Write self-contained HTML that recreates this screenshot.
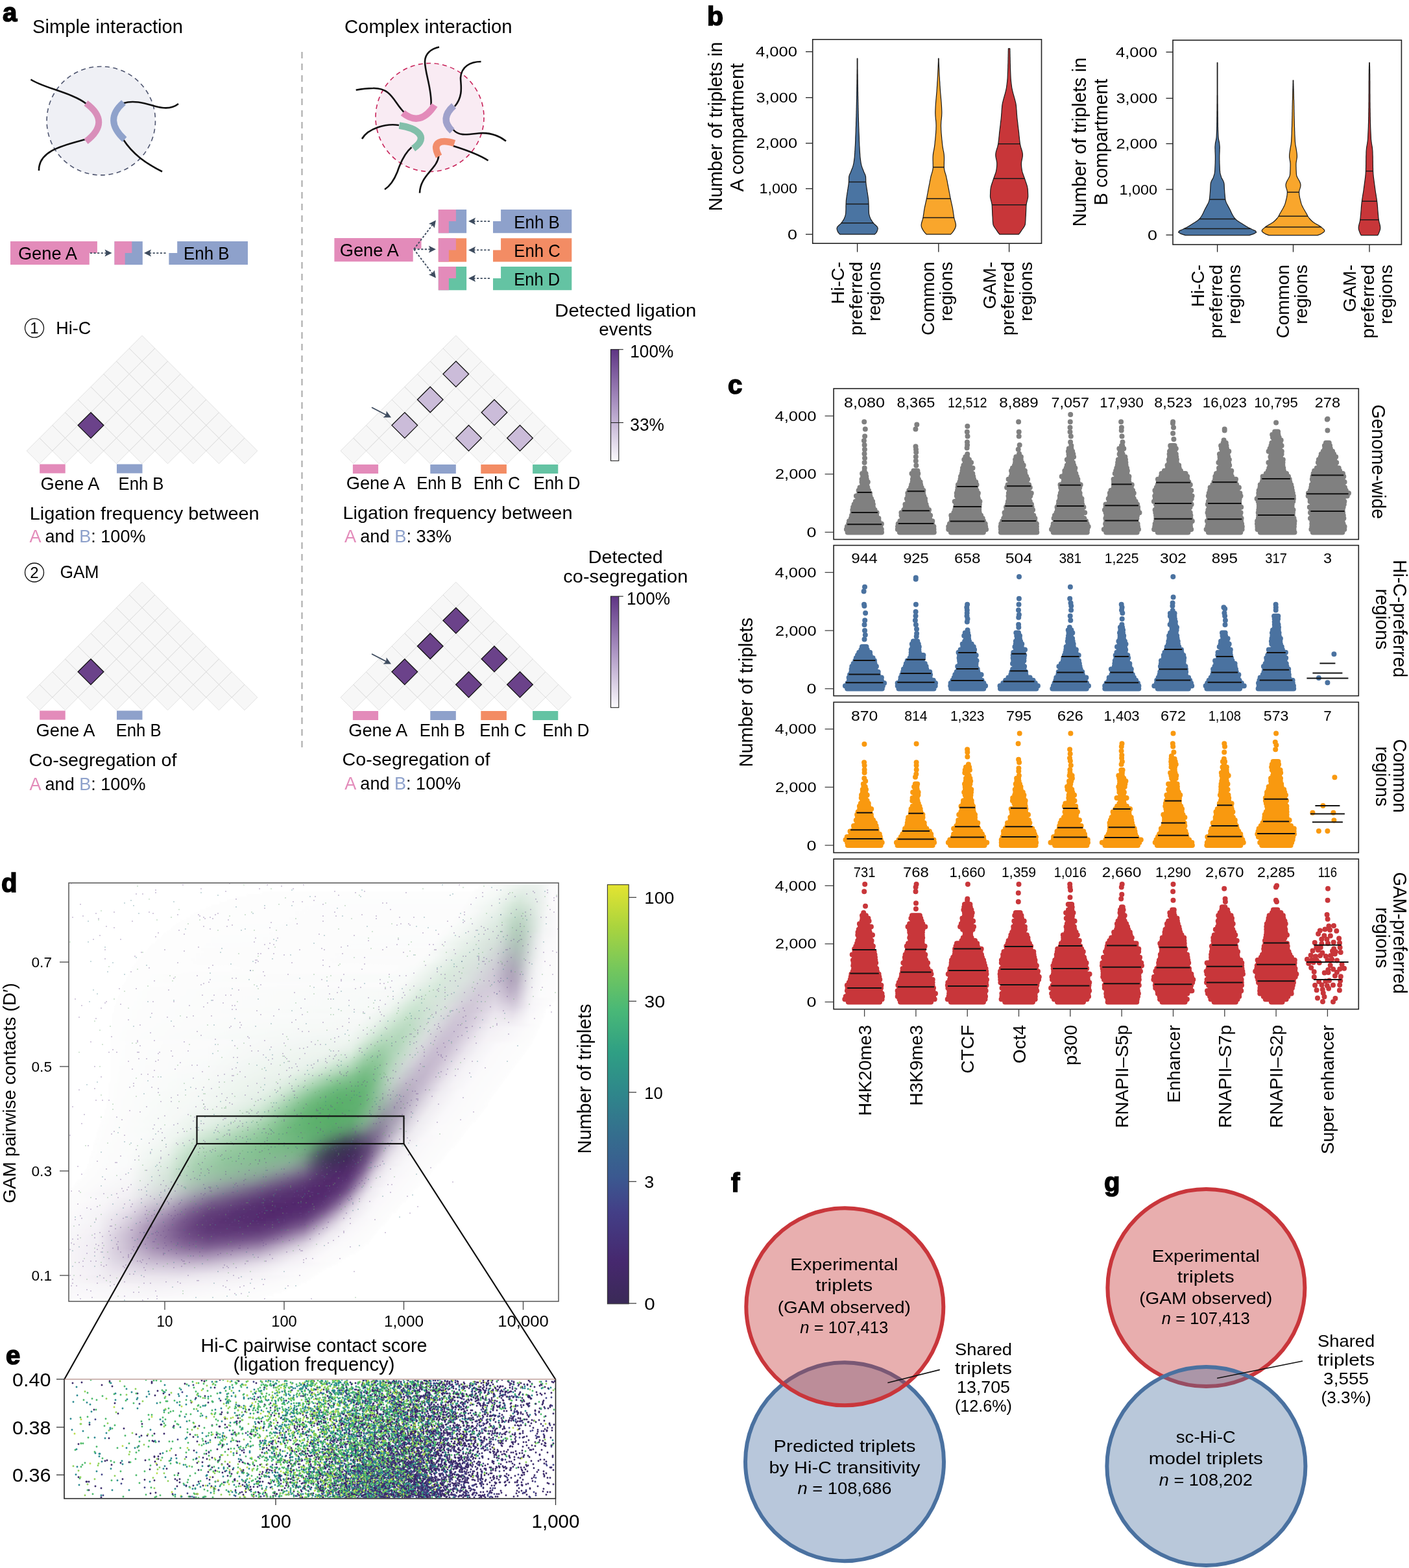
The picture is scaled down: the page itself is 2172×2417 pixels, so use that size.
<!DOCTYPE html><html><head><meta charset="utf-8"><title>Figure</title><style>html,body{margin:0;padding:0;background:#fff;overflow:hidden;width:2172px;height:2417px;}svg{display:block;}</style></head><body><svg width="2172" height="2417" viewBox="0 0 2172 2417" font-family="'Liberation Sans', Arial, sans-serif"><defs><filter id="bl" x="-2%" y="-2%" width="104%" height="104%"><feGaussianBlur stdDeviation="1.5"/></filter><clipPath id="cpd"><rect x="107" y="1362" width="753" height="643"/></clipPath><linearGradient id="d0"><stop offset="0.013" stop-color="#fdfdfd"/><stop offset="0.588" stop-color="#eaf2ed"/><stop offset="0.762" stop-color="#edf3ef"/><stop offset="0.912" stop-color="#fbfafb"/><stop offset="0.988" stop-color="#fcfbfc"/></linearGradient><linearGradient id="d1"><stop offset="0.012" stop-color="#fdfdfd"/><stop offset="0.256" stop-color="#f7faf8"/><stop offset="0.573" stop-color="#e8f1ea"/><stop offset="0.744" stop-color="#ebf1ed"/><stop offset="0.915" stop-color="#fbfafb"/><stop offset="0.988" stop-color="#fcfbfc"/></linearGradient><linearGradient id="d2"><stop offset="0.012" stop-color="#fdfdfd"/><stop offset="0.267" stop-color="#f7f9f8"/><stop offset="0.500" stop-color="#e7f1ea"/><stop offset="0.593" stop-color="#e5efe8"/><stop offset="0.756" stop-color="#e9f0ec"/><stop offset="0.919" stop-color="#fafafb"/><stop offset="0.988" stop-color="#fbfbfc"/></linearGradient><linearGradient id="d3"><stop offset="0.003" stop-color="#fdfdfd"/><stop offset="0.707" stop-color="#fdfdfd"/><stop offset="0.793" stop-color="#f5f9f6"/><stop offset="0.878" stop-color="#e2ede5"/><stop offset="0.931" stop-color="#e8efeb"/><stop offset="0.977" stop-color="#faf9fb"/><stop offset="0.997" stop-color="#fbfafc"/></linearGradient><linearGradient id="d4"><stop offset="0.003" stop-color="#fdfdfd"/><stop offset="0.716" stop-color="#fdfdfd"/><stop offset="0.803" stop-color="#f4f8f5"/><stop offset="0.859" stop-color="#e2eee5"/><stop offset="0.884" stop-color="#deebe2"/><stop offset="0.934" stop-color="#e7efea"/><stop offset="0.978" stop-color="#faf9fb"/><stop offset="0.997" stop-color="#fbfafc"/></linearGradient><linearGradient id="d5"><stop offset="0.003" stop-color="#fdfdfd"/><stop offset="0.720" stop-color="#fdfdfd"/><stop offset="0.804" stop-color="#f3f8f5"/><stop offset="0.864" stop-color="#deece2"/><stop offset="0.889" stop-color="#dbe9df"/><stop offset="0.937" stop-color="#e6eee9"/><stop offset="0.979" stop-color="#faf9fb"/><stop offset="0.997" stop-color="#fbfafc"/></linearGradient><linearGradient id="d6"><stop offset="0.003" stop-color="#fdfdfd"/><stop offset="0.726" stop-color="#fcfdfd"/><stop offset="0.815" stop-color="#f0f6f2"/><stop offset="0.885" stop-color="#d7e8dc"/><stop offset="0.938" stop-color="#e5ede8"/><stop offset="0.979" stop-color="#faf9fb"/><stop offset="0.997" stop-color="#fbfafc"/></linearGradient><linearGradient id="d7"><stop offset="0.003" stop-color="#fdfdfd"/><stop offset="0.727" stop-color="#fcfdfd"/><stop offset="0.819" stop-color="#eef5f0"/><stop offset="0.871" stop-color="#d7e8db"/><stop offset="0.888" stop-color="#d4e5d8"/><stop offset="0.940" stop-color="#e4ece7"/><stop offset="0.980" stop-color="#faf9fa"/><stop offset="0.997" stop-color="#fbfafb"/></linearGradient><linearGradient id="d8"><stop offset="0.003" stop-color="#fdfdfd"/><stop offset="0.728" stop-color="#fcfcfd"/><stop offset="0.823" stop-color="#ecf4ee"/><stop offset="0.874" stop-color="#d3e6d8"/><stop offset="0.890" stop-color="#d0e3d5"/><stop offset="0.913" stop-color="#d6e5da"/><stop offset="0.980" stop-color="#faf9fa"/><stop offset="0.997" stop-color="#fbfafb"/></linearGradient><linearGradient id="d9"><stop offset="0.003" stop-color="#fdfdfd"/><stop offset="0.727" stop-color="#fcfcfd"/><stop offset="0.820" stop-color="#ecf3ee"/><stop offset="0.876" stop-color="#cfe3d5"/><stop offset="0.892" stop-color="#cce1d2"/><stop offset="0.914" stop-color="#d3e3d8"/><stop offset="0.975" stop-color="#f7f7f8"/><stop offset="0.997" stop-color="#fbfafb"/></linearGradient><linearGradient id="d10"><stop offset="0.003" stop-color="#fdfdfd"/><stop offset="0.726" stop-color="#fcfcfc"/><stop offset="0.769" stop-color="#f7f9f8"/><stop offset="0.823" stop-color="#eaf2ec"/><stop offset="0.845" stop-color="#e1ede4"/><stop offset="0.878" stop-color="#cce1d1"/><stop offset="0.894" stop-color="#c8decf"/><stop offset="0.916" stop-color="#d1e1d6"/><stop offset="0.965" stop-color="#f2f5f4"/><stop offset="0.981" stop-color="#faf9fa"/><stop offset="0.997" stop-color="#fbfafb"/></linearGradient><linearGradient id="d11"><stop offset="0.003" stop-color="#fdfdfd"/><stop offset="0.725" stop-color="#fcfcfc"/><stop offset="0.767" stop-color="#f7f9f8"/><stop offset="0.826" stop-color="#e7f1ea"/><stop offset="0.848" stop-color="#deebe2"/><stop offset="0.880" stop-color="#c8dfce"/><stop offset="0.896" stop-color="#c5dccb"/><stop offset="0.912" stop-color="#cbded1"/><stop offset="0.965" stop-color="#f3f5f4"/><stop offset="0.997" stop-color="#fbf9fb"/></linearGradient><linearGradient id="d12"><stop offset="0.003" stop-color="#fdfdfd"/><stop offset="0.722" stop-color="#fcfcfc"/><stop offset="0.765" stop-color="#f6f9f7"/><stop offset="0.833" stop-color="#e3eee7"/><stop offset="0.892" stop-color="#c2dac9"/><stop offset="0.913" stop-color="#c9dccf"/><stop offset="0.966" stop-color="#f3f5f5"/><stop offset="0.997" stop-color="#fbf9fb"/></linearGradient><linearGradient id="d13"><stop offset="0.003" stop-color="#fdfdfd"/><stop offset="0.720" stop-color="#fcfcfc"/><stop offset="0.767" stop-color="#f5f8f6"/><stop offset="0.835" stop-color="#e1ede5"/><stop offset="0.877" stop-color="#c5dccb"/><stop offset="0.893" stop-color="#bfd8c6"/><stop offset="0.914" stop-color="#c6dacd"/><stop offset="0.966" stop-color="#f3f5f5"/><stop offset="0.997" stop-color="#faf9fb"/></linearGradient><linearGradient id="d14"><stop offset="0.003" stop-color="#fdfdfd"/><stop offset="0.719" stop-color="#fcfcfc"/><stop offset="0.765" stop-color="#f5f8f6"/><stop offset="0.838" stop-color="#dfebe3"/><stop offset="0.879" stop-color="#c2dac9"/><stop offset="0.894" stop-color="#bcd5c3"/><stop offset="0.915" stop-color="#c4d8cb"/><stop offset="0.966" stop-color="#f4f5f5"/><stop offset="0.997" stop-color="#faf9fb"/></linearGradient><linearGradient id="d15"><stop offset="0.003" stop-color="#fdfdfd"/><stop offset="0.717" stop-color="#fcfcfc"/><stop offset="0.763" stop-color="#f4f8f6"/><stop offset="0.839" stop-color="#ddeae1"/><stop offset="0.855" stop-color="#d5e5da"/><stop offset="0.880" stop-color="#c0d8c7"/><stop offset="0.895" stop-color="#b9d3c1"/><stop offset="0.911" stop-color="#bfd5c6"/><stop offset="0.967" stop-color="#f4f6f6"/><stop offset="0.997" stop-color="#faf9fb"/></linearGradient><linearGradient id="d16"><stop offset="0.003" stop-color="#fdfdfd"/><stop offset="0.715" stop-color="#fbfcfc"/><stop offset="0.765" stop-color="#f3f7f4"/><stop offset="0.841" stop-color="#dbe9df"/><stop offset="0.856" stop-color="#d3e3d8"/><stop offset="0.881" stop-color="#bdd5c5"/><stop offset="0.896" stop-color="#b7d1bf"/><stop offset="0.912" stop-color="#bdd3c5"/><stop offset="0.967" stop-color="#f5f6f6"/><stop offset="0.997" stop-color="#faf9fb"/></linearGradient><linearGradient id="d17"><stop offset="0.003" stop-color="#fdfdfd"/><stop offset="0.706" stop-color="#fcfcfc"/><stop offset="0.761" stop-color="#f2f7f4"/><stop offset="0.842" stop-color="#dae7de"/><stop offset="0.857" stop-color="#d1e1d7"/><stop offset="0.882" stop-color="#bbd3c3"/><stop offset="0.897" stop-color="#b5cfbd"/><stop offset="0.912" stop-color="#bcd2c3"/><stop offset="0.962" stop-color="#f2f3f4"/><stop offset="0.997" stop-color="#faf9fb"/></linearGradient><linearGradient id="d18"><stop offset="0.002" stop-color="#fdfdfd"/><stop offset="0.704" stop-color="#fcfcfc"/><stop offset="0.754" stop-color="#f3f7f4"/><stop offset="0.843" stop-color="#d8e5dd"/><stop offset="0.858" stop-color="#d0dfd5"/><stop offset="0.883" stop-color="#b9d1c1"/><stop offset="0.898" stop-color="#b3cdbc"/><stop offset="0.913" stop-color="#bbd0c3"/><stop offset="0.963" stop-color="#f2f4f4"/><stop offset="0.998" stop-color="#fbf9fb"/></linearGradient><linearGradient id="d19"><stop offset="0.002" stop-color="#fdfdfd"/><stop offset="0.702" stop-color="#fcfcfc"/><stop offset="0.746" stop-color="#f4f8f5"/><stop offset="0.840" stop-color="#d9e6dd"/><stop offset="0.860" stop-color="#ceddd4"/><stop offset="0.884" stop-color="#b8cec0"/><stop offset="0.899" stop-color="#b2cbbb"/><stop offset="0.914" stop-color="#bacfc2"/><stop offset="0.943" stop-color="#e0e6e4"/><stop offset="0.963" stop-color="#f3f4f5"/><stop offset="0.998" stop-color="#fbf9fb"/></linearGradient><linearGradient id="d20"><stop offset="0.002" stop-color="#fdfdfd"/><stop offset="0.699" stop-color="#fbfcfc"/><stop offset="0.767" stop-color="#ecf4ee"/><stop offset="0.841" stop-color="#d7e4dc"/><stop offset="0.860" stop-color="#cddbd3"/><stop offset="0.885" stop-color="#b6ccbf"/><stop offset="0.900" stop-color="#b1c9ba"/><stop offset="0.914" stop-color="#bacec2"/><stop offset="0.944" stop-color="#e1e6e5"/><stop offset="0.963" stop-color="#f4f4f5"/><stop offset="0.998" stop-color="#fbfafb"/></linearGradient><linearGradient id="d21"><stop offset="0.002" stop-color="#fdfdfd"/><stop offset="0.697" stop-color="#fbfcfc"/><stop offset="0.774" stop-color="#e9f2eb"/><stop offset="0.842" stop-color="#d6e2db"/><stop offset="0.862" stop-color="#cbd8d1"/><stop offset="0.886" stop-color="#b5c9be"/><stop offset="0.900" stop-color="#b0c7ba"/><stop offset="0.915" stop-color="#bacdc2"/><stop offset="0.944" stop-color="#e2e7e6"/><stop offset="0.959" stop-color="#f1f2f3"/><stop offset="0.968" stop-color="#f7f7f8"/><stop offset="0.998" stop-color="#fbfafb"/></linearGradient><linearGradient id="d22"><stop offset="0.002" stop-color="#fdfdfd"/><stop offset="0.693" stop-color="#fbfcfc"/><stop offset="0.775" stop-color="#e6f0e9"/><stop offset="0.843" stop-color="#d5e1da"/><stop offset="0.857" stop-color="#cdd9d4"/><stop offset="0.882" stop-color="#b8c9c1"/><stop offset="0.901" stop-color="#b0c5b9"/><stop offset="0.915" stop-color="#baccc2"/><stop offset="0.944" stop-color="#e3e8e7"/><stop offset="0.959" stop-color="#f1f2f3"/><stop offset="0.969" stop-color="#f7f7f8"/><stop offset="0.998" stop-color="#fbfafb"/></linearGradient><linearGradient id="d23"><stop offset="0.002" stop-color="#fdfdfd"/><stop offset="0.691" stop-color="#fbfbfc"/><stop offset="0.778" stop-color="#e4efe7"/><stop offset="0.844" stop-color="#d4dfd9"/><stop offset="0.859" stop-color="#ccd6d3"/><stop offset="0.883" stop-color="#b7c6c0"/><stop offset="0.897" stop-color="#afc2b9"/><stop offset="0.911" stop-color="#b6c8be"/><stop offset="0.945" stop-color="#e4e8e8"/><stop offset="0.959" stop-color="#f2f3f4"/><stop offset="0.969" stop-color="#f8f8f9"/><stop offset="0.998" stop-color="#fbfafb"/></linearGradient><linearGradient id="d24"><stop offset="0.002" stop-color="#fdfdfd"/><stop offset="0.683" stop-color="#fbfcfc"/><stop offset="0.717" stop-color="#f6f9f7"/><stop offset="0.779" stop-color="#e2eee6"/><stop offset="0.840" stop-color="#d5dfda"/><stop offset="0.860" stop-color="#cbd4d2"/><stop offset="0.883" stop-color="#b6c3bf"/><stop offset="0.898" stop-color="#afc0b9"/><stop offset="0.912" stop-color="#b6c7bf"/><stop offset="0.945" stop-color="#e6e9e9"/><stop offset="0.960" stop-color="#f3f4f5"/><stop offset="0.969" stop-color="#f8f8f9"/><stop offset="0.998" stop-color="#fbfafc"/></linearGradient><linearGradient id="d25"><stop offset="0.002" stop-color="#fdfdfd"/><stop offset="0.685" stop-color="#fbfbfb"/><stop offset="0.799" stop-color="#dce9e0"/><stop offset="0.841" stop-color="#d4ddd9"/><stop offset="0.860" stop-color="#cad1d1"/><stop offset="0.879" stop-color="#b9c2c2"/><stop offset="0.898" stop-color="#afbeb9"/><stop offset="0.912" stop-color="#b7c6c0"/><stop offset="0.941" stop-color="#e1e6e5"/><stop offset="0.955" stop-color="#f0f1f2"/><stop offset="0.969" stop-color="#f8f8f9"/><stop offset="0.998" stop-color="#fbfafc"/></linearGradient><linearGradient id="d26"><stop offset="0.002" stop-color="#fdfdfd"/><stop offset="0.682" stop-color="#fbfbfb"/><stop offset="0.767" stop-color="#e2eee5"/><stop offset="0.823" stop-color="#d8e3dd"/><stop offset="0.851" stop-color="#cfd5d5"/><stop offset="0.880" stop-color="#b7bfc1"/><stop offset="0.899" stop-color="#afbbb9"/><stop offset="0.913" stop-color="#b8c5c1"/><stop offset="0.941" stop-color="#e2e7e6"/><stop offset="0.955" stop-color="#f1f2f3"/><stop offset="0.969" stop-color="#f9f8fa"/><stop offset="0.998" stop-color="#fbfafc"/></linearGradient><linearGradient id="d27"><stop offset="0.002" stop-color="#fdfdfd"/><stop offset="0.675" stop-color="#fbfbfb"/><stop offset="0.708" stop-color="#f5f8f6"/><stop offset="0.764" stop-color="#e1ede4"/><stop offset="0.820" stop-color="#d8e3dd"/><stop offset="0.853" stop-color="#ced3d5"/><stop offset="0.881" stop-color="#b6bbc0"/><stop offset="0.895" stop-color="#afb7b9"/><stop offset="0.909" stop-color="#b4bfbd"/><stop offset="0.942" stop-color="#e4e8e7"/><stop offset="0.956" stop-color="#f2f3f4"/><stop offset="0.970" stop-color="#f9f9fa"/><stop offset="0.998" stop-color="#fbfafc"/></linearGradient><linearGradient id="d28"><stop offset="0.002" stop-color="#fdfdfd"/><stop offset="0.667" stop-color="#fbfbfc"/><stop offset="0.700" stop-color="#f6f9f7"/><stop offset="0.760" stop-color="#e0ede3"/><stop offset="0.816" stop-color="#d8e3dd"/><stop offset="0.849" stop-color="#d0d4d6"/><stop offset="0.881" stop-color="#b5b8bf"/><stop offset="0.895" stop-color="#aeb5b9"/><stop offset="0.909" stop-color="#b4bebe"/><stop offset="0.937" stop-color="#dfe4e3"/><stop offset="0.956" stop-color="#f3f3f5"/><stop offset="0.970" stop-color="#f9f9fa"/><stop offset="0.998" stop-color="#fbfafc"/></linearGradient><linearGradient id="d29"><stop offset="0.002" stop-color="#fdfdfd"/><stop offset="0.664" stop-color="#fbfbfb"/><stop offset="0.697" stop-color="#f6f9f7"/><stop offset="0.757" stop-color="#dfece3"/><stop offset="0.817" stop-color="#d8e1dd"/><stop offset="0.850" stop-color="#cfd1d6"/><stop offset="0.882" stop-color="#b4b4be"/><stop offset="0.896" stop-color="#aeb2b9"/><stop offset="0.910" stop-color="#b5bcbf"/><stop offset="0.938" stop-color="#e1e5e5"/><stop offset="0.951" stop-color="#f1f1f2"/><stop offset="0.970" stop-color="#faf9fa"/><stop offset="0.998" stop-color="#fbfbfc"/></linearGradient><linearGradient id="d30"><stop offset="0.002" stop-color="#fdfdfd"/><stop offset="0.661" stop-color="#fbfbfb"/><stop offset="0.698" stop-color="#f4f8f5"/><stop offset="0.753" stop-color="#deece2"/><stop offset="0.813" stop-color="#d8e1dd"/><stop offset="0.850" stop-color="#cecfd5"/><stop offset="0.882" stop-color="#b3b1be"/><stop offset="0.896" stop-color="#aeafb9"/><stop offset="0.910" stop-color="#b6bbc0"/><stop offset="0.933" stop-color="#dcdfe0"/><stop offset="0.947" stop-color="#eeeff0"/><stop offset="0.965" stop-color="#f9f8fa"/><stop offset="0.998" stop-color="#fcfbfc"/></linearGradient><linearGradient id="d31"><stop offset="0.002" stop-color="#fdfdfd"/><stop offset="0.622" stop-color="#fcfcfc"/><stop offset="0.672" stop-color="#f9faf9"/><stop offset="0.755" stop-color="#dcebe0"/><stop offset="0.814" stop-color="#d8dfdd"/><stop offset="0.851" stop-color="#cecdd5"/><stop offset="0.878" stop-color="#b6b2c0"/><stop offset="0.892" stop-color="#aeacb9"/><stop offset="0.901" stop-color="#afb0ba"/><stop offset="0.911" stop-color="#b7bac1"/><stop offset="0.933" stop-color="#dde0e2"/><stop offset="0.947" stop-color="#eff0f1"/><stop offset="0.966" stop-color="#f9f9fa"/><stop offset="0.998" stop-color="#fcfbfc"/></linearGradient><linearGradient id="d32"><stop offset="0.002" stop-color="#fdfdfd"/><stop offset="0.619" stop-color="#fcfcfc"/><stop offset="0.669" stop-color="#f8faf9"/><stop offset="0.751" stop-color="#dcebdf"/><stop offset="0.811" stop-color="#d8dfdd"/><stop offset="0.852" stop-color="#cdcbd4"/><stop offset="0.879" stop-color="#b5afc0"/><stop offset="0.893" stop-color="#aea9b9"/><stop offset="0.902" stop-color="#b0aebb"/><stop offset="0.911" stop-color="#b9bac2"/><stop offset="0.934" stop-color="#dfe1e3"/><stop offset="0.947" stop-color="#f0f1f2"/><stop offset="0.966" stop-color="#f9f9fa"/><stop offset="0.998" stop-color="#fcfbfc"/></linearGradient><linearGradient id="d33"><stop offset="0.002" stop-color="#fdfdfd"/><stop offset="0.614" stop-color="#fcfcfc"/><stop offset="0.664" stop-color="#f8faf9"/><stop offset="0.747" stop-color="#dbeadf"/><stop offset="0.806" stop-color="#d8dfdd"/><stop offset="0.847" stop-color="#cfcdd6"/><stop offset="0.879" stop-color="#b5adc0"/><stop offset="0.893" stop-color="#aea7b9"/><stop offset="0.906" stop-color="#b4b2bf"/><stop offset="0.934" stop-color="#e1e2e5"/><stop offset="0.947" stop-color="#f1f1f3"/><stop offset="0.966" stop-color="#faf9fb"/><stop offset="0.998" stop-color="#fcfbfc"/></linearGradient><linearGradient id="d34"><stop offset="0.002" stop-color="#fdfdfd"/><stop offset="0.611" stop-color="#fcfbfc"/><stop offset="0.661" stop-color="#f8faf9"/><stop offset="0.743" stop-color="#daeade"/><stop offset="0.802" stop-color="#d8dfdd"/><stop offset="0.848" stop-color="#cfcbd6"/><stop offset="0.880" stop-color="#b5acc0"/><stop offset="0.893" stop-color="#aea6ba"/><stop offset="0.907" stop-color="#b5b1c0"/><stop offset="0.934" stop-color="#e2e3e6"/><stop offset="0.948" stop-color="#f2f2f4"/><stop offset="0.966" stop-color="#faf9fb"/><stop offset="0.998" stop-color="#fcfbfc"/></linearGradient><linearGradient id="d35"><stop offset="0.002" stop-color="#fdfdfd"/><stop offset="0.654" stop-color="#f8faf9"/><stop offset="0.740" stop-color="#d9e9dd"/><stop offset="0.794" stop-color="#d9e1de"/><stop offset="0.848" stop-color="#cfcad6"/><stop offset="0.880" stop-color="#b5abc0"/><stop offset="0.894" stop-color="#afa5ba"/><stop offset="0.907" stop-color="#b7b1c1"/><stop offset="0.930" stop-color="#dddde2"/><stop offset="0.943" stop-color="#efeff1"/><stop offset="0.962" stop-color="#f9f9fa"/><stop offset="0.998" stop-color="#fcfbfd"/></linearGradient><linearGradient id="d36"><stop offset="0.002" stop-color="#fdfdfd"/><stop offset="0.651" stop-color="#f8faf9"/><stop offset="0.736" stop-color="#d9e9dd"/><stop offset="0.791" stop-color="#d9e1de"/><stop offset="0.849" stop-color="#cfc9d6"/><stop offset="0.881" stop-color="#b6abc1"/><stop offset="0.894" stop-color="#b0a5bb"/><stop offset="0.908" stop-color="#b9b2c3"/><stop offset="0.930" stop-color="#dfdee3"/><stop offset="0.944" stop-color="#f0f0f2"/><stop offset="0.962" stop-color="#faf9fb"/><stop offset="0.998" stop-color="#fcfcfd"/></linearGradient><linearGradient id="d37"><stop offset="0.002" stop-color="#fdfdfd"/><stop offset="0.646" stop-color="#f8faf9"/><stop offset="0.732" stop-color="#d8e9dc"/><stop offset="0.786" stop-color="#d9e1de"/><stop offset="0.849" stop-color="#d0c9d6"/><stop offset="0.890" stop-color="#b2a6bd"/><stop offset="0.899" stop-color="#b3a8be"/><stop offset="0.908" stop-color="#bbb3c4"/><stop offset="0.930" stop-color="#e1dfe5"/><stop offset="0.944" stop-color="#f1f1f3"/><stop offset="0.962" stop-color="#faf9fb"/><stop offset="0.998" stop-color="#fcfcfd"/></linearGradient><linearGradient id="d38"><stop offset="0.002" stop-color="#fdfdfd"/><stop offset="0.594" stop-color="#fbfbfc"/><stop offset="0.643" stop-color="#f8f9f8"/><stop offset="0.724" stop-color="#d8e9dc"/><stop offset="0.783" stop-color="#d9e0de"/><stop offset="0.854" stop-color="#cfc7d6"/><stop offset="0.890" stop-color="#b4a7bf"/><stop offset="0.904" stop-color="#b8aec2"/><stop offset="0.930" stop-color="#e2e0e6"/><stop offset="0.944" stop-color="#f2f2f4"/><stop offset="0.962" stop-color="#fafafb"/><stop offset="0.998" stop-color="#fcfcfd"/></linearGradient><linearGradient id="d39"><stop offset="0.002" stop-color="#fdfdfd"/><stop offset="0.587" stop-color="#fbfbfb"/><stop offset="0.641" stop-color="#f7f9f8"/><stop offset="0.721" stop-color="#d7e9dc"/><stop offset="0.779" stop-color="#d9e0de"/><stop offset="0.819" stop-color="#d3cfd9"/><stop offset="0.855" stop-color="#d0c8d7"/><stop offset="0.891" stop-color="#b7aac1"/><stop offset="0.904" stop-color="#bbb0c5"/><stop offset="0.931" stop-color="#e4e2e8"/><stop offset="0.944" stop-color="#f3f2f5"/><stop offset="0.962" stop-color="#fbfafb"/><stop offset="0.998" stop-color="#fdfcfd"/></linearGradient><linearGradient id="d40"><stop offset="0.002" stop-color="#fdfdfd"/><stop offset="0.632" stop-color="#f8f9f9"/><stop offset="0.690" stop-color="#dfede2"/><stop offset="0.721" stop-color="#d6e8da"/><stop offset="0.766" stop-color="#d9e3dd"/><stop offset="0.815" stop-color="#d3cfd9"/><stop offset="0.850" stop-color="#d3cad9"/><stop offset="0.864" stop-color="#cdc4d5"/><stop offset="0.891" stop-color="#baadc4"/><stop offset="0.904" stop-color="#beb3c8"/><stop offset="0.931" stop-color="#e6e3ea"/><stop offset="0.944" stop-color="#f4f3f6"/><stop offset="0.962" stop-color="#fbfafc"/><stop offset="0.998" stop-color="#fdfcfd"/></linearGradient><linearGradient id="d41"><stop offset="0.002" stop-color="#fdfdfd"/><stop offset="0.629" stop-color="#f7f9f8"/><stop offset="0.651" stop-color="#f0f6f2"/><stop offset="0.687" stop-color="#ddece0"/><stop offset="0.718" stop-color="#d5e7d9"/><stop offset="0.767" stop-color="#d9e1de"/><stop offset="0.820" stop-color="#d2ccd9"/><stop offset="0.856" stop-color="#d3cbda"/><stop offset="0.891" stop-color="#bdb0c7"/><stop offset="0.904" stop-color="#c1b7cb"/><stop offset="0.931" stop-color="#e8e5eb"/><stop offset="0.944" stop-color="#f5f4f6"/><stop offset="0.962" stop-color="#fbfbfc"/><stop offset="0.998" stop-color="#fdfcfd"/></linearGradient><linearGradient id="d42"><stop offset="0.002" stop-color="#fdfdfd"/><stop offset="0.620" stop-color="#f8f9f8"/><stop offset="0.647" stop-color="#eff6f1"/><stop offset="0.691" stop-color="#d8eadc"/><stop offset="0.722" stop-color="#d3e6d8"/><stop offset="0.758" stop-color="#d8e2dd"/><stop offset="0.816" stop-color="#d2cbd8"/><stop offset="0.856" stop-color="#d6cddc"/><stop offset="0.891" stop-color="#c1b5ca"/><stop offset="0.904" stop-color="#c5bbce"/><stop offset="0.931" stop-color="#eae7ed"/><stop offset="0.944" stop-color="#f6f5f7"/><stop offset="0.962" stop-color="#fbfbfc"/><stop offset="0.998" stop-color="#fdfcfd"/></linearGradient><linearGradient id="d43"><stop offset="0.002" stop-color="#fdfdfd"/><stop offset="0.617" stop-color="#f7f9f8"/><stop offset="0.644" stop-color="#eff5f1"/><stop offset="0.692" stop-color="#d5e8d9"/><stop offset="0.723" stop-color="#d3e5d8"/><stop offset="0.754" stop-color="#d8e2dd"/><stop offset="0.812" stop-color="#d1cbd8"/><stop offset="0.856" stop-color="#d8d0de"/><stop offset="0.892" stop-color="#c5b9ce"/><stop offset="0.905" stop-color="#c9bfd1"/><stop offset="0.931" stop-color="#ebe9ee"/><stop offset="0.945" stop-color="#f7f5f8"/><stop offset="0.962" stop-color="#fcfbfc"/><stop offset="0.998" stop-color="#fdfcfd"/></linearGradient><linearGradient id="d44"><stop offset="0.002" stop-color="#fdfdfd"/><stop offset="0.608" stop-color="#f7f9f8"/><stop offset="0.635" stop-color="#f0f6f2"/><stop offset="0.688" stop-color="#d3e7d7"/><stop offset="0.750" stop-color="#d8e2dd"/><stop offset="0.812" stop-color="#d1c9d8"/><stop offset="0.856" stop-color="#dad3e0"/><stop offset="0.892" stop-color="#cabfd2"/><stop offset="0.905" stop-color="#cec4d5"/><stop offset="0.931" stop-color="#edebf0"/><stop offset="0.945" stop-color="#f7f6f8"/><stop offset="0.998" stop-color="#fdfdfd"/></linearGradient><linearGradient id="d45"><stop offset="0.002" stop-color="#fdfdfd"/><stop offset="0.607" stop-color="#f7f9f8"/><stop offset="0.638" stop-color="#eff5f1"/><stop offset="0.678" stop-color="#d6e9da"/><stop offset="0.696" stop-color="#d0e6d5"/><stop offset="0.753" stop-color="#d8e2dc"/><stop offset="0.816" stop-color="#d1c9d8"/><stop offset="0.864" stop-color="#ddd6e2"/><stop offset="0.900" stop-color="#cfc4d6"/><stop offset="0.913" stop-color="#d2c9d9"/><stop offset="0.940" stop-color="#efecf1"/><stop offset="0.953" stop-color="#f8f7f9"/><stop offset="0.998" stop-color="#fdfdfd"/></linearGradient><linearGradient id="d46"><stop offset="0.002" stop-color="#fdfdfd"/><stop offset="0.605" stop-color="#f7f9f8"/><stop offset="0.636" stop-color="#eef5f0"/><stop offset="0.676" stop-color="#d4e8d9"/><stop offset="0.694" stop-color="#cee5d3"/><stop offset="0.752" stop-color="#d8e2dc"/><stop offset="0.775" stop-color="#d8d9dd"/><stop offset="0.801" stop-color="#d2cbd8"/><stop offset="0.819" stop-color="#d1c8d7"/><stop offset="0.868" stop-color="#e0d9e5"/><stop offset="0.908" stop-color="#d3cada"/><stop offset="0.917" stop-color="#d7cfdd"/><stop offset="0.953" stop-color="#f7f5f8"/><stop offset="0.998" stop-color="#fdfdfd"/></linearGradient><linearGradient id="d47"><stop offset="0.002" stop-color="#fdfdfd"/><stop offset="0.600" stop-color="#f7f9f8"/><stop offset="0.632" stop-color="#eff5f1"/><stop offset="0.676" stop-color="#d3e7d7"/><stop offset="0.694" stop-color="#cbe4d1"/><stop offset="0.752" stop-color="#d7e2dc"/><stop offset="0.775" stop-color="#d8d9dd"/><stop offset="0.801" stop-color="#d1cbd8"/><stop offset="0.819" stop-color="#d0c7d7"/><stop offset="0.873" stop-color="#e3dce7"/><stop offset="0.913" stop-color="#d8d0de"/><stop offset="0.922" stop-color="#dbd4e1"/><stop offset="0.958" stop-color="#f8f6f9"/><stop offset="0.998" stop-color="#fdfdfd"/></linearGradient><linearGradient id="d48"><stop offset="0.002" stop-color="#fdfdfd"/><stop offset="0.601" stop-color="#f6f9f7"/><stop offset="0.637" stop-color="#ecf4ee"/><stop offset="0.678" stop-color="#d1e7d6"/><stop offset="0.696" stop-color="#c9e3cf"/><stop offset="0.755" stop-color="#d7e2dc"/><stop offset="0.777" stop-color="#d8d9dd"/><stop offset="0.804" stop-color="#d1cad8"/><stop offset="0.822" stop-color="#d0c7d7"/><stop offset="0.840" stop-color="#d4cbdb"/><stop offset="0.881" stop-color="#e5dfe9"/><stop offset="0.917" stop-color="#ddd5e2"/><stop offset="0.926" stop-color="#ded7e3"/><stop offset="0.962" stop-color="#f6f5f8"/><stop offset="0.998" stop-color="#fdfdfd"/></linearGradient><linearGradient id="d49"><stop offset="0.002" stop-color="#fdfdfd"/><stop offset="0.597" stop-color="#f6f8f7"/><stop offset="0.637" stop-color="#e9f2eb"/><stop offset="0.673" stop-color="#cfe6d4"/><stop offset="0.691" stop-color="#c7e2cd"/><stop offset="0.705" stop-color="#c7e1cd"/><stop offset="0.750" stop-color="#d7e2dc"/><stop offset="0.773" stop-color="#d8d9dd"/><stop offset="0.800" stop-color="#d1cad7"/><stop offset="0.818" stop-color="#cfc6d6"/><stop offset="0.836" stop-color="#d4cada"/><stop offset="0.881" stop-color="#e8e3eb"/><stop offset="0.926" stop-color="#e2dce7"/><stop offset="0.962" stop-color="#f7f6f9"/><stop offset="0.998" stop-color="#fdfdfd"/></linearGradient><linearGradient id="d50"><stop offset="0.002" stop-color="#fdfdfd"/><stop offset="0.583" stop-color="#f7f9f8"/><stop offset="0.624" stop-color="#edf4ef"/><stop offset="0.678" stop-color="#cbe4d0"/><stop offset="0.696" stop-color="#c5e0cb"/><stop offset="0.709" stop-color="#c7e0cd"/><stop offset="0.732" stop-color="#d2e3d7"/><stop offset="0.759" stop-color="#d8dfdd"/><stop offset="0.800" stop-color="#d0c9d7"/><stop offset="0.822" stop-color="#cfc6d6"/><stop offset="0.881" stop-color="#e9e4ed"/><stop offset="0.894" stop-color="#ebe6ee"/><stop offset="0.926" stop-color="#e6e0e9"/><stop offset="0.966" stop-color="#f8f7f9"/><stop offset="0.998" stop-color="#fdfdfd"/></linearGradient><linearGradient id="d51"><stop offset="0.002" stop-color="#fdfdfd"/><stop offset="0.579" stop-color="#f7f9f8"/><stop offset="0.619" stop-color="#ecf4ee"/><stop offset="0.673" stop-color="#c9e3ce"/><stop offset="0.691" stop-color="#c3dfc9"/><stop offset="0.709" stop-color="#c6e0cc"/><stop offset="0.732" stop-color="#d3e3d8"/><stop offset="0.755" stop-color="#d8dfdd"/><stop offset="0.795" stop-color="#d0c8d7"/><stop offset="0.818" stop-color="#cfc5d6"/><stop offset="0.836" stop-color="#d5cbdb"/><stop offset="0.881" stop-color="#ebe7ee"/><stop offset="0.926" stop-color="#e9e4ed"/><stop offset="0.966" stop-color="#f9f8fa"/><stop offset="0.998" stop-color="#fdfdfd"/></linearGradient><linearGradient id="d52"><stop offset="0.002" stop-color="#fdfdfd"/><stop offset="0.577" stop-color="#f6f8f7"/><stop offset="0.613" stop-color="#edf4ef"/><stop offset="0.672" stop-color="#c7e2cd"/><stop offset="0.695" stop-color="#c0dec7"/><stop offset="0.749" stop-color="#d7e0dc"/><stop offset="0.794" stop-color="#d0c8d7"/><stop offset="0.817" stop-color="#cec4d6"/><stop offset="0.835" stop-color="#d4cbdb"/><stop offset="0.885" stop-color="#eeeaf0"/><stop offset="0.930" stop-color="#ede9ef"/><stop offset="0.971" stop-color="#faf9fb"/><stop offset="0.998" stop-color="#fdfdfd"/></linearGradient><linearGradient id="d53"><stop offset="0.002" stop-color="#fdfdfd"/><stop offset="0.572" stop-color="#f6f8f7"/><stop offset="0.604" stop-color="#eef5f0"/><stop offset="0.667" stop-color="#c5e1cb"/><stop offset="0.690" stop-color="#beddc5"/><stop offset="0.744" stop-color="#d7e0dc"/><stop offset="0.762" stop-color="#d7d8dd"/><stop offset="0.794" stop-color="#cec5d5"/><stop offset="0.812" stop-color="#cec3d5"/><stop offset="0.830" stop-color="#d4cada"/><stop offset="0.885" stop-color="#efecf2"/><stop offset="0.930" stop-color="#f0ecf2"/><stop offset="0.971" stop-color="#fbfafb"/><stop offset="0.998" stop-color="#fdfdfd"/></linearGradient><linearGradient id="d54"><stop offset="0.002" stop-color="#fdfdfd"/><stop offset="0.570" stop-color="#f5f8f6"/><stop offset="0.602" stop-color="#edf4ef"/><stop offset="0.666" stop-color="#c3e0c9"/><stop offset="0.689" stop-color="#bcdcc3"/><stop offset="0.702" stop-color="#c0ddc7"/><stop offset="0.743" stop-color="#d7e0dc"/><stop offset="0.761" stop-color="#d7d8dc"/><stop offset="0.793" stop-color="#cec5d5"/><stop offset="0.811" stop-color="#cdc3d5"/><stop offset="0.830" stop-color="#d3cada"/><stop offset="0.870" stop-color="#ebe6ee"/><stop offset="0.889" stop-color="#f1eef3"/><stop offset="0.939" stop-color="#f3f0f5"/><stop offset="0.998" stop-color="#fdfdfd"/></linearGradient><linearGradient id="d55"><stop offset="0.002" stop-color="#fdfdfd"/><stop offset="0.563" stop-color="#f5f8f6"/><stop offset="0.600" stop-color="#ecf4ee"/><stop offset="0.663" stop-color="#c1dfc7"/><stop offset="0.686" stop-color="#badbc2"/><stop offset="0.704" stop-color="#c0ddc7"/><stop offset="0.740" stop-color="#d7e0dc"/><stop offset="0.758" stop-color="#d7d8dc"/><stop offset="0.790" stop-color="#cdc4d5"/><stop offset="0.808" stop-color="#cdc2d4"/><stop offset="0.826" stop-color="#d3c9d9"/><stop offset="0.885" stop-color="#f2eff4"/><stop offset="0.998" stop-color="#fdfdfd"/></linearGradient><linearGradient id="d56"><stop offset="0.002" stop-color="#fdfdfd"/><stop offset="0.566" stop-color="#f4f7f5"/><stop offset="0.598" stop-color="#eaf3ed"/><stop offset="0.643" stop-color="#c9e3cf"/><stop offset="0.670" stop-color="#badcc2"/><stop offset="0.684" stop-color="#b8dac0"/><stop offset="0.698" stop-color="#bcdbc3"/><stop offset="0.743" stop-color="#d8dedd"/><stop offset="0.789" stop-color="#cdc4d4"/><stop offset="0.807" stop-color="#ccc1d4"/><stop offset="0.825" stop-color="#d2c8d9"/><stop offset="0.866" stop-color="#eae6ee"/><stop offset="0.889" stop-color="#f3f0f5"/><stop offset="0.998" stop-color="#fdfdfd"/></linearGradient><linearGradient id="d57"><stop offset="0.002" stop-color="#fdfdfd"/><stop offset="0.564" stop-color="#f3f7f5"/><stop offset="0.600" stop-color="#e6f1e9"/><stop offset="0.646" stop-color="#c3e0c9"/><stop offset="0.683" stop-color="#b6d9be"/><stop offset="0.701" stop-color="#bddbc4"/><stop offset="0.742" stop-color="#d7dedc"/><stop offset="0.788" stop-color="#cdc3d4"/><stop offset="0.806" stop-color="#cbc0d3"/><stop offset="0.824" stop-color="#d2c8d9"/><stop offset="0.865" stop-color="#eae6ed"/><stop offset="0.888" stop-color="#f3f1f5"/><stop offset="0.998" stop-color="#fdfdfd"/></linearGradient><linearGradient id="d58"><stop offset="0.002" stop-color="#fdfdfd"/><stop offset="0.564" stop-color="#f2f7f4"/><stop offset="0.596" stop-color="#e5f0e8"/><stop offset="0.642" stop-color="#bfdec6"/><stop offset="0.678" stop-color="#b4d8bc"/><stop offset="0.696" stop-color="#bbdac2"/><stop offset="0.724" stop-color="#cfdfd5"/><stop offset="0.742" stop-color="#d7dcdc"/><stop offset="0.783" stop-color="#ccc3d4"/><stop offset="0.801" stop-color="#cbc0d3"/><stop offset="0.820" stop-color="#d1c7d8"/><stop offset="0.861" stop-color="#eae5ed"/><stop offset="0.884" stop-color="#f3f1f5"/><stop offset="0.998" stop-color="#fdfdfd"/></linearGradient><linearGradient id="d59"><stop offset="0.002" stop-color="#fdfdfd"/><stop offset="0.562" stop-color="#f1f6f3"/><stop offset="0.589" stop-color="#e7f1e9"/><stop offset="0.640" stop-color="#bbddc2"/><stop offset="0.677" stop-color="#b3d8bb"/><stop offset="0.695" stop-color="#b9d9c1"/><stop offset="0.722" stop-color="#cedfd4"/><stop offset="0.741" stop-color="#d7dcdc"/><stop offset="0.782" stop-color="#ccc2d3"/><stop offset="0.800" stop-color="#cabfd2"/><stop offset="0.819" stop-color="#d1c7d8"/><stop offset="0.860" stop-color="#eae5ed"/><stop offset="0.888" stop-color="#f5f2f6"/><stop offset="0.998" stop-color="#fdfdfd"/></linearGradient><linearGradient id="d60"><stop offset="0.002" stop-color="#fdfdfd"/><stop offset="0.265" stop-color="#fafafb"/><stop offset="0.565" stop-color="#eff5f1"/><stop offset="0.592" stop-color="#e2efe5"/><stop offset="0.643" stop-color="#b5d9bc"/><stop offset="0.671" stop-color="#b1d7b9"/><stop offset="0.689" stop-color="#b5d8bd"/><stop offset="0.721" stop-color="#cdded3"/><stop offset="0.740" stop-color="#d6dcdb"/><stop offset="0.753" stop-color="#d5d4db"/><stop offset="0.781" stop-color="#cbc2d3"/><stop offset="0.800" stop-color="#cabfd2"/><stop offset="0.818" stop-color="#d0c6d7"/><stop offset="0.859" stop-color="#eae5ed"/><stop offset="0.887" stop-color="#f5f2f6"/><stop offset="0.998" stop-color="#fdfdfd"/></linearGradient><linearGradient id="d61"><stop offset="0.002" stop-color="#fdfdfd"/><stop offset="0.260" stop-color="#fafafb"/><stop offset="0.555" stop-color="#eef5f0"/><stop offset="0.583" stop-color="#e4f0e7"/><stop offset="0.634" stop-color="#b4d9bb"/><stop offset="0.652" stop-color="#add6b6"/><stop offset="0.684" stop-color="#b3d7bb"/><stop offset="0.717" stop-color="#ccded2"/><stop offset="0.735" stop-color="#d5dbdb"/><stop offset="0.749" stop-color="#d5d4db"/><stop offset="0.776" stop-color="#cbc1d3"/><stop offset="0.795" stop-color="#c9bed2"/><stop offset="0.813" stop-color="#d0c5d7"/><stop offset="0.855" stop-color="#eae5ed"/><stop offset="0.882" stop-color="#f4f2f6"/><stop offset="0.915" stop-color="#f9f8fa"/><stop offset="0.998" stop-color="#fdfdfd"/></linearGradient><linearGradient id="d62"><stop offset="0.002" stop-color="#fdfdfd"/><stop offset="0.257" stop-color="#fafafa"/><stop offset="0.544" stop-color="#eef4f0"/><stop offset="0.576" stop-color="#e6f1e9"/><stop offset="0.632" stop-color="#b0d7b8"/><stop offset="0.650" stop-color="#a8d3b1"/><stop offset="0.683" stop-color="#b1d6b9"/><stop offset="0.715" stop-color="#cbddd1"/><stop offset="0.734" stop-color="#d5dbda"/><stop offset="0.748" stop-color="#d5d4db"/><stop offset="0.775" stop-color="#cbc1d2"/><stop offset="0.794" stop-color="#c9bdd1"/><stop offset="0.812" stop-color="#cfc5d7"/><stop offset="0.854" stop-color="#eae5ed"/><stop offset="0.882" stop-color="#f4f2f6"/><stop offset="0.919" stop-color="#faf9fb"/><stop offset="0.998" stop-color="#fdfdfd"/></linearGradient><linearGradient id="d63"><stop offset="0.002" stop-color="#fdfdfd"/><stop offset="0.253" stop-color="#fafafa"/><stop offset="0.533" stop-color="#edf4ef"/><stop offset="0.574" stop-color="#e5f0e8"/><stop offset="0.588" stop-color="#daebde"/><stop offset="0.630" stop-color="#acd6b5"/><stop offset="0.649" stop-color="#a4d1ad"/><stop offset="0.681" stop-color="#afd5b8"/><stop offset="0.714" stop-color="#c9dccf"/><stop offset="0.733" stop-color="#d4dbd9"/><stop offset="0.747" stop-color="#d4d3da"/><stop offset="0.774" stop-color="#cac0d2"/><stop offset="0.793" stop-color="#c8bdd1"/><stop offset="0.812" stop-color="#cfc4d6"/><stop offset="0.853" stop-color="#e9e5ed"/><stop offset="0.881" stop-color="#f4f2f6"/><stop offset="0.919" stop-color="#faf9fb"/><stop offset="0.998" stop-color="#fdfdfd"/></linearGradient><linearGradient id="d64"><stop offset="0.002" stop-color="#fdfdfd"/><stop offset="0.250" stop-color="#f9fafa"/><stop offset="0.526" stop-color="#ecf4ef"/><stop offset="0.577" stop-color="#e0eee3"/><stop offset="0.624" stop-color="#add6b5"/><stop offset="0.647" stop-color="#9fcfa9"/><stop offset="0.657" stop-color="#a0cfaa"/><stop offset="0.685" stop-color="#b0d5b9"/><stop offset="0.713" stop-color="#c8dcce"/><stop offset="0.731" stop-color="#d3dad9"/><stop offset="0.745" stop-color="#d4d3da"/><stop offset="0.773" stop-color="#cac0d2"/><stop offset="0.792" stop-color="#c8bcd0"/><stop offset="0.811" stop-color="#cec3d6"/><stop offset="0.853" stop-color="#e9e4ed"/><stop offset="0.881" stop-color="#f4f2f6"/><stop offset="0.918" stop-color="#faf9fb"/><stop offset="0.998" stop-color="#fdfdfd"/></linearGradient><linearGradient id="d65"><stop offset="0.002" stop-color="#fdfdfd"/><stop offset="0.251" stop-color="#f9fafa"/><stop offset="0.519" stop-color="#ecf3ee"/><stop offset="0.580" stop-color="#daebde"/><stop offset="0.622" stop-color="#a9d4b2"/><stop offset="0.636" stop-color="#9ecfa8"/><stop offset="0.650" stop-color="#9bcda5"/><stop offset="0.664" stop-color="#a0cfaa"/><stop offset="0.707" stop-color="#c3dbc9"/><stop offset="0.730" stop-color="#d2dad8"/><stop offset="0.744" stop-color="#d3d3d9"/><stop offset="0.772" stop-color="#c9c0d1"/><stop offset="0.791" stop-color="#c7bbd0"/><stop offset="0.810" stop-color="#cec3d5"/><stop offset="0.852" stop-color="#e9e4ec"/><stop offset="0.880" stop-color="#f4f2f6"/><stop offset="0.918" stop-color="#faf9fb"/><stop offset="0.998" stop-color="#fdfdfd"/></linearGradient><linearGradient id="d66"><stop offset="0.002" stop-color="#fdfdfd"/><stop offset="0.252" stop-color="#f9fafa"/><stop offset="0.512" stop-color="#ebf3ed"/><stop offset="0.583" stop-color="#d3e8d8"/><stop offset="0.620" stop-color="#a5d2ae"/><stop offset="0.634" stop-color="#9acda5"/><stop offset="0.649" stop-color="#96cba1"/><stop offset="0.663" stop-color="#9bcda6"/><stop offset="0.705" stop-color="#c1dac8"/><stop offset="0.729" stop-color="#d1d9d7"/><stop offset="0.743" stop-color="#d3d3d9"/><stop offset="0.771" stop-color="#c9bfd1"/><stop offset="0.790" stop-color="#c7bbcf"/><stop offset="0.809" stop-color="#cdc2d5"/><stop offset="0.851" stop-color="#e9e4ec"/><stop offset="0.880" stop-color="#f4f2f6"/><stop offset="0.917" stop-color="#faf9fb"/><stop offset="0.998" stop-color="#fdfdfd"/></linearGradient><linearGradient id="d67"><stop offset="0.002" stop-color="#fdfdfd"/><stop offset="0.249" stop-color="#f9faf9"/><stop offset="0.500" stop-color="#eaf3ed"/><stop offset="0.538" stop-color="#e1efe4"/><stop offset="0.581" stop-color="#cfe6d4"/><stop offset="0.618" stop-color="#a1d0ab"/><stop offset="0.633" stop-color="#96cba1"/><stop offset="0.647" stop-color="#92c99d"/><stop offset="0.666" stop-color="#9acca4"/><stop offset="0.704" stop-color="#c0d9c7"/><stop offset="0.727" stop-color="#d0d9d6"/><stop offset="0.742" stop-color="#d2d2d8"/><stop offset="0.770" stop-color="#c9bfd1"/><stop offset="0.789" stop-color="#c6bacf"/><stop offset="0.808" stop-color="#cdc2d4"/><stop offset="0.851" stop-color="#e9e4ec"/><stop offset="0.879" stop-color="#f4f2f6"/><stop offset="0.917" stop-color="#faf9fb"/><stop offset="0.998" stop-color="#fdfdfd"/></linearGradient><linearGradient id="d68"><stop offset="0.002" stop-color="#fdfdfd"/><stop offset="0.250" stop-color="#f8faf9"/><stop offset="0.493" stop-color="#e9f2ec"/><stop offset="0.536" stop-color="#deede1"/><stop offset="0.583" stop-color="#c6e2cc"/><stop offset="0.621" stop-color="#98cca3"/><stop offset="0.645" stop-color="#8dc799"/><stop offset="0.664" stop-color="#95caa0"/><stop offset="0.702" stop-color="#bed8c5"/><stop offset="0.726" stop-color="#cfd8d5"/><stop offset="0.745" stop-color="#d0cfd7"/><stop offset="0.769" stop-color="#c8bed0"/><stop offset="0.788" stop-color="#c6bace"/><stop offset="0.807" stop-color="#ccc1d4"/><stop offset="0.850" stop-color="#e9e4ec"/><stop offset="0.879" stop-color="#f4f2f6"/><stop offset="0.921" stop-color="#faf9fb"/><stop offset="0.998" stop-color="#fdfdfd"/></linearGradient><linearGradient id="d69"><stop offset="0.002" stop-color="#fdfdfd"/><stop offset="0.246" stop-color="#f8faf9"/><stop offset="0.481" stop-color="#e9f2ec"/><stop offset="0.529" stop-color="#dcece0"/><stop offset="0.586" stop-color="#bddec4"/><stop offset="0.620" stop-color="#95cba0"/><stop offset="0.644" stop-color="#89c595"/><stop offset="0.663" stop-color="#90c79b"/><stop offset="0.701" stop-color="#bcd7c3"/><stop offset="0.725" stop-color="#ced7d4"/><stop offset="0.744" stop-color="#cfced6"/><stop offset="0.768" stop-color="#c7bed0"/><stop offset="0.787" stop-color="#c5b9ce"/><stop offset="0.806" stop-color="#ccc0d3"/><stop offset="0.849" stop-color="#e9e4ec"/><stop offset="0.878" stop-color="#f4f2f6"/><stop offset="0.921" stop-color="#faf9fb"/><stop offset="0.998" stop-color="#fdfdfd"/></linearGradient><linearGradient id="d70"><stop offset="0.002" stop-color="#fdfdfd"/><stop offset="0.243" stop-color="#f8f9f9"/><stop offset="0.474" stop-color="#e8f2eb"/><stop offset="0.507" stop-color="#e0eee3"/><stop offset="0.541" stop-color="#d0e7d5"/><stop offset="0.594" stop-color="#afd7b7"/><stop offset="0.623" stop-color="#8cc798"/><stop offset="0.642" stop-color="#85c391"/><stop offset="0.666" stop-color="#8fc79a"/><stop offset="0.690" stop-color="#afd3b8"/><stop offset="0.724" stop-color="#ccd7d3"/><stop offset="0.743" stop-color="#cecdd5"/><stop offset="0.767" stop-color="#c7bdcf"/><stop offset="0.786" stop-color="#c5b8cd"/><stop offset="0.805" stop-color="#cbc0d3"/><stop offset="0.849" stop-color="#e9e4ec"/><stop offset="0.877" stop-color="#f4f2f6"/><stop offset="0.921" stop-color="#faf9fb"/><stop offset="0.998" stop-color="#fdfdfd"/></linearGradient><linearGradient id="d71"><stop offset="0.002" stop-color="#fdfdfd"/><stop offset="0.244" stop-color="#f8f9f9"/><stop offset="0.466" stop-color="#e8f2ea"/><stop offset="0.500" stop-color="#deede2"/><stop offset="0.534" stop-color="#cee6d3"/><stop offset="0.597" stop-color="#a4d2ae"/><stop offset="0.626" stop-color="#85c392"/><stop offset="0.640" stop-color="#80c18d"/><stop offset="0.664" stop-color="#89c496"/><stop offset="0.698" stop-color="#b7d5bf"/><stop offset="0.727" stop-color="#ccd4d3"/><stop offset="0.766" stop-color="#c6bccf"/><stop offset="0.785" stop-color="#c4b8cd"/><stop offset="0.804" stop-color="#cbbfd2"/><stop offset="0.848" stop-color="#e8e4ec"/><stop offset="0.877" stop-color="#f4f2f6"/><stop offset="0.920" stop-color="#faf9fb"/><stop offset="0.998" stop-color="#fdfdfd"/></linearGradient><linearGradient id="d72"><stop offset="0.002" stop-color="#fdfdfd"/><stop offset="0.235" stop-color="#f8f9f9"/><stop offset="0.454" stop-color="#e8f2eb"/><stop offset="0.493" stop-color="#ddede0"/><stop offset="0.527" stop-color="#cce5d1"/><stop offset="0.600" stop-color="#9acda4"/><stop offset="0.624" stop-color="#82c28f"/><stop offset="0.638" stop-color="#7cbf8a"/><stop offset="0.663" stop-color="#84c291"/><stop offset="0.677" stop-color="#95c8a0"/><stop offset="0.697" stop-color="#b4d4bc"/><stop offset="0.726" stop-color="#cad3d1"/><stop offset="0.769" stop-color="#c4bacd"/><stop offset="0.789" stop-color="#c4b8cd"/><stop offset="0.808" stop-color="#cdc2d4"/><stop offset="0.852" stop-color="#ebe7ee"/><stop offset="0.876" stop-color="#f4f2f6"/><stop offset="0.920" stop-color="#faf9fb"/><stop offset="0.998" stop-color="#fdfdfd"/></linearGradient><linearGradient id="d73"><stop offset="0.002" stop-color="#fdfdfd"/><stop offset="0.237" stop-color="#f7f9f8"/><stop offset="0.446" stop-color="#e8f2ea"/><stop offset="0.480" stop-color="#ddede1"/><stop offset="0.510" stop-color="#cfe6d4"/><stop offset="0.602" stop-color="#90c89b"/><stop offset="0.622" stop-color="#7ec08c"/><stop offset="0.637" stop-color="#78bd86"/><stop offset="0.651" stop-color="#7abe88"/><stop offset="0.666" stop-color="#84c191"/><stop offset="0.680" stop-color="#96c8a1"/><stop offset="0.700" stop-color="#b6d4be"/><stop offset="0.724" stop-color="#c8d2cf"/><stop offset="0.768" stop-color="#c3b9cc"/><stop offset="0.788" stop-color="#c3b7cc"/><stop offset="0.807" stop-color="#ccc1d4"/><stop offset="0.851" stop-color="#ebe6ee"/><stop offset="0.876" stop-color="#f4f2f6"/><stop offset="0.920" stop-color="#faf9fb"/><stop offset="0.998" stop-color="#fdfdfd"/></linearGradient><linearGradient id="d74"><stop offset="0.002" stop-color="#fdfdfd"/><stop offset="0.238" stop-color="#f7f9f8"/><stop offset="0.439" stop-color="#e7f1ea"/><stop offset="0.498" stop-color="#d0e7d5"/><stop offset="0.576" stop-color="#96cba1"/><stop offset="0.625" stop-color="#78bd86"/><stop offset="0.640" stop-color="#73bb82"/><stop offset="0.654" stop-color="#78bd86"/><stop offset="0.669" stop-color="#83c190"/><stop offset="0.703" stop-color="#b7d3bf"/><stop offset="0.723" stop-color="#c5d1cd"/><stop offset="0.738" stop-color="#c7c9cf"/><stop offset="0.762" stop-color="#c2bacb"/><stop offset="0.787" stop-color="#c2b6cc"/><stop offset="0.806" stop-color="#ccc1d3"/><stop offset="0.850" stop-color="#ebe6ee"/><stop offset="0.870" stop-color="#f3f0f5"/><stop offset="0.914" stop-color="#faf9fb"/><stop offset="0.998" stop-color="#fdfdfd"/></linearGradient><linearGradient id="d75"><stop offset="0.002" stop-color="#fdfdfd"/><stop offset="0.239" stop-color="#f6f9f8"/><stop offset="0.431" stop-color="#e7f1e9"/><stop offset="0.485" stop-color="#d2e7d7"/><stop offset="0.574" stop-color="#8ec89a"/><stop offset="0.638" stop-color="#70b97f"/><stop offset="0.653" stop-color="#73bb82"/><stop offset="0.667" stop-color="#7ebf8c"/><stop offset="0.707" stop-color="#b8d2c0"/><stop offset="0.722" stop-color="#c2cfca"/><stop offset="0.736" stop-color="#c5c7cd"/><stop offset="0.761" stop-color="#c0b8c9"/><stop offset="0.786" stop-color="#c1b6cb"/><stop offset="0.805" stop-color="#cbc0d3"/><stop offset="0.850" stop-color="#eae6ed"/><stop offset="0.874" stop-color="#f4f2f6"/><stop offset="0.919" stop-color="#faf9fb"/><stop offset="0.998" stop-color="#fdfdfd"/></linearGradient><linearGradient id="d76"><stop offset="0.002" stop-color="#fdfdfd"/><stop offset="0.235" stop-color="#f6f9f7"/><stop offset="0.423" stop-color="#e6f1e9"/><stop offset="0.453" stop-color="#ddede1"/><stop offset="0.483" stop-color="#cee6d3"/><stop offset="0.577" stop-color="#84c391"/><stop offset="0.641" stop-color="#6cb87c"/><stop offset="0.656" stop-color="#71ba80"/><stop offset="0.671" stop-color="#7ebe8c"/><stop offset="0.705" stop-color="#b2cfbb"/><stop offset="0.720" stop-color="#bfcec7"/><stop offset="0.735" stop-color="#c2c6ca"/><stop offset="0.760" stop-color="#beb6c8"/><stop offset="0.785" stop-color="#c0b5ca"/><stop offset="0.804" stop-color="#cabfd2"/><stop offset="0.849" stop-color="#eae6ed"/><stop offset="0.874" stop-color="#f4f2f6"/><stop offset="0.918" stop-color="#faf9fb"/><stop offset="0.998" stop-color="#fdfdfd"/></linearGradient><linearGradient id="d77"><stop offset="0.002" stop-color="#fdfdfd"/><stop offset="0.235" stop-color="#f6f9f7"/><stop offset="0.418" stop-color="#e6f1e9"/><stop offset="0.448" stop-color="#ddede1"/><stop offset="0.478" stop-color="#cde5d2"/><stop offset="0.582" stop-color="#7bbf88"/><stop offset="0.641" stop-color="#6ab679"/><stop offset="0.656" stop-color="#6db87c"/><stop offset="0.671" stop-color="#79bc87"/><stop offset="0.710" stop-color="#b2cdbb"/><stop offset="0.725" stop-color="#bdcac5"/><stop offset="0.760" stop-color="#bcb5c5"/><stop offset="0.775" stop-color="#bdb2c6"/><stop offset="0.800" stop-color="#c6bbcf"/><stop offset="0.844" stop-color="#e7e2eb"/><stop offset="0.874" stop-color="#f4f2f6"/><stop offset="0.918" stop-color="#faf9fb"/><stop offset="0.998" stop-color="#fdfdfd"/></linearGradient><linearGradient id="d78"><stop offset="0.002" stop-color="#fdfdfd"/><stop offset="0.231" stop-color="#f6f9f7"/><stop offset="0.410" stop-color="#e6f1e9"/><stop offset="0.440" stop-color="#ddede0"/><stop offset="0.470" stop-color="#cde5d2"/><stop offset="0.545" stop-color="#8ec89a"/><stop offset="0.580" stop-color="#75bc84"/><stop offset="0.639" stop-color="#67b577"/><stop offset="0.654" stop-color="#69b679"/><stop offset="0.669" stop-color="#74ba82"/><stop offset="0.704" stop-color="#a5c9af"/><stop offset="0.724" stop-color="#b9c8c2"/><stop offset="0.759" stop-color="#b9b3c3"/><stop offset="0.779" stop-color="#bcb1c6"/><stop offset="0.803" stop-color="#c8bed1"/><stop offset="0.848" stop-color="#eae5ed"/><stop offset="0.873" stop-color="#f4f1f5"/><stop offset="0.918" stop-color="#faf9fb"/><stop offset="0.998" stop-color="#fdfdfd"/></linearGradient><linearGradient id="d79"><stop offset="0.003" stop-color="#fdfdfd"/><stop offset="0.228" stop-color="#f6f9f7"/><stop offset="0.403" stop-color="#e6f1e9"/><stop offset="0.432" stop-color="#ddede0"/><stop offset="0.463" stop-color="#cce5d2"/><stop offset="0.537" stop-color="#8cc798"/><stop offset="0.573" stop-color="#73bb82"/><stop offset="0.598" stop-color="#69b779"/><stop offset="0.637" stop-color="#64b474"/><stop offset="0.657" stop-color="#68b578"/><stop offset="0.672" stop-color="#74ba83"/><stop offset="0.703" stop-color="#9ec6a9"/><stop offset="0.723" stop-color="#b5c7be"/><stop offset="0.757" stop-color="#b7b1c1"/><stop offset="0.777" stop-color="#b9afc4"/><stop offset="0.797" stop-color="#c4b9cd"/><stop offset="0.858" stop-color="#eeebf1"/><stop offset="0.902" stop-color="#f9f8fa"/><stop offset="0.998" stop-color="#fdfdfd"/></linearGradient><linearGradient id="d80"><stop offset="0.003" stop-color="#fdfdfd"/><stop offset="0.234" stop-color="#f5f8f6"/><stop offset="0.399" stop-color="#e5f1e8"/><stop offset="0.430" stop-color="#dbecde"/><stop offset="0.460" stop-color="#c9e3cf"/><stop offset="0.530" stop-color="#8ac697"/><stop offset="0.565" stop-color="#72bb81"/><stop offset="0.595" stop-color="#65b575"/><stop offset="0.636" stop-color="#62b372"/><stop offset="0.656" stop-color="#65b475"/><stop offset="0.671" stop-color="#70b87f"/><stop offset="0.701" stop-color="#97c3a3"/><stop offset="0.726" stop-color="#b2c2bc"/><stop offset="0.756" stop-color="#b4afbe"/><stop offset="0.776" stop-color="#b7adc1"/><stop offset="0.802" stop-color="#c6bccf"/><stop offset="0.837" stop-color="#e3dde7"/><stop offset="0.857" stop-color="#eeebf1"/><stop offset="0.902" stop-color="#f9f8fa"/><stop offset="0.997" stop-color="#fdfdfd"/></linearGradient><linearGradient id="d81"><stop offset="0.003" stop-color="#fdfdfd"/><stop offset="0.230" stop-color="#f5f8f6"/><stop offset="0.391" stop-color="#e5f1e8"/><stop offset="0.422" stop-color="#dbecdf"/><stop offset="0.452" stop-color="#c9e3cf"/><stop offset="0.528" stop-color="#85c492"/><stop offset="0.558" stop-color="#71ba7f"/><stop offset="0.593" stop-color="#62b372"/><stop offset="0.634" stop-color="#60b270"/><stop offset="0.654" stop-color="#63b373"/><stop offset="0.669" stop-color="#6cb67b"/><stop offset="0.699" stop-color="#91c19d"/><stop offset="0.725" stop-color="#adbfb7"/><stop offset="0.755" stop-color="#b1aebc"/><stop offset="0.775" stop-color="#b4abbf"/><stop offset="0.790" stop-color="#bdb3c7"/><stop offset="0.836" stop-color="#e2dde6"/><stop offset="0.856" stop-color="#eeebf1"/><stop offset="0.902" stop-color="#f9f8fa"/><stop offset="0.997" stop-color="#fdfdfd"/></linearGradient><linearGradient id="d82"><stop offset="0.003" stop-color="#fdfdfd"/><stop offset="0.246" stop-color="#f4f8f5"/><stop offset="0.393" stop-color="#e2efe6"/><stop offset="0.424" stop-color="#d6eada"/><stop offset="0.449" stop-color="#c6e2cc"/><stop offset="0.520" stop-color="#85c492"/><stop offset="0.546" stop-color="#73bb81"/><stop offset="0.581" stop-color="#63b473"/><stop offset="0.617" stop-color="#5db16e"/><stop offset="0.647" stop-color="#5fb170"/><stop offset="0.668" stop-color="#68b578"/><stop offset="0.683" stop-color="#77ba85"/><stop offset="0.708" stop-color="#99bfa4"/><stop offset="0.734" stop-color="#acb8b7"/><stop offset="0.759" stop-color="#aeaab9"/><stop offset="0.774" stop-color="#b2a9bd"/><stop offset="0.789" stop-color="#bbb1c5"/><stop offset="0.835" stop-color="#e2dce6"/><stop offset="0.860" stop-color="#f0edf2"/><stop offset="0.906" stop-color="#f9f8fa"/><stop offset="0.997" stop-color="#fdfdfd"/></linearGradient><linearGradient id="d83"><stop offset="0.003" stop-color="#fdfdfd"/><stop offset="0.241" stop-color="#f4f8f5"/><stop offset="0.332" stop-color="#ecf4ee"/><stop offset="0.388" stop-color="#e2efe5"/><stop offset="0.414" stop-color="#d9ebdd"/><stop offset="0.444" stop-color="#c7e2cd"/><stop offset="0.520" stop-color="#81c28e"/><stop offset="0.546" stop-color="#6fba7e"/><stop offset="0.581" stop-color="#60b371"/><stop offset="0.617" stop-color="#5bb06c"/><stop offset="0.647" stop-color="#5eb16e"/><stop offset="0.668" stop-color="#65b375"/><stop offset="0.683" stop-color="#73b882"/><stop offset="0.708" stop-color="#93bd9f"/><stop offset="0.734" stop-color="#a7b5b2"/><stop offset="0.759" stop-color="#aba8b7"/><stop offset="0.774" stop-color="#afa7bb"/><stop offset="0.789" stop-color="#b8afc3"/><stop offset="0.835" stop-color="#e1dce6"/><stop offset="0.860" stop-color="#f0edf2"/><stop offset="0.906" stop-color="#f9f8fa"/><stop offset="0.997" stop-color="#fdfdfd"/></linearGradient><linearGradient id="d84"><stop offset="0.003" stop-color="#fdfdfd"/><stop offset="0.242" stop-color="#f3f8f5"/><stop offset="0.329" stop-color="#ebf3ed"/><stop offset="0.385" stop-color="#e0eee4"/><stop offset="0.411" stop-color="#d7eadb"/><stop offset="0.436" stop-color="#c7e3cd"/><stop offset="0.513" stop-color="#82c28f"/><stop offset="0.538" stop-color="#70ba7e"/><stop offset="0.579" stop-color="#5fb26f"/><stop offset="0.615" stop-color="#5aaf6b"/><stop offset="0.645" stop-color="#5cb06d"/><stop offset="0.666" stop-color="#63b273"/><stop offset="0.681" stop-color="#6fb67e"/><stop offset="0.707" stop-color="#8ebb9b"/><stop offset="0.737" stop-color="#a4b0b0"/><stop offset="0.758" stop-color="#a8a6b4"/><stop offset="0.773" stop-color="#aca5b8"/><stop offset="0.788" stop-color="#b6adc1"/><stop offset="0.829" stop-color="#ddd7e2"/><stop offset="0.860" stop-color="#f0edf2"/><stop offset="0.906" stop-color="#f9f8fa"/><stop offset="0.997" stop-color="#fdfdfd"/></linearGradient><linearGradient id="d85"><stop offset="0.003" stop-color="#fdfdfd"/><stop offset="0.227" stop-color="#f4f8f5"/><stop offset="0.319" stop-color="#ebf3ed"/><stop offset="0.375" stop-color="#e0eee3"/><stop offset="0.401" stop-color="#d7eadb"/><stop offset="0.431" stop-color="#c4e1cb"/><stop offset="0.508" stop-color="#80c18d"/><stop offset="0.533" stop-color="#6db97c"/><stop offset="0.569" stop-color="#5fb26f"/><stop offset="0.610" stop-color="#59af6a"/><stop offset="0.661" stop-color="#61b172"/><stop offset="0.676" stop-color="#6cb57b"/><stop offset="0.696" stop-color="#83b991"/><stop offset="0.717" stop-color="#98b4a4"/><stop offset="0.753" stop-color="#a5a4b1"/><stop offset="0.768" stop-color="#aaa3b6"/><stop offset="0.783" stop-color="#b4abbf"/><stop offset="0.824" stop-color="#dcd6e1"/><stop offset="0.855" stop-color="#efedf2"/><stop offset="0.901" stop-color="#f9f8fa"/><stop offset="0.997" stop-color="#fdfdfd"/></linearGradient><linearGradient id="d86"><stop offset="0.003" stop-color="#fdfdfd"/><stop offset="0.218" stop-color="#f4f8f6"/><stop offset="0.310" stop-color="#ebf3ed"/><stop offset="0.367" stop-color="#dfeee3"/><stop offset="0.403" stop-color="#d2e8d7"/><stop offset="0.423" stop-color="#c5e2cb"/><stop offset="0.500" stop-color="#82c28f"/><stop offset="0.531" stop-color="#6cb87b"/><stop offset="0.567" stop-color="#5eb16e"/><stop offset="0.608" stop-color="#58af69"/><stop offset="0.659" stop-color="#60b070"/><stop offset="0.674" stop-color="#6ab479"/><stop offset="0.695" stop-color="#7fb88d"/><stop offset="0.715" stop-color="#93b3a0"/><stop offset="0.736" stop-color="#9da7aa"/><stop offset="0.767" stop-color="#a7a1b4"/><stop offset="0.787" stop-color="#b6adc1"/><stop offset="0.828" stop-color="#e0dbe4"/><stop offset="0.854" stop-color="#efecf1"/><stop offset="0.900" stop-color="#f9f8fa"/><stop offset="0.997" stop-color="#fdfdfd"/></linearGradient><linearGradient id="d87"><stop offset="0.003" stop-color="#fdfdfd"/><stop offset="0.213" stop-color="#f5f8f6"/><stop offset="0.300" stop-color="#ebf3ed"/><stop offset="0.356" stop-color="#e0eee3"/><stop offset="0.418" stop-color="#c6e2cc"/><stop offset="0.500" stop-color="#80c18d"/><stop offset="0.531" stop-color="#6ab77a"/><stop offset="0.567" stop-color="#5db16e"/><stop offset="0.613" stop-color="#57ae69"/><stop offset="0.644" stop-color="#5aae6b"/><stop offset="0.664" stop-color="#61b072"/><stop offset="0.695" stop-color="#7cb68a"/><stop offset="0.715" stop-color="#90b19d"/><stop offset="0.741" stop-color="#9ba2a8"/><stop offset="0.767" stop-color="#a5a0b2"/><stop offset="0.787" stop-color="#b4abbf"/><stop offset="0.828" stop-color="#dfdae4"/><stop offset="0.854" stop-color="#efecf1"/><stop offset="0.900" stop-color="#f9f8fa"/><stop offset="0.997" stop-color="#fdfdfd"/></linearGradient><linearGradient id="d88"><stop offset="0.003" stop-color="#fdfdfd"/><stop offset="0.209" stop-color="#f5f8f6"/><stop offset="0.343" stop-color="#e0eee4"/><stop offset="0.410" stop-color="#c7e2cd"/><stop offset="0.497" stop-color="#7ec08b"/><stop offset="0.528" stop-color="#6ab779"/><stop offset="0.564" stop-color="#5db16d"/><stop offset="0.616" stop-color="#57ae69"/><stop offset="0.662" stop-color="#60af71"/><stop offset="0.678" stop-color="#6ab27a"/><stop offset="0.698" stop-color="#7fb48d"/><stop offset="0.714" stop-color="#8daf9a"/><stop offset="0.740" stop-color="#979ea4"/><stop offset="0.765" stop-color="#a39eb0"/><stop offset="0.786" stop-color="#b2a9bd"/><stop offset="0.827" stop-color="#ded9e3"/><stop offset="0.853" stop-color="#efecf1"/><stop offset="0.899" stop-color="#f9f8fa"/><stop offset="0.997" stop-color="#fdfdfd"/></linearGradient><linearGradient id="d89"><stop offset="0.003" stop-color="#fdfdfd"/><stop offset="0.199" stop-color="#f5f8f6"/><stop offset="0.334" stop-color="#dfeee3"/><stop offset="0.412" stop-color="#c0dfc7"/><stop offset="0.490" stop-color="#81c18e"/><stop offset="0.526" stop-color="#69b779"/><stop offset="0.562" stop-color="#5db16d"/><stop offset="0.614" stop-color="#57ae69"/><stop offset="0.661" stop-color="#5fae70"/><stop offset="0.697" stop-color="#7cb38b"/><stop offset="0.718" stop-color="#8daa9b"/><stop offset="0.738" stop-color="#939ba1"/><stop offset="0.749" stop-color="#9799a5"/><stop offset="0.780" stop-color="#aba3b7"/><stop offset="0.826" stop-color="#ded9e2"/><stop offset="0.852" stop-color="#efecf1"/><stop offset="0.899" stop-color="#f9f8fa"/><stop offset="0.997" stop-color="#fdfdfd"/></linearGradient><linearGradient id="d90"><stop offset="0.003" stop-color="#fdfdfd"/><stop offset="0.199" stop-color="#f5f8f6"/><stop offset="0.329" stop-color="#deede2"/><stop offset="0.376" stop-color="#cee6d3"/><stop offset="0.417" stop-color="#b9dcc1"/><stop offset="0.490" stop-color="#7fc18d"/><stop offset="0.526" stop-color="#69b779"/><stop offset="0.567" stop-color="#5cb06d"/><stop offset="0.619" stop-color="#58ad69"/><stop offset="0.661" stop-color="#5ead6f"/><stop offset="0.676" stop-color="#67ae77"/><stop offset="0.697" stop-color="#7ab188"/><stop offset="0.718" stop-color="#8aa798"/><stop offset="0.738" stop-color="#90989f"/><stop offset="0.754" stop-color="#9695a5"/><stop offset="0.785" stop-color="#aea6ba"/><stop offset="0.826" stop-color="#ddd8e2"/><stop offset="0.852" stop-color="#eeecf1"/><stop offset="0.899" stop-color="#f9f8fa"/><stop offset="0.997" stop-color="#fdfdfd"/></linearGradient><linearGradient id="d91"><stop offset="0.003" stop-color="#fdfdfd"/><stop offset="0.194" stop-color="#f5f9f6"/><stop offset="0.313" stop-color="#e0eee3"/><stop offset="0.365" stop-color="#cfe6d4"/><stop offset="0.412" stop-color="#b9dcc0"/><stop offset="0.490" stop-color="#7fc08c"/><stop offset="0.531" stop-color="#67b677"/><stop offset="0.573" stop-color="#5cb06c"/><stop offset="0.619" stop-color="#58ad69"/><stop offset="0.666" stop-color="#5faa70"/><stop offset="0.702" stop-color="#7cac8a"/><stop offset="0.723" stop-color="#89a097"/><stop offset="0.738" stop-color="#8d949c"/><stop offset="0.754" stop-color="#9390a2"/><stop offset="0.785" stop-color="#ada4b8"/><stop offset="0.826" stop-color="#dcd7e1"/><stop offset="0.852" stop-color="#eeecf1"/><stop offset="0.899" stop-color="#f9f8fa"/><stop offset="0.997" stop-color="#fdfdfd"/></linearGradient><linearGradient id="d92"><stop offset="0.003" stop-color="#fdfdfd"/><stop offset="0.186" stop-color="#f6f9f7"/><stop offset="0.301" stop-color="#e0eee4"/><stop offset="0.353" stop-color="#cfe6d4"/><stop offset="0.406" stop-color="#b7dbbf"/><stop offset="0.490" stop-color="#7ec08b"/><stop offset="0.526" stop-color="#6ab77a"/><stop offset="0.568" stop-color="#5db16e"/><stop offset="0.620" stop-color="#59ac6a"/><stop offset="0.673" stop-color="#60a671"/><stop offset="0.709" stop-color="#7ca68b"/><stop offset="0.746" stop-color="#8b8e9a"/><stop offset="0.757" stop-color="#8f8c9e"/><stop offset="0.788" stop-color="#aba3b7"/><stop offset="0.830" stop-color="#dbd6e0"/><stop offset="0.856" stop-color="#eeebf0"/><stop offset="0.903" stop-color="#f9f8fa"/><stop offset="0.997" stop-color="#fdfdfd"/></linearGradient><linearGradient id="d93"><stop offset="0.003" stop-color="#fdfdfd"/><stop offset="0.186" stop-color="#f6f9f7"/><stop offset="0.280" stop-color="#e4f0e7"/><stop offset="0.343" stop-color="#d0e6d5"/><stop offset="0.395" stop-color="#b9dbc0"/><stop offset="0.432" stop-color="#a5d2ae"/><stop offset="0.495" stop-color="#7bbe88"/><stop offset="0.526" stop-color="#6bb77a"/><stop offset="0.573" stop-color="#5eb16e"/><stop offset="0.631" stop-color="#59a96a"/><stop offset="0.678" stop-color="#60a072"/><stop offset="0.709" stop-color="#789e87"/><stop offset="0.746" stop-color="#878997"/><stop offset="0.757" stop-color="#8b879b"/><stop offset="0.772" stop-color="#9890a6"/><stop offset="0.835" stop-color="#dfdbe4"/><stop offset="0.861" stop-color="#f0eef2"/><stop offset="0.908" stop-color="#faf9fa"/><stop offset="0.997" stop-color="#fdfdfd"/></linearGradient><linearGradient id="d94"><stop offset="0.003" stop-color="#fdfdfd"/><stop offset="0.171" stop-color="#f6f9f7"/><stop offset="0.239" stop-color="#ecf4ee"/><stop offset="0.308" stop-color="#d8eadc"/><stop offset="0.366" stop-color="#c1dfc7"/><stop offset="0.434" stop-color="#9fcfa9"/><stop offset="0.492" stop-color="#7bbe88"/><stop offset="0.529" stop-color="#6ab77a"/><stop offset="0.576" stop-color="#5eb06f"/><stop offset="0.639" stop-color="#59a46b"/><stop offset="0.682" stop-color="#5f9671"/><stop offset="0.718" stop-color="#789189"/><stop offset="0.734" stop-color="#7e878f"/><stop offset="0.761" stop-color="#8a829a"/><stop offset="0.776" stop-color="#9990a8"/><stop offset="0.829" stop-color="#d9d4df"/><stop offset="0.855" stop-color="#edebf0"/><stop offset="0.903" stop-color="#f9f8fa"/><stop offset="0.997" stop-color="#fdfdfd"/></linearGradient><linearGradient id="d95"><stop offset="0.003" stop-color="#fdfdfd"/><stop offset="0.155" stop-color="#f7faf8"/><stop offset="0.229" stop-color="#eef5f0"/><stop offset="0.355" stop-color="#c1dfc8"/><stop offset="0.524" stop-color="#6db87c"/><stop offset="0.603" stop-color="#5cac6d"/><stop offset="0.650" stop-color="#589b6a"/><stop offset="0.687" stop-color="#5c8a6f"/><stop offset="0.718" stop-color="#708582"/><stop offset="0.739" stop-color="#7a7b8b"/><stop offset="0.761" stop-color="#857c96"/><stop offset="0.776" stop-color="#958aa4"/><stop offset="0.829" stop-color="#d8d3de"/><stop offset="0.861" stop-color="#f0edf2"/><stop offset="0.908" stop-color="#faf9fa"/><stop offset="0.997" stop-color="#fdfdfd"/></linearGradient><linearGradient id="d96"><stop offset="0.003" stop-color="#fdfdfd"/><stop offset="0.146" stop-color="#f8faf9"/><stop offset="0.220" stop-color="#eef5f0"/><stop offset="0.336" stop-color="#c4e1ca"/><stop offset="0.516" stop-color="#71b97f"/><stop offset="0.601" stop-color="#5eab6f"/><stop offset="0.669" stop-color="#558668"/><stop offset="0.701" stop-color="#5c7770"/><stop offset="0.743" stop-color="#757188"/><stop offset="0.759" stop-color="#807592"/><stop offset="0.775" stop-color="#9083a0"/><stop offset="0.796" stop-color="#b1a7bc"/><stop offset="0.823" stop-color="#d2ccd9"/><stop offset="0.854" stop-color="#edeaf0"/><stop offset="0.902" stop-color="#f9f8fa"/><stop offset="0.997" stop-color="#fdfdfd"/></linearGradient><linearGradient id="d97"><stop offset="0.003" stop-color="#fdfdfd"/><stop offset="0.141" stop-color="#f8faf9"/><stop offset="0.215" stop-color="#eef5f0"/><stop offset="0.316" stop-color="#c7e2cd"/><stop offset="0.492" stop-color="#7abd88"/><stop offset="0.572" stop-color="#65b275"/><stop offset="0.614" stop-color="#5ca16d"/><stop offset="0.678" stop-color="#507264"/><stop offset="0.710" stop-color="#59666e"/><stop offset="0.742" stop-color="#6d6681"/><stop offset="0.763" stop-color="#7f7191"/><stop offset="0.779" stop-color="#9285a2"/><stop offset="0.801" stop-color="#b6acc1"/><stop offset="0.816" stop-color="#cbc4d3"/><stop offset="0.838" stop-color="#e1dde6"/><stop offset="0.854" stop-color="#edeaef"/><stop offset="0.896" stop-color="#f8f7f9"/><stop offset="0.997" stop-color="#fdfdfd"/></linearGradient><linearGradient id="d98"><stop offset="0.003" stop-color="#fdfdfd"/><stop offset="0.125" stop-color="#f9fafa"/><stop offset="0.205" stop-color="#f0f6f2"/><stop offset="0.481" stop-color="#7ebf8c"/><stop offset="0.572" stop-color="#67b277"/><stop offset="0.609" stop-color="#5ea26f"/><stop offset="0.657" stop-color="#4e7762"/><stop offset="0.684" stop-color="#4b6260"/><stop offset="0.715" stop-color="#535869"/><stop offset="0.753" stop-color="#6d6081"/><stop offset="0.779" stop-color="#8d7e9d"/><stop offset="0.806" stop-color="#bcb2c6"/><stop offset="0.816" stop-color="#cbc3d2"/><stop offset="0.832" stop-color="#dcd7e1"/><stop offset="0.854" stop-color="#ece9ef"/><stop offset="0.896" stop-color="#f9f7f9"/><stop offset="0.997" stop-color="#fdfdfd"/></linearGradient><linearGradient id="d99"><stop offset="0.003" stop-color="#fdfdfd"/><stop offset="0.126" stop-color="#f9faf9"/><stop offset="0.206" stop-color="#eff5f1"/><stop offset="0.409" stop-color="#97cba2"/><stop offset="0.495" stop-color="#7abd88"/><stop offset="0.570" stop-color="#6bb37a"/><stop offset="0.607" stop-color="#609f71"/><stop offset="0.655" stop-color="#4b6d60"/><stop offset="0.687" stop-color="#45545c"/><stop offset="0.719" stop-color="#4e4c65"/><stop offset="0.757" stop-color="#6b5b80"/><stop offset="0.778" stop-color="#887799"/><stop offset="0.816" stop-color="#cac1d2"/><stop offset="0.832" stop-color="#dcd6e1"/><stop offset="0.853" stop-color="#ece9ef"/><stop offset="0.896" stop-color="#f9f7f9"/><stop offset="0.997" stop-color="#fdfdfd"/></linearGradient><linearGradient id="d100"><stop offset="0.003" stop-color="#fdfdfd"/><stop offset="0.120" stop-color="#f9fafa"/><stop offset="0.206" stop-color="#eff5f0"/><stop offset="0.281" stop-color="#cae3d0"/><stop offset="0.398" stop-color="#98cca3"/><stop offset="0.489" stop-color="#7dbe8a"/><stop offset="0.570" stop-color="#6eb37e"/><stop offset="0.602" stop-color="#64a275"/><stop offset="0.655" stop-color="#48645e"/><stop offset="0.687" stop-color="#424a59"/><stop offset="0.719" stop-color="#484260"/><stop offset="0.757" stop-color="#64527a"/><stop offset="0.783" stop-color="#8b7a9c"/><stop offset="0.816" stop-color="#c9c0d1"/><stop offset="0.832" stop-color="#dcd6e1"/><stop offset="0.848" stop-color="#e9e5ec"/><stop offset="0.869" stop-color="#f3f1f5"/><stop offset="0.896" stop-color="#f8f7f9"/><stop offset="0.997" stop-color="#fdfdfd"/></linearGradient><linearGradient id="d101"><stop offset="0.003" stop-color="#fdfdfd"/><stop offset="0.121" stop-color="#f9faf9"/><stop offset="0.207" stop-color="#edf4ef"/><stop offset="0.282" stop-color="#c4e1cb"/><stop offset="0.384" stop-color="#9acca4"/><stop offset="0.481" stop-color="#7fbf8c"/><stop offset="0.567" stop-color="#72b481"/><stop offset="0.583" stop-color="#6ead7e"/><stop offset="0.599" stop-color="#67a178"/><stop offset="0.642" stop-color="#4b6960"/><stop offset="0.664" stop-color="#425259"/><stop offset="0.691" stop-color="#3f4057"/><stop offset="0.718" stop-color="#433a5c"/><stop offset="0.734" stop-color="#4c3d64"/><stop offset="0.761" stop-color="#644f7a"/><stop offset="0.782" stop-color="#877398"/><stop offset="0.820" stop-color="#cfc7d6"/><stop offset="0.847" stop-color="#e9e5ec"/><stop offset="0.868" stop-color="#f3f1f5"/><stop offset="0.895" stop-color="#f8f7f9"/><stop offset="0.997" stop-color="#fdfdfd"/></linearGradient><linearGradient id="d102"><stop offset="0.003" stop-color="#fdfdfd"/><stop offset="0.122" stop-color="#f8faf9"/><stop offset="0.209" stop-color="#ebf3ed"/><stop offset="0.285" stop-color="#bfdec6"/><stop offset="0.378" stop-color="#99cba4"/><stop offset="0.481" stop-color="#80be8d"/><stop offset="0.568" stop-color="#76b485"/><stop offset="0.584" stop-color="#72ad82"/><stop offset="0.601" stop-color="#6ba07b"/><stop offset="0.644" stop-color="#4b6460"/><stop offset="0.666" stop-color="#414c58"/><stop offset="0.698" stop-color="#3d3956"/><stop offset="0.726" stop-color="#43355c"/><stop offset="0.747" stop-color="#503c68"/><stop offset="0.769" stop-color="#664f7b"/><stop offset="0.791" stop-color="#8c799d"/><stop offset="0.823" stop-color="#cec5d5"/><stop offset="0.834" stop-color="#dbd5e1"/><stop offset="0.851" stop-color="#e9e5ec"/><stop offset="0.872" stop-color="#f3f1f5"/><stop offset="0.899" stop-color="#f8f7f9"/><stop offset="0.997" stop-color="#fdfdfd"/></linearGradient><linearGradient id="d103"><stop offset="0.003" stop-color="#fdfdfd"/><stop offset="0.111" stop-color="#fafbfa"/><stop offset="0.198" stop-color="#ecf4ef"/><stop offset="0.226" stop-color="#e3efe6"/><stop offset="0.291" stop-color="#badbc1"/><stop offset="0.383" stop-color="#96c9a1"/><stop offset="0.476" stop-color="#82bf8f"/><stop offset="0.568" stop-color="#7ab488"/><stop offset="0.584" stop-color="#77ad86"/><stop offset="0.601" stop-color="#70a080"/><stop offset="0.644" stop-color="#4c6062"/><stop offset="0.666" stop-color="#414858"/><stop offset="0.693" stop-color="#3c3855"/><stop offset="0.720" stop-color="#3f3159"/><stop offset="0.742" stop-color="#493462"/><stop offset="0.769" stop-color="#614978"/><stop offset="0.780" stop-color="#725b86"/><stop offset="0.823" stop-color="#ccc2d3"/><stop offset="0.834" stop-color="#dbd5e1"/><stop offset="0.851" stop-color="#e9e5ec"/><stop offset="0.872" stop-color="#f3f0f5"/><stop offset="0.899" stop-color="#f8f7f9"/><stop offset="0.997" stop-color="#fdfdfd"/></linearGradient><linearGradient id="d104"><stop offset="0.003" stop-color="#fdfdfd"/><stop offset="0.112" stop-color="#f9fafa"/><stop offset="0.183" stop-color="#eef5f0"/><stop offset="0.221" stop-color="#e4efe7"/><stop offset="0.292" stop-color="#b5d9bd"/><stop offset="0.380" stop-color="#94c8a0"/><stop offset="0.473" stop-color="#83bf90"/><stop offset="0.566" stop-color="#7eb48c"/><stop offset="0.598" stop-color="#74a084"/><stop offset="0.642" stop-color="#4e5e64"/><stop offset="0.664" stop-color="#424559"/><stop offset="0.691" stop-color="#3d3556"/><stop offset="0.724" stop-color="#412e5a"/><stop offset="0.746" stop-color="#4a3363"/><stop offset="0.773" stop-color="#654b7b"/><stop offset="0.784" stop-color="#78608c"/><stop offset="0.822" stop-color="#cac0d2"/><stop offset="0.833" stop-color="#dad3e0"/><stop offset="0.850" stop-color="#e9e5ec"/><stop offset="0.872" stop-color="#f3f0f5"/><stop offset="0.899" stop-color="#f8f7f9"/><stop offset="0.997" stop-color="#fdfdfd"/></linearGradient><linearGradient id="d105"><stop offset="0.003" stop-color="#fdfdfd"/><stop offset="0.112" stop-color="#fafafa"/><stop offset="0.172" stop-color="#f0f6f2"/><stop offset="0.221" stop-color="#e4efe7"/><stop offset="0.298" stop-color="#b1d6ba"/><stop offset="0.385" stop-color="#92c79e"/><stop offset="0.478" stop-color="#84be91"/><stop offset="0.566" stop-color="#82b390"/><stop offset="0.587" stop-color="#7ea98c"/><stop offset="0.604" stop-color="#769a86"/><stop offset="0.642" stop-color="#525e67"/><stop offset="0.664" stop-color="#44445b"/><stop offset="0.691" stop-color="#3e3457"/><stop offset="0.724" stop-color="#412c5b"/><stop offset="0.751" stop-color="#4d3366"/><stop offset="0.773" stop-color="#634779"/><stop offset="0.784" stop-color="#745a88"/><stop offset="0.822" stop-color="#c8bdd0"/><stop offset="0.839" stop-color="#e0dae4"/><stop offset="0.850" stop-color="#e9e5ec"/><stop offset="0.872" stop-color="#f3f0f5"/><stop offset="0.899" stop-color="#f8f7f9"/><stop offset="0.997" stop-color="#fdfdfd"/></linearGradient><linearGradient id="d106"><stop offset="0.003" stop-color="#fdfdfd"/><stop offset="0.118" stop-color="#f9fafa"/><stop offset="0.195" stop-color="#e9f2ec"/><stop offset="0.228" stop-color="#deece2"/><stop offset="0.299" stop-color="#aed4b6"/><stop offset="0.393" stop-color="#90c59c"/><stop offset="0.481" stop-color="#85bc92"/><stop offset="0.563" stop-color="#85b193"/><stop offset="0.585" stop-color="#82a790"/><stop offset="0.602" stop-color="#7a998a"/><stop offset="0.613" stop-color="#728c83"/><stop offset="0.646" stop-color="#525768"/><stop offset="0.668" stop-color="#443f5d"/><stop offset="0.695" stop-color="#403159"/><stop offset="0.728" stop-color="#432b5d"/><stop offset="0.755" stop-color="#513469"/><stop offset="0.777" stop-color="#684c7e"/><stop offset="0.788" stop-color="#7c628f"/><stop offset="0.821" stop-color="#c6bbcf"/><stop offset="0.832" stop-color="#d8d0de"/><stop offset="0.849" stop-color="#e9e5ec"/><stop offset="0.871" stop-color="#f3f0f5"/><stop offset="0.898" stop-color="#f8f7f9"/><stop offset="0.997" stop-color="#fdfdfd"/></linearGradient><linearGradient id="d107"><stop offset="0.003" stop-color="#fdfdfd"/><stop offset="0.119" stop-color="#f9fafa"/><stop offset="0.185" stop-color="#ebf2ed"/><stop offset="0.229" stop-color="#dcebe0"/><stop offset="0.301" stop-color="#abd3b4"/><stop offset="0.390" stop-color="#90c49c"/><stop offset="0.483" stop-color="#87ba94"/><stop offset="0.561" stop-color="#87ae95"/><stop offset="0.583" stop-color="#84a493"/><stop offset="0.605" stop-color="#7b928b"/><stop offset="0.644" stop-color="#57586d"/><stop offset="0.666" stop-color="#484060"/><stop offset="0.693" stop-color="#42315c"/><stop offset="0.732" stop-color="#462a60"/><stop offset="0.760" stop-color="#55366d"/><stop offset="0.782" stop-color="#6e5284"/><stop offset="0.793" stop-color="#846b97"/><stop offset="0.809" stop-color="#ae9dba"/><stop offset="0.820" stop-color="#c5b9cd"/><stop offset="0.831" stop-color="#d7cfdd"/><stop offset="0.848" stop-color="#e9e4ec"/><stop offset="0.870" stop-color="#f3f0f5"/><stop offset="0.898" stop-color="#f8f7f9"/><stop offset="0.997" stop-color="#fdfdfd"/></linearGradient><linearGradient id="d108"><stop offset="0.003" stop-color="#fdfdfd"/><stop offset="0.119" stop-color="#f9fafa"/><stop offset="0.181" stop-color="#ecf3ee"/><stop offset="0.231" stop-color="#dcebe0"/><stop offset="0.308" stop-color="#a9d1b2"/><stop offset="0.397" stop-color="#90c29c"/><stop offset="0.492" stop-color="#88b895"/><stop offset="0.558" stop-color="#89ab97"/><stop offset="0.586" stop-color="#869f95"/><stop offset="0.608" stop-color="#7e8f8e"/><stop offset="0.625" stop-color="#737c85"/><stop offset="0.653" stop-color="#58536e"/><stop offset="0.675" stop-color="#4a3c63"/><stop offset="0.703" stop-color="#452f5f"/><stop offset="0.736" stop-color="#482a62"/><stop offset="0.764" stop-color="#55346d"/><stop offset="0.786" stop-color="#6d4f83"/><stop offset="0.797" stop-color="#816794"/><stop offset="0.819" stop-color="#b8a9c3"/><stop offset="0.831" stop-color="#cdc3d5"/><stop offset="0.842" stop-color="#ded7e3"/><stop offset="0.858" stop-color="#ece8ef"/><stop offset="0.903" stop-color="#f8f7f9"/><stop offset="0.997" stop-color="#fdfdfd"/></linearGradient><linearGradient id="d109"><stop offset="0.003" stop-color="#fdfdfd"/><stop offset="0.120" stop-color="#f9f9fa"/><stop offset="0.170" stop-color="#eef3f0"/><stop offset="0.232" stop-color="#dae9de"/><stop offset="0.310" stop-color="#a7cfb1"/><stop offset="0.383" stop-color="#94c39f"/><stop offset="0.450" stop-color="#8cbb99"/><stop offset="0.545" stop-color="#8aa998"/><stop offset="0.578" stop-color="#879c96"/><stop offset="0.606" stop-color="#7f8a90"/><stop offset="0.623" stop-color="#767b88"/><stop offset="0.656" stop-color="#594d6f"/><stop offset="0.679" stop-color="#4d3a65"/><stop offset="0.707" stop-color="#482e62"/><stop offset="0.740" stop-color="#4b2b65"/><stop offset="0.763" stop-color="#55336e"/><stop offset="0.785" stop-color="#6d4e83"/><stop offset="0.796" stop-color="#7e6292"/><stop offset="0.818" stop-color="#b5a5c1"/><stop offset="0.830" stop-color="#ccc1d4"/><stop offset="0.841" stop-color="#ddd5e2"/><stop offset="0.858" stop-color="#ece8ef"/><stop offset="0.874" stop-color="#f3f1f5"/><stop offset="0.902" stop-color="#f8f7f9"/><stop offset="0.997" stop-color="#fdfdfd"/></linearGradient><linearGradient id="d110"><stop offset="0.003" stop-color="#fdfdfd"/><stop offset="0.131" stop-color="#f8f8f9"/><stop offset="0.237" stop-color="#d8e7dd"/><stop offset="0.299" stop-color="#afd2b8"/><stop offset="0.332" stop-color="#a1cbab"/><stop offset="0.411" stop-color="#90be9c"/><stop offset="0.517" stop-color="#8aab98"/><stop offset="0.567" stop-color="#889a97"/><stop offset="0.601" stop-color="#818791"/><stop offset="0.628" stop-color="#747187"/><stop offset="0.662" stop-color="#594871"/><stop offset="0.684" stop-color="#4f3768"/><stop offset="0.707" stop-color="#4b2e65"/><stop offset="0.740" stop-color="#4d2b67"/><stop offset="0.763" stop-color="#55316e"/><stop offset="0.774" stop-color="#5e3b76"/><stop offset="0.785" stop-color="#6c4b82"/><stop offset="0.802" stop-color="#876d99"/><stop offset="0.830" stop-color="#cbbfd3"/><stop offset="0.841" stop-color="#dcd4e1"/><stop offset="0.858" stop-color="#ece7ef"/><stop offset="0.874" stop-color="#f3f1f5"/><stop offset="0.902" stop-color="#f8f7f9"/><stop offset="0.997" stop-color="#fdfdfd"/></linearGradient><linearGradient id="d111"><stop offset="0.003" stop-color="#fdfdfd"/><stop offset="0.137" stop-color="#f7f8f8"/><stop offset="0.243" stop-color="#d7e6db"/><stop offset="0.293" stop-color="#b5d4bd"/><stop offset="0.327" stop-color="#a4cbae"/><stop offset="0.411" stop-color="#92bc9e"/><stop offset="0.506" stop-color="#8aa998"/><stop offset="0.561" stop-color="#869396"/><stop offset="0.601" stop-color="#7e7e90"/><stop offset="0.634" stop-color="#716685"/><stop offset="0.662" stop-color="#5d4774"/><stop offset="0.684" stop-color="#52376b"/><stop offset="0.707" stop-color="#4e2e68"/><stop offset="0.740" stop-color="#4f2b69"/><stop offset="0.763" stop-color="#55306e"/><stop offset="0.785" stop-color="#6a4981"/><stop offset="0.802" stop-color="#866a98"/><stop offset="0.824" stop-color="#bcadc6"/><stop offset="0.835" stop-color="#d3c9da"/><stop offset="0.846" stop-color="#e2dbe6"/><stop offset="0.858" stop-color="#ebe7ee"/><stop offset="0.874" stop-color="#f3f1f5"/><stop offset="0.902" stop-color="#f8f7f9"/><stop offset="0.997" stop-color="#fdfdfd"/></linearGradient><linearGradient id="d112"><stop offset="0.003" stop-color="#fdfdfd"/><stop offset="0.138" stop-color="#f7f7f8"/><stop offset="0.244" stop-color="#d5e4da"/><stop offset="0.289" stop-color="#b7d4bf"/><stop offset="0.323" stop-color="#a6cab0"/><stop offset="0.413" stop-color="#92b89f"/><stop offset="0.492" stop-color="#8ba699"/><stop offset="0.531" stop-color="#879796"/><stop offset="0.598" stop-color="#7a748d"/><stop offset="0.638" stop-color="#6d5b82"/><stop offset="0.660" stop-color="#5e4576"/><stop offset="0.683" stop-color="#54366d"/><stop offset="0.705" stop-color="#502e6a"/><stop offset="0.733" stop-color="#502b6a"/><stop offset="0.761" stop-color="#552f6f"/><stop offset="0.784" stop-color="#694780"/><stop offset="0.806" stop-color="#9076a0"/><stop offset="0.834" stop-color="#d1c7d8"/><stop offset="0.846" stop-color="#e1dae6"/><stop offset="0.857" stop-color="#ebe6ee"/><stop offset="0.874" stop-color="#f3f0f5"/><stop offset="0.896" stop-color="#f8f6f9"/><stop offset="0.997" stop-color="#fdfdfd"/></linearGradient><linearGradient id="d113"><stop offset="0.003" stop-color="#fdfdfd"/><stop offset="0.144" stop-color="#f6f7f8"/><stop offset="0.251" stop-color="#d4e3d9"/><stop offset="0.297" stop-color="#b7d2bf"/><stop offset="0.331" stop-color="#a6c8b0"/><stop offset="0.415" stop-color="#93b4a0"/><stop offset="0.466" stop-color="#8ea79b"/><stop offset="0.517" stop-color="#879796"/><stop offset="0.596" stop-color="#776d8b"/><stop offset="0.647" stop-color="#68517e"/><stop offset="0.686" stop-color="#55356e"/><stop offset="0.732" stop-color="#512b6b"/><stop offset="0.771" stop-color="#583272"/><stop offset="0.788" stop-color="#68457f"/><stop offset="0.799" stop-color="#795a8e"/><stop offset="0.816" stop-color="#9a82a9"/><stop offset="0.833" stop-color="#c3b5cc"/><stop offset="0.845" stop-color="#d9d0df"/><stop offset="0.862" stop-color="#ebe6ee"/><stop offset="0.879" stop-color="#f3f0f5"/><stop offset="0.901" stop-color="#f8f6f9"/><stop offset="0.997" stop-color="#fdfdfd"/></linearGradient><linearGradient id="d114"><stop offset="0.003" stop-color="#fdfdfd"/><stop offset="0.149" stop-color="#f7f6f8"/><stop offset="0.261" stop-color="#d3e1d8"/><stop offset="0.306" stop-color="#b6d0bf"/><stop offset="0.346" stop-color="#a5c3af"/><stop offset="0.430" stop-color="#92ac9f"/><stop offset="0.508" stop-color="#869296"/><stop offset="0.610" stop-color="#6f5d84"/><stop offset="0.683" stop-color="#573570"/><stop offset="0.711" stop-color="#512c6b"/><stop offset="0.733" stop-color="#512a6b"/><stop offset="0.767" stop-color="#573071"/><stop offset="0.778" stop-color="#5c3675"/><stop offset="0.789" stop-color="#67447f"/><stop offset="0.806" stop-color="#836696"/><stop offset="0.846" stop-color="#d7cddd"/><stop offset="0.857" stop-color="#e6e0e9"/><stop offset="0.868" stop-color="#eeeaf1"/><stop offset="0.907" stop-color="#f9f7fa"/><stop offset="0.997" stop-color="#fdfdfd"/></linearGradient><linearGradient id="d115"><stop offset="0.003" stop-color="#fdfdfd"/><stop offset="0.154" stop-color="#f6f6f7"/><stop offset="0.267" stop-color="#d1ded7"/><stop offset="0.329" stop-color="#aec7b7"/><stop offset="0.379" stop-color="#9db5a9"/><stop offset="0.514" stop-color="#828693"/><stop offset="0.593" stop-color="#6e5c83"/><stop offset="0.683" stop-color="#573370"/><stop offset="0.728" stop-color="#512a6b"/><stop offset="0.767" stop-color="#583171"/><stop offset="0.789" stop-color="#67437e"/><stop offset="0.806" stop-color="#826495"/><stop offset="0.846" stop-color="#d5cbdb"/><stop offset="0.857" stop-color="#e5dee9"/><stop offset="0.868" stop-color="#eeeaf0"/><stop offset="0.907" stop-color="#f9f7fa"/><stop offset="0.997" stop-color="#fdfdfd"/></linearGradient><linearGradient id="d116"><stop offset="0.003" stop-color="#fdfdfd"/><stop offset="0.160" stop-color="#f5f5f7"/><stop offset="0.272" stop-color="#d0dbd6"/><stop offset="0.334" stop-color="#adc2b7"/><stop offset="0.390" stop-color="#9aaca7"/><stop offset="0.503" stop-color="#818092"/><stop offset="0.621" stop-color="#63467a"/><stop offset="0.694" stop-color="#542e6e"/><stop offset="0.728" stop-color="#51296b"/><stop offset="0.761" stop-color="#562f70"/><stop offset="0.789" stop-color="#67437e"/><stop offset="0.806" stop-color="#816395"/><stop offset="0.846" stop-color="#d3c8d9"/><stop offset="0.857" stop-color="#e3dde8"/><stop offset="0.868" stop-color="#ede9f0"/><stop offset="0.907" stop-color="#f9f7fa"/><stop offset="0.997" stop-color="#fdfdfd"/></linearGradient><linearGradient id="d117"><stop offset="0.003" stop-color="#fdfdfd"/><stop offset="0.166" stop-color="#f5f3f6"/><stop offset="0.278" stop-color="#cfd8d5"/><stop offset="0.340" stop-color="#acbcb6"/><stop offset="0.396" stop-color="#97a3a5"/><stop offset="0.604" stop-color="#62457a"/><stop offset="0.688" stop-color="#542d6e"/><stop offset="0.728" stop-color="#51296c"/><stop offset="0.767" stop-color="#593272"/><stop offset="0.784" stop-color="#633e7b"/><stop offset="0.795" stop-color="#6e4c84"/><stop offset="0.806" stop-color="#816394"/><stop offset="0.834" stop-color="#bdadc7"/><stop offset="0.851" stop-color="#dad2e0"/><stop offset="0.868" stop-color="#ede9f0"/><stop offset="0.885" stop-color="#f4f2f6"/><stop offset="0.907" stop-color="#f9f7fa"/><stop offset="0.997" stop-color="#fdfdfd"/></linearGradient><linearGradient id="d118"><stop offset="0.003" stop-color="#fdfdfd"/><stop offset="0.172" stop-color="#f4f2f5"/><stop offset="0.257" stop-color="#d6dcdb"/><stop offset="0.285" stop-color="#cdd4d3"/><stop offset="0.364" stop-color="#a2adae"/><stop offset="0.455" stop-color="#848395"/><stop offset="0.602" stop-color="#5f4177"/><stop offset="0.658" stop-color="#573271"/><stop offset="0.726" stop-color="#51296c"/><stop offset="0.766" stop-color="#583071"/><stop offset="0.782" stop-color="#603a78"/><stop offset="0.794" stop-color="#6a4681"/><stop offset="0.811" stop-color="#816394"/><stop offset="0.845" stop-color="#c7bad0"/><stop offset="0.862" stop-color="#e1dae6"/><stop offset="0.879" stop-color="#f0ecf2"/><stop offset="0.912" stop-color="#f9f7fa"/><stop offset="0.997" stop-color="#fdfdfd"/></linearGradient><linearGradient id="d119"><stop offset="0.003" stop-color="#fdfcfd"/><stop offset="0.173" stop-color="#f2f0f4"/><stop offset="0.230" stop-color="#dee1e2"/><stop offset="0.293" stop-color="#c7cccf"/><stop offset="0.366" stop-color="#9fa4ac"/><stop offset="0.457" stop-color="#7f7691"/><stop offset="0.594" stop-color="#5d3c75"/><stop offset="0.651" stop-color="#56306f"/><stop offset="0.719" stop-color="#51296c"/><stop offset="0.759" stop-color="#572f70"/><stop offset="0.781" stop-color="#623c7a"/><stop offset="0.793" stop-color="#6c4982"/><stop offset="0.810" stop-color="#826495"/><stop offset="0.838" stop-color="#bdaec7"/><stop offset="0.849" stop-color="#d1c6d8"/><stop offset="0.866" stop-color="#e7e1ea"/><stop offset="0.878" stop-color="#efecf2"/><stop offset="0.918" stop-color="#f9f8fa"/><stop offset="0.997" stop-color="#fdfdfd"/></linearGradient><linearGradient id="d120"><stop offset="0.003" stop-color="#fcfcfd"/><stop offset="0.146" stop-color="#f5f3f6"/><stop offset="0.174" stop-color="#f1eff3"/><stop offset="0.203" stop-color="#e6e7ea"/><stop offset="0.289" stop-color="#c7c9cf"/><stop offset="0.369" stop-color="#9a99a8"/><stop offset="0.409" stop-color="#888199"/><stop offset="0.460" stop-color="#786a8c"/><stop offset="0.597" stop-color="#593672"/><stop offset="0.711" stop-color="#51296c"/><stop offset="0.751" stop-color="#562d70"/><stop offset="0.786" stop-color="#68447f"/><stop offset="0.797" stop-color="#75548a"/><stop offset="0.814" stop-color="#8f74a0"/><stop offset="0.837" stop-color="#beafc8"/><stop offset="0.849" stop-color="#d2c7d9"/><stop offset="0.866" stop-color="#e6e0ea"/><stop offset="0.877" stop-color="#efebf1"/><stop offset="0.917" stop-color="#f9f8fa"/><stop offset="0.997" stop-color="#fdfdfd"/></linearGradient><linearGradient id="d121"><stop offset="0.003" stop-color="#fcfcfd"/><stop offset="0.106" stop-color="#f8f6f9"/><stop offset="0.181" stop-color="#eeebf0"/><stop offset="0.290" stop-color="#c3c2cb"/><stop offset="0.371" stop-color="#948ea4"/><stop offset="0.405" stop-color="#847896"/><stop offset="0.440" stop-color="#79688c"/><stop offset="0.514" stop-color="#664a7d"/><stop offset="0.595" stop-color="#573270"/><stop offset="0.704" stop-color="#51286c"/><stop offset="0.750" stop-color="#572f71"/><stop offset="0.784" stop-color="#6b4782"/><stop offset="0.807" stop-color="#886c9a"/><stop offset="0.848" stop-color="#d3c8d9"/><stop offset="0.859" stop-color="#e1dae5"/><stop offset="0.876" stop-color="#efebf1"/><stop offset="0.911" stop-color="#f9f7fa"/><stop offset="0.997" stop-color="#fdfdfd"/></linearGradient><linearGradient id="d122"><stop offset="0.003" stop-color="#fcfcfc"/><stop offset="0.107" stop-color="#f7f6f8"/><stop offset="0.182" stop-color="#ebe8ee"/><stop offset="0.292" stop-color="#bfbac8"/><stop offset="0.367" stop-color="#9186a1"/><stop offset="0.425" stop-color="#78648c"/><stop offset="0.506" stop-color="#64467b"/><stop offset="0.587" stop-color="#563170"/><stop offset="0.697" stop-color="#52286c"/><stop offset="0.749" stop-color="#593172"/><stop offset="0.777" stop-color="#694580"/><stop offset="0.801" stop-color="#826596"/><stop offset="0.847" stop-color="#d4c9da"/><stop offset="0.858" stop-color="#e2dae6"/><stop offset="0.876" stop-color="#eeeaf1"/><stop offset="0.910" stop-color="#f9f7fa"/><stop offset="0.997" stop-color="#fdfdfd"/></linearGradient><linearGradient id="d123"><stop offset="0.003" stop-color="#fcfbfc"/><stop offset="0.102" stop-color="#f7f5f8"/><stop offset="0.178" stop-color="#ebe7ee"/><stop offset="0.295" stop-color="#b9b2c3"/><stop offset="0.371" stop-color="#8b7b9c"/><stop offset="0.430" stop-color="#725987"/><stop offset="0.553" stop-color="#593572"/><stop offset="0.611" stop-color="#532b6d"/><stop offset="0.675" stop-color="#51286c"/><stop offset="0.734" stop-color="#562d70"/><stop offset="0.757" stop-color="#5d3676"/><stop offset="0.775" stop-color="#67437e"/><stop offset="0.804" stop-color="#866999"/><stop offset="0.851" stop-color="#d5cbdb"/><stop offset="0.874" stop-color="#ebe7ee"/><stop offset="0.892" stop-color="#f3f1f5"/><stop offset="0.915" stop-color="#f9f7fa"/><stop offset="0.997" stop-color="#fdfdfd"/></linearGradient><linearGradient id="d124"><stop offset="0.003" stop-color="#fcfbfc"/><stop offset="0.103" stop-color="#f6f4f7"/><stop offset="0.179" stop-color="#e9e4ec"/><stop offset="0.297" stop-color="#b3a9be"/><stop offset="0.362" stop-color="#8a789c"/><stop offset="0.421" stop-color="#6f5485"/><stop offset="0.532" stop-color="#5a3573"/><stop offset="0.609" stop-color="#522a6c"/><stop offset="0.656" stop-color="#51286c"/><stop offset="0.721" stop-color="#552c6f"/><stop offset="0.744" stop-color="#5b3374"/><stop offset="0.768" stop-color="#66417d"/><stop offset="0.785" stop-color="#76558b"/><stop offset="0.803" stop-color="#8b6f9d"/><stop offset="0.844" stop-color="#cdc2d5"/><stop offset="0.856" stop-color="#ddd5e2"/><stop offset="0.879" stop-color="#efebf1"/><stop offset="0.921" stop-color="#f9f8fa"/><stop offset="0.997" stop-color="#fdfdfd"/></linearGradient><linearGradient id="d125"><stop offset="0.003" stop-color="#fbfbfc"/><stop offset="0.104" stop-color="#f5f3f7"/><stop offset="0.180" stop-color="#e6e0ea"/><stop offset="0.299" stop-color="#ad9fb9"/><stop offset="0.364" stop-color="#846e96"/><stop offset="0.423" stop-color="#6a4c80"/><stop offset="0.524" stop-color="#593472"/><stop offset="0.636" stop-color="#51286c"/><stop offset="0.719" stop-color="#562d70"/><stop offset="0.760" stop-color="#66417d"/><stop offset="0.778" stop-color="#745289"/><stop offset="0.796" stop-color="#896c9b"/><stop offset="0.814" stop-color="#a18baf"/><stop offset="0.837" stop-color="#c7bad0"/><stop offset="0.855" stop-color="#ded7e3"/><stop offset="0.879" stop-color="#efecf2"/><stop offset="0.920" stop-color="#f9f8fa"/><stop offset="0.997" stop-color="#fdfdfd"/></linearGradient><linearGradient id="d126"><stop offset="0.003" stop-color="#fbfafc"/><stop offset="0.104" stop-color="#f4f2f6"/><stop offset="0.182" stop-color="#e3dce7"/><stop offset="0.301" stop-color="#a796b4"/><stop offset="0.366" stop-color="#7e6591"/><stop offset="0.426" stop-color="#66457d"/><stop offset="0.515" stop-color="#583272"/><stop offset="0.622" stop-color="#51286c"/><stop offset="0.717" stop-color="#582f71"/><stop offset="0.753" stop-color="#66417d"/><stop offset="0.783" stop-color="#7f6093"/><stop offset="0.848" stop-color="#d9d0df"/><stop offset="0.860" stop-color="#e5dfe9"/><stop offset="0.878" stop-color="#f0ecf2"/><stop offset="0.920" stop-color="#f9f8fa"/><stop offset="0.997" stop-color="#fdfdfd"/></linearGradient><linearGradient id="d127"><stop offset="0.003" stop-color="#fbfafb"/><stop offset="0.099" stop-color="#f4f2f6"/><stop offset="0.184" stop-color="#dfd8e4"/><stop offset="0.304" stop-color="#a18eaf"/><stop offset="0.364" stop-color="#7c6090"/><stop offset="0.425" stop-color="#64417b"/><stop offset="0.521" stop-color="#573071"/><stop offset="0.630" stop-color="#52296c"/><stop offset="0.720" stop-color="#5a3373"/><stop offset="0.750" stop-color="#66417e"/><stop offset="0.786" stop-color="#856797"/><stop offset="0.846" stop-color="#d5cbdb"/><stop offset="0.877" stop-color="#eeeaf1"/><stop offset="0.925" stop-color="#f9f8fa"/><stop offset="0.997" stop-color="#fdfdfd"/></linearGradient><linearGradient id="d128"><stop offset="0.003" stop-color="#fafafb"/><stop offset="0.094" stop-color="#f4f2f6"/><stop offset="0.173" stop-color="#e0dae5"/><stop offset="0.306" stop-color="#9b86aa"/><stop offset="0.367" stop-color="#775a8c"/><stop offset="0.427" stop-color="#613d79"/><stop offset="0.518" stop-color="#573070"/><stop offset="0.621" stop-color="#532a6d"/><stop offset="0.694" stop-color="#593273"/><stop offset="0.730" stop-color="#603a79"/><stop offset="0.742" stop-color="#66427e"/><stop offset="0.761" stop-color="#735289"/><stop offset="0.785" stop-color="#8b6f9d"/><stop offset="0.845" stop-color="#d8cede"/><stop offset="0.876" stop-color="#efebf1"/><stop offset="0.924" stop-color="#f9f8fa"/><stop offset="0.997" stop-color="#fdfdfd"/></linearGradient><linearGradient id="d129"><stop offset="0.003" stop-color="#faf9fb"/><stop offset="0.088" stop-color="#f5f3f6"/><stop offset="0.168" stop-color="#e0d8e4"/><stop offset="0.192" stop-color="#d5ccdc"/><stop offset="0.357" stop-color="#795b8e"/><stop offset="0.418" stop-color="#623e7a"/><stop offset="0.485" stop-color="#593272"/><stop offset="0.601" stop-color="#542b6e"/><stop offset="0.674" stop-color="#593273"/><stop offset="0.741" stop-color="#6a4681"/><stop offset="0.777" stop-color="#8b6f9d"/><stop offset="0.820" stop-color="#c0b1ca"/><stop offset="0.845" stop-color="#dad1e0"/><stop offset="0.875" stop-color="#f0ecf2"/><stop offset="0.912" stop-color="#f8f6f9"/><stop offset="0.997" stop-color="#fdfdfd"/></linearGradient><linearGradient id="d130"><stop offset="0.003" stop-color="#faf9fb"/><stop offset="0.089" stop-color="#f4f2f6"/><stop offset="0.156" stop-color="#e1dae6"/><stop offset="0.193" stop-color="#d2c8d9"/><stop offset="0.353" stop-color="#795a8d"/><stop offset="0.414" stop-color="#623e7a"/><stop offset="0.475" stop-color="#5a3373"/><stop offset="0.598" stop-color="#562d6f"/><stop offset="0.672" stop-color="#5c3575"/><stop offset="0.739" stop-color="#704d86"/><stop offset="0.770" stop-color="#8b6f9d"/><stop offset="0.831" stop-color="#d2c7d9"/><stop offset="0.856" stop-color="#e7e1ea"/><stop offset="0.874" stop-color="#f0edf3"/><stop offset="0.911" stop-color="#f8f7f9"/><stop offset="0.997" stop-color="#fdfdfd"/></linearGradient><linearGradient id="d131"><stop offset="0.003" stop-color="#f9f8fa"/><stop offset="0.090" stop-color="#f3f1f5"/><stop offset="0.145" stop-color="#e3dde7"/><stop offset="0.188" stop-color="#d2c7d9"/><stop offset="0.256" stop-color="#a996b6"/><stop offset="0.349" stop-color="#7a5b8e"/><stop offset="0.404" stop-color="#65417c"/><stop offset="0.460" stop-color="#5b3574"/><stop offset="0.596" stop-color="#583071"/><stop offset="0.670" stop-color="#603a79"/><stop offset="0.744" stop-color="#7a5a8e"/><stop offset="0.762" stop-color="#8b6f9d"/><stop offset="0.824" stop-color="#d1c5d8"/><stop offset="0.843" stop-color="#e0d9e5"/><stop offset="0.867" stop-color="#efebf1"/><stop offset="0.904" stop-color="#f8f6f9"/><stop offset="0.997" stop-color="#fdfdfd"/></linearGradient><linearGradient id="d132"><stop offset="0.003" stop-color="#f9f8fa"/><stop offset="0.091" stop-color="#f3f0f5"/><stop offset="0.141" stop-color="#e3dde7"/><stop offset="0.191" stop-color="#cfc3d6"/><stop offset="0.259" stop-color="#a691b3"/><stop offset="0.347" stop-color="#7b5c8f"/><stop offset="0.397" stop-color="#68447f"/><stop offset="0.447" stop-color="#5d3776"/><stop offset="0.566" stop-color="#5a3373"/><stop offset="0.653" stop-color="#603a79"/><stop offset="0.697" stop-color="#6d4a83"/><stop offset="0.741" stop-color="#7f6193"/><stop offset="0.759" stop-color="#8b6f9c"/><stop offset="0.803" stop-color="#bcacc6"/><stop offset="0.834" stop-color="#dad2e0"/><stop offset="0.872" stop-color="#f0ecf2"/><stop offset="0.909" stop-color="#f8f7f9"/><stop offset="0.997" stop-color="#fdfdfd"/></linearGradient><linearGradient id="d133"><stop offset="0.003" stop-color="#f9f7fa"/><stop offset="0.091" stop-color="#f2eff4"/><stop offset="0.129" stop-color="#e6e0ea"/><stop offset="0.192" stop-color="#ccc0d4"/><stop offset="0.280" stop-color="#9a82a9"/><stop offset="0.355" stop-color="#77578c"/><stop offset="0.393" stop-color="#6a4781"/><stop offset="0.450" stop-color="#5f3877"/><stop offset="0.538" stop-color="#5d3676"/><stop offset="0.613" stop-color="#5f3978"/><stop offset="0.676" stop-color="#6d4a83"/><stop offset="0.758" stop-color="#9379a3"/><stop offset="0.814" stop-color="#cec3d6"/><stop offset="0.852" stop-color="#e9e4ed"/><stop offset="0.903" stop-color="#f8f6f9"/><stop offset="0.997" stop-color="#fdfdfd"/></linearGradient><linearGradient id="d134"><stop offset="0.003" stop-color="#f8f7f9"/><stop offset="0.085" stop-color="#f3f0f4"/><stop offset="0.111" stop-color="#ebe7ee"/><stop offset="0.193" stop-color="#cabdd2"/><stop offset="0.275" stop-color="#9b84ab"/><stop offset="0.383" stop-color="#6f4d85"/><stop offset="0.446" stop-color="#613c79"/><stop offset="0.503" stop-color="#603a78"/><stop offset="0.617" stop-color="#65407c"/><stop offset="0.661" stop-color="#6f4c85"/><stop offset="0.706" stop-color="#826395"/><stop offset="0.763" stop-color="#a18aaf"/><stop offset="0.813" stop-color="#d3c9da"/><stop offset="0.851" stop-color="#ece7ef"/><stop offset="0.902" stop-color="#f8f7f9"/><stop offset="0.997" stop-color="#fdfdfd"/></linearGradient><linearGradient id="d135"><stop offset="0.003" stop-color="#f8f6f9"/><stop offset="0.092" stop-color="#f1eef3"/><stop offset="0.194" stop-color="#c8bbd1"/><stop offset="0.264" stop-color="#a18aaf"/><stop offset="0.360" stop-color="#795a8e"/><stop offset="0.424" stop-color="#68447f"/><stop offset="0.475" stop-color="#643f7c"/><stop offset="0.596" stop-color="#694580"/><stop offset="0.646" stop-color="#725088"/><stop offset="0.691" stop-color="#846797"/><stop offset="0.768" stop-color="#af9cbb"/><stop offset="0.812" stop-color="#d8cfde"/><stop offset="0.850" stop-color="#eeeaf0"/><stop offset="0.901" stop-color="#f9f7fa"/><stop offset="0.997" stop-color="#fdfdfd"/></linearGradient><linearGradient id="d136"><stop offset="0.003" stop-color="#f8f6f9"/><stop offset="0.093" stop-color="#f1edf3"/><stop offset="0.196" stop-color="#c7bad0"/><stop offset="0.266" stop-color="#a18aaf"/><stop offset="0.356" stop-color="#7e5f92"/><stop offset="0.407" stop-color="#704d86"/><stop offset="0.458" stop-color="#68447f"/><stop offset="0.554" stop-color="#6d4983"/><stop offset="0.631" stop-color="#76558b"/><stop offset="0.670" stop-color="#846697"/><stop offset="0.715" stop-color="#9c84ab"/><stop offset="0.772" stop-color="#bcacc6"/><stop offset="0.811" stop-color="#dcd4e2"/><stop offset="0.843" stop-color="#ede9f0"/><stop offset="0.894" stop-color="#f8f7f9"/><stop offset="0.997" stop-color="#fdfdfd"/></linearGradient><linearGradient id="d137"><stop offset="0.003" stop-color="#f7f6f8"/><stop offset="0.094" stop-color="#f0edf3"/><stop offset="0.197" stop-color="#c7b9cf"/><stop offset="0.242" stop-color="#ae9aba"/><stop offset="0.287" stop-color="#9a82aa"/><stop offset="0.384" stop-color="#7a5a8e"/><stop offset="0.461" stop-color="#6d4b84"/><stop offset="0.545" stop-color="#735289"/><stop offset="0.629" stop-color="#7e5f92"/><stop offset="0.674" stop-color="#9076a1"/><stop offset="0.777" stop-color="#c8bbd1"/><stop offset="0.816" stop-color="#e4dde8"/><stop offset="0.842" stop-color="#efebf2"/><stop offset="0.900" stop-color="#f9f8fa"/><stop offset="0.997" stop-color="#fdfdfd"/></linearGradient><linearGradient id="d138"><stop offset="0.003" stop-color="#f7f5f8"/><stop offset="0.094" stop-color="#f0edf2"/><stop offset="0.198" stop-color="#c7bad0"/><stop offset="0.244" stop-color="#af9cbb"/><stop offset="0.289" stop-color="#9d86ac"/><stop offset="0.386" stop-color="#7f6093"/><stop offset="0.464" stop-color="#745389"/><stop offset="0.549" stop-color="#7c5d90"/><stop offset="0.633" stop-color="#8a6e9c"/><stop offset="0.679" stop-color="#9e86ad"/><stop offset="0.815" stop-color="#e7e1eb"/><stop offset="0.847" stop-color="#f3f0f4"/><stop offset="0.906" stop-color="#faf9fb"/><stop offset="0.997" stop-color="#fdfdfd"/></linearGradient><linearGradient id="d139"><stop offset="0.003" stop-color="#f7f5f8"/><stop offset="0.095" stop-color="#f0ecf2"/><stop offset="0.201" stop-color="#c8bbd0"/><stop offset="0.247" stop-color="#b19fbd"/><stop offset="0.286" stop-color="#a38db1"/><stop offset="0.391" stop-color="#856898"/><stop offset="0.464" stop-color="#7c5d90"/><stop offset="0.549" stop-color="#866898"/><stop offset="0.641" stop-color="#967da6"/><stop offset="0.753" stop-color="#cdc1d4"/><stop offset="0.845" stop-color="#f2eff4"/><stop offset="0.891" stop-color="#f9f8fa"/><stop offset="0.997" stop-color="#fdfdfd"/></linearGradient><linearGradient id="d140"><stop offset="0.003" stop-color="#f7f5f8"/><stop offset="0.096" stop-color="#f0ecf2"/><stop offset="0.288" stop-color="#a792b5"/><stop offset="0.394" stop-color="#8d719e"/><stop offset="0.467" stop-color="#856898"/><stop offset="0.546" stop-color="#9075a1"/><stop offset="0.646" stop-color="#a38db1"/><stop offset="0.752" stop-color="#d4cadb"/><stop offset="0.844" stop-color="#f4f1f5"/><stop offset="0.897" stop-color="#faf9fb"/><stop offset="0.997" stop-color="#fdfdfd"/></linearGradient><linearGradient id="d141"><stop offset="0.003" stop-color="#f6f4f8"/><stop offset="0.097" stop-color="#f0ecf2"/><stop offset="0.151" stop-color="#dbd2e0"/><stop offset="0.205" stop-color="#ccbfd4"/><stop offset="0.292" stop-color="#ac98b9"/><stop offset="0.399" stop-color="#957ca5"/><stop offset="0.473" stop-color="#9075a1"/><stop offset="0.654" stop-color="#b09ebc"/><stop offset="0.748" stop-color="#d8cfde"/><stop offset="0.842" stop-color="#f4f1f5"/><stop offset="0.896" stop-color="#faf9fb"/><stop offset="0.997" stop-color="#fdfdfd"/></linearGradient><linearGradient id="d142"><stop offset="0.003" stop-color="#f6f4f8"/><stop offset="0.099" stop-color="#f0ecf2"/><stop offset="0.153" stop-color="#dbd3e1"/><stop offset="0.207" stop-color="#cec3d6"/><stop offset="0.289" stop-color="#b4a2bf"/><stop offset="0.398" stop-color="#9f88ae"/><stop offset="0.473" stop-color="#9b83aa"/><stop offset="0.663" stop-color="#bdadc7"/><stop offset="0.759" stop-color="#e0d9e5"/><stop offset="0.847" stop-color="#f5f2f6"/><stop offset="0.895" stop-color="#faf9fb"/><stop offset="0.997" stop-color="#fdfdfd"/></linearGradient><linearGradient id="d143"><stop offset="0.003" stop-color="#f6f4f7"/><stop offset="0.101" stop-color="#f0ecf2"/><stop offset="0.156" stop-color="#ddd5e2"/><stop offset="0.212" stop-color="#d1c6d8"/><stop offset="0.295" stop-color="#baa9c4"/><stop offset="0.399" stop-color="#aa95b7"/><stop offset="0.469" stop-color="#a691b4"/><stop offset="0.503" stop-color="#a893b6"/><stop offset="0.677" stop-color="#c8bbd1"/><stop offset="0.753" stop-color="#e2dbe6"/><stop offset="0.809" stop-color="#eeeaf1"/><stop offset="0.892" stop-color="#faf8fb"/><stop offset="0.997" stop-color="#fdfdfd"/></linearGradient><linearGradient id="d144"><stop offset="0.004" stop-color="#f6f4f7"/><stop offset="0.102" stop-color="#f0ecf2"/><stop offset="0.158" stop-color="#ded7e3"/><stop offset="0.306" stop-color="#bfb0c9"/><stop offset="0.405" stop-color="#b3a1bf"/><stop offset="0.461" stop-color="#b19ebd"/><stop offset="0.504" stop-color="#b3a1bf"/><stop offset="0.687" stop-color="#d2c8d9"/><stop offset="0.757" stop-color="#e6e0ea"/><stop offset="0.813" stop-color="#f1edf3"/><stop offset="0.898" stop-color="#faf9fb"/><stop offset="0.996" stop-color="#fdfdfd"/></linearGradient><linearGradient id="d145"><stop offset="0.004" stop-color="#f6f4f7"/><stop offset="0.104" stop-color="#f0edf3"/><stop offset="0.161" stop-color="#e0d9e5"/><stop offset="0.304" stop-color="#c7b9cf"/><stop offset="0.454" stop-color="#bcabc6"/><stop offset="0.511" stop-color="#beafc8"/><stop offset="0.696" stop-color="#dbd3e1"/><stop offset="0.811" stop-color="#f2eff4"/><stop offset="0.904" stop-color="#fbf9fb"/><stop offset="0.996" stop-color="#fdfdfd"/></linearGradient><linearGradient id="d146"><stop offset="0.004" stop-color="#f6f4f8"/><stop offset="0.105" stop-color="#f1edf3"/><stop offset="0.163" stop-color="#e2dce7"/><stop offset="0.308" stop-color="#cdc2d5"/><stop offset="0.453" stop-color="#c6b8ce"/><stop offset="0.518" stop-color="#c9bcd1"/><stop offset="0.815" stop-color="#f4f1f6"/><stop offset="0.996" stop-color="#fdfdfd"/></linearGradient><linearGradient id="d147"><stop offset="0.004" stop-color="#f6f4f8"/><stop offset="0.107" stop-color="#f1eef3"/><stop offset="0.167" stop-color="#e5dee9"/><stop offset="0.307" stop-color="#d4cadb"/><stop offset="0.448" stop-color="#cfc3d6"/><stop offset="0.530" stop-color="#d2c8d9"/><stop offset="0.819" stop-color="#f5f3f7"/><stop offset="0.996" stop-color="#fdfdfd"/></linearGradient><linearGradient id="d148"><stop offset="0.004" stop-color="#f6f4f8"/><stop offset="0.110" stop-color="#f2eef4"/><stop offset="0.170" stop-color="#e7e1eb"/><stop offset="0.307" stop-color="#dbd2e0"/><stop offset="0.451" stop-color="#d7cddd"/><stop offset="0.534" stop-color="#dad1e0"/><stop offset="0.830" stop-color="#f7f5f8"/><stop offset="0.996" stop-color="#fdfdfd"/></linearGradient><linearGradient id="d149"><stop offset="0.004" stop-color="#f7f5f8"/><stop offset="0.112" stop-color="#f2eff4"/><stop offset="0.173" stop-color="#e9e4ed"/><stop offset="0.304" stop-color="#e0d9e5"/><stop offset="0.442" stop-color="#ddd5e3"/><stop offset="0.542" stop-color="#e1dae6"/><stop offset="0.835" stop-color="#f8f6f9"/><stop offset="0.996" stop-color="#fdfdfd"/></linearGradient><linearGradient id="d150"><stop offset="0.004" stop-color="#f7f5f8"/><stop offset="0.105" stop-color="#f3f0f5"/><stop offset="0.176" stop-color="#ebe7ee"/><stop offset="0.301" stop-color="#e5dfe9"/><stop offset="0.441" stop-color="#e3dde7"/><stop offset="0.840" stop-color="#f9f7fa"/><stop offset="0.996" stop-color="#fdfdfd"/></linearGradient><linearGradient id="d151"><stop offset="0.004" stop-color="#f7f5f8"/><stop offset="0.194" stop-color="#ede8ef"/><stop offset="0.440" stop-color="#e8e3ec"/><stop offset="0.996" stop-color="#fdfdfd"/></linearGradient><linearGradient id="d152"><stop offset="0.004" stop-color="#f8f6f9"/><stop offset="0.190" stop-color="#efebf1"/><stop offset="0.383" stop-color="#ece7ef"/><stop offset="0.996" stop-color="#fdfdfd"/></linearGradient><linearGradient id="d153"><stop offset="0.004" stop-color="#f8f6f9"/><stop offset="0.193" stop-color="#f1edf3"/><stop offset="0.389" stop-color="#efebf1"/><stop offset="0.996" stop-color="#fdfdfd"/></linearGradient><linearGradient id="d154"><stop offset="0.004" stop-color="#f8f7f9"/><stop offset="0.391" stop-color="#f2eef4"/><stop offset="0.996" stop-color="#fdfdfd"/></linearGradient><linearGradient id="d155"><stop offset="0.004" stop-color="#f9f7fa"/><stop offset="0.384" stop-color="#f4f1f5"/><stop offset="0.996" stop-color="#fdfdfd"/></linearGradient><linearGradient id="d156"><stop offset="0.004" stop-color="#f9f8fa"/><stop offset="0.388" stop-color="#f5f3f7"/><stop offset="0.996" stop-color="#fdfdfd"/></linearGradient><linearGradient id="d157"><stop offset="0.005" stop-color="#f9f8fa"/><stop offset="0.381" stop-color="#f7f5f8"/><stop offset="0.995" stop-color="#fdfdfd"/></linearGradient><linearGradient id="d158"><stop offset="0.005" stop-color="#faf9fb"/><stop offset="0.376" stop-color="#f8f6f9"/><stop offset="0.995" stop-color="#fdfdfd"/></linearGradient><linearGradient id="d159"><stop offset="0.005" stop-color="#faf9fb"/><stop offset="0.243" stop-color="#f8f7f9"/><stop offset="0.995" stop-color="#fdfdfd"/></linearGradient></defs><g clip-path="url(#cpd)"><g filter="url(#bl)"><rect x="740" y="1362" width="120" height="4" fill="url(#d0)"/><rect x="737" y="1366" width="123" height="4" fill="url(#d1)"/><rect x="731" y="1370" width="129" height="4" fill="url(#d2)"/><rect x="404" y="1374" width="456" height="4" fill="url(#d3)"/><rect x="380" y="1378" width="480" height="4" fill="url(#d4)"/><rect x="362" y="1382" width="498" height="4" fill="url(#d5)"/><rect x="350" y="1386" width="510" height="4" fill="url(#d6)"/><rect x="338" y="1390" width="522" height="4" fill="url(#d7)"/><rect x="326" y="1394" width="534" height="4" fill="url(#d8)"/><rect x="317" y="1398" width="543" height="4" fill="url(#d9)"/><rect x="308" y="1402" width="552" height="4" fill="url(#d10)"/><rect x="299" y="1406" width="561" height="4" fill="url(#d11)"/><rect x="293" y="1410" width="567" height="4" fill="url(#d12)"/><rect x="287" y="1414" width="573" height="4" fill="url(#d13)"/><rect x="278" y="1418" width="582" height="4" fill="url(#d14)"/><rect x="272" y="1422" width="588" height="4" fill="url(#d15)"/><rect x="266" y="1426" width="594" height="4" fill="url(#d16)"/><rect x="263" y="1430" width="597" height="4" fill="url(#d17)"/><rect x="257" y="1434" width="603" height="4" fill="url(#d18)"/><rect x="251" y="1438" width="609" height="4" fill="url(#d19)"/><rect x="248" y="1442" width="612" height="4" fill="url(#d20)"/><rect x="242" y="1446" width="618" height="4" fill="url(#d21)"/><rect x="239" y="1450" width="621" height="4" fill="url(#d22)"/><rect x="233" y="1454" width="627" height="4" fill="url(#d23)"/><rect x="230" y="1458" width="630" height="4" fill="url(#d24)"/><rect x="227" y="1462" width="633" height="4" fill="url(#d25)"/><rect x="224" y="1466" width="636" height="4" fill="url(#d26)"/><rect x="218" y="1470" width="642" height="4" fill="url(#d27)"/><rect x="215" y="1474" width="645" height="4" fill="url(#d28)"/><rect x="212" y="1478" width="648" height="4" fill="url(#d29)"/><rect x="209" y="1482" width="651" height="4" fill="url(#d30)"/><rect x="206" y="1486" width="654" height="4" fill="url(#d31)"/><rect x="203" y="1490" width="657" height="4" fill="url(#d32)"/><rect x="203" y="1494" width="657" height="4" fill="url(#d33)"/><rect x="200" y="1498" width="660" height="4" fill="url(#d34)"/><rect x="197" y="1502" width="663" height="4" fill="url(#d35)"/><rect x="194" y="1506" width="666" height="4" fill="url(#d36)"/><rect x="194" y="1510" width="666" height="4" fill="url(#d37)"/><rect x="191" y="1514" width="669" height="4" fill="url(#d38)"/><rect x="188" y="1518" width="672" height="4" fill="url(#d39)"/><rect x="188" y="1522" width="672" height="4" fill="url(#d40)"/><rect x="185" y="1526" width="675" height="4" fill="url(#d41)"/><rect x="185" y="1530" width="675" height="4" fill="url(#d42)"/><rect x="182" y="1534" width="678" height="4" fill="url(#d43)"/><rect x="182" y="1538" width="678" height="4" fill="url(#d44)"/><rect x="179" y="1542" width="675" height="4" fill="url(#d45)"/><rect x="179" y="1546" width="672" height="4" fill="url(#d46)"/><rect x="176" y="1550" width="672" height="4" fill="url(#d47)"/><rect x="176" y="1554" width="666" height="4" fill="url(#d48)"/><rect x="176" y="1558" width="666" height="4" fill="url(#d49)"/><rect x="173" y="1562" width="666" height="4" fill="url(#d50)"/><rect x="173" y="1566" width="666" height="4" fill="url(#d51)"/><rect x="173" y="1570" width="663" height="4" fill="url(#d52)"/><rect x="173" y="1574" width="663" height="4" fill="url(#d53)"/><rect x="173" y="1578" width="660" height="4" fill="url(#d54)"/><rect x="170" y="1582" width="663" height="4" fill="url(#d55)"/><rect x="170" y="1586" width="660" height="4" fill="url(#d56)"/><rect x="170" y="1590" width="657" height="4" fill="url(#d57)"/><rect x="170" y="1594" width="657" height="4" fill="url(#d58)"/><rect x="170" y="1598" width="654" height="4" fill="url(#d59)"/><rect x="170" y="1602" width="651" height="4" fill="url(#d60)"/><rect x="170" y="1606" width="651" height="4" fill="url(#d61)"/><rect x="170" y="1610" width="648" height="4" fill="url(#d62)"/><rect x="170" y="1614" width="645" height="4" fill="url(#d63)"/><rect x="170" y="1618" width="642" height="4" fill="url(#d64)"/><rect x="170" y="1622" width="639" height="4" fill="url(#d65)"/><rect x="170" y="1626" width="636" height="4" fill="url(#d66)"/><rect x="170" y="1630" width="633" height="4" fill="url(#d67)"/><rect x="170" y="1634" width="630" height="4" fill="url(#d68)"/><rect x="170" y="1638" width="627" height="4" fill="url(#d69)"/><rect x="170" y="1642" width="624" height="4" fill="url(#d70)"/><rect x="170" y="1646" width="621" height="4" fill="url(#d71)"/><rect x="170" y="1650" width="618" height="4" fill="url(#d72)"/><rect x="170" y="1654" width="615" height="4" fill="url(#d73)"/><rect x="170" y="1658" width="612" height="4" fill="url(#d74)"/><rect x="170" y="1662" width="609" height="4" fill="url(#d75)"/><rect x="170" y="1666" width="606" height="4" fill="url(#d76)"/><rect x="167" y="1670" width="606" height="4" fill="url(#d77)"/><rect x="167" y="1674" width="603" height="4" fill="url(#d78)"/><rect x="167" y="1678" width="600" height="4" fill="url(#d79)"/><rect x="167" y="1682" width="597" height="4" fill="url(#d80)"/><rect x="167" y="1686" width="594" height="4" fill="url(#d81)"/><rect x="167" y="1690" width="591" height="4" fill="url(#d82)"/><rect x="164" y="1694" width="591" height="4" fill="url(#d83)"/><rect x="164" y="1698" width="588" height="4" fill="url(#d84)"/><rect x="164" y="1702" width="588" height="4" fill="url(#d85)"/><rect x="164" y="1706" width="585" height="4" fill="url(#d86)"/><rect x="161" y="1710" width="585" height="4" fill="url(#d87)"/><rect x="161" y="1714" width="582" height="4" fill="url(#d88)"/><rect x="161" y="1718" width="579" height="4" fill="url(#d89)"/><rect x="158" y="1722" width="579" height="4" fill="url(#d90)"/><rect x="155" y="1726" width="579" height="4" fill="url(#d91)"/><rect x="155" y="1730" width="573" height="4" fill="url(#d92)"/><rect x="152" y="1734" width="573" height="4" fill="url(#d93)"/><rect x="152" y="1738" width="570" height="4" fill="url(#d94)"/><rect x="149" y="1742" width="570" height="4" fill="url(#d95)"/><rect x="149" y="1746" width="567" height="4" fill="url(#d96)"/><rect x="149" y="1750" width="564" height="4" fill="url(#d97)"/><rect x="146" y="1754" width="564" height="4" fill="url(#d98)"/><rect x="146" y="1758" width="561" height="4" fill="url(#d99)"/><rect x="143" y="1762" width="561" height="4" fill="url(#d100)"/><rect x="143" y="1766" width="558" height="4" fill="url(#d101)"/><rect x="143" y="1770" width="552" height="4" fill="url(#d102)"/><rect x="140" y="1774" width="552" height="4" fill="url(#d103)"/><rect x="140" y="1778" width="549" height="4" fill="url(#d104)"/><rect x="137" y="1782" width="549" height="4" fill="url(#d105)"/><rect x="137" y="1786" width="546" height="4" fill="url(#d106)"/><rect x="137" y="1790" width="543" height="4" fill="url(#d107)"/><rect x="134" y="1794" width="540" height="4" fill="url(#d108)"/><rect x="134" y="1798" width="537" height="4" fill="url(#d109)"/><rect x="131" y="1802" width="537" height="4" fill="url(#d110)"/><rect x="128" y="1806" width="537" height="4" fill="url(#d111)"/><rect x="128" y="1810" width="534" height="4" fill="url(#d112)"/><rect x="125" y="1814" width="531" height="4" fill="url(#d113)"/><rect x="119" y="1818" width="534" height="4" fill="url(#d114)"/><rect x="116" y="1822" width="534" height="4" fill="url(#d115)"/><rect x="113" y="1826" width="534" height="4" fill="url(#d116)"/><rect x="110" y="1830" width="534" height="4" fill="url(#d117)"/><rect x="107" y="1834" width="531" height="4" fill="url(#d118)"/><rect x="107" y="1838" width="528" height="4" fill="url(#d119)"/><rect x="107" y="1842" width="525" height="4" fill="url(#d120)"/><rect x="107" y="1846" width="522" height="4" fill="url(#d121)"/><rect x="107" y="1850" width="519" height="4" fill="url(#d122)"/><rect x="107" y="1854" width="513" height="4" fill="url(#d123)"/><rect x="107" y="1858" width="510" height="4" fill="url(#d124)"/><rect x="107" y="1862" width="507" height="4" fill="url(#d125)"/><rect x="107" y="1866" width="504" height="4" fill="url(#d126)"/><rect x="107" y="1870" width="498" height="4" fill="url(#d127)"/><rect x="107" y="1874" width="495" height="4" fill="url(#d128)"/><rect x="107" y="1878" width="492" height="4" fill="url(#d129)"/><rect x="107" y="1882" width="489" height="4" fill="url(#d130)"/><rect x="107" y="1886" width="486" height="4" fill="url(#d131)"/><rect x="107" y="1890" width="480" height="4" fill="url(#d132)"/><rect x="107" y="1894" width="477" height="4" fill="url(#d133)"/><rect x="107" y="1898" width="474" height="4" fill="url(#d134)"/><rect x="107" y="1902" width="471" height="4" fill="url(#d135)"/><rect x="107" y="1906" width="468" height="4" fill="url(#d136)"/><rect x="107" y="1910" width="465" height="4" fill="url(#d137)"/><rect x="107" y="1914" width="462" height="4" fill="url(#d138)"/><rect x="107" y="1918" width="456" height="4" fill="url(#d139)"/><rect x="107" y="1922" width="453" height="4" fill="url(#d140)"/><rect x="107" y="1926" width="447" height="4" fill="url(#d141)"/><rect x="107" y="1930" width="441" height="4" fill="url(#d142)"/><rect x="107" y="1934" width="432" height="4" fill="url(#d143)"/><rect x="107" y="1938" width="426" height="4" fill="url(#d144)"/><rect x="107" y="1942" width="420" height="4" fill="url(#d145)"/><rect x="107" y="1946" width="414" height="4" fill="url(#d146)"/><rect x="107" y="1950" width="405" height="4" fill="url(#d147)"/><rect x="107" y="1954" width="396" height="4" fill="url(#d148)"/><rect x="107" y="1958" width="390" height="4" fill="url(#d149)"/><rect x="107" y="1962" width="384" height="4" fill="url(#d150)"/><rect x="107" y="1966" width="378" height="4" fill="url(#d151)"/><rect x="107" y="1970" width="372" height="4" fill="url(#d152)"/><rect x="107" y="1974" width="366" height="4" fill="url(#d153)"/><rect x="107" y="1978" width="357" height="4" fill="url(#d154)"/><rect x="107" y="1982" width="348" height="4" fill="url(#d155)"/><rect x="107" y="1986" width="336" height="4" fill="url(#d156)"/><rect x="107" y="1990" width="327" height="4" fill="url(#d157)"/><rect x="107" y="1994" width="315" height="4" fill="url(#d158)"/><rect x="107" y="1998" width="303" height="4" fill="url(#d159)"/></g><path d="M708 1364h0m-240 0h0m-34 2h0m-22-2h0m-58-2h0m-72 2h0m-172-2h0m100 16h0m10 0h0m20-2h0m0-4h0m70-2h0m38 4h0m52-4h0m52 0h0m64 4h0m32 2h0m14-2h0m64 2h0m118 0h0m22-4h0m18 6h0m28 0h0m10-4h0m2 2h0m20 0h0m0-4h0m14 10h0m-4 2h0m0 4h0m-26 2h0m-2-4h0m-32-4h0m-14 4h0m-10 0h0m-26-4h0m-10 2h0m-212-4h0m-36 2h0m-2 6h0m-18 2h0m-14 0h0m-88-4h0m-240 8h0m284 6h0m90-6h0m92-2h0m6 0h0m6 10h0m124-8h0m32 2h0m38 6h0m22 0h0m30 0h0m6 4h0m-12 8h0m-8 0h0m-16-4h0m-8-4h0m0 6h0m-6 0h0m-16-4h0m-16 2h0m-56-4h0m0 4h0m-8 4h0m-70 0h0m-22 0h0m-36-2h0m-22-2h0m-40 2h0m-2-6h0m-18 6h0m-162-4h0m-4 2h0m-8 4h0m-10 0h0m-6-2h0m-2-2h0m-32 0h0m-38-2h0m-6-2h0m-54 0h0m-28 2h0m-20 4h0m-16 2h0m40 2h0m52 4h0m112-4h0m12 0h0m24 2h0m0 0h0m6 8h0m60-4h0m40 2h0m40-4h0m82-4h0m32 10h0m6-2h0m12 0h0m2 2h0m58-6h0m24 2h0m2-2h0m12 4h0m46 2h0m28-2h0m58 8h0m-56 4h0m-2-8h0m-6 6h0m-22 2h0m-8-8h0m-6 8h0m-8-4h0m-4 2h0m-2-4h0m-4-2h0m-8 6h0m-12 2h0m-22 2h0m-4-10h0m-44 10h0m-236-8h0m-66-2h0m-26 4h0m-10-4h0m-38 6h0m-32 4h0m-68-8h0m-12-2h0m-20 20h0m10-6h0m32 6h0m54-4h0m44-4h0m110 6h0m34 0h0m64-6h0m54 2h0m22 8h0m46-2h0m62-8h0m32 4h0m30 6h0m8-10h0m8 8h0m12-2h0m2-4h0m14 0h0m6 8h0m4-2h0m8 2h0m2-8h0m2 6h0m14-4h0m8 18h0m-12-6h0m-8 2h0m-8-6h0m-12 10h0m-14-10h0m-52 2h0m-34-2h0m-4 4h0m-14 0h0m-6 0h0m-50 0h0m-16 4h0m-60-2h0m-10 2h0m-30 2h0m-74-6h0m-6-2h0m-2 8h0m-6-6h0m-16-4h0m-86 8h0m-144 4h0m46 10h0m10-6h0m36-4h0m30 2h0m114 4h0m4 0h0m20 0h0m16 2h0m24-8h0m38 0h0m28 6h0m62-6h0m32 4h0m40 4h0m8-8h0m2 0h0m28 0h0m2 6h0m12 4h0m4 0h0m12-10h0m8 10h0m18-10h0m12 6h0m12-6h0m2 0h0m32 4h0m24 0h0m14-2h0m6 2h0m-18 14h0m-24 2h0m-6-4h0m-22-4h0m-6 6h0m-8 4h0m-6-2h0m-10-4h0m-8-2h0m-2 8h0m-2-10h0m0 6h0m-2 0h0m-6-4h0m0 2h0m0-4h0m-26 6h0m-24-2h0m-126 6h0m0-10h0m-64 4h0m-48 4h0m-52-2h0m-2-2h0m-2 0h0m0 4h0m-120 0h0m-112-6h0m40 20h0m28-6h0m92 0h0m6-4h0m58 8h0m20 2h0m92-10h0m10 2h0m50 4h0m98-6h0m18 10h0m0-4h0m30-4h0m4 8h0m34 0h0m18-4h0m28 4h0m60-10h0m4 14h0m-32 6h0m-18-6h0m-30 6h0m-62 0h0m-10-4h0m-14-2h0m0 6h0m-6-6h0m-16 6h0m-26-8h0m-12 4h0m-10 0h0m-16-2h0m-14 8h0m-40 0h0m-16-8h0m-4 8h0m-30 0h0m-52-8h0m-36 2h0m-44 4h0m-6 0h0m-34 2h0m-20-6h0m-36 4h0m-30 4h0m72 6h0m4-2h0m8-2h0m80 4h0m104 2h0m16 2h0m4-10h0m30 10h0m30-6h0m6 0h0m10 6h0m2-10h0m22 6h0m12 2h0m48 2h0m8-10h0m8 0h0m34 4h0m10-4h0m8 0h0m14 0h0m2 2h0m2-2h0m10 10h0m6-10h0m22 0h0m10 10h0m16 0h0m-66 6h0m-4 4h0m-4-2h0m-24 4h0m-6-10h0m-16 6h0m-20 2h0m-10-2h0m-10-2h0m0-4h0m-2 2h0m-50 8h0m-2-4h0m-28-6h0m-46 0h0m-28 6h0m-12 2h0m-54-2h0m-86-4h0m-12 8h0m-8 0h0m-18 0h0m-18 0h0m-52-8h0m-50-2h0m-26 0h0m-68 16h0m46 6h0m2-2h0m72 0h0m32 0h0m52 2h0m8-4h0m16 4h0m126-6h0m40 0h0m28 2h0m30-4h0m18 4h0m20-6h0m8 10h0m6-8h0m18 4h0m4-4h0m0-2h0m4 2h0m4-2h0m36 4h0m26 4h0m14-2h0m16-6h0m40 0h0m66 14h0m-72 8h0m-20-6h0m-20 2h0m-20 4h0m-2-4h0m-16 4h0m-12-6h0m-12-2h0m-16 4h0m-4 4h0m-40-4h0m-20-6h0m-10 8h0m0-4h0m-38 4h0m-82-2h0m-34 2h0m-34 2h0m-32-2h0m-2-6h0m-4 6h0m0-6h0m-44 2h0m-22-2h0m-106-2h0m-30 6h0m-30-4h0m-4 18h0m26 2h0m86-8h0m24 6h0m30 0h0m10-2h0m28 0h0m76-2h0m20 2h0m44-2h0m72 6h0m22-10h0m10 10h0m16-10h0m2 4h0m4 2h0m48 4h0m6 0h0m20-6h0m6-4h0m0 2h0m8 4h0m10 0h0m24 2h0m4-2h0m14 4h0m92 0h0m26-10h0m-66 16h0m-18 2h0m0 2h0m-38 2h0m-18-2h0m-4 0h0m-30-2h0m0 4h0m-6-2h0m-10-4h0m0 0h0m-12 6h0m-40-8h0m-22 0h0m-8 8h0m-40-6h0m-10 6h0m-30-6h0m-42-4h0m-6 4h0m-78 4h0m-2-4h0m-14 6h0m-88 0h0m-52-2h0m-18-8h0m34 20h0m72-2h0m50-6h0m16 0h0m66 10h0m24-8h0m6 4h0m10 0h0m44-4h0m40 2h0m6 6h0m10-2h0m18-8h0m2 2h0m36 8h0m2 0h0m0 0h0m10-2h0m0-4h0m10-2h0m10 8h0m10-8h0m4-2h0m2 6h0m20 0h0m18-6h0m2 0h0m36 0h0m28 10h0m-62 6h0m-10-4h0m-6 2h0m-34 0h0m-2 6h0m-28 2h0m-4-8h0m-6 8h0m-6-8h0m-6 2h0m-10 6h0m-6-8h0m-8 6h0m-14 2h0m-30-6h0m-30-2h0m-6 2h0m0 6h0m-36 0h0m-72-2h0m-24-4h0m-2-2h0m-50 4h0m-22-6h0m-26 10h0m-46-2h0m-26 2h0m0-2h0m-40-6h0m-32 8h0m34 12h0m42-6h0m146 0h0m24 0h0m32 2h0m20-6h0m24 8h0m6 0h0m6-2h0m12-4h0m8 0h0m60 6h0m2 0h0m10 0h0m6-6h0m32 2h0m34-4h0m4 8h0m8-4h0m2 2h0m22 2h0m10-8h0m2 6h0m18 4h0m30-10h0m-46 20h0m-6 2h0m-2-2h0m0-2h0m-4 0h0m-2-4h0m-20 0h0m0 6h0m-22-2h0m-46 0h0m-2-6h0m-2 8h0m-8 0h0m-16-6h0m-4-2h0m-20 10h0m-2-4h0m-10-6h0m-4 6h0m-2 2h0m-2-8h0m-6 8h0m-38-4h0m-32 4h0m-2-4h0m-30 2h0m-8-6h0m-10 0h0m-22 10h0m-6 0h0m-70-10h0m-24 8h0m-2-8h0m-18 2h0m-2 2h0m-30-2h0m-2 0h0m-32 0h0m-12 0h0m30 14h0m16-4h0m12 0h0m14 4h0m4-2h0m34 4h0m18 4h0m8 0h0m110-8h0m4 6h0m2-8h0m22 0h0m4 4h0m10 4h0m6-8h0m18 10h0m4-2h0m6-6h0m12-2h0m0 4h0m2 2h0m10-6h0m6 10h0m2-8h0m64 8h0m10-2h0m14 0h0m10 0h0m28 0h0m38-6h0m30-2h0m12 4h0m20 10h0m-24 8h0m-18-6h0m-16 0h0m-10 4h0m-34-2h0m-36 2h0m-4-2h0m-28-2h0m-24 4h0m-4-6h0m-14 6h0m0-8h0m-2 10h0m-10-2h0m0 2h0m-22-8h0m-20 0h0m-22 4h0m-2-6h0m-8 2h0m-4 0h0m-4 4h0m-72 2h0m-6-6h0m-6 2h0m-46 4h0m-42-4h0m-32 2h0m-34-2h0m-58-4h0m10 16h0m62-4h0m10 0h0m8 4h0m62 2h0m38-4h0m10-2h0m12 10h0m0-8h0m2 0h0m18 2h0m30 2h0m22-6h0m16 4h0m2-2h0m22-2h0m0 10h0m12-8h0m0 0h0m10 0h0m4-2h0m12 2h0m2 8h0m10 0h0m6-10h0m4 2h0m4 0h0m28 8h0m14-10h0m0 8h0m12-2h0m4-2h0m4 0h0m2 6h0m0-2h0m4-2h0m4 0h0m10 0h0m20 2h0m6 2h0m30-6h0m16-4h0m14 2h0m-76 12h0m-60-2h0m-2 6h0m-4-6h0m-2 4h0m-6 2h0m0-6h0m-10 6h0m-2-6h0m-6 10h0m-10-8h0m-56 6h0m-8-2h0m-10 0h0m0 4h0m-4-8h0m-14 6h0m-4-6h0m-32 0h0m-14 4h0m-44-6h0m-12 10h0m-12-2h0m-12 2h0m-58 0h0m-10-2h0m-28-6h0m0 4h0m-6 2h0m-54 2h0m-24 2h0m122 4h0m30 4h0m60 2h0m8-4h0m16 0h0m0 0h0m20 2h0m20-4h0m18 6h0m8-10h0m4 2h0m6 6h0m4 2h0m14-8h0m2 6h0m0-6h0m48 8h0m32-2h0m8-6h0m4 0h0m8 8h0m0 0h0m2 0h0m10-2h0m24-2h0m8 2h0m2-8h0m2 8h0m4-6h0m10 6h0m6 2h0m14-8h0m4 0h0m2 4h0m2 0h0m12-6h0m10 10h0m48 2h0m-38 10h0m-32-6h0m0-2h0m0 0h0m-2 0h0m-8 2h0m-6 4h0m-10-2h0m-6 2h0m-22-6h0m0-2h0m-4 4h0m-18-2h0m-2 2h0m-10 6h0m-16-6h0m-12 4h0m-8 0h0m0-8h0m-26 0h0m-22 10h0m-14-10h0m-20 4h0m-36-2h0m-4 2h0m-10-2h0m-30 8h0m-4-2h0m-4-8h0m-2 4h0m-34 6h0m-2-6h0m-48-4h0m0 6h0m-16 0h0m-80-2h0m-10 0h0m-10 0h0m-36 10h0m88 6h0m16 2h0m10-8h0m48 2h0m28-2h0m14 0h0m0 4h0m4 0h0m14-4h0m46 8h0m8-2h0m4-8h0m6 10h0m16-2h0m6-6h0m10 2h0m0 0h0m24 4h0m14-4h0m20 2h0m0 2h0m2 0h0m4-4h0m4 2h0m8 0h0m4-6h0m2 2h0m4 4h0m54 2h0m4-6h0m10 0h0m0 4h0m2-4h0m0 4h0m22-4h0m0 2h0m10 0h0m6 0h0m8-4h0m2 10h0m8-10h0m88 10h0m-20 12h0m-90-8h0m-4 2h0m-32 4h0m-2-4h0m-12-4h0m-18 6h0m-14-2h0m-6-2h0m-4-2h0m-20 2h0m-2 6h0m-12-8h0m-6 8h0m-8-2h0m-16-6h0m0 4h0m-6-2h0m-20 8h0m-10-4h0m-6-2h0m-18 2h0m-2 4h0m-4-6h0m-2-4h0m-10 4h0m-2-4h0m-20 8h0m-16 0h0m-2 0h0m-2 2h0m-2-6h0m-42 2h0m-10-4h0m-36 2h0m-10 4h0m-56 2h0m-8-4h0m-50-4h0m-4 14h0m112 2h0m30 0h0m6-2h0m24-4h0m4 10h0m8-6h0m4 0h0m20 6h0m22-6h0m6-4h0m4 10h0m2-2h0m2-8h0m4 4h0m0 4h0m8 2h0m42-8h0m14-2h0m6 10h0m4 0h0m28-6h0m12 6h0m6-8h0m24 2h0m4 6h0m4 0h0m24-2h0m26-4h0m4 0h0m6-2h0m10 6h0m48-8h0m30 2h0m-56 10h0m-18 10h0m-48 0h0m-4-4h0m0-2h0m-4-4h0m-20 8h0m-26-4h0m-4-4h0m0 2h0m-4 4h0m-26 0h0m-22 0h0m-20 0h0m-4-4h0m0 6h0m-2-8h0m-2 8h0m-4-2h0m-2-6h0m-2 0h0m-8 0h0m-6 8h0m-10-6h0m-28 8h0m0-2h0m0-6h0m-4 6h0m-4 2h0m-10-6h0m-4-2h0m-20 0h0m-6 0h0m-12-2h0m-10 4h0m-2-4h0m-8 6h0m-24 0h0m-2-6h0m-4 4h0m-8-4h0m-44 10h0m-16-6h0m-4 4h0m-64 2h0m122 12h0m6-6h0m14 2h0m4-4h0m18 8h0m10 0h0m10-4h0m6-2h0m16 2h0m2 2h0m18-4h0m16 6h0m8 0h0m6-6h0m6-4h0m4 2h0m6-2h0m0 8h0m28 0h0m4-2h0m0-4h0m18 2h0m8 6h0m28-8h0m66 0h0m18 2h0m2 2h0m4 2h0m22-4h0m4-4h0m16 10h0m2-10h0m16 4h0m6-4h0m6 2h0m4 4h0m-32 8h0m-22-2h0m-12 0h0m-28 8h0m-8 0h0m-10-4h0m-2 6h0m0-10h0m-2 6h0m-4 2h0m-14-6h0m0 8h0m-28-2h0m-12-2h0m-14 0h0m-14-6h0m-12 4h0m0 0h0m-4 4h0m-10 2h0m-10-2h0m-34-8h0m-12 10h0m-16 0h0m-4-2h0m-4 2h0m-10-4h0m-6 0h0m-8-4h0m-26-2h0m-18 4h0m-8 6h0m-38-2h0m-74-6h0m50 16h0m28 0h0m18-6h0m16 8h0m0 2h0m12-6h0m12 6h0m34-10h0m10 6h0m24 0h0m2-2h0m10 6h0m4-2h0m12-2h0m2-4h0m6 8h0m24-10h0m8 10h0m8-8h0m8 6h0m16-2h0m44 2h0m6-8h0m0 4h0m30 2h0m16-2h0m8 2h0m2-2h0m28-4h0m0 6h0m56-2h0m-40 10h0m-4 6h0m-4 2h0m-18-8h0m-12 0h0m-6 0h0m-2 8h0m0-10h0m-10 10h0m-18-10h0m-6 6h0m-2 4h0m-6-4h0m-4-4h0m0 8h0m-22-2h0m-66-4h0m-10-2h0m0-2h0m-2 6h0m-4-6h0m-8 6h0m-14 0h0m-8-4h0m-38 8h0m-14-6h0m-6 2h0m-16-6h0m-44 4h0m-38-4h0m-28 4h0m-2 0h0m-28-2h0m-30 8h0m6 12h0m38-8h0m30 8h0m8-8h0m24 2h0m18 0h0m14-4h0m40 6h0m12 2h0m0-6h0m10 0h0m2 2h0m0 4h0m26-2h0m0 4h0m20-4h0m10 4h0m6-6h0m28 0h0m14 6h0m12-8h0m0 8h0m22-2h0m14 2h0m2-8h0m0 0h0m10 6h0m10-4h0m14 0h0m8 2h0m6 0h0m28-2h0m0 4h0m0-8h0m2 8h0m48-6h0m62-2h0m34 22h0m-134-6h0m-6 4h0m-16-8h0m-8 6h0m-6 2h0m-28 0h0m-2-8h0m-2 0h0m-14 0h0m-2 2h0m-2 4h0m-4-4h0m-4 8h0m-2-6h0m-16 4h0m-8-4h0m-10 6h0m-24-8h0m-18-2h0m-14 6h0m-2 2h0m-20-4h0m-16 2h0m-32-6h0m-4 6h0m-4-2h0m-6 2h0m-6-6h0m-10 0h0m-14 10h0m-12-2h0m-6-8h0m-12 8h0m-48-2h0m-24 0h0m26 14h0m8 2h0m2-4h0m4-4h0m16 8h0m6-4h0m4-4h0m20 0h0m6 8h0m2-6h0m4 4h0m14-6h0m6 2h0m34-2h0m2 6h0m6-2h0m2 0h0m0 2h0m12 0h0m26-6h0m2-2h0m2 4h0m10-2h0m20 8h0m22-6h0m6 6h0m6 0h0m18-10h0m2 10h0m16 0h0m0-6h0m0 0h0m4 4h0m0-2h0m16-2h0m16 0h0m4 4h0m14-2h0m22 0h0m4 2h0m2-4h0m6-4h0m8 0h0m36 2h0m6 0h0m24 18h0m-26-6h0m-62 6h0m-32 2h0m0-10h0m-16 4h0m-10-2h0m0 4h0m-2-4h0m-6 2h0m-4 2h0m-6 2h0m-4-2h0m-6 2h0m0-6h0m-22 6h0m-12-2h0m-22-4h0m-2 6h0m-4-2h0m-8 0h0m-12 0h0m-12-4h0m-2 0h0m-32-2h0m-2 0h0m-8 4h0m-2 2h0m-4-2h0m-10 4h0m-30-8h0m-22 2h0m0 8h0m-16-2h0m-6-2h0m-36-6h0m-8 10h0m-2-6h0m-20 0h0m-38-4h0m-12 0h0m10 20h0m28-8h0m44 8h0m12 0h0m14-8h0m20 0h0m20 4h0m2 4h0m0 0h0m4-8h0m12 8h0m2-2h0m34-6h0m14 6h0m4 4h0m22-4h0m4 4h0m14-4h0m4 2h0m10 0h0m2 2h0m20 0h0m10-8h0m8 8h0m16-4h0m12 0h0m44 4h0m2-6h0m2 2h0m12-2h0m12 4h0m12-8h0m6 0h0m2 8h0m10-8h0m16 4h0m74 8h0m-12 10h0m-98 0h0m-50-6h0m-20-4h0m0 10h0m-2 0h0m-20-10h0m0 10h0m-38-2h0m-4 2h0m-8-10h0m-6 4h0m-20 0h0m-4-4h0m-10 8h0m0-2h0m-6-4h0m-4 2h0m-26 2h0m-6-2h0m-10 4h0m-2-6h0m-12 2h0m-16 2h0m-2-6h0m-22 8h0m-20-2h0m-2-6h0m-16 8h0m-6-8h0m-52 0h0m-10 4h0m-6-2h0m-18 18h0m8-6h0m2 4h0m22 2h0m24 0h0m18-2h0m4-2h0m30-4h0m2 6h0m8-4h0m4-2h0m22 0h0m4 2h0m2 6h0m2-2h0m2-4h0m4-2h0m4 0h0m10 8h0m10-2h0m4 4h0m16 0h0m8-4h0m2 2h0m10-8h0m10 10h0m0-8h0m4 4h0m10 4h0m14-8h0m0 4h0m6-2h0m14 6h0m8-4h0m34 4h0m0-2h0m26-6h0m8-2h0m10 10h0m48-4h0m10 0h0m38 2h0m-38 6h0m-34-2h0m-2 8h0m-6 2h0m-14 0h0m-14-6h0m-6 0h0m-4 0h0m-22 2h0m-18-6h0m-6 10h0m-16-8h0m-30 0h0m-10-2h0m-4 4h0m-22 0h0m-4 6h0m0-8h0m-12 6h0m-10 0h0m-22-8h0m-30 6h0m-20 2h0m0-2h0m-18-6h0m-30 8h0m-8 2h0m-6-4h0m-2 0h0m-48-2h0m-2 16h0m26-2h0m8-2h0m4 6h0m10-8h0m2 6h0m32-8h0m2 0h0m12 4h0m6 0h0m14 2h0m4-2h0m2 4h0m2-4h0m4 4h0m4-6h0m4 8h0m4-10h0m26 10h0m8 0h0m6-10h0m6 2h0m24 4h0m10-2h0m8 4h0m20-4h0m8 6h0m58 0h0m58-4h0m30 4h0m8-6h0m0-2h0m64 2h0m-80 12h0m-8 4h0m-28-6h0m-32 2h0m-18-2h0m-6 0h0m-12 8h0m-4-2h0m-2-4h0m-30-4h0m0 4h0m-14-2h0m-2-2h0m-8 10h0m-18-8h0m-34 8h0m0-8h0m-22-2h0m-2 10h0m-10-4h0m-10-6h0m0 8h0m-16-2h0m-2 0h0m-12 4h0m-20-10h0m-22 6h0m-2 4h0m-2-10h0m-20 8h0m-10 2h0m-2-10h0m-26 2h0m-6 8h0m-2-8h0m-2 6h0m-2 10h0m26-6h0m12 10h0m4-4h0m2-6h0m4 10h0m2-6h0m16 0h0m8 2h0m0-2h0m0-2h0m4 8h0m18-4h0m2 2h0m0-6h0m6 2h0m0-2h0m30 2h0m2 0h0m8 0h0m4-4h0m4 8h0m32-8h0m0 6h0m16 4h0m50-2h0m10-4h0m2-4h0m0 4h0m12 0h0m24-4h0m36 10h0m20-4h0m2 2h0m2 0h0m74-6h0m-16 18h0m-42 0h0m-10 0h0m-4 2h0m-48-2h0m-4-6h0m-18 4h0m-42-4h0m-16-2h0m-4 2h0m-24 2h0m-14 0h0m-18 6h0m-8-10h0m-20 2h0m0-2h0m-22 8h0m-10 2h0m-16 0h0m-2-10h0m0 0h0m-4 2h0m0 2h0m0 2h0m-8 0h0m-22 2h0m-34-8h0m-12 14h0m6-2h0m0 8h0m12-8h0m8 0h0m8 6h0m4 2h0m4-2h0m26 2h0m2 2h0m2-4h0m18-6h0m4 0h0m2 2h0m4 8h0m4-6h0m16 0h0m26 6h0m12-2h0m2-8h0m2 4h0m0-4h0m8 2h0m52 8h0m2-4h0m4 2h0m2 2h0m12 0h0m14-6h0m4-4h0m28 0h0m58 2h0m78 14h0m-84 6h0m-102 0h0m0 0h0m-70 0h0m-66-8h0m-18 6h0m-6 0h0m-30 2h0m-16 0h0m-30 0h0m-16 0h0m4 6h0m0 6h0m38 0h0m10-8h0m32 6h0m30-8h0m0 10h0m10 0h0m24-2h0m18 0h0m4 2h0m26-4h0m2 0h0m44 0h0m18-4h0m20 2h0m20 0h0m36 10h0m-38-2h0m-14 6h0m-16-4h0m-6 2h0m-16 4h0m-6-4h0m-4-2h0m-104 8h0m-64-10h0m-6 2h0m-30 8h0m-6-2h0m-16-6h0m-8 0h0m10 14h0m4 6h0m18-2h0m50-2h0m14-6h0m8 0h0m14 10h0m14 0h0m0-4h0m120-4h0m10 0h0m36 8h0m72 0h0m-260 2h0" stroke="#6a4a8c" stroke-width="2.2" stroke-linecap="round" opacity="0.35" fill="none"/><path d="M682 1364h0m-372 12h0m140-4h0m108 0h0m140 6h0m60-10h0m14 4h0m68 2h0m-146 6h0m-138 2h0m-78 0h0m-142-2h0m-68 10h0m-66-2h0m-10 4h0m14 4h0m158 2h0m44-2h0m42 0h0m70 4h0m250-8h0m24 22h0m-22-4h0m-14 4h0m-48-6h0m-56 6h0m-126-2h0m-138-4h0m-176 0h0m-78 12h0m306 6h0m272-8h0m98 0h0m30 6h0m-28 12h0m-42 0h0m-36-2h0m-18 4h0m-46-4h0m-12-4h0m-18-2h0m-76 0h0m-188 4h0m-6 2h0m-86-2h0m136 16h0m4 2h0m74-8h0m202 0h0m30 2h0m6-4h0m38 4h0m4 4h0m58 4h0m-100 10h0m-254-8h0m-142 8h0m-180-2h0m-26-8h0m204 16h0m108 4h0m190 0h0m86-4h0m12 6h0m40-6h0m44 18h0m-82 0h0m-26-4h0m-12 4h0m-4-6h0m-276-2h0m-30 4h0m-34 4h0m-146-10h0m-36 8h0m-34-2h0m26 16h0m60-10h0m160 8h0m288-4h0m6-2h0m20 0h0m76 4h0m12 2h0m18 6h0m-24 6h0m-20-4h0m-300 4h0m-78 2h0m-60-10h0m-132 2h0m204 18h0m88 2h0m20-10h0m58 4h0m100 4h0m16-2h0m28 2h0m52-2h0m4-4h0m14-2h0m-10 20h0m-66-2h0m-10 4h0m-42-8h0m-28-2h0m-14 4h0m-80 0h0m-168-4h0m-208 8h0m-6-6h0m-6 18h0m90 0h0m40-2h0m58 0h0m72-2h0m116 0h0m64 2h0m28-2h0m44 0h0m0 6h0m22-10h0m70 8h0m-38 12h0m-8 2h0m-34-2h0m-16 2h0m-108-8h0m-16 6h0m-72 2h0m-218 10h0m130 2h0m184-10h0m16 2h0m70 0h0m2 8h0m0-4h0m26 4h0m2 0h0m6-2h0m16 2h0m10-10h0m84 2h0m-34 10h0m-26 2h0m-120 0h0m-126 4h0m-54 0h0m-24 4h0m-64-2h0m-66-6h0m-58 8h0m326 12h0m4-6h0m124 2h0m60 0h0m20-6h0m-44 22h0m-4-2h0m-104-8h0m0 8h0m-230 0h0m-26 6h0m84 8h0m86-8h0m102-2h0m28 2h0m32-2h0m134 4h0m-158 14h0m-26-2h0m-32 6h0m-10 0h0m-10-4h0m0 0h0m-52-6h0m-90 6h0m-10 4h0m-82-6h0m38 14h0m30 4h0m42-4h0m36 4h0m16-6h0m36 0h0m0 6h0m170-6h0m40 0h0m46 0h0m-106 18h0m-22-10h0m-72 2h0m-60-2h0m-12 6h0m-36 0h0m-64 0h0m-2-4h0m-180 20h0m20-6h0m208 4h0m20-8h0m28 8h0m74 2h0m148-6h0m-178 14h0m-140-2h0m-114 4h0m-144-8h0m-16 4h0m88 14h0m64-6h0m20 10h0m6-10h0m94 0h0m20 4h0m48-4h0m40 4h0m6-4h0m26 8h0m4 0h0m4-4h0m22 0h0m36 4h0m6 2h0m10-10h0m-12 14h0m-14 0h0m-22-2h0m0 10h0m-2-4h0m-36-6h0m-18 2h0m-22 4h0m0-6h0m-48 0h0m-8 4h0m-20 4h0m-4 0h0m-14-4h0m-68 2h0m68 16h0m16-2h0m18-6h0m60-2h0m8 2h0m28 6h0m54-2h0m44 6h0m-2 6h0m-62-4h0m-66 4h0m-14-6h0m-26 8h0m-136-6h0m-14 4h0m-12 2h0m-120 14h0m122 0h0m4-10h0m26 6h0m10 2h0m10-6h0m24 0h0m8 0h0m8 0h0m66 4h0m96-2h0m-48 12h0m-10 6h0m-64-2h0m-6 0h0m-10-4h0m-2-2h0m-14 4h0m-52-4h0m-22 4h0m-90 2h0m-58-2h0m10 14h0m10 2h0m16-6h0m118 0h0m28-4h0m18 4h0m4 0h0m74-4h0m34 6h0m26-2h0m22 4h0m22-6h0m6 8h0m32 0h0m2-4h0m26 4h0m12 4h0m-22 0h0m-26 4h0m-86-2h0m-6 4h0m-46-4h0m-18-2h0m-14 2h0m-140-2h0m-28-2h0m-22 8h0m-78 4h0m76 2h0m94-2h0m20 10h0m22 0h0m14-10h0m6 0h0m102 2h0m48 4h0m54 12h0m-14 4h0m-6-6h0m-24 2h0m-26-2h0m-76 0h0m-204 4h0m-2 2h0m-42 10h0m78-6h0m134 2h0m24-2h0m138-2h0m70 10h0m-56 4h0m-18 4h0m-22 0h0m-46-4h0m-94 0h0m-90-2h0m-8 6h0m-74-4h0m-76 0h0m-2 14h0m58 6h0m70-4h0m2 2h0m30 0h0m18-4h0m26 2h0m42 0h0m30 4h0m6-6h0m66 0h0m34 6h0m20-4h0m78 12h0m-46 2h0m-88 0h0m-12-4h0m-20 0h0m-2 4h0m-10-8h0m-34 4h0m-2 4h0m-18-8h0m-4 10h0m-34-10h0m-22 4h0m-90-4h0m-8 6h0m-20-6h0m-54 6h0m2 14h0m26-6h0m18 4h0m24 2h0m18-2h0m20-4h0m22 6h0m82-6h0m20 4h0m4-4h0m56 4h0m74-4h0m6 4h0m8 10h0m-8 2h0m-68 2h0m-42-6h0m-10-2h0m-12 6h0m-2 0h0m-2-4h0m-100 0h0m-10 6h0m-18 0h0m-34-4h0m-8 2h0m-48-4h0m-74 14h0m64-4h0m16 4h0m32 6h0m22-10h0m112 8h0m8-4h0m20 6h0m6-10h0m2 4h0m30 4h0m188-4h0m-186 8h0m-60 8h0m-20 2h0m-18-6h0m-66 0h0m-14-4h0m-42 2h0m-64-2h0m76 16h0m12 2h0m8-4h0m42-2h0m150 0h0m6 0h0m-116 14h0m-22 4h0m-10 2h0m-18 0h0m-34-6h0m-12-2h0m0 0h0m-16 2h0m-4 2h0m-36 0h0m-60 16h0m10-6h0m36 8h0m68-6h0m38 2h0m8-6h0m8 2h0m22 0h0m10 2h0m68 6h0m120-10h0m54 0h0m-164 14h0m-96 2h0m-40-4h0m-94 6h0m-14-2h0m-34 16h0m34 0h0m122-6h0m44 2h0m126 12h0m-102 0h0m-118 6h0m-10-6h0m-58 8h0m180 10h0m42-10h0m14 10h0m18-6h0m52 10h0m-16 4h0m-174-2h0m36 16h0m26 0h0m22-2h0m14-2h0m20-4h0m-192 12h0" stroke="#3f7f8a" stroke-width="2.2" stroke-linecap="round" opacity="0.35" fill="none"/><path d="M746 1366h0m-370-2h0m-164 2h0m206 4h0m234 0h0m62-2h0m72 8h0m4 0h0m68 4h0m-18 2h0m-286-2h0m-114 4h0m-210 2h0m46 16h0m154-8h0m72-2h0m30 4h0m312 0h0m-38 12h0m-56 0h0m-362-2h0m-10 4h0m-24 2h0m-90 2h0m-108-10h0m-4 14h0m90 0h0m48 6h0m18-6h0m148-2h0m86 0h0m62 8h0m122-8h0m48 6h0m32-6h0m2 12h0m-18 2h0m-18 6h0m-198 0h0m-52-4h0m-96 2h0m-34 0h0m-56 0h0m232 12h0m46 0h0m188 2h0m-44 14h0m-24-6h0m-50 2h0m-50-6h0m-4 4h0m-58 6h0m-148-2h0m-316-8h0m112 16h0m148 2h0m30 4h0m230 0h0m4-8h0m8 6h0m48-4h0m50 2h0m6-2h0m64 10h0m-34 6h0m-2-2h0m-18 0h0m-100 0h0m-108-6h0m-22 10h0m-356 4h0m44 4h0m178 2h0m132-8h0m192 4h0m22 0h0m42-4h0m16 10h0m10 0h0m32 4h0m-96 8h0m-28-10h0m-112 6h0m-90-2h0m-6 2h0m-20-4h0m-214 4h0m-8-2h0m-34 16h0m38-8h0m126 6h0m86 2h0m116 2h0m4-8h0m130 8h0m2-8h0m26 6h0m100 10h0m-22-4h0m-104 2h0m-44-2h0m-18 0h0m-6 2h0m-6 6h0m-24-8h0m-148 6h0m-86-8h0m-206 4h0m-16 12h0m190 4h0m90 2h0m50-6h0m70 6h0m22-10h0m56 4h0m32-4h0m50 8h0m12 0h0m4-8h0m40 4h0m30-4h0m-6 12h0m-74 10h0m-48 0h0m-6-4h0m-8 2h0m-66 2h0m-38-4h0m-8-2h0m-42 6h0m-16-4h0m-312 0h0m80 12h0m196-6h0m36 4h0m4 0h0m46-2h0m10 6h0m42-6h0m14 6h0m2 2h0m36-4h0m28 0h0m16-6h0m26 8h0m30 2h0m14 0h0m-18 12h0m-48-4h0m-54 0h0m-26 2h0m-8-8h0m-70 8h0m-234 0h0m-150 2h0m-24-8h0m8 14h0m350 0h0m62-4h0m6 4h0m66-2h0m2 2h0m4 6h0m18-6h0m70 10h0m-92 0h0m-18 8h0m0-8h0m-84-2h0m0 8h0m-28-2h0m-20 2h0m-46-2h0m-2-4h0m-284 12h0m46-2h0m6 0h0m82 2h0m44 0h0m30 6h0m10-8h0m64 4h0m8 6h0m60 0h0m70-6h0m76 6h0m14-8h0m28-2h0m-52 14h0m-8 8h0m-12-4h0m-78 4h0m-20-4h0m-86 4h0m-4-2h0m-94 2h0m-6-10h0m-214 2h0m152 20h0m110-2h0m48 2h0m12-6h0m122-2h0m8 2h0m136 2h0m-8 10h0m-50-4h0m-60 10h0m-14-10h0m-174 4h0m-82-4h0m-168 0h0m56 18h0m34-2h0m78 4h0m0 0h0m44-8h0m66 8h0m154-8h0m8 0h0m84 4h0m-46 12h0m-30-2h0m-8 2h0m-34-4h0m-48 0h0m-30 2h0m-12 4h0m-38 4h0m-6-10h0m-24 8h0m-56-8h0m-8 8h0m-54-6h0m-128 18h0m54 2h0m36-2h0m40 0h0m28-2h0m2 0h0m46 4h0m124-6h0m6-2h0m18 4h0m28 4h0m72 0h0m18-10h0m34 0h0m-40 22h0m-40-10h0m-8 2h0m-36-2h0m-18 2h0m-30 8h0m0-2h0m-30 0h0m-42 0h0m-24-2h0m-80 4h0m-38-4h0m-102 4h0m0 8h0m140-2h0m14 2h0m14-2h0m4 0h0m2-2h0m0 2h0m22 4h0m12 2h0m4-4h0m28 4h0m40-4h0m20-6h0m80 0h0m32 4h0m32 0h0m6 16h0m-20 2h0m-2-6h0m-10 6h0m-12-4h0m-32-4h0m-8 2h0m-16-4h0m-4 0h0m-10 6h0m-4 2h0m-66-6h0m-66-2h0m-80 4h0m-138 2h0m98 12h0m0 0h0m98 0h0m8-4h0m30-2h0m6 2h0m2 4h0m16 0h0m20-6h0m20 6h0m24-2h0m32 4h0m168 12h0m-52-4h0m-10-4h0m-12 6h0m-10 4h0m-2-4h0m-2 2h0m-38-6h0m-52 2h0m-22-2h0m-8 4h0m-4 2h0m-10-8h0m-38 2h0m-44 2h0m-36 2h0m-34-4h0m-16 2h0m-122 18h0m84-4h0m46 4h0m48-10h0m12 8h0m40-6h0m120 2h0m28 0h0m46 4h0m32 6h0m-30 8h0m-36-10h0m-8 6h0m-136-4h0m-4 4h0m-6-4h0m-8 2h0m-20 6h0m-18 0h0m-24-4h0m-20-2h0m-4 2h0m-2-4h0m-94 0h0m-12-2h0m-68 2h0m174 14h0m8-4h0m2 10h0m2-10h0m18 6h0m66-6h0m48 0h0m12 6h0m4-2h0m22 2h0m34-2h0m0-2h0m34 6h0m2-2h0m-2 6h0m-4 4h0m-22-2h0m-62 8h0m-2-2h0m-44 2h0m-38-2h0m-26-6h0m-14-2h0m-2 0h0m-34 8h0m-18 2h0m-42 0h0m-28-2h0m-6-8h0m10 16h0m48-2h0m122 6h0m12 2h0m4-10h0m78 10h0m16 0h0m0-10h0m14 6h0m50-6h0m2 0h0m38 14h0m-28 2h0m-58 0h0m-44 2h0m-68 2h0m-30-2h0m-164 2h0m-36-8h0m106 18h0m40 0h0m10 0h0m24-6h0m44 0h0m4 4h0m18 6h0m22-4h0m0-2h0m44 0h0m16 0h0m6-2h0m2-2h0m44 4h0m12 2h0m-48 12h0m-46 2h0m-2-8h0m-10 10h0m-44-4h0m-94 2h0m-2-6h0m-160 8h0m-26 0h0m-16-8h0m30 20h0m140-6h0m6 0h0m10 4h0m46 2h0m24-4h0m2 0h0m24 0h0m0-6h0m14 10h0m0-6h0m40 2h0m4-2h0m8 2h0m10 2h0m72-4h0m-22 8h0m-6 4h0m-42 0h0m0-4h0m-48 10h0m-18-4h0m-10 4h0m-32-6h0m-46-2h0m-6 0h0m-2 2h0m-2-4h0m-16 8h0m-26-2h0m-26-2h0m-4 2h0m-18 2h0m-82 10h0m8-6h0m46 6h0m26-6h0m56 0h0m30 2h0m34-2h0m20 10h0m128-8h0m-8 16h0m-14 0h0m-54 2h0m0-4h0m-12 0h0m-22-2h0m-4 4h0m-58-2h0m-12 0h0m-8 0h0m-106 4h0m-20-4h0m-38 2h0m-26 0h0m28 14h0m88 0h0m62-2h0m14 2h0m20 2h0m48-4h0m70-6h0m44 22h0m-36-8h0m-16 4h0m-80 0h0m-4 4h0m-40-10h0m-44 10h0m-24 0h0m-26-2h0m-94-8h0m22 16h0m14-4h0m6 10h0m70-6h0m36 2h0m12-2h0m18-4h0m150 8h0m8-8h0m-68 18h0m-42-6h0m-30 10h0m-12-6h0m-18 0h0m-160 4h0m-14 6h0m40 0h0m96 6h0m6-4h0m28 0h0m14 6h0m60-6h0m20-4h0m28 0h0m-22 16h0m-34 2h0m-116-6h0m-122 10h0m20 6h0m30 2h0m6 2h0m10-6h0m102 20h0m-68-6h0m-32 14h0m100-4h0m100 4h0m166 2h0" stroke="#6aa870" stroke-width="2.2" stroke-linecap="round" opacity="0.35" fill="none"/></g><defs><clipPath id="cpe"><rect x="100" y="2127" width="756" height="182"/></clipPath></defs><g clip-path="url(#cpe)" stroke-width="2.9" stroke-linecap="round" fill="none"><path d="M853 2131h0m-2-1h0m-17 4h0m-14-1h0m-3-3h0m-2-2h0m-2 7h0m-21-4h0m0-1h0m-33-2h0m-6 0h0m0 4h0m-8 3h0m-3-3h0m-7-1h0m-10 2h0m-19 0h0m-1-4h0m-3 2h0m-9 1h0m-4 2h0m-31-1h0m-1 0h0m-1 0h0m0-5h0m-2 0h0m-10 1h0m0 2h0m-1-2h0m-4 4h0m0 2h0m-2-2h0m-8-5h0m-1 4h0m-10 0h0m0-2h0m-11-2h0m-1 4h0m-1-2h0m-3 3h0m-4-6h0m-18 1h0m-2 2h0m-1 2h0m-3 3h0m-1-5h0m-5 5h0m-2-6h0m-6 5h0m-12-2h0m-13-5h0m-2 8h0m-38-3h0m-11-3h0m-173-1h0m-185 3h0m117 13h0m196 1h0m42 2h0m6-5h0m2-3h0m15 7h0m0-2h0m10 0h0m1 1h0m24-3h0m2-1h0m8 1h0m4 5h0m1-4h0m7-6h0m0 9h0m0-7h0m6 3h0m7 0h0m8 2h0m9-5h0m9-2h0m2 9h0m6-1h0m4 0h0m1 2h0m3 0h0m0-7h0m6 3h0m6 1h0m1-6h0m7 6h0m6-4h0m0 6h0m9-7h0m1 0h0m5 8h0m3 0h0m1-1h0m7-7h0m2 4h0m2 3h0m1-6h0m4-4h0m1 5h0m9-4h0m11 0h0m2 10h0m3-6h0m2 6h0m3-11h0m4 3h0m2-2h0m14 5h0m0-6h0m5 5h0m5 5h0m3-2h0m3-4h0m2-2h0m2 6h0m5 2h0m11-6h0m6-1h0m1-2h0m1 8h0m3-8h0m4 10h0m7-8h0m1 6h0m31-8h0m9 9h0m6 2h0m-18 4h0m-8 6h0m-2-3h0m-13-2h0m-6 0h0m-1 4h0m-3-4h0m-7 5h0m-2-3h0m-2-7h0m-9 2h0m-1 0h0m-9-1h0m-3 6h0m-5-2h0m-3 2h0m-1-6h0m-3 9h0m-1-6h0m-1 7h0m-1-5h0m-2-3h0m-9 8h0m-3-8h0m-5 1h0m-3 4h0m-16 0h0m-1 2h0m-5-10h0m-2 0h0m-3 0h0m-7 8h0m0 2h0m-5-3h0m-1-7h0m-1 10h0m-3 1h0m-3-4h0m-3-7h0m0 8h0m-2-7h0m0 5h0m0 4h0m-1-7h0m-4 5h0m-2-4h0m-5 3h0m-1-1h0m-4-2h0m0-4h0m-4 8h0m-2-3h0m-3 2h0m-5 4h0m0-7h0m-1 1h0m-8 5h0m-6 0h0m-23-2h0m-2-2h0m-12-6h0m-7 10h0m-2-5h0m-11 3h0m0-6h0m-5 8h0m-3-10h0m-2 11h0m-9 0h0m0-1h0m-6-6h0m-20 4h0m-1-7h0m-1 5h0m-3 1h0m-6-1h0m-14 2h0m-17-5h0m-29 8h0m-43-5h0m-6 3h0m-52 2h0m-79-9h0m-22 1h0m-27-3h0m205 22h0m0-7h0m109-3h0m7 7h0m16-2h0m3 0h0m0-1h0m9 6h0m1-10h0m3 4h0m6 6h0m4-6h0m5-4h0m3 5h0m2 1h0m10-6h0m1 8h0m5 1h0m0-9h0m1 10h0m5 1h0m2-2h0m1 1h0m3 0h0m2-10h0m0 7h0m1-6h0m3 5h0m6 5h0m8-5h0m4 0h0m3 5h0m2-11h0m4 10h0m4-9h0m0 6h0m1 2h0m7-8h0m1 1h0m3 6h0m0-1h0m3-4h0m2 6h0m1-1h0m0 3h0m1-6h0m1 3h0m0-1h0m2-5h0m3 3h0m5 5h0m1 0h0m6-5h0m4 1h0m0-4h0m5 5h0m2 2h0m1 1h0m3-2h0m2-2h0m2 2h0m1-2h0m6-4h0m2 2h0m2-3h0m2 9h0m0-2h0m0-8h0m22 7h0m3 3h0m1-3h0m0-3h0m0 3h0m1-3h0m0 0h0m2 2h0m9-5h0m5 4h0m5 4h0m2-1h0m1-1h0m5 3h0m0-1h0m1-6h0m1 0h0m2 8h0m8-1h0m1-2h0m17-7h0m2 5h0m1-6h0m5 4h0m1 0h0m0 2h0m23-5h0m2 8h0m10-3h0m-8 17h0m-15-2h0m-1-6h0m-22 4h0m0-2h0m-4 1h0m-1-1h0m-5 0h0m-32 4h0m-1-7h0m-3 9h0m-1-6h0m-4 3h0m-1 3h0m0-5h0m-1-5h0m-3 3h0m-3 6h0m-5 1h0m-1-1h0m-10-8h0m-1 8h0m-2-4h0m-5-4h0m-4 5h0m-3-7h0m-2 1h0m-7 10h0m-2-1h0m-1 1h0m-2-6h0m-1 1h0m-2-2h0m-3-3h0m-8 2h0m-3-2h0m0 3h0m-4 7h0m-1 0h0m-2-3h0m-6 0h0m-5 3h0m-1-9h0m-1 9h0m-2-4h0m-9-3h0m0-3h0m0 5h0m0-3h0m-8-2h0m-1 5h0m0-3h0m-2 6h0m0-5h0m-4 5h0m-1-8h0m-3 1h0m-3 1h0m0-1h0m-4 3h0m-4-1h0m-3-3h0m0 8h0m-7-2h0m0 4h0m-3-10h0m0 2h0m-2 1h0m-1 6h0m-2 0h0m-10-8h0m-1 3h0m-1-4h0m-9 0h0m-5 0h0m-1 1h0m-3 0h0m-1 9h0m-1-2h0m0 2h0m0-2h0m-2 1h0m-1 1h0m-4 0h0m-4-7h0m-1-1h0m-9 4h0m-1-3h0m-1 4h0m-10 1h0m-14 0h0m-6-8h0m-4 3h0m-4 7h0m-5-6h0m-2-2h0m-14 7h0m-4 0h0m-2-4h0m-14-2h0m-17 2h0m-12 4h0m-16-8h0m-6 7h0m-67-3h0m-169 1h0m165 8h0m18 4h0m2-5h0m3 5h0m58 2h0m13-2h0m17 2h0m21 0h0m11-7h0m1 5h0m10-4h0m8 0h0m6 2h0m0-5h0m9 7h0m2 4h0m2 0h0m0-1h0m4-1h0m3-7h0m0 1h0m1-1h0m8 8h0m3 1h0m1-6h0m1-4h0m1 1h0m2 0h0m1 5h0m2-7h0m1 7h0m3 4h0m0-5h0m0-4h0m5 3h0m2-4h0m17 4h0m1-5h0m2 3h0m0 4h0m1 4h0m2-1h0m1-9h0m2 5h0m4-6h0m4 6h0m2-1h0m2-1h0m2 6h0m7-3h0m6-7h0m4 4h0m3 7h0m1-6h0m0 6h0m5-3h0m2-6h0m1 0h0m3 8h0m1 1h0m6-10h0m2 4h0m1-1h0m2 2h0m4-6h0m0 3h0m4 8h0m3-6h0m2-2h0m4 2h0m3-5h0m2 0h0m6 3h0m3 7h0m0 0h0m0-6h0m1 1h0m4 1h0m0-5h0m6 7h0m1 0h0m1-1h0m1 1h0m0-8h0m3 5h0m2 4h0m0-6h0m0 6h0m4-6h0m10 7h0m6 0h0m5-5h0m1-3h0m3-1h0m6 6h0m4-2h0m6-5h0m5 5h0m1 3h0m23 0h0m22 1h0m5-2h0m14-7h0m5 5h0m3 1h0m24 4h0m0 1h0m-4 10h0m-3-2h0m-11 1h0m-19-7h0m-4 9h0m-6-8h0m-6-1h0m-13 10h0m-4-6h0m-11 1h0m-3 4h0m-24-9h0m-4 1h0m-6 1h0m-19 1h0m-5 3h0m0 1h0m-4-3h0m-1 4h0m-1-8h0m-3 6h0m-2-2h0m-1 2h0m-6-7h0m-3 10h0m-13 0h0m-1-8h0m-3 4h0m-2 5h0m-5-1h0m-1-3h0m0-5h0m0-1h0m0 7h0m-1 2h0m0-9h0m-1 4h0m0 0h0m0 6h0m-1-5h0m-5-4h0m-2 8h0m-3-5h0m-6-3h0m0 2h0m-2 3h0m-1 3h0m-2 1h0m-1-10h0m0 10h0m-11-3h0m0-8h0m-4 10h0m-1-5h0m-2 1h0m-4 4h0m-9-8h0m-1 5h0m-1-1h0m0-1h0m-7 5h0m-1-8h0m-4 2h0m-2-3h0m-1 3h0m-7-2h0m-1 3h0m-1-4h0m-1 1h0m-9 0h0m-2 2h0m-2 2h0m-1-6h0m-7 5h0m0-1h0m-5 1h0m-6 1h0m-14-6h0m-2 9h0m0-1h0m-2-7h0m-2 5h0m-19 0h0m-3 1h0m-6 3h0m-29 1h0m-6-3h0m-5-1h0m-2-2h0m-116-2h0m-11-2h0m-136 5h0m-23 15h0m59-4h0m105 3h0m14-2h0m17-3h0m23-1h0m2 1h0m6 1h0m41 0h0m55 4h0m14-8h0m10 8h0m2-2h0m11 4h0m0-6h0m12-1h0m3 0h0m10 3h0m4 3h0m0-6h0m4 4h0m5-6h0m6 3h0m11 7h0m1-1h0m2-10h0m2 0h0m2 11h0m5-8h0m5 0h0m4 7h0m4 1h0m2-8h0m1 5h0m2 3h0m2-4h0m2-2h0m2 4h0m1-9h0m0 4h0m1 0h0m2 0h0m1 4h0m2-4h0m0 6h0m3-2h0m2 2h0m4-10h0m0 3h0m2-2h0m1 2h0m0-2h0m0 3h0m1 2h0m1-6h0m0 4h0m1-4h0m4 6h0m2-4h0m2 6h0m0 2h0m4-2h0m0-8h0m2 9h0m3-2h0m1-7h0m0 10h0m2-2h0m4-7h0m1 1h0m0-2h0m2 2h0m0 0h0m4 9h0m1-10h0m1 10h0m3-1h0m3-2h0m1-5h0m2 3h0m2-5h0m0 0h0m5 9h0m0-9h0m8 2h0m4 6h0m12-6h0m5 5h0m0-1h0m1 0h0m7 0h0m3 0h0m1 4h0m1-1h0m1-2h0m0 1h0m4-5h0m3-1h0m8 5h0m0-1h0m3 4h0m4-9h0m0 6h0m4-4h0m1-3h0m7 5h0m21 0h0m15-4h0m4-1h0m2 6h0m21 0h0m10 0h0m0 1h0m10 0h0m-8 13h0m-2-1h0m-7-8h0m-7 3h0m-10-3h0m-9 10h0m-11-9h0m-4 5h0m-1 4h0m-3-1h0m-12-4h0m-2-4h0m-1 4h0m-1-1h0m-10 3h0m-6-5h0m-4 4h0m-7-3h0m-1-2h0m-1 6h0m-6-1h0m-3-3h0m-7 8h0m-7-10h0m-3 8h0m-1-4h0m-2 3h0m-2 0h0m0-3h0m-2 2h0m-1-1h0m-4 1h0m-3 3h0m-12-3h0m-3 1h0m-2 0h0m-1-1h0m-11 0h0m-3-6h0m-6-1h0m-2 8h0m-1 0h0m-2-8h0m-1 3h0m-1 3h0m-1 3h0m0-9h0m-2 11h0m-3-2h0m-2-7h0m0-2h0m-3 5h0m-2-5h0m-1 3h0m0 2h0m-7-5h0m0 5h0m-4-4h0m0 3h0m0 2h0m-1-3h0m0 8h0m-1-6h0m-1 6h0m-6 0h0m0-7h0m-1 1h0m-1 3h0m-3 0h0m-4 1h0m-1-9h0m0 2h0m-1 2h0m-1 3h0m-1 4h0m-1-7h0m-1-3h0m-1 2h0m-6 3h0m-5-2h0m-1-4h0m-2 8h0m-2 0h0m-5 2h0m-1-8h0m-2 4h0m-6 2h0m-1-6h0m-1 4h0m-5 1h0m-2-4h0m0 8h0m-4-5h0m-6 2h0m-10-5h0m0 0h0m-7 8h0m-3-9h0m-1 0h0m-1 4h0m-2 0h0m-9-1h0m-2-5h0m-2 0h0m-7 2h0m0 9h0m-18-9h0m-13 4h0m-53-4h0m-8-1h0m-3 4h0m-9 0h0m-105-3h0m-69-1h0m12 20h0m52-5h0m23 3h0m13-5h0m41 5h0m31-7h0m4 0h0m8 0h0m4 9h0m2-9h0m22 11h0m4-6h0m11 4h0m3-1h0m9-7h0m0 8h0m9-3h0m6 3h0m9-3h0m1 3h0m11-8h0m1 6h0m1-4h0m3 8h0m0-2h0m21-5h0m6 3h0m0-6h0m6 1h0m0-2h0m0 3h0m2 2h0m0-1h0m0-3h0m2-1h0m8 3h0m1 1h0m7-4h0m0 8h0m0-1h0m1 1h0m4-6h0m2 8h0m4-8h0m2 5h0m3-6h0m6-1h0m1 10h0m1-5h0m1-2h0m1-2h0m2 7h0m3 3h0m0-9h0m1 4h0m4-1h0m2 6h0m0-7h0m6 6h0m0-8h0m0 6h0m1 3h0m0-1h0m1-10h0m3 3h0m1 3h0m1 2h0m0-8h0m1 2h0m1 5h0m0 1h0m1-2h0m1-1h0m1 1h0m1-6h0m0 4h0m1 5h0m1-9h0m1 1h0m0 1h0m2 2h0m1-4h0m0 9h0m1 2h0m2-8h0m2 7h0m0-9h0m0 7h0m1-4h0m7-1h0m1 6h0m0-5h0m4-3h0m6 9h0m0-3h0m1 2h0m2 1h0m3-2h0m3-2h0m1-3h0m3-2h0m0 10h0m0-10h0m2 8h0m0 0h0m1-2h0m3-7h0m2 8h0m1-5h0m3 7h0m3-3h0m2-3h0m6-3h0m0 6h0m4-2h0m0-2h0m2-3h0m3 2h0m1 9h0m2-6h0m4-5h0m1 3h0m0 4h0m2-3h0m12 4h0m1 0h0m2 0h0m4-4h0m1-1h0m7 2h0m6 3h0m1-8h0m3 4h0m2-1h0m7 4h0m0-5h0m4 3h0m1-5h0m1 6h0m5-3h0m10 6h0m4-3h0m10 1h0m4-2h0m1 5h0m9-6h0m10-4h0m11 7h0m26 5h0m0 2h0m-13 4h0m-9 2h0m-11 0h0m-12-7h0m-22 0h0m-11 4h0m-5-1h0m-3-1h0m-5 6h0m-8-4h0m-9-2h0m-4 7h0m-2-1h0m-7 0h0m-1-6h0m-1 2h0m-1-4h0m-8 4h0m-4 0h0m0-2h0m-5-2h0m-1 1h0m-2 1h0m-6 5h0m0 1h0m0-6h0m-5 8h0m-1-5h0m-2 5h0m-1-9h0m-4 1h0m-3-2h0m-4 6h0m-1 2h0m-2-9h0m-1 3h0m-7 2h0m-2 6h0m-2 0h0m-2-2h0m0-2h0m-8 1h0m-3-6h0m0 8h0m-5-1h0m-3 1h0m-6 0h0m-3-8h0m0-1h0m-1 0h0m0 5h0m0 2h0m-1 2h0m-1-2h0m0 1h0m-1-5h0m-6-2h0m-6 5h0m-3 0h0m-1 2h0m0-2h0m0 0h0m-1-4h0m-4 5h0m0 1h0m-1-4h0m-1 5h0m-2-6h0m0-4h0m0 8h0m0-5h0m-2 1h0m-2 0h0m0 0h0m-1-4h0m-2 10h0m-1-6h0m-3 4h0m0 1h0m-3 0h0m0 2h0m-3-11h0m-1 3h0m0 1h0m-1 4h0m0-1h0m-2 3h0m0-6h0m-1 1h0m-4-1h0m-3 7h0m-1-1h0m-3-1h0m-3 1h0m0 1h0m-4-8h0m0-2h0m-2 2h0m-3 8h0m-3-8h0m0 3h0m-1-2h0m-4 4h0m-4-2h0m-4-6h0m0 9h0m-3-1h0m-9-5h0m-3 5h0m-1-8h0m-2 8h0m-1-6h0m-4 3h0m-3-4h0m-1 10h0m-2-11h0m-1 9h0m-1-4h0m-10 0h0m0-1h0m-4-3h0m-8 5h0m-3-1h0m-1-4h0m-13 9h0m-4-5h0m-13-4h0m-4 8h0m-8-2h0m-11 3h0m-7-3h0m-6-7h0m-23 0h0m-30 6h0m-44-3h0m-8 2h0m-15 6h0m-1-7h0m-65-2h0m-39 8h0m-13 1h0m-24-3h0m10 6h0m59 7h0m26-1h0m70-2h0m5 5h0m10-10h0m11 3h0m1 0h0m38-1h0m19 7h0m8 1h0m31-7h0m12-3h0m6 8h0m8 0h0m8 0h0m6 1h0m3-6h0m5 3h0m1 1h0m5-5h0m5 1h0m5-2h0m0 1h0m1 8h0m7-3h0m11-2h0m3 0h0m1-4h0m1-1h0m2 10h0m8-1h0m0-5h0m1 2h0m2-6h0m0 7h0m2-7h0m1 10h0m0 0h0m2-5h0m1-1h0m0 5h0m1-7h0m1 6h0m0-4h0m1 0h0m1-2h0m0-3h0m3 9h0m1-7h0m0 0h0m3 7h0m2-2h0m1-5h0m1 2h0m1 0h0m2 7h0m1-11h0m0 6h0m3 0h0m3-1h0m1 1h0m1 0h0m0 5h0m4-6h0m1-1h0m2-3h0m1 5h0m1-1h0m4-1h0m1 2h0m1 3h0m2 2h0m0-7h0m4 5h0m1 0h0m2-2h0m1-4h0m1 0h0m0 2h0m2 2h0m1-2h0m3 1h0m2 5h0m3-3h0m0-3h0m0-1h0m1 4h0m0-2h0m2-5h0m1 1h0m0 9h0m1 0h0m1 0h0m1-5h0m0-4h0m6 3h0m1-4h0m2 5h0m0-4h0m2 0h0m0 6h0m2 0h0m1 2h0m1-2h0m2-6h0m1-2h0m2 5h0m0-4h0m2 0h0m4 8h0m3-9h0m1 0h0m0 10h0m10-6h0m0-3h0m4 10h0m0-3h0m0 2h0m4-7h0m3-1h0m0 3h0m1-4h0m3 8h0m0 1h0m2-1h0m1-5h0m1-3h0m1 5h0m0-4h0m6 9h0m3-7h0m1-3h0m5 7h0m0-4h0m0 2h0m0-1h0m1-5h0m1 5h0m0-2h0m0-2h0m1 1h0m0-1h0m2 0h0m0-1h0m1 10h0m1-4h0m1-2h0m1 6h0m0-3h0m1-7h0m6 4h0m2 2h0m4-5h0m0 1h0m11 5h0m3-6h0m10 7h0m3-7h0m5 10h0m3-1h0m5-5h0m5 0h0m2-4h0m3 3h0m1 2h0m14-6h0m11 0h0m3 9h0m4-3h0m40 0h0m2 0h0m-8 9h0m-18 3h0m-1 3h0m-15-7h0m-3 4h0m-21 0h0m-3-2h0m-9 3h0m-6 1h0m0 3h0m-5-4h0m-5 3h0m-14 1h0m0-4h0m-5 2h0m-1-7h0m0 7h0m-2-2h0m-3-7h0m-7 6h0m-2-4h0m-1 8h0m-1 1h0m-1-10h0m-6 0h0m-1 0h0m-3 7h0m-3-3h0m-4-4h0m-8 1h0m0-1h0m-2 8h0m0-2h0m-5 3h0m-8-3h0m-1 0h0m-7 1h0m-8-5h0m-2 6h0m-2-3h0m-4 4h0m-1-5h0m-1 0h0m0 2h0m-1 4h0m-1-5h0m-1-3h0m-1 3h0m-4-6h0m-1 4h0m-2 0h0m0 3h0m0 4h0m-1 0h0m-1-4h0m0 3h0m0-4h0m-2 1h0m-1-2h0m-1 6h0m0-6h0m-1 3h0m0 0h0m-1 0h0m-1-8h0m-1 4h0m-1 5h0m0-7h0m0 4h0m-2-4h0m-1 0h0m0-1h0m-1 5h0m-1 4h0m-1 1h0m-1-4h0m0 2h0m-1-2h0m-2 2h0m0-5h0m-2-1h0m0-2h0m0 3h0m0-3h0m-1 5h0m0-6h0m-2 10h0m-1-7h0m0 6h0m-1-9h0m-2 2h0m-1 8h0m0-1h0m-2-9h0m-4 8h0m-2-4h0m-1 2h0m0-4h0m-1 0h0m-1 0h0m-1 6h0m0-1h0m0-3h0m-1 6h0m-3-4h0m-1 4h0m-1-9h0m-1 9h0m0-5h0m0 6h0m0 0h0m-1-4h0m0 4h0m-1-11h0m0 7h0m-2 4h0m-1-1h0m-2 1h0m0-5h0m-2 1h0m-3 3h0m-3-9h0m-3 3h0m-1-4h0m-1 7h0m-1 3h0m0-7h0m-1 7h0m-2-10h0m-3 7h0m0 2h0m-1-3h0m-2-3h0m-1 0h0m-1 7h0m-1 1h0m-1 0h0m-3-3h0m-1 0h0m-2-6h0m-1 2h0m-3 2h0m0-5h0m-2 0h0m-2 2h0m-3-3h0m-1 6h0m0-2h0m-3 0h0m-2 7h0m-1 0h0m0-2h0m-3-1h0m-6 2h0m-3-5h0m-3-3h0m-2 1h0m0 7h0m-1-5h0m-2-1h0m-5 0h0m0-3h0m-2 3h0m-10 6h0m-1-7h0m-3 5h0m-1 3h0m-4-1h0m-4-9h0m-5 0h0m-2 10h0m-1-3h0m-2-4h0m-6 6h0m-10-4h0m-19-2h0m-7 2h0m-17 3h0m-1-7h0m-6 6h0m-4-4h0m-47 0h0m-10-4h0m-4 2h0m-196 21h0m76-10h0m50 1h0m33 2h0m7 6h0m19-6h0m13 1h0m24 2h0m6-4h0m3 2h0m18-1h0m37-2h0m8 2h0m3-4h0m1 11h0m3-6h0m21-5h0m1 11h0m6-7h0m4 3h0m4-2h0m4 6h0m6 0h0m10-9h0m4 7h0m0-8h0m1 1h0m0 8h0m14-1h0m4-2h0m1 3h0m1-9h0m2 5h0m2-6h0m0 5h0m2-1h0m1-3h0m3 2h0m0 8h0m1-1h0m0 0h0m0-10h0m1 6h0m2 0h0m0-2h0m0 4h0m1-5h0m1 5h0m0-8h0m1 2h0m0 5h0m1-2h0m3 6h0m1-6h0m0-1h0m1 6h0m0-10h0m1 11h0m1 0h0m0 0h0m2-7h0m1-1h0m0 3h0m0 1h0m5-2h0m1-4h0m2 6h0m2-4h0m3 1h0m0-4h0m1 0h0m5 6h0m2 0h0m0-1h0m4 0h0m1 6h0m0-8h0m2-2h0m3 5h0m1 0h0m1-5h0m1 6h0m0-1h0m2 5h0m2-9h0m1-1h0m4 6h0m0 1h0m1 2h0m0-9h0m2 3h0m2-3h0m0 10h0m0-6h0m3 3h0m0-2h0m2-2h0m1 4h0m1-6h0m1 9h0m0-9h0m1 3h0m3-2h0m4 3h0m1 3h0m0-2h0m2 3h0m3-9h0m3-1h0m4 0h0m2 3h0m1 5h0m1-7h0m0 4h0m3-4h0m2 10h0m0-4h0m3 4h0m2-11h0m1 7h0m2 2h0m0 1h0m1-4h0m1-6h0m1 7h0m0 3h0m1-10h0m2 7h0m3-1h0m1-6h0m1 1h0m3 2h0m0-3h0m4 9h0m3-7h0m0 5h0m0-7h0m2 6h0m0 4h0m0 0h0m2-9h0m5 2h0m0 5h0m0-8h0m1 6h0m1 4h0m1-8h0m1 0h0m2 0h0m0 9h0m0-8h0m6 6h0m1-1h0m0-4h0m5 3h0m0 3h0m4 0h0m3-9h0m10 5h0m4-5h0m10 0h0m1 8h0m9-3h0m3-2h0m0 0h0m1-4h0m1 8h0m3-5h0m10-1h0m4 8h0m1-5h0m7 0h0m8 0h0m1-1h0m18 6h0m0-6h0m8 6h0m39-4h0m0 0h0m0 14h0m-6-5h0m-12 7h0m-15-3h0m-2 2h0m-9-1h0m-3-2h0m-24 3h0m-10-7h0m-4 3h0m-2 4h0m-6-2h0m-20 2h0m0-4h0m-1-1h0m-6-2h0m-6 3h0m-3 3h0m-1-7h0m0 10h0m-18-2h0m-4-4h0m-1 6h0m-3-10h0m-1 4h0m-1-1h0m-6-3h0m-1 10h0m-1-9h0m-2 3h0m-1-2h0m-4 6h0m-1-9h0m-1 4h0m-2 7h0m0-10h0m-2 0h0m-1 2h0m-1 0h0m-1-2h0m-1 10h0m-1-11h0m-1 5h0m-3-1h0m0-1h0m0 0h0m-2 0h0m0 2h0m-1-5h0m0 10h0m0 1h0m0-1h0m0-5h0m-1-1h0m-1 0h0m-1 7h0m-1-7h0m-2-2h0m-1 5h0m-1 4h0m-1-5h0m-4-3h0m-2 8h0m0 0h0m-1-5h0m-1-5h0m0 8h0m0-8h0m-2 5h0m-3 4h0m-1-7h0m0 1h0m-1 2h0m-1-6h0m-1 8h0m-1-5h0m-1 2h0m-1-5h0m-1 2h0m-1 5h0m0-1h0m-2 5h0m-6-8h0m-2 7h0m0-1h0m-1-4h0m0 3h0m-2-8h0m-5 7h0m0 0h0m-2 4h0m-1-5h0m0-5h0m-2 3h0m-1-3h0m-1 2h0m-1 8h0m-1-8h0m-1-2h0m-1-1h0m-2 1h0m0 8h0m0-2h0m-3 4h0m-1-10h0m-1 6h0m-2-2h0m0 5h0m-2 0h0m-1-2h0m-1-5h0m0-1h0m-1 3h0m-1 4h0m0-8h0m-4 3h0m0-4h0m-5 1h0m0-1h0m-1 2h0m-2-1h0m-1 10h0m-1-9h0m0-2h0m-1 11h0m0-3h0m0 0h0m-4-4h0m-4 3h0m-2-2h0m-4 6h0m-7-1h0m-8-9h0m-1 5h0m-1 3h0m-1-6h0m0-2h0m-1 6h0m-1 2h0m-4-7h0m0 0h0m-2 7h0m0-3h0m-1 3h0m0-1h0m0-6h0m-14-2h0m-3 9h0m0 0h0m-6 0h0m-3-3h0m-2-2h0m0-4h0m-4 3h0m-7 7h0m-30-3h0m-8 4h0m-22-3h0m-26-8h0m-10 4h0m-2 1h0m-6 3h0m0-5h0m-42 2h0m-33 6h0m-72-1h0m-76-8h0m-19 3h0m254 7h0m20 1h0m52 3h0m1-3h0m18 0h0m9 1h0m4 0h0m3-1h0m8-1h0m8 2h0m8 2h0m6-1h0m11 0h0m1 1h0m1 1h0m5-2h0m1-3h0m5 5h0m12-4h0m0 3h0m1-4h0m3 0h0m6 0h0m1 4h0m0-4h0m2 2h0m3 1h0m1-3h0m3 0h0m0 1h0m2 0h0m2 4h0m3-2h0m1-1h0m0 3h0m11-4h0m1-1h0m3 0h0m0 3h0m12-1h0m0-1h0m1 3h0m4-3h0m0 3h0m2-2h0m1-2h0m0 2h0m1-2h0m2 3h0m2-3h0m0 5h0m1-3h0m3-2h0m2 0h0m2 0h0m1 1h0m2-1h0m3 4h0m1-3h0m1 2h0m7-3h0m2 2h0m1 2h0m5-3h0m6-1h0m2 2h0m1-2h0m0 3h0m2 0h0m2-3h0m0 3h0m8-2h0m2-1h0m3 3h0m6-3h0m6 1h0m6 2h0m2-2h0m0 0h0m5 3h0m4-3h0m3 4h0m2-4h0m5-1h0m3 4h0m9-3h0m4 0h0m2 1h0" stroke="#3b2a6a"/><path d="M729 2133h0m-33-6h0m-3 5h0m-10 2h0m-3-4h0m-4 3h0m-14-4h0m-4 1h0m-8 5h0m-5-1h0m-1-3h0m-4 4h0m-5-2h0m-2-3h0m-10 0h0m-9 1h0m-3-3h0m0 3h0m-2-1h0m-10 1h0m-1-4h0m-1 8h0m-6 0h0m-5-4h0m-3 2h0m-4-4h0m-1 5h0m-2-6h0m-1 1h0m-8 5h0m-1-2h0m-1-1h0m-3 3h0m-27-2h0m-1-2h0m-7 4h0m-3-4h0m-26 4h0m-18-6h0m-4 7h0m-4-6h0m-3 6h0m-21-4h0m-23 1h0m-4 3h0m-4-2h0m-8 2h0m-6 0h0m-23-5h0m-14-2h0m-2 5h0m-32 2h0m-18-2h0m-17-3h0m-56-2h0m-4 0h0m-97-1h0m159 12h0m73-1h0m26 3h0m5 3h0m5-8h0m22 6h0m8-5h0m2 2h0m2-3h0m6 8h0m12 0h0m1-8h0m2 6h0m3 3h0m1-6h0m7-2h0m3 7h0m3-1h0m26-2h0m9-3h0m5 9h0m2-11h0m6 3h0m6 0h0m1 1h0m9 7h0m2-1h0m8-2h0m0-5h0m1 3h0m3 2h0m0-7h0m9 5h0m3 3h0m1-1h0m0 1h0m5-4h0m2 2h0m17 0h0m4 3h0m1-9h0m2 3h0m21 2h0m6-1h0m0 3h0m6 1h0m4-6h0m6-3h0m4 2h0m3 0h0m3 1h0m0 5h0m6-2h0m12 1h0m3 4h0m1-6h0m28 5h0m5 0h0m23-5h0m7 4h0m54-5h0m27 4h0m0 0h0m16-5h0m-31 10h0m-22 5h0m-36 3h0m-13-2h0m-8-2h0m-2-3h0m-3 3h0m-7-4h0m0 0h0m-2 1h0m-3-2h0m-10 6h0m-11 3h0m-3-5h0m-14 4h0m-1-1h0m-4 2h0m-1-5h0m-5-3h0m-5 1h0m-23 4h0m-3-5h0m-2 8h0m-1-7h0m-10 4h0m-3-2h0m-2 5h0m-12-3h0m-10 3h0m-1-6h0m-4 6h0m-8-4h0m-3 0h0m-4-2h0m-11 2h0m-2-4h0m-4 1h0m-2 7h0m0-9h0m-1 6h0m0 5h0m-2-4h0m-2-4h0m-2 3h0m-6-1h0m-3 0h0m-14-4h0m-5 7h0m-2 1h0m-4-9h0m-1 10h0m-4-6h0m-12 3h0m-1-6h0m-2 7h0m-14-1h0m-2-5h0m-3 4h0m-13-6h0m-1 2h0m-4 7h0m-5-1h0m-3 0h0m-17-5h0m-9 8h0m-16 0h0m-7-2h0m-15-6h0m-5-2h0m-1 1h0m-70-2h0m-36 11h0m-15-4h0m-60 4h0m-36-7h0m-29 6h0m131 13h0m45-4h0m1-1h0m11 0h0m10-6h0m25 3h0m3-3h0m44 0h0m0 7h0m2 2h0m2-8h0m8 10h0m4-6h0m38-2h0m18-3h0m2 4h0m8-3h0m11 10h0m0-2h0m0-6h0m2 4h0m28 0h0m7 3h0m4-2h0m5 2h0m7 1h0m6-8h0m1-1h0m11 5h0m2-1h0m1-1h0m1 6h0m0-9h0m5-1h0m13 9h0m3 1h0m1-2h0m17-3h0m0-3h0m3 3h0m4-4h0m4 3h0m18-3h0m4 6h0m1-4h0m1 3h0m4 1h0m1 3h0m1-1h0m6 0h0m9-10h0m4 2h0m14 7h0m6-8h0m15 0h0m19 9h0m10-5h0m33-2h0m25 9h0m-15 0h0m-16 0h0m-7 2h0m-16 4h0m-34 4h0m-19-6h0m-2 7h0m-22-10h0m-19 4h0m-1 3h0m-1-6h0m-1 2h0m-3-3h0m-8 0h0m0 0h0m-10 1h0m-1 6h0m-5 2h0m-2-4h0m-3 4h0m-8 1h0m-3-6h0m-4-5h0m-4 11h0m-3-4h0m0-6h0m-4-1h0m-15 8h0m-1-4h0m-1-2h0m-12 6h0m0-7h0m-1 1h0m-4-2h0m-4 8h0m-18 0h0m0 3h0m-6-2h0m-4-1h0m-9-2h0m-1 2h0m-3-2h0m-7 0h0m-2 4h0m-1-4h0m-5-1h0m-1-5h0m-12 1h0m-4 3h0m-9 2h0m-3-5h0m-16 9h0m-25 1h0m-23-9h0m-23 0h0m-28 6h0m-12-6h0m-28-2h0m-32 3h0m-4 1h0m-10 1h0m-118 7h0m28 3h0m55 4h0m33-6h0m4 3h0m92-3h0m14 8h0m12-4h0m22-2h0m8 0h0m4 5h0m6-2h0m1-2h0m1 7h0m7-6h0m8-5h0m14 4h0m0 0h0m13 2h0m4 0h0m2-3h0m6-3h0m2 7h0m4-5h0m7 6h0m2 2h0m6-7h0m1 0h0m5 1h0m2-3h0m15 8h0m10-3h0m1-1h0m7 4h0m13-4h0m8 3h0m1 3h0m8-8h0m3 3h0m2-5h0m15 5h0m4-4h0m5 7h0m5-1h0m2-8h0m1 5h0m1 4h0m2-3h0m1-1h0m0 6h0m6-6h0m6 2h0m11 1h0m3-8h0m5 8h0m2-1h0m1-4h0m1 7h0m6-4h0m2 4h0m0-10h0m1 3h0m4-1h0m8 1h0m5-1h0m20 2h0m18-1h0m17 3h0m58-4h0m31 2h0m3 7h0m-40 1h0m-52 10h0m-24-3h0m-36-1h0m-1-5h0m-2 2h0m-2-2h0m-5 7h0m0-4h0m-4 7h0m-1-4h0m-3 1h0m0-2h0m0 4h0m-3-7h0m-5 7h0m-3 0h0m-7-3h0m-6 0h0m-8 2h0m-8 2h0m-4-10h0m-10 10h0m-6-6h0m-2 6h0m-7-4h0m-10 3h0m0-1h0m-1-8h0m-7 0h0m-1 5h0m-3 0h0m-43 1h0m0-5h0m-6 2h0m-3 5h0m-13 1h0m-23-10h0m-7 2h0m-6 7h0m-8-7h0m-44 7h0m-1-2h0m-7 1h0m-1 3h0m-13-6h0m-2 3h0m-72-4h0m-1 0h0m-122-3h0m16 16h0m96-5h0m12 4h0m25-4h0m10 8h0m0-1h0m13 1h0m9 1h0m39-7h0m4 4h0m17 3h0m19 0h0m8-6h0m8 2h0m10-2h0m6 7h0m15-2h0m1-6h0m1 3h0m1-2h0m10 4h0m9 0h0m1 1h0m5-6h0m2 9h0m5-8h0m0-2h0m8 7h0m4-5h0m1 3h0m4 3h0m11 1h0m1-3h0m8-6h0m14 0h0m2 3h0m2 5h0m11-3h0m3 2h0m1-6h0m7 5h0m0-1h0m2-4h0m11 8h0m3-8h0m1 2h0m1 5h0m1-7h0m3 6h0m4-4h0m2 2h0m5-6h0m1 4h0m2 4h0m12-4h0m5 4h0m3-4h0m8 6h0m17-6h0m7 4h0m20-4h0m1 5h0m20 1h0m27-8h0m11-2h0m13 11h0m-89 6h0m-2 4h0m-5 2h0m-23-10h0m-4 4h0m-8-4h0m-2 4h0m-1 3h0m-1 0h0m-6 3h0m-4-11h0m-8 10h0m-7-7h0m-3-1h0m-19 2h0m-2-1h0m-2 4h0m-7-1h0m-7-6h0m-7 8h0m-8-6h0m-5 2h0m-5 7h0m-4-7h0m-5 2h0m-2-4h0m-1 2h0m-2 0h0m-11-1h0m-3-3h0m-3 10h0m-1 0h0m-3-5h0m-6 5h0m-9-7h0m-3 7h0m0-7h0m-1 7h0m0-3h0m-2-3h0m-10 1h0m-4-4h0m-8 6h0m-5 3h0m-8-2h0m-1 2h0m-5-6h0m-15-4h0m-6 5h0m-7 0h0m-2 6h0m-3-1h0m-12-6h0m-1-1h0m-29 8h0m-15-10h0m-4-1h0m-19 0h0m-27 6h0m-53-4h0m-31-1h0m-31 4h0m-50 5h0m-33 5h0m162-3h0m63 11h0m20-10h0m14-1h0m44 8h0m12 0h0m18 1h0m7-8h0m8 7h0m3-3h0m10 0h0m1 2h0m8 0h0m5 3h0m10-7h0m0 5h0m5-6h0m6-2h0m4 0h0m0 7h0m2 2h0m6 0h0m2 0h0m0-1h0m1-1h0m3 3h0m8 1h0m4-8h0m2 6h0m7-4h0m0 3h0m3 2h0m6 1h0m5-9h0m2 8h0m8-2h0m2-3h0m3-5h0m4 7h0m1-1h0m1 5h0m2-11h0m0 10h0m0-2h0m3 3h0m8-4h0m5-1h0m10-4h0m0 6h0m5-5h0m6 0h0m7 8h0m13-4h0m3 0h0m4-7h0m2 2h0m5 3h0m5 1h0m12 3h0m16 1h0m12 0h0m2-1h0m20-5h0m3 5h0m6 3h0m-19 9h0m-21-1h0m-18 0h0m-7-4h0m-10-3h0m-7 9h0m-3 1h0m-5-10h0m-1 8h0m-5-8h0m-11 10h0m-10-3h0m-7-7h0m-4 7h0m-11-8h0m-3 7h0m-1 2h0m-1 2h0m-1-8h0m-8 2h0m-12 5h0m-1 0h0m-5-3h0m-1-1h0m-14-6h0m-3 3h0m-4-3h0m-5 11h0m-1-11h0m-8 0h0m-9 1h0m-2 7h0m-4-3h0m-1 6h0m-1-1h0m-8-5h0m-1-2h0m-1 8h0m0-9h0m-5 2h0m-5-2h0m-12 4h0m-2-1h0m-4 4h0m0-4h0m-1-5h0m-17 11h0m-4-4h0m-11 1h0m-8-3h0m-37 3h0m-19 3h0m-104-1h0m-22-7h0m-41 2h0m-38 3h0m61 7h0m31-3h0m33 5h0m14 5h0m13-7h0m28 4h0m27-7h0m19 8h0m0-4h0m21 1h0m19 2h0m4 1h0m3-4h0m4-4h0m2 10h0m7-1h0m1 2h0m3 0h0m11-2h0m1-2h0m6-2h0m6-3h0m1-2h0m0 2h0m1-2h0m8 11h0m2-5h0m2 2h0m1-2h0m9 3h0m4-6h0m2 0h0m5 8h0m4-3h0m1-2h0m9 3h0m1-5h0m10 3h0m1-1h0m0 5h0m8-3h0m3-4h0m8 3h0m4 1h0m0-8h0m1 3h0m2-2h0m7 8h0m0 2h0m3-4h0m1-6h0m5 9h0m0-2h0m8 3h0m3-1h0m4-9h0m1 3h0m0 6h0m3 0h0m4-2h0m1-4h0m1 0h0m7 1h0m1-5h0m8 8h0m4-8h0m8 11h0m3-9h0m8 1h0m3 4h0m3-5h0m1-2h0m5 3h0m20 3h0m58-4h0m54 5h0m-49 7h0m-33 6h0m-12 1h0m-14-9h0m-9 5h0m-13-4h0m-10 4h0m-18 6h0m-4-9h0m-13 9h0m0-7h0m-1 0h0m-3 7h0m-5-7h0m-8-2h0m-2 1h0m-1 5h0m-6-6h0m-7 8h0m-5-10h0m-2 5h0m-2 4h0m-2-4h0m-2 3h0m0 2h0m-4-1h0m0 0h0m-4-2h0m-2 0h0m-3 1h0m-5-1h0m-5-6h0m-1 1h0m0 3h0m-2 6h0m0-6h0m-3 1h0m-12-1h0m-1-1h0m-7 0h0m0 3h0m-8-5h0m-4 7h0m-3-8h0m-1 4h0m-1-5h0m0 6h0m-3 1h0m-2 0h0m-12-3h0m-2 3h0m-1-6h0m-4 10h0m-2-5h0m-2 3h0m0-6h0m-5 5h0m-7-6h0m-2 6h0m-4-5h0m-1 0h0m-9-1h0m0 2h0m-5 0h0m-6-2h0m-15 5h0m-20-1h0m-4 2h0m-6 1h0m-9-2h0m-12-5h0m-21 6h0m-81-2h0m-5 0h0m-46-6h0m-13 6h0m-24-6h0m-63 11h0m92 7h0m74-1h0m20-2h0m33 4h0m9-3h0m17 7h0m11-8h0m9 0h0m11 1h0m1 1h0m18 1h0m10 5h0m3-3h0m2 3h0m3 0h0m6-5h0m8-6h0m3 8h0m1 1h0m0-3h0m17-5h0m2 2h0m1-1h0m1 1h0m8 6h0m7-8h0m9 2h0m3 0h0m10 3h0m0 1h0m1 0h0m2-4h0m0 3h0m1-2h0m2 3h0m7-4h0m8 4h0m8-1h0m9 1h0m3 3h0m6-4h0m1 4h0m6-10h0m5 9h0m1-7h0m1 5h0m0-2h0m6-4h0m3 2h0m2 1h0m1-3h0m5 6h0m3 1h0m1 3h0m1-7h0m1 4h0m1-5h0m1 2h0m2-2h0m6-2h0m0-1h0m1 9h0m16 0h0m1-1h0m5-3h0m13 2h0m1 4h0m20-8h0m1-3h0m19 1h0m1 6h0m5 3h0m25 6h0m-24 6h0m-23-8h0m-9 9h0m-8-8h0m-2-1h0m0 6h0m-1 3h0m-13-7h0m-7 0h0m-2 2h0m-2-3h0m-9 6h0m-11-4h0m-5-1h0m0-3h0m-8 1h0m-4 9h0m-1-2h0m-2-8h0m-1 3h0m0 4h0m-3 1h0m-4-3h0m-1 1h0m-1-7h0m-1 11h0m-1 0h0m0-10h0m-1 3h0m0 1h0m-6 3h0m0 0h0m-9-6h0m-1 7h0m-2 2h0m-1-6h0m-9-5h0m-5 5h0m-3 0h0m-6 5h0m-3-5h0m-8-2h0m-4 2h0m-7-5h0m-1 5h0m-9-4h0m-5-1h0m0 5h0m-15 2h0m-17 0h0m-15-6h0m-8 9h0m-4 0h0m-31 0h0m-18-8h0m-4-2h0m-79 11h0m-1-1h0m-156 1h0m98 4h0m26-2h0m12 2h0m34 1h0m2-1h0m2 0h0m100 1h0m14-1h0m0-1h0m3 0h0m8-2h0m33 3h0m6 2h0m25 0h0m10-3h0m4 1h0m5 1h0m0-3h0m10 2h0m0-2h0m3 3h0m23-3h0m0-1h0m25 3h0m7 0h0m14 2h0m10-5h0m32 1h0m1-1h0m3 0h0m19 4h0" stroke="#4cba6b"/><path d="M750 2134h0m-18-1h0m-46-5h0m-22 5h0m0-4h0m-4 1h0m-3-1h0m-8 1h0m-24 4h0m-3-7h0m-32 6h0m-4-1h0m-25-4h0m-39 5h0m-11 1h0m-4-2h0m-7 0h0m-19-4h0m-8 1h0m-22 3h0m-41-3h0m-215 12h0m144 6h0m7-7h0m13-1h0m1 8h0m9-3h0m38-2h0m11-6h0m9 11h0m8-2h0m13-7h0m4 2h0m6-3h0m7 8h0m1-4h0m4-5h0m5 6h0m41 2h0m6-4h0m2 6h0m19 1h0m20-2h0m2 0h0m13 0h0m8 1h0m0-1h0m1-8h0m8 6h0m10-3h0m4-4h0m4 11h0m8-2h0m3 0h0m6-4h0m2-5h0m34 7h0m23-3h0m14 7h0m25-6h0m0 5h0m27-10h0m54 4h0m0-3h0m37 4h0m-47 13h0m-92-3h0m-14 6h0m-12-2h0m-7-5h0m-15 9h0m-17-6h0m-10-5h0m0 1h0m-24 9h0m-1-1h0m-2-5h0m-5 4h0m-8-4h0m-5 5h0m-10 0h0m-6-6h0m-17 6h0m-2-4h0m-6-3h0m-13 2h0m-31 7h0m-12-2h0m-11-6h0m-41 8h0m-4-5h0m-33-1h0m-9 0h0m-9 3h0m-7 0h0m-13-3h0m-13 0h0m-2 4h0m-27-4h0m-20 4h0m-25-5h0m-1-3h0m-63 6h0m-1 2h0m-15 0h0m81 9h0m36 1h0m3 0h0m12-6h0m24 0h0m24 6h0m12-1h0m3 5h0m10-10h0m25 7h0m11-6h0m8-1h0m15 6h0m7 1h0m7 2h0m11-2h0m5 0h0m41-8h0m4 5h0m33 6h0m4-9h0m4 9h0m10-6h0m17-1h0m4 0h0m1-1h0m10 3h0m4 5h0m29-10h0m10 4h0m1 5h0m7-10h0m22 10h0m14-7h0m45 7h0m28 0h0m0-5h0m-17 16h0m-31-2h0m-77-7h0m-5 8h0m-7 2h0m-5-7h0m-9 5h0m-1 3h0m-15-4h0m-10-2h0m-3 3h0m-3 1h0m-25-5h0m-9-2h0m-8 5h0m-1 4h0m-2-5h0m-3 4h0m-1-7h0m-13-1h0m-36 9h0m-7-9h0m-10 0h0m-26 9h0m-3-5h0m-6-4h0m-17 1h0m-25-1h0m-30 9h0m-61-1h0m-35 0h0m-30 6h0m108 5h0m8-1h0m30 0h0m1 3h0m11-10h0m2 10h0m32-9h0m2 4h0m8 3h0m4-3h0m4-3h0m5 5h0m25-3h0m1-3h0m12 7h0m10-9h0m15 8h0m0 0h0m8-5h0m3 2h0m1 1h0m1 3h0m14-1h0m9-6h0m6-1h0m1 5h0m18 2h0m3-5h0m4 8h0m5-10h0m1 7h0m13-4h0m2 2h0m4-5h0m8-1h0m3 0h0m4 6h0m4 3h0m6-3h0m9 0h0m0 5h0m2-6h0m6-5h0m1 11h0m6-3h0m9 3h0m20-6h0m60 1h0m13 0h0m23 0h0m-52 9h0m-37 1h0m-12 0h0m-16 2h0m-12 3h0m-3-5h0m-1 0h0m-7-2h0m-14 5h0m-11-6h0m-3-1h0m-4 8h0m-6-6h0m-4 2h0m-6-1h0m-8-2h0m-7 1h0m-3 4h0m-1-1h0m0-1h0m-6-2h0m-2 1h0m-10 7h0m-9-10h0m-7 3h0m-3 1h0m-4-4h0m-1 10h0m-3-5h0m-16 4h0m-2-1h0m0-1h0m-1 3h0m-10 1h0m0-6h0m-4 1h0m-8-2h0m0 7h0m-1-7h0m-1 5h0m-7-9h0m-13 7h0m-8-4h0m-23 3h0m-1-6h0m-6 0h0m-4 0h0m-1 3h0m-1 3h0m-18-4h0m-8 1h0m-7 3h0m-4 3h0m-5-1h0m-113-4h0m-108 3h0m-42 3h0m36 3h0m124 7h0m17-1h0m34 1h0m20-5h0m73-3h0m14 11h0m18-9h0m2 0h0m6-2h0m12 11h0m20-10h0m13 0h0m4 2h0m2 6h0m5-5h0m14 3h0m7-3h0m7 0h0m5-4h0m4 11h0m5-2h0m0-9h0m1 1h0m6 1h0m3-1h0m11-1h0m9 7h0m3-5h0m1 8h0m3-8h0m0 2h0m1 1h0m12 5h0m3-3h0m11 3h0m5-4h0m9-2h0m1-1h0m3 5h0m9 3h0m0-11h0m18 6h0m16 4h0m36-8h0m39 1h0m9 6h0m-39 3h0m-19 1h0m-59 1h0m-3 9h0m-2-2h0m0-7h0m-2 3h0m-9 1h0m-32 3h0m-2 0h0m-3-1h0m-3 2h0m-11-4h0m-3 2h0m0 1h0m0-3h0m-1-6h0m0 4h0m-18-3h0m-5 8h0m-1 0h0m-4-4h0m-8-1h0m-9 7h0m-5 0h0m-16-2h0m-11-6h0m-5-2h0m-3 9h0m-3-4h0m-5-1h0m-18-5h0m-16 9h0m-3-2h0m-60 3h0m-21-2h0m-30-2h0m-29-2h0m-3 1h0m-106 6h0m-94 3h0m35 7h0m42-9h0m56 8h0m109 0h0m10-6h0m0 9h0m15-4h0m0-2h0m26 1h0m8 1h0m1 1h0m1-8h0m15 5h0m18 1h0m15-5h0m29 1h0m3-2h0m6 8h0m25-4h0m10 4h0m1-4h0m0-3h0m6 6h0m8 0h0m6-4h0m2 3h0m9 2h0m3-7h0m2 4h0m7 2h0m1 2h0m5 2h0m0-4h0m1-1h0m4 5h0m0-2h0m25-6h0m1 1h0m20-4h0m4 11h0m9-9h0m1 3h0m1-4h0m6 5h0m5 2h0m22-7h0m4 20h0m-6-6h0m-30 0h0m-11 6h0m-16 1h0m-5-5h0m-6-1h0m-1 4h0m-5 2h0m-13-7h0m-2 2h0m-9-2h0m-8 0h0m-2-1h0m0 9h0m-4-1h0m-2-1h0m-1-7h0m-4-1h0m-5 9h0m-3-4h0m0 5h0m-1-4h0m-7-3h0m-6-3h0m-12 2h0m0-1h0m-5-2h0m-12 4h0m-21-4h0m-12 10h0m-16-4h0m-13 2h0m-17-7h0m-17-1h0m-10 6h0m-41 1h0m-4-2h0m-66 0h0m-30-1h0m-8 0h0m-1 3h0m59 9h0m3 5h0m92-4h0m2 1h0m12 2h0m37 3h0m2-1h0m7-5h0m3-1h0m27-1h0m25-2h0m8 8h0m7-6h0m4-2h0m2 6h0m2-1h0m5-4h0m1 7h0m6-5h0m1 5h0m4-5h0m9-4h0m1 0h0m27 1h0m14 0h0m7 0h0m2 5h0m4-4h0m20 20h0m-9 0h0m-4 1h0m-2 0h0m-10 0h0m-6-9h0m-4 2h0m0 1h0m-6 5h0m-5-8h0m-3 8h0m-4-8h0m-4 1h0m-1 3h0m-3-4h0m-9 4h0m-3-4h0m-2 7h0m-10-9h0m-14 6h0m-7 4h0m-5 0h0m-7-9h0m-7 10h0m-5-4h0m-21-6h0m-4 2h0m-6 1h0m-2 2h0m-3-4h0m-7 8h0m-1-8h0m-1-1h0m-4-1h0m-2 3h0m-1 8h0m-2-10h0m-25-1h0m-3 6h0m-20 2h0m-4-6h0m-5 0h0m-1 6h0m-3 0h0m-1-6h0m-92 5h0m-63 2h0m29 12h0m36 1h0m19 1h0m8-6h0m14 4h0m0-8h0m59 1h0m10 8h0m7-10h0m25 11h0m8-6h0m0 0h0m1 0h0m19 6h0m0-11h0m8 4h0m3 3h0m14-7h0m3 6h0m4-2h0m6 6h0m1-7h0m7 0h0m3-1h0m7-1h0m10-1h0m11 1h0m3 5h0m1-5h0m1 7h0m1-5h0m1-3h0m11 6h0m8 5h0m9-9h0m4 2h0m6 3h0m3 4h0m3-10h0m15-1h0m8 10h0m1-2h0m4-4h0m34 4h0m25 1h0m11 2h0m-41 3h0m0 0h0m-13 3h0m-6 5h0m-24-6h0m-6 3h0m-1-4h0m-11 1h0m0 0h0m-30-3h0m-1 4h0m-1-4h0m-1 9h0m-3-7h0m-2 2h0m-1-3h0m-5 8h0m0-1h0m-3 2h0m-3-5h0m-12 3h0m-11-1h0m-3-7h0m0 7h0m-2-4h0m-6 6h0m-2-3h0m-15 2h0m-9 0h0m-13-6h0m-5-1h0m-22 9h0m-6-11h0m-7 10h0m-2 1h0m-1-9h0m-3 9h0m-3-5h0m-32-3h0m-5 8h0m-11-3h0m-13-7h0m-17 8h0m-1-2h0m-38 2h0m-33-9h0m-136 13h0m205 0h0m34 1h0m17 1h0m52 1h0m91 1h0m5-4h0m10 2h0m19-2h0m28 1h0m38 2h0" stroke="#2b8a90"/><path d="M637 2133h0m-31-1h0m-13 3h0m-17 0h0m-33-2h0m-41 0h0m-1 1h0m-5-3h0m-13 1h0m-8 3h0m-8-2h0m-37-3h0m-48-1h0m-16-2h0m-34 3h0m-17 0h0m-106 11h0m202 0h0m15 2h0m57 0h0m22-4h0m17 1h0m16 5h0m41 0h0m29-3h0m13-1h0m4 6h0m2-1h0m15-8h0m15 3h0m26-1h0m37-4h0m97 6h0m-30 16h0m-20-3h0m-7 4h0m-32-8h0m-95 4h0m-3-2h0m-30-5h0m-9 3h0m-3 2h0m-2 4h0m-17 2h0m-2-5h0m-2 3h0m-6 2h0m-3-3h0m-4 1h0m-11-5h0m-14 6h0m-25-3h0m-1 1h0m-4-6h0m-30 2h0m-47 4h0m0-5h0m-11 3h0m-59 2h0m-37-1h0m-58-2h0m90 11h0m19-2h0m8 7h0m22-8h0m73 2h0m19 0h0m6 1h0m10 0h0m37 1h0m6-5h0m13 10h0m0-3h0m27-5h0m34 2h0m14 7h0m27-11h0m21 8h0m10-2h0m68 0h0m-7 12h0m-56 5h0m-20-9h0m-37 5h0m-5-2h0m-11-5h0m-5 6h0m-3 1h0m-2-3h0m-17 0h0m-60 3h0m-5-4h0m-32 1h0m-23-3h0m-3 1h0m-16 0h0m-3 4h0m-7-5h0m-23 6h0m-57-5h0m95 16h0m3 5h0m3 0h0m6-3h0m5-4h0m20 1h0m13-3h0m0 6h0m40-2h0m6 0h0m20 4h0m2-1h0m16-2h0m6 0h0m5-3h0m25-4h0m18 7h0m24-3h0m3 7h0m29-10h0m4 6h0m7-6h0m7 1h0m33 1h0m67 3h0m-70 10h0m-5 4h0m-35-6h0m-9 0h0m-70 7h0m-13-4h0m-3-2h0m-3-2h0m-9 5h0m-8-3h0m-15 3h0m-9 0h0m-8 3h0m-6-1h0m-9 2h0m-5-2h0m-4 0h0m0-6h0m-10 2h0m-19 1h0m-13 6h0m-21-2h0m-4 2h0m-2 0h0m-13-11h0m-15 3h0m-5 1h0m-22 3h0m-13 2h0m-9-4h0m-6-2h0m-187 10h0m24 2h0m148 8h0m15-7h0m3-4h0m27 8h0m70 3h0m43-8h0m7 5h0m4-6h0m10 4h0m11 3h0m17-5h0m41 3h0m18 1h0m15-7h0m1 1h0m168 15h0m-89 1h0m-54-5h0m-50 10h0m-11-10h0m-20 1h0m-26 1h0m-14 6h0m-3-5h0m-9-4h0m-3 7h0m-2 3h0m-3-6h0m-21 5h0m-3 2h0m-31-10h0m-2 7h0m-52-2h0m-9-6h0m-5 10h0m-36-1h0m-44-6h0m-15 0h0m-17 4h0m-85 0h0m-9 3h0m-14 12h0m1-4h0m151 5h0m67-11h0m5 4h0m3 3h0m0 3h0m13-5h0m18 6h0m10-5h0m5-6h0m27 7h0m1 0h0m22-2h0m8 0h0m28 6h0m0-2h0m12 2h0m2-4h0m26 2h0m10 1h0m0-8h0m18-2h0m18 1h0m76 1h0m-60 17h0m-17 0h0m0 1h0m-7-6h0m-6 2h0m-5-3h0m-1 9h0m-22 0h0m-13 0h0m-20-8h0m-7 6h0m-13-3h0m-10-3h0m-7-2h0m-4 0h0m-6 8h0m-9-2h0m-17 0h0m-2-5h0m-1 4h0m-11 4h0m-5-1h0m-17-2h0m-2-6h0m-1 9h0m-1 1h0m-19-4h0m-7 4h0m-4 0h0m-103-4h0m-16-4h0m-194 14h0m8 7h0m202-1h0m80-9h0m52-1h0m23 8h0m23-2h0m3 0h0m7-2h0m12 6h0m2-5h0m29-5h0m6 9h0m16-9h0m8 3h0m14 6h0m4-1h0m4 2h0m11 1h0m20-11h0m32 1h0m20 5h0m20 6h0m-75 6h0m-12-6h0m-28 2h0m-6 3h0m-3-2h0m-3 7h0m-15-2h0m-23-2h0m-13-2h0m-9 4h0m-9-7h0m-3 8h0m-24-2h0m-19-6h0m-1-1h0m-10 9h0m-12-6h0m-36 4h0m-7-6h0m-35 1h0m-31-2h0m-4 3h0m-72 12h0m86 6h0m6-4h0m45 2h0m54-1h0m2 0h0m30-5h0m12 2h0m3-1h0m7 4h0m15-2h0m18 4h0m17-8h0m0 5h0m10 0h0m15 4h0m23-8h0m4 8h0m12-1h0m4-3h0m1-3h0m8 5h0m5 4h0m7-3h0m5-7h0m24 5h0m18-2h0m2-4h0m-38 15h0m-16-2h0m-8 8h0m-3-8h0m-33 8h0m-3 0h0m-15-7h0m-16 6h0m-1-7h0m-12 9h0m-1 0h0m-11 1h0m-2-7h0m-7-1h0m-65 6h0m-8-4h0m-17 4h0m-16-6h0m-12 3h0m-78 4h0m-28 1h0m-9-10h0m-162 12h0m223-1h0m45 4h0m11-4h0m1 3h0m13-2h0m112 1h0m18-2h0m25 0h0m1 4h0m18 0h0m3-1h0m11-3h0m7 3h0m26 2h0" stroke="#8fd35a"/><path d="M842 2129h0m-76 1h0m-62 4h0m-12-2h0m-8 1h0m-45 0h0m-28-3h0m-22 1h0m-291 4h0m208 7h0m37-1h0m104 0h0m4-3h0m6 4h0m12 0h0m14 1h0m1-4h0m0 8h0m4-2h0m39 0h0m1-1h0m11 1h0m10-2h0m41-5h0m52 17h0m-36-5h0m-21 3h0m-40 3h0m-15-2h0m-15 3h0m-22-5h0m-36 1h0m-13 2h0m-18-4h0m-8-2h0m-26 5h0m-25 0h0m-18-5h0m-155-1h0m30 21h0m100-7h0m1-1h0m33 10h0m23-9h0m28 2h0m8 6h0m2-3h0m3-1h0m2 3h0m114-7h0m16-1h0m17 5h0m27 1h0m36 5h0m-9 7h0m-32 4h0m0-8h0m-23 4h0m0 0h0m-10-6h0m-16 3h0m-54 3h0m-1-7h0m-9 2h0m-23 9h0m-21-7h0m-11 4h0m-5-5h0m-3 1h0m-12 5h0m-4-5h0m-235 6h0m32 10h0m19 0h0m32-8h0m78 7h0m13-4h0m23 7h0m66-8h0m1-1h0m56 7h0m6-2h0m7 3h0m2-9h0m1 4h0m7 1h0m9-2h0m17 3h0m1 5h0m19-7h0m34-2h0m29 20h0m-65 0h0m-4-5h0m-20 3h0m-31 1h0m-14-5h0m-17 4h0m-38-3h0m-28 1h0m-1-2h0m-5 4h0m-2-2h0m-4-1h0m-1-3h0m-20 0h0m-45 0h0m-16 7h0m-23-7h0m-40 6h0m-195-8h0m108 15h0m152 2h0m26 5h0m8-5h0m11-2h0m33 3h0m17 0h0m6 0h0m3-6h0m1 9h0m3-8h0m22 8h0m11-2h0m9 0h0m2 2h0m8-1h0m10-4h0m12 5h0m6-9h0m0 6h0m21-2h0m7 0h0m36-2h0m24-2h0m9 1h0m44 2h0m12 19h0m-93-4h0m-12 4h0m-1-6h0m-18-3h0m-15 2h0m-32-3h0m-1 11h0m-28 0h0m-2-6h0m0 4h0m-15 1h0m-11-5h0m-5 4h0m-16 1h0m-49-4h0m-12-2h0m-92-4h0m-28 6h0m-175-4h0m131 13h0m123 7h0m60-10h0m1 10h0m18-6h0m10 5h0m7-3h0m9 0h0m15 4h0m4 0h0m0-1h0m3-3h0m17-1h0m19-3h0m11 6h0m6-3h0m8 6h0m13-6h0m42-4h0m10 2h0m15 3h0m12 12h0m-35-5h0m-5 3h0m-12-4h0m-6 11h0m-42-8h0m0 1h0m-4 4h0m-2 3h0m-3-10h0m-4 2h0m-1 1h0m-4-1h0m-8 7h0m-1-3h0m-3-4h0m0 2h0m-1 3h0m-8-3h0m-2 3h0m-1-2h0m-16 0h0m-1 0h0m-12 5h0m-9-1h0m-40-1h0m-40-5h0m-6 1h0m-5 4h0m-31-1h0m-12 0h0m-6 1h0m-61-7h0m-60 5h0m-96 7h0m219 4h0m7-3h0m34 5h0m22-3h0m32 3h0m8-4h0m1 0h0m11-1h0m4 6h0m15-5h0m2-3h0m13 1h0m38 2h0m2-3h0m27 1h0m16 2h0m20 3h0m6-6h0m2 0h0m1 1h0m131 0h0m-128 11h0m-5 9h0m-3-6h0m-16-2h0m-13 3h0m-7 5h0m0 0h0m-10 1h0m-11-3h0m-4-1h0m0 2h0m-7-6h0m-4 4h0m-1 1h0m-7-2h0m0-1h0m-3-2h0m-6-1h0m-1 4h0m-3 0h0m-5-5h0m-2 8h0m-5 2h0m-12 0h0m-6-11h0m-8 3h0m-8 8h0m-1-7h0m-5 5h0m-14-6h0m-8 4h0m-17-7h0m0 10h0m-9-2h0m-19-8h0m-151 1h0m-167 18h0m246 0h0m5-6h0m56 3h0m2 5h0m17-1h0m3-3h0m11 1h0m1 5h0m18-2h0m4 1h0m29-10h0m28 11h0m11-11h0m10 10h0m21 1h0m7-6h0m1-1h0m10 0h0m27-3h0m9 2h0m8 6h0m6-6h0m106 17h0m-78-7h0m-23 8h0m-17-4h0m-5-2h0m0-2h0m-26 5h0m-6 1h0m-3-5h0m-1-1h0m-1 1h0m-4 7h0m-1-1h0m-3-4h0m-3-3h0m-1 7h0m-1-6h0m-4 6h0m-5 2h0m-2-2h0m-3 0h0m-1-7h0m-1 5h0m-7 4h0m-7-7h0m-4-2h0m-3 9h0m-4-1h0m-3 0h0m-11-8h0m-7 8h0m-24-6h0m-2 5h0m-4-1h0m-13-4h0m-30 1h0m-1-3h0m-12 1h0m-1 1h0m-2 3h0m-3 4h0m-18-7h0m-9-3h0m-24 12h0m116 4h0m7 0h0m1-2h0m17 3h0m7-5h0m15 3h0m42-3h0m3 3h0m1 0h0m2-3h0m23 2h0m1-1h0m13 3h0m4-4h0m15 1h0m45 2h0" stroke="#44468a"/><path d="M747 2131h0m-86-2h0m-62 4h0m-5-2h0m-5 1h0m-107-3h0m-46 5h0m-85-5h0m82 10h0m5 1h0m32 5h0m10-4h0m23 0h0m10-1h0m12 0h0m86 5h0m200 5h0m-171 1h0m-2 2h0m-20 2h0m-16 1h0m-22-3h0m-26-2h0m-64 6h0m-37-2h0m-277 14h0m193 0h0m20-6h0m3 4h0m108 3h0m13-3h0m55-4h0m9 5h0m5-2h0m3-1h0m2-1h0m26-3h0m14 3h0m6 1h0m115 4h0m-40 3h0m-7 9h0m-18 2h0m-13-8h0m-40 0h0m-11 2h0m-20 0h0m-18 4h0m-10-5h0m-7 1h0m-29 6h0m-87-4h0m-36 4h0m-113 11h0m47-9h0m76 9h0m83-6h0m12 6h0m6-5h0m3 0h0m20 3h0m27-8h0m35 11h0m13-1h0m3-4h0m67-5h0m6 1h0m101 18h0m-7-3h0m-123 1h0m-17 3h0m-11-8h0m-1 4h0m0 4h0m-40-1h0m-59-7h0m-60 0h0m-10 6h0m-1-7h0m-2 2h0m-31 3h0m-34-1h0m-57 13h0m83 1h0m4-2h0m32-1h0m66 5h0m45-2h0m7 4h0m5-6h0m2-3h0m2 8h0m20-8h0m22 0h0m66 9h0m11 5h0m-4 0h0m0 0h0m-45-1h0m-3 4h0m-22-6h0m-38 10h0m-8-8h0m-42 8h0m-7-1h0m-51-9h0m-27 2h0m-29 4h0m-245 3h0m100 3h0m80 0h0m58 2h0m44-1h0m15 7h0m25 2h0m32-5h0m52-5h0m41 8h0m16-4h0m18 5h0m-8 4h0m-12 2h0m-27-1h0m-18 5h0m-9 3h0m-8 0h0m-12-3h0m-20 2h0m-1-6h0m-10 8h0m-37-10h0m-22 5h0m-111 17h0m32-5h0m57-1h0m2 0h0m3 1h0m16-5h0m2 6h0m4 4h0m27-11h0m7 2h0m1 1h0m36 5h0m35 1h0m19 1h0m42-4h0m89 10h0m-48 5h0m-79-9h0m-9 10h0m-3 1h0m-22-1h0m-4-4h0m-26 5h0m-1-6h0m-52-1h0m-22 5h0m-18-6h0m-8-1h0m-18 0h0m-108-1h0m-87 2h0m111 17h0m116-8h0m9 2h0m30-2h0m2 3h0m0 5h0m21 2h0m27-9h0m66 17h0m-15-2h0m-32 5h0m-30 0h0m-29 2h0m-13-11h0m-35 2h0m-25 6h0m-113-5h0m-53 11h0m195-2h0m16 0h0m4 3h0m20-3h0m26 3h0m4-1h0m50-1h0" stroke="#b9dd4a"/><path d="M855 2129h0m-42 5h0m-10-2h0m-19-2h0m-10-3h0m-6 0h0m-8 7h0m-8 0h0m-2-2h0m-16 2h0m-2-4h0m-3 5h0m-4-2h0m-9 0h0m-5 1h0m0 0h0m-5-4h0m-9 4h0m-1 1h0m-3-2h0m-3-4h0m-4 0h0m-1 5h0m-4-4h0m-3 3h0m0-1h0m-3 1h0m-4-5h0m-2 5h0m-11-4h0m-6 4h0m-3-1h0m-1 3h0m-8-2h0m-3 2h0m0-4h0m-9 2h0m-9 1h0m-6 0h0m-5-4h0m-14 5h0m-18-7h0m-11 1h0m-7 6h0m-29 0h0m-134-3h0m-27-3h0m-134 1h0m0 2h0m-77 3h0m-45-3h0m219 7h0m178 8h0m11-7h0m4 3h0m3 0h0m2-3h0m4 4h0m1-6h0m8 3h0m24 5h0m9-7h0m4 4h0m1-7h0m1 8h0m2-3h0m1 4h0m4-3h0m5-2h0m2 4h0m1-6h0m11 4h0m1-4h0m0 8h0m1 0h0m2 1h0m8-4h0m1 3h0m3-3h0m2-7h0m4 0h0m3 5h0m0-1h0m1-2h0m4 2h0m1 4h0m1-1h0m5 0h0m2 0h0m1 2h0m0-7h0m3 0h0m0 1h0m0-1h0m8 8h0m5-7h0m1 4h0m3 1h0m1-5h0m3 6h0m11-9h0m5 5h0m10-3h0m3 7h0m8-9h0m9 1h0m3 1h0m3 2h0m7 0h0m2 5h0m3-4h0m1 1h0m2-4h0m1 0h0m1 6h0m10-4h0m0-4h0m6 0h0m2 8h0m2-2h0m3-3h0m2 4h0m2-6h0m1 5h0m4-5h0m7 3h0m6 6h0m5-5h0m4 3h0m9-5h0m21-1h0m21 2h0m5 7h0m-10 1h0m-2 11h0m-3-9h0m-7 0h0m-10 6h0m-2-4h0m-1 2h0m-1-1h0m-11 6h0m-3-9h0m-3 3h0m-1 5h0m-15-5h0m-2-3h0m-3 9h0m-13 0h0m-1-9h0m-1 3h0m0-5h0m-6 11h0m-17-1h0m-5-9h0m0 7h0m-3-2h0m-3-4h0m0 8h0m-1-6h0m-2-1h0m-11-3h0m0 3h0m-7 3h0m-1 0h0m-4 5h0m-3-3h0m0 2h0m-4-5h0m-1-2h0m-11-2h0m0 8h0m-1-9h0m0 0h0m-4 4h0m-8 7h0m0-2h0m-1 1h0m-6-10h0m-3 4h0m-6-1h0m-4 2h0m-1-1h0m-4 7h0m0-7h0m-2-1h0m-7-3h0m-2 10h0m0-3h0m-1-7h0m-3 1h0m-1-1h0m-5 6h0m-1-5h0m-3 4h0m0 1h0m-2 0h0m0-3h0m0-2h0m-2 5h0m0-4h0m-3 4h0m-3 0h0m-1 3h0m0-4h0m-2-1h0m-2 0h0m-7 0h0m-8 7h0m-1-5h0m-5 4h0m-2-2h0m-11 1h0m-1-1h0m-3-8h0m-2 10h0m-5-5h0m-8-3h0m-6 9h0m-8 0h0m0-10h0m-21-1h0m-9 11h0m-21-9h0m-170 2h0m-64-4h0m43 14h0m72 5h0m2 0h0m39-2h0m81-1h0m42 6h0m3-3h0m7-7h0m8 9h0m1-6h0m2-3h0m3 3h0m2 5h0m3 3h0m3-11h0m1 0h0m3 0h0m4 3h0m1 6h0m3 1h0m1-7h0m5 6h0m2 0h0m3-4h0m2 0h0m16 0h0m0 0h0m2-1h0m1 5h0m1-4h0m3-2h0m3 2h0m2 0h0m2-4h0m4 2h0m10 2h0m3-4h0m2 8h0m4 2h0m4-5h0m1-6h0m3 8h0m4-8h0m1 2h0m7 0h0m0 2h0m3 7h0m1-8h0m1-1h0m5 6h0m4 2h0m1-2h0m4-3h0m0-1h0m1 2h0m3 1h0m0 3h0m2 0h0m2-9h0m2 1h0m5 0h0m1-2h0m2 4h0m4 5h0m6 0h0m0-1h0m2 1h0m3-4h0m2 3h0m6-6h0m12-2h0m11 7h0m1-1h0m6 1h0m15 0h0m4 2h0m0-1h0m1-6h0m24 4h0m0 2h0m8-2h0m1 3h0m8-5h0m3 4h0m1-5h0m20 2h0m9 6h0m8 8h0m-28-5h0m-13 4h0m-6 2h0m-8 0h0m-1-5h0m-16 0h0m-4 0h0m-3 6h0m-4 2h0m-4-9h0m-7 8h0m-3 0h0m-7-5h0m-1-3h0m0 6h0m-1 0h0m-14-3h0m-1 4h0m-10-2h0m-5-3h0m-1 5h0m0-6h0m-3 8h0m-14 0h0m-1-4h0m-1 3h0m0-10h0m0 10h0m-3-1h0m0 0h0m-2 2h0m-1-10h0m-3 8h0m-1-4h0m-4 3h0m-5-2h0m-3-6h0m0 4h0m-2-3h0m-2 6h0m-1-7h0m-1 11h0m-2-10h0m0 5h0m-1 4h0m-4-10h0m0 11h0m-1-1h0m-2-7h0m0 1h0m-1-1h0m-1 6h0m-5-5h0m0 7h0m-1-7h0m-1 7h0m-6-7h0m-3-1h0m0 3h0m0-4h0m-6 9h0m0-5h0m-2 5h0m-3-9h0m-1 0h0m-1 6h0m-4 0h0m-1 2h0m-1-3h0m-4 1h0m-3 3h0m-1-4h0m-1-2h0m-2 0h0m-1-5h0m-2 7h0m0 3h0m-11-5h0m-15 2h0m-1-4h0m-1 8h0m-6-2h0m-6-8h0m-1 8h0m-1 1h0m-11-9h0m-6 10h0m-2-10h0m-3 10h0m-4-7h0m-4 1h0m-3 6h0m-17-3h0m-11 1h0m-33 1h0m-9-3h0m-6-6h0m-60 4h0m-19-1h0m-36 1h0m-197-4h0m220 21h0m38-3h0m48-1h0m16 3h0m6-8h0m1 1h0m8-2h0m7 0h0m3 8h0m7 1h0m1-3h0m0-6h0m15 11h0m11-6h0m8 0h0m5 6h0m2-8h0m0 3h0m6-5h0m1 1h0m6 0h0m3 0h0m4 9h0m7-1h0m8-10h0m3 2h0m0 3h0m5 4h0m4-7h0m1-1h0m0 4h0m2 2h0m10 2h0m0-8h0m1 7h0m1 0h0m1-6h0m1 2h0m6 7h0m0-4h0m3-5h0m0 9h0m4-10h0m5 6h0m0-1h0m2-2h0m4 2h0m0-3h0m6 2h0m1-4h0m0 5h0m1-1h0m2 6h0m3-5h0m2-6h0m4 6h0m0 1h0m1 1h0m9 0h0m1-4h0m5-3h0m3 6h0m5 3h0m1-6h0m3-4h0m0 6h0m2-6h0m5 1h0m1 1h0m2 5h0m8-4h0m4-3h0m1 5h0m2 5h0m2-9h0m14 1h0m1 5h0m2 2h0m1 0h0m2-7h0m4 2h0m1 5h0m5-2h0m5-2h0m1 4h0m1-1h0m0-1h0m7 4h0m14-6h0m1-2h0m2 5h0m9-6h0m7 4h0m4 2h0m0-2h0m2-4h0m2 4h0m3-6h0m0 2h0m0 3h0m7 2h0m4-5h0m1 4h0m6-2h0m3 0h0m3 4h0m4 2h0m15 1h0m5-5h0m15 6h0m-3 5h0m-7 0h0m-6 5h0m-9 1h0m-7-6h0m-5-3h0m-14-1h0m-5 0h0m-20 5h0m-3 1h0m-3-5h0m-1-1h0m-7 6h0m-1 2h0m-4 1h0m-12-1h0m-5-7h0m-3 8h0m-6-5h0m-5-3h0m-5 0h0m-2 0h0m-2 2h0m-4-2h0m0-1h0m-6 7h0m-1-7h0m-1 4h0m-1 1h0m0-3h0m-1 5h0m-2-7h0m-3 2h0m-11 8h0m-3-3h0m-3-3h0m0-4h0m-2-1h0m-1 3h0m0 6h0m-3-6h0m-1-1h0m0 9h0m-1-11h0m-4 9h0m-2 2h0m-1-1h0m-3-1h0m0-9h0m0 1h0m-9 1h0m-3 6h0m-1-2h0m-4 1h0m-7 3h0m0 1h0m-2-1h0m-7-6h0m-6 3h0m-6 4h0m-1-4h0m-1 4h0m0-8h0m-2-1h0m-2 6h0m0 0h0m0-6h0m-1 4h0m-1-6h0m-2 2h0m-1 5h0m-3 4h0m-1 0h0m-4-4h0m-4 0h0m0 2h0m-1 2h0m-1-9h0m-4 5h0m-3 3h0m-1-10h0m0 4h0m-3 5h0m-6-3h0m-5 1h0m-3-3h0m-1-2h0m0 9h0m-20-8h0m-4-1h0m-3 0h0m-3 8h0m-7-2h0m-1-5h0m-33 4h0m-7 1h0m-11-7h0m-12 3h0m-2 3h0m-48-5h0m-68 2h0m-3-4h0m-8 3h0m-71-1h0m-20-2h0m-38 15h0m8 2h0m80 2h0m36-4h0m28-3h0m24 2h0m45-1h0m21 3h0m2-4h0m18 4h0m1 0h0m7 3h0m13 0h0m7-6h0m1 1h0m0 9h0m16-9h0m13 9h0m1-4h0m3-7h0m4 1h0m1 9h0m6-1h0m5-3h0m7-1h0m0-4h0m13 9h0m2-4h0m5 0h0m0-5h0m1 3h0m0 1h0m6-5h0m6 7h0m5-6h0m1 5h0m7 5h0m2-3h0m5-8h0m1 3h0m1 5h0m1-3h0m5-3h0m1 3h0m6-3h0m1 9h0m1-1h0m0 1h0m0-2h0m4-4h0m2-4h0m0 2h0m3-3h0m0 9h0m2 0h0m1-8h0m1 4h0m4 2h0m2 0h0m8 0h0m4 3h0m1-7h0m1 6h0m2-9h0m0 10h0m1-6h0m1 0h0m0-2h0m1 1h0m4 7h0m2-6h0m5-2h0m0 7h0m0-7h0m1-2h0m3 1h0m0 7h0m4 3h0m0-11h0m0 4h0m2-3h0m3 0h0m1 10h0m4-5h0m10-3h0m1 3h0m1 5h0m2-8h0m0 8h0m3 0h0m2-3h0m0 3h0m3-6h0m2 6h0m0 0h0m8-8h0m0 5h0m1-5h0m1-1h0m1 0h0m4 6h0m4-2h0m4 1h0m6 3h0m7-8h0m3 8h0m3-2h0m3-7h0m16-1h0m11 3h0m4 0h0m0 7h0m7-8h0m11 4h0m15 3h0m4-2h0m8-2h0m14 12h0m-13-1h0m-5 2h0m-4-3h0m-20 0h0m-4 0h0m-8 3h0m-8-3h0m-1 1h0m-1-1h0m-16 0h0m0 5h0m-2-7h0m-16 8h0m-19-1h0m-2 3h0m-1 0h0m-1-9h0m-1 3h0m-1 4h0m0-3h0m-3-1h0m-4 5h0m-3-9h0m-1 8h0m-2-1h0m-1-4h0m-1 2h0m-1-5h0m-5 2h0m-3 2h0m-6 0h0m-1 0h0m-3-3h0m0 7h0m-2 1h0m-1-1h0m-2-5h0m-1 1h0m-5 1h0m-1-2h0m-3 6h0m-1-2h0m0-4h0m-1 0h0m-3 4h0m-8-3h0m0-2h0m-1 8h0m0-8h0m-2-1h0m-1 7h0m-1-4h0m-1 0h0m0 4h0m-3 1h0m-2-8h0m-2 1h0m-1 4h0m-3 4h0m-1-7h0m0-3h0m-2 5h0m-3-4h0m-3 1h0m-1 7h0m-2-6h0m0 2h0m-1 4h0m0-1h0m-1-7h0m-1 2h0m0 4h0m-1 0h0m0 2h0m-1 0h0m-10-3h0m0-1h0m-1 4h0m-3-4h0m-1 5h0m0-10h0m-3 1h0m-1 4h0m-4-5h0m-1 3h0m-4 5h0m-2 0h0m-4-2h0m-1-3h0m0 2h0m-1 3h0m-4-9h0m0 7h0m-2-6h0m-3 2h0m-1 7h0m-5-2h0m-2-4h0m-2 2h0m-2-5h0m-6 2h0m0 1h0m-7 1h0m-1 0h0m0-1h0m-1-3h0m-5 8h0m0 2h0m-4-4h0m-1 0h0m-3 1h0m-2 3h0m-1-2h0m-2-4h0m0 0h0m-4 4h0m-12 2h0m-3-8h0m0 8h0m0-3h0m-4 0h0m-5-7h0m-2 0h0m-3 0h0m-5 6h0m-6 3h0m-13-4h0m-4-2h0m-1-3h0m-4 4h0m-1 4h0m-3-7h0m-14 5h0m-2-1h0m-2 1h0m-17-2h0m-19-2h0m-5 5h0m-49-6h0m0 6h0m-23-1h0m0 2h0m-106-7h0m-116 4h0m150 17h0m47-2h0m47-1h0m40-6h0m3 6h0m6-5h0m15 8h0m15-11h0m13 6h0m9-1h0m3 1h0m6-2h0m9-4h0m1 11h0m0 0h0m16-2h0m8 0h0m5-6h0m1 6h0m0-6h0m4 8h0m3-6h0m0-4h0m2 4h0m17-5h0m2 5h0m1-5h0m3 11h0m1-6h0m3 5h0m1 0h0m8-1h0m2-2h0m0-5h0m1 2h0m5-2h0m2 8h0m1 0h0m3-6h0m7 3h0m1 2h0m2-3h0m0 2h0m5 3h0m9-8h0m0 8h0m1-2h0m2 2h0m0-7h0m1-2h0m1 1h0m4 8h0m0-1h0m3-10h0m1 11h0m0-2h0m4 0h0m9-9h0m1 5h0m2 3h0m3-6h0m0 4h0m0 0h0m1 0h0m3-1h0m1 0h0m0-3h0m6 5h0m1 2h0m1 1h0m1-10h0m0 3h0m2 6h0m4-7h0m4 7h0m0-2h0m1 4h0m4-7h0m1 0h0m1 2h0m3-3h0m0 0h0m2-3h0m4 4h0m1 4h0m0-6h0m3 8h0m0-3h0m1 2h0m1 0h0m2-5h0m1-3h0m5 1h0m3 9h0m0-4h0m0 3h0m5-6h0m1 7h0m7-8h0m1 1h0m5-2h0m19 5h0m3 3h0m4 1h0m4-5h0m9-5h0m10 5h0m10 5h0m2-5h0m1-1h0m6 5h0m9-7h0m13 6h0m23-6h0m3-1h0m10 8h0m3-7h0m7 18h0m-9-3h0m-17-4h0m-23 0h0m0 4h0m-7-3h0m-1 6h0m-4 1h0m-6-4h0m-6-6h0m-7 2h0m-3 8h0m0-2h0m-22 2h0m-4-6h0m-5 7h0m-2-9h0m-1 5h0m-3 0h0m-2-4h0m0-1h0m-1 6h0m-1 0h0m0 0h0m-5-1h0m-1-4h0m-1-3h0m0 1h0m-2 6h0m0-1h0m-2-2h0m-6-2h0m-1 7h0m-1-1h0m-3 2h0m-3-5h0m-1 4h0m-1-2h0m-1-3h0m-1-2h0m-3 8h0m-3-4h0m-2-6h0m0 6h0m0 2h0m-4-3h0m0-1h0m-1 3h0m-1 2h0m-1-1h0m-1 2h0m-6-10h0m-1 0h0m-1 6h0m-1-4h0m-4-2h0m-2 2h0m-1-2h0m-4 7h0m0 4h0m-1-7h0m-1-4h0m-1 1h0m0 1h0m-1 6h0m-1-7h0m0 4h0m-2 1h0m-1-6h0m-2 6h0m-1 2h0m-7 3h0m-1-10h0m-1 4h0m-1-1h0m-1-3h0m-1 10h0m-1 0h0m-1-1h0m-1 1h0m-3-3h0m0-4h0m-1 5h0m0-2h0m-1 1h0m-1-8h0m-2 0h0m-1 7h0m-2 2h0m-2-3h0m-1-1h0m-1-4h0m-2 10h0m-1-6h0m-1 2h0m0 3h0m-2-2h0m-2-7h0m-3 9h0m-1-6h0m-1 4h0m-1-1h0m0-3h0m-5 0h0m-3 2h0m-5 3h0m-3-5h0m-1-4h0m-1 0h0m-1 8h0m-2-1h0m-1-2h0m-4 4h0m-4-4h0m-9-1h0m-1-3h0m0 2h0m-1-3h0m-6 8h0m-1-7h0m-1 1h0m-1-1h0m-2 6h0m-3-7h0m-2 1h0m-5-1h0m-1 8h0m-13 2h0m-8-6h0m-3 6h0m-2-6h0m-6 5h0m0-4h0m-11-2h0m-5-1h0m-2 7h0m-4-9h0m-3 1h0m-16 5h0m-15-3h0m-6-3h0m-2 7h0m-65 3h0m-62 0h0m-68-5h0m77 11h0m11 7h0m81-2h0m32-6h0m4-2h0m30 0h0m3 5h0m5 2h0m8-1h0m6-5h0m7 3h0m0-5h0m4 2h0m6 6h0m0-1h0m3 0h0m2 2h0m1 2h0m3-7h0m1 1h0m6-2h0m6-2h0m2 5h0m0 5h0m0-6h0m1-1h0m0 1h0m1 6h0m1-7h0m1 7h0m0-8h0m4 4h0m1-3h0m1 6h0m1-1h0m2-2h0m2 3h0m2-4h0m2-3h0m1 0h0m0 4h0m1-1h0m4-4h0m1 2h0m2 5h0m2 1h0m4-7h0m1 8h0m3-7h0m0-2h0m6 7h0m2 0h0m3-2h0m1-6h0m2 5h0m0 0h0m0 0h0m0 5h0m1 0h0m1-11h0m4 7h0m1-4h0m1-3h0m3 9h0m1-8h0m0 8h0m2-1h0m2-6h0m4 5h0m1 4h0m0-4h0m4 3h0m2-5h0m0 4h0m4-8h0m0 4h0m1 5h0m0 0h0m0 0h0m1-7h0m2 0h0m0 1h0m3 4h0m0-6h0m0 2h0m1-4h0m1 5h0m0-3h0m5 3h0m0 0h0m0 2h0m1 4h0m2-4h0m1-6h0m1-1h0m0 8h0m2-5h0m0-2h0m0 9h0m1-6h0m1 2h0m3 3h0m0-4h0m0 3h0m0 1h0m0 2h0m1 0h0m1-1h0m3-6h0m1 6h0m4 0h0m2-2h0m0-4h0m1-2h0m1-2h0m1 3h0m0-2h0m0 6h0m2-4h0m2-1h0m1 7h0m0-8h0m3 7h0m1 0h0m0 0h0m2 1h0m2-4h0m0-3h0m2 3h0m1-2h0m8 6h0m5-7h0m0 8h0m4-1h0m1-1h0m4-8h0m1 7h0m3-2h0m3 3h0m6 0h0m2-3h0m1-3h0m0 8h0m2-5h0m4-2h0m0 6h0m9 0h0m0-9h0m4 3h0m2 6h0m7-6h0m1 7h0m6-4h0m2 3h0m0-3h0m4-6h0m3 11h0m0-3h0m5-4h0m8 2h0m0 5h0m2-6h0m1 3h0m6 2h0m1-3h0m12-1h0m4 0h0m2 5h0m7-7h0m2-1h0m8-2h0m26 21h0m-20-9h0m-20 4h0m-4 1h0m-16 4h0m-26 0h0m-4-7h0m-8 0h0m-8 6h0m0-9h0m-6 5h0m-8 1h0m-5 0h0m-1 5h0m-5-1h0m-1-10h0m0 8h0m-2 3h0m-2-5h0m-1 3h0m0-8h0m-4 5h0m-6-1h0m-4-1h0m-1-3h0m-2 2h0m-1 3h0m-2 1h0m-4 2h0m0-7h0m-1 7h0m-2 0h0m-1-4h0m0 1h0m-3-2h0m-3 0h0m-7 6h0m-1-7h0m-2 7h0m0-10h0m-1 10h0m0-10h0m-1 5h0m-2-2h0m0-1h0m0 8h0m-1 0h0m-6-1h0m-1-3h0m-7-4h0m-1 2h0m0 7h0m-1-7h0m0-3h0m-1 9h0m0-5h0m-1 4h0m-1-3h0m0-4h0m-2 9h0m-1-6h0m-2 3h0m-3 2h0m-5 1h0m0-1h0m-1-10h0m0 6h0m0 5h0m-1-7h0m-2 7h0m0-3h0m0-7h0m-2 0h0m-5 9h0m-1-3h0m0-4h0m-1 1h0m-1 6h0m0-9h0m-2 1h0m-2 6h0m-1-5h0m0-1h0m-1 1h0m-3 4h0m-1-3h0m-2 6h0m-1-2h0m-7-7h0m-4 7h0m0-8h0m0 7h0m-3-5h0m-1 9h0m-2-11h0m-2 2h0m-2 6h0m-1-4h0m-2 6h0m0-1h0m-1 2h0m0-3h0m-1-1h0m-1-2h0m-2 1h0m-2-4h0m-1-1h0m-1 7h0m-1-6h0m-2 2h0m-3 4h0m-1 1h0m0-8h0m-4-1h0m-1 11h0m-2-7h0m-3 5h0m0-9h0m-1 3h0m-7 1h0m-1-1h0m-11 8h0m-1-3h0m-1 2h0m-1-3h0m-2-6h0m-20 3h0m-3-2h0m-3 2h0m0 2h0m-2-5h0m-2 6h0m-1-2h0m-1 0h0m-2 2h0m-15 3h0m-3-7h0m-4 5h0m-23-7h0m-39 6h0m-5-6h0m-5 10h0m0-6h0m-17 0h0m-9-4h0m-237 15h0m52-4h0m49 2h0m35 9h0m4-11h0m0 5h0m46-4h0m3 10h0m10-8h0m26-1h0m15 9h0m24-7h0m4 0h0m17 0h0m19 6h0m1-3h0m1-2h0m5 0h0m4-3h0m13 5h0m10 3h0m24-6h0m4-3h0m10 10h0m4-4h0m0 3h0m2-8h0m0 2h0m2 5h0m1-5h0m4 5h0m4-2h0m2 0h0m1 4h0m0-9h0m1 6h0m1-4h0m4 3h0m2 0h0m1-3h0m2-4h0m8 9h0m0-5h0m0-4h0m6 5h0m1 3h0m1 3h0m1-11h0m4 4h0m0 7h0m0-4h0m3-5h0m0 9h0m1-10h0m1 10h0m0-9h0m10 2h0m2-1h0m0 2h0m1-2h0m4-1h0m1 7h0m1 1h0m0-3h0m1 0h0m0 3h0m1-4h0m3 5h0m1-7h0m1-1h0m0 2h0m1 0h0m2 1h0m1-1h0m1 0h0m1-2h0m3 4h0m2 1h0m1-3h0m4 4h0m1-9h0m0 8h0m2 1h0m0 2h0m0-3h0m1 0h0m1 2h0m1 0h0m1-8h0m0 8h0m1-7h0m3 2h0m1-3h0m0 9h0m1-4h0m0-6h0m4-1h0m0 10h0m0 0h0m0-1h0m1-7h0m0 8h0m1-8h0m2-2h0m1 1h0m1 2h0m3 5h0m2-3h0m2 0h0m2-1h0m1 2h0m3-2h0m2 7h0m0-9h0m0 8h0m3-9h0m2 5h0m0-6h0m2 9h0m0 1h0m1 1h0m1-8h0m0-2h0m2 2h0m1-2h0m0 0h0m1 6h0m8 4h0m2-1h0m2-1h0m0-7h0m0 8h0m0-10h0m3 1h0m1 5h0m0 1h0m2 2h0m2 0h0m0-8h0m2-1h0m1 11h0m1-9h0m1-1h0m3 7h0m2-4h0m1-4h0m3 6h0m4 2h0m3 1h0m3 1h0m1-3h0m1-6h0m0 3h0m3 0h0m1-4h0m2 9h0m2-8h0m0 2h0m3-1h0m8-1h0m6 7h0m3-5h0m5 3h0m0 3h0m7-8h0m2 7h0m4-3h0m3 5h0m3-10h0m3 7h0m7-2h0m11-3h0m1-1h0m11 4h0m4-3h0m6 7h0m2-8h0m8 6h0m34 13h0m-42 2h0m-2-4h0m-8 4h0m-40-8h0m-1 6h0m-10-6h0m0 6h0m-10-8h0m-3 5h0m-1 4h0m-2 1h0m-4-4h0m-2-4h0m-3 5h0m-3-6h0m-1 0h0m-1-1h0m-1 1h0m-3 1h0m-6 2h0m-7-1h0m-6 5h0m-1 1h0m-2-6h0m-5-2h0m0 0h0m-2 9h0m0-5h0m-2 1h0m-1 3h0m0-3h0m-1-1h0m-7 3h0m-1 2h0m-2-3h0m-1 3h0m0-10h0m0 6h0m-1 0h0m-1 3h0m-1-8h0m0 1h0m-3-2h0m-1 7h0m-1-6h0m-1 10h0m0-4h0m0 2h0m0-3h0m-2-5h0m0 7h0m-2 0h0m-2-3h0m-1-3h0m-1-1h0m0 6h0m-3-5h0m-1 6h0m-2-2h0m0-1h0m-3 4h0m0-8h0m-1 2h0m-1 7h0m-1-8h0m-1 2h0m-1 1h0m0-3h0m-1 4h0m-1 0h0m-1-6h0m-1 3h0m0 3h0m-1 0h0m0 3h0m-3-2h0m-1-5h0m-1 2h0m-3 1h0m0-4h0m0 10h0m-2-1h0m-1-4h0m-1 5h0m-1-9h0m-3 8h0m-2 1h0m0-7h0m-2 4h0m-1 1h0m-1-8h0m-3 10h0m-3-6h0m-4-3h0m-1 8h0m-3-1h0m0-6h0m-1 5h0m0 2h0m-1-1h0m0-1h0m0 0h0m0-6h0m-5 2h0m-1-4h0m-1 4h0m0 3h0m-2-3h0m-3 2h0m-4 1h0m0 3h0m-3-8h0m-2 5h0m-6-7h0m-2 5h0m-2 1h0m0 0h0m-1 0h0m-1-6h0m-1 3h0m0 5h0m-1 1h0m-1-6h0m-1 8h0m-1-5h0m-5 4h0m-1 0h0m0-6h0m-2 0h0m-1 1h0m-1-1h0m-1-1h0m-1 6h0m0 2h0m0-10h0m-4 1h0m-1 4h0m0 1h0m-1 4h0m-2-9h0m-1 6h0m-2-2h0m-1 4h0m-5-1h0m-8-7h0m0 7h0m-6-1h0m-3 3h0m-1-2h0m0 1h0m-9-1h0m-1-6h0m0 4h0m0-6h0m-3 4h0m-2 1h0m-13-5h0m-10 2h0m-2-2h0m0 0h0m-4 4h0m-25-3h0m-13 9h0m-9-10h0m-8 8h0m-18-9h0m-18 8h0m-3 1h0m-40-7h0m-64 9h0m27 4h0m98 0h0m11 0h0m19-1h0m35 0h0m42 2h0m23-4h0m14 2h0m6-1h0m9 0h0m1 4h0m2-3h0m4-1h0m1 2h0m4-3h0m1 4h0m1 0h0m0-4h0m4 3h0m4-2h0m5 1h0m0 1h0m2 2h0m1-3h0m5 1h0m2 0h0m2 0h0m2 2h0m1-4h0m1 3h0m1 0h0m3 0h0m2-3h0m1 3h0m8 0h0m3-4h0m1 3h0m1-1h0m0 1h0m3-3h0m5 3h0m0-2h0m3 1h0m2-1h0m1 3h0m2-2h0m1 2h0m1 1h0m11-4h0m3 1h0m1 0h0m4 0h0m1-1h0m6 1h0m0-1h0m1 1h0m1-2h0m11 0h0m3 0h0m5 4h0m2-1h0m0-3h0m1 1h0m4 1h0m1 0h0m2 2h0m5 1h0m4-5h0m3 1h0m3 1h0m0 0h0m8 0h0m3-2h0m2 2h0m13-2h0m9 1h0m1 4h0m2-2h0m1 1h0m4-2h0m1-2h0m1 5h0m0-1h0m11 0h0m8-1h0m45-3h0m4 3h0" stroke="#3b2a6a"/><path d="M791 2134h0m-25-5h0m-116 1h0m-5-3h0m-2 7h0m-31-1h0m-6-2h0m-3 4h0m-1 0h0m-4-5h0m-3 5h0m-2 0h0m-1-5h0m-1-2h0m-1-1h0m-8 7h0m-13-3h0m-10 0h0m-25 4h0m-2-5h0m-10 1h0m-3 1h0m-2-4h0m-2 7h0m-18-6h0m-1 4h0m-1-4h0m-13-2h0m-3 8h0m0-1h0m0-4h0m0 0h0m-15 5h0m-7-1h0m-17-6h0m-19 2h0m-5 5h0m-10-1h0m-32 0h0m-16 1h0m-14-8h0m-38 5h0m-18 2h0m-40-5h0m-23-2h0m-56 4h0m23 6h0m58 6h0m6 0h0m21-3h0m36 1h0m58-5h0m22 11h0m6-3h0m2-5h0m6 0h0m15 0h0m3 0h0m14 5h0m0-8h0m1 11h0m24-5h0m6 2h0m7 3h0m7-6h0m9-3h0m16-1h0m3 7h0m6 3h0m12-3h0m8 0h0m3 3h0m1-7h0m2 5h0m15-8h0m3-1h0m1 11h0m5-5h0m2-6h0m7 11h0m0-7h0m2 5h0m5 2h0m3-5h0m2 2h0m1 0h0m5-5h0m2 1h0m11 2h0m0 4h0m1-4h0m4-2h0m1 7h0m10-1h0m7 1h0m5-8h0m6 5h0m9-5h0m5 6h0m2-5h0m10 1h0m3 1h0m3-5h0m2 5h0m3-4h0m38 6h0m25 3h0m14-7h0m27 3h0m22 16h0m-3-5h0m-53-2h0m-7 3h0m-1 3h0m-8-7h0m-12 1h0m-29 1h0m-4 2h0m-4-2h0m-14-5h0m-13 2h0m0 7h0m-1-5h0m-10 6h0m-3-1h0m-4-2h0m-24-4h0m-13 4h0m-18 4h0m0-4h0m-1-1h0m-3 4h0m0-10h0m-7 6h0m-2-1h0m-2-1h0m-10 1h0m-4 2h0m0-2h0m-2 6h0m-1-6h0m-6-3h0m-3 8h0m-2-1h0m-3-2h0m-2-6h0m-1 8h0m-11-2h0m-16-7h0m0 10h0m-10-4h0m-11-2h0m-7-3h0m0 6h0m-3 2h0m-6 0h0m-2-5h0m-1-3h0m-1-1h0m-5 0h0m-9 10h0m-4 1h0m-12-3h0m-3 3h0m-1-2h0m-2-2h0m-7 4h0m-9-9h0m-3 9h0m-10-4h0m-12-6h0m-37 9h0m-1-10h0m-1 11h0m-30-3h0m-17-6h0m-10 9h0m-7-1h0m-77-10h0m-24 2h0m-44 6h0m116 4h0m51 9h0m54-1h0m1 2h0m33 1h0m1-7h0m0 6h0m0-2h0m6-7h0m33 2h0m6 0h0m6 8h0m8-3h0m0-5h0m4 3h0m6-1h0m0 3h0m1-4h0m8-1h0m15-2h0m5 3h0m5-1h0m4-3h0m6 7h0m11-6h0m2 6h0m1-7h0m4 2h0m1 2h0m12-2h0m10 8h0m3-9h0m1 3h0m0 4h0m6-6h0m8 0h0m8 8h0m2-10h0m5 6h0m3-6h0m2 2h0m1 3h0m6 5h0m0-1h0m13-3h0m2-1h0m11-5h0m3 4h0m4 3h0m13 2h0m6-3h0m5-4h0m15-1h0m1 7h0m42-7h0m59 10h0m5 0h0m17-3h0m32-4h0m9 16h0m-94-2h0m-2 3h0m-6-1h0m-21-2h0m-17-3h0m0 4h0m0 0h0m-5-3h0m-9 4h0m0-2h0m-1 2h0m-7 0h0m-4 3h0m-1-6h0m-19-2h0m-2 0h0m-17 8h0m-2-6h0m-15 6h0m-1-6h0m-2 0h0m-11-5h0m-1 6h0m-9-5h0m-6 0h0m-5 1h0m0 4h0m-4-6h0m-4 2h0m-1 7h0m-8-1h0m-5 0h0m-1-6h0m-5-2h0m0 8h0m-1-2h0m-3 1h0m-2-5h0m-1 5h0m-11-1h0m-4 1h0m-13-2h0m-8-5h0m0 5h0m-1-2h0m-5-2h0m-3 9h0m-2 1h0m-11-8h0m-1 6h0m-5-1h0m-16-2h0m-9-2h0m-6 4h0m-5 2h0m-6-10h0m-6 8h0m-3-8h0m-9 11h0m-24-9h0m-3 5h0m-7-6h0m-5 0h0m-53 6h0m-17 4h0m-15-3h0m-7 0h0m-10 3h0m-43-2h0m-5 0h0m-81-8h0m-24 12h0m106 3h0m23 6h0m17-3h0m3 4h0m25-2h0m38-3h0m33 3h0m21-7h0m10 1h0m0 7h0m8 1h0m10-2h0m24-5h0m4 2h0m3 2h0m2 2h0m6-2h0m12 3h0m8-2h0m1 1h0m2 0h0m15-2h0m1 2h0m7 1h0m1-9h0m9-1h0m5 3h0m0-4h0m5 10h0m16-9h0m10 5h0m0-2h0m0 4h0m18-3h0m4-2h0m2 8h0m1-8h0m3 8h0m4-6h0m2 5h0m1-6h0m4-1h0m3 1h0m2 1h0m4 2h0m1 1h0m3-3h0m4 6h0m1-8h0m3-3h0m3 9h0m2 1h0m0-2h0m5-4h0m1 3h0m9 2h0m3-5h0m1 2h0m3-4h0m8-2h0m12 8h0m20 0h0m3 3h0m10-11h0m0 11h0m11 12h0m-24-6h0m-3 4h0m-15 2h0m-10-8h0m0 2h0m-3-4h0m-8 3h0m-5 0h0m-2-4h0m-4 0h0m-5 4h0m-3 1h0m-12-2h0m-3 3h0m-6 2h0m-5-6h0m0 5h0m-3-5h0m0 4h0m-7 4h0m-12 0h0m0-10h0m-5 1h0m-4 6h0m-2 2h0m0-5h0m-6 5h0m-7-2h0m-2-6h0m-2 1h0m-6 4h0m-2 3h0m-3-6h0m-13 2h0m-12 1h0m-3 3h0m-4-7h0m-26 1h0m-14 6h0m-1-4h0m-7-5h0m-8 5h0m-16-4h0m-36 9h0m-3 1h0m-6 0h0m-23-2h0m-4-7h0m-8 3h0m-20-3h0m-12 3h0m-60-4h0m-36 2h0m102 14h0m13-5h0m2 2h0m3 1h0m5 7h0m20-7h0m0 2h0m4-3h0m0-1h0m6 1h0m13 7h0m5-3h0m6 2h0m2-4h0m16 1h0m0-4h0m1-1h0m2 2h0m19 7h0m13 0h0m12-5h0m12 7h0m18-7h0m7-4h0m0 1h0m4-1h0m3 5h0m8-1h0m1 3h0m7-2h0m2 2h0m6-1h0m6 4h0m0-5h0m8 5h0m1-10h0m0 4h0m10-3h0m5 8h0m4 1h0m4-2h0m6-1h0m2-6h0m0 8h0m10-8h0m1 4h0m2 1h0m5-5h0m6 9h0m4-5h0m5-4h0m2 9h0m8-4h0m1-4h0m2 4h0m2 0h0m0-2h0m0 7h0m1-6h0m9 3h0m2 2h0m1-7h0m6-3h0m6 1h0m3 8h0m15-5h0m0 6h0m10-9h0m37 8h0m13-7h0m124 17h0m-23-3h0m-88 5h0m-69-6h0m-15-2h0m-7 3h0m-6-2h0m-5 6h0m-3-2h0m0 0h0m-42-4h0m-3 3h0m-12 4h0m-1-6h0m-4 2h0m0 0h0m-1 6h0m0-6h0m-4 4h0m0-5h0m-10-3h0m-1 0h0m-3 7h0m-5-2h0m-5-5h0m-1 10h0m0-5h0m-3 3h0m-2-1h0m0 3h0m-12-4h0m-2 1h0m-7 0h0m-3-2h0m-5 3h0m0-9h0m-1 10h0m-13-6h0m0 0h0m-9 7h0m-5-1h0m-1-1h0m-19-8h0m-19 3h0m-3 4h0m0 3h0m-29-3h0m-4-2h0m-5-1h0m-1-2h0m-1 4h0m-10 1h0m-3 1h0m-16 1h0m-29 1h0m-52-7h0m-50-1h0m47 16h0m28 2h0m3-5h0m7 0h0m22 2h0m9-5h0m45 10h0m11-3h0m9-6h0m11 8h0m17-3h0m11-3h0m11 4h0m12 1h0m0-5h0m3 2h0m5-6h0m2 6h0m4 2h0m10-6h0m4 5h0m3 2h0m7 1h0m4-6h0m1 5h0m8 0h0m10-5h0m1-4h0m2 11h0m2 0h0m4-6h0m3-2h0m11 7h0m2 0h0m0-6h0m0-2h0m1-1h0m3 9h0m16-4h0m3 4h0m0-3h0m5-7h0m8 6h0m1-4h0m17 7h0m3-6h0m2 3h0m3-5h0m2 8h0m5-6h0m10-3h0m11 9h0m4-1h0m3-3h0m30 6h0m72 2h0m-53 2h0m-53 6h0m0 2h0m-1-2h0m-4-2h0m-2-2h0m-30 2h0m-2-7h0m-7 4h0m0 2h0m0-6h0m0 1h0m-2 8h0m-4-4h0m-7 4h0m0-8h0m-1 10h0m-1-3h0m-1-3h0m-10 5h0m-12-2h0m-5-3h0m-1 5h0m-5-9h0m-5 9h0m-1-5h0m-1 5h0m-5-8h0m-9 6h0m-1-1h0m-14-7h0m-3 0h0m-4 7h0m0-4h0m0 6h0m-1 2h0m-10-7h0m-1 5h0m-17-6h0m0-2h0m-4 9h0m-6-1h0m-10-1h0m-10-3h0m-3 3h0m-6 3h0m-6-9h0m-3 6h0m-7 1h0m-7-5h0m-5-3h0m-6 1h0m-3 6h0m-8 0h0m-3-1h0m-8-3h0m-63 4h0m-5-2h0m-34 0h0m-140-2h0m-27 7h0m-4 3h0m203 3h0m37 1h0m18-4h0m5-1h0m6 9h0m37-9h0m9 9h0m7-3h0m4-6h0m8 0h0m4 5h0m6 3h0m5-2h0m2 1h0m15-2h0m2 5h0m1-1h0m5-10h0m1 1h0m17-1h0m5 7h0m10-5h0m2 4h0m6-5h0m7 8h0m2-7h0m0 7h0m9-4h0m3-2h0m0-3h0m0 2h0m7 5h0m5-3h0m1 2h0m1 1h0m0 4h0m8-5h0m1 3h0m7 2h0m10-8h0m1 1h0m1-3h0m6 5h0m9 4h0m1-1h0m3-6h0m4 2h0m0 0h0m7-4h0m3 10h0m2-1h0m4 1h0m3-8h0m4 3h0m0 0h0m1 1h0m5-2h0m12 5h0m12-3h0m28-5h0m48 7h0m13 10h0m-61 0h0m-51 3h0m-8-7h0m-16 8h0m0-5h0m-3-4h0m-9 0h0m-6 1h0m-3 3h0m-3-5h0m0 4h0m-13 0h0m-5 3h0m-4-3h0m-2 3h0m-1-8h0m-2 2h0m-1 1h0m-4 5h0m-1-6h0m-3 3h0m0-3h0m-3-2h0m-2 2h0m-3 2h0m-1 5h0m-4-9h0m0 7h0m-1 4h0m-5-3h0m-7 0h0m-7-4h0m-5-3h0m-10 3h0m-1-3h0m0 5h0m0-3h0m-1 1h0m-4 0h0m-1 3h0m-7-3h0m-2-3h0m-4 8h0m-15-4h0m-1 1h0m0-5h0m-2 8h0m-8-3h0m-3 1h0m-16-2h0m-9 1h0m-2 4h0m-2-6h0m-7-3h0m-2 2h0m-6 4h0m-7 4h0m-51-8h0m-9 0h0m-37-3h0m-36 7h0m-10 12h0m57 2h0m12-7h0m23 1h0m6-3h0m9 2h0m4-2h0m1 7h0m28-5h0m6 5h0m9-5h0m20-1h0m11 9h0m2-7h0m1 3h0m4-5h0m3 5h0m1-3h0m7 5h0m2 0h0m14-7h0m2 7h0m5-2h0m8-3h0m0 2h0m0-2h0m0 6h0m7-1h0m4-8h0m10 1h0m2 6h0m1-4h0m8 0h0m3 3h0m5-1h0m1 4h0m5-7h0m1-2h0m1 10h0m5-2h0m4-2h0m3 2h0m12-4h0m8 5h0m2-3h0m2-1h0m0 0h0m1 0h0m0-2h0m5 1h0m1 2h0m6-4h0m10 5h0m17-4h0m4 8h0m2-8h0m1 8h0m56 7h0m-66 5h0m-4-11h0m-10 10h0m-2-10h0m0 6h0m-2-6h0m-5 8h0m-6-1h0m-2-2h0m-2 0h0m-6 5h0m-13-6h0m-2 5h0m-2-4h0m-8 3h0m-4 0h0m-2-7h0m-3 1h0m-1-1h0m-4 5h0m-1-6h0m0 5h0m-2 2h0m-3-4h0m-2 3h0m-1-4h0m0-2h0m-2 1h0m-7 5h0m-18 1h0m-9-1h0m-1-5h0m-1-1h0m0 7h0m-1 2h0m-7 0h0m-6-6h0m-5 0h0m-5 4h0m-9 3h0m-4 1h0m-5-6h0m-1 5h0m-20 0h0m0 0h0m-12-3h0m-3-2h0m-12 3h0m-13 3h0m-5-2h0m-13 0h0m-29-9h0m-11 8h0m-4-3h0m-110 11h0m31-1h0m21 0h0m97-3h0m1 2h0m10-2h0m1 3h0m17 0h0m4 1h0m42-3h0m24-1h0m6 4h0m15 1h0m6-2h0m2 1h0m3 0h0m1-1h0m13 2h0m0-5h0m15 4h0m13 0h0m5-2h0m1 1h0m6 0h0m32 0h0m1-2h0m19 1h0m41-1h0m12 3h0" stroke="#4cba6b"/><path d="M834 2130h0m-105 4h0m-26 0h0m-6-4h0m-13 4h0m-6-7h0m-7 6h0m-29 2h0m-24-2h0m-32 1h0m0-5h0m-19-1h0m-25 5h0m-7-6h0m-8 0h0m-2 4h0m-9 4h0m-12-3h0m-2-3h0m-28 4h0m-57-4h0m-13 2h0m-31 3h0m-16-5h0m-103 6h0m-83-3h0m32 14h0m26-1h0m50-3h0m12-6h0m34 3h0m15 8h0m14-9h0m38 4h0m1 5h0m46-4h0m11-5h0m23-2h0m12 6h0m9 5h0m13-2h0m6-2h0m8 1h0m1-1h0m1 4h0m3 0h0m5-2h0m3-1h0m1-2h0m1 1h0m20 3h0m7-3h0m13 1h0m0 1h0m0-9h0m15 2h0m8 7h0m27 1h0m5-3h0m0 2h0m7-2h0m1 0h0m3-6h0m9 5h0m3 1h0m27 1h0m6 2h0m9-7h0m12-1h0m4 2h0m13-2h0m66 8h0m15-6h0m29 0h0m14-1h0m-29 12h0m-26-1h0m-19 0h0m-4 1h0m-8 1h0m-55 2h0m-31-2h0m-3 3h0m-5-1h0m-5-4h0m-6 1h0m-19 1h0m-1 0h0m-5 5h0m-4-8h0m-2 9h0m-23-6h0m-7 7h0m-1 0h0m-11-10h0m-3 10h0m-8-10h0m-3 5h0m-1 5h0m-9-5h0m-4-3h0m0-3h0m-1 4h0m-2-1h0m-1-2h0m-15-1h0m-1 8h0m-8-1h0m-7 1h0m0-6h0m-6-2h0m-5 6h0m-3-1h0m-9-5h0m0 10h0m-2-10h0m-50 3h0m-2-2h0m-4 0h0m0 2h0m-38-3h0m-27 6h0m-38 2h0m-50-4h0m-58-3h0m-4 4h0m-107-2h0m70 20h0m23 0h0m30-8h0m31-1h0m91 3h0m4 2h0m57-7h0m0 3h0m6 8h0m7-9h0m15 9h0m1-1h0m6-7h0m2 0h0m21 0h0m11-1h0m17 8h0m0-10h0m3 3h0m0 0h0m0 6h0m0-2h0m8-6h0m8 10h0m3-9h0m2 4h0m1 4h0m10-8h0m0 9h0m0-10h0m0 5h0m7-2h0m6 7h0m1-11h0m5 10h0m1-5h0m1-2h0m3 8h0m0-1h0m0-9h0m2 0h0m3 8h0m8 1h0m4-8h0m14 6h0m3 3h0m1-3h0m10-1h0m40-3h0m3-3h0m18 8h0m12 1h0m7-5h0m56-2h0m59 12h0m-19 4h0m-23 4h0m-50-5h0m-17-2h0m-4-2h0m-1 0h0m-7 7h0m-9-9h0m-5 0h0m-8 11h0m-2-6h0m-13-1h0m-13-2h0m-27-1h0m-5 2h0m-4-1h0m-6 5h0m-3-1h0m-7 4h0m0-9h0m-37 6h0m-6 0h0m-11 4h0m-1-10h0m-2 2h0m-5 8h0m-2 0h0m-3-11h0m-17 9h0m-7 2h0m-4-3h0m0-2h0m-3 5h0m-1-11h0m-3 11h0m-2-8h0m-14-1h0m-11-2h0m-6 2h0m-9 3h0m-2 3h0m-1-5h0m-20 3h0m-5-1h0m-53 1h0m-30-5h0m-79 1h0m-144 13h0m179 4h0m110-5h0m36-1h0m12 6h0m1 0h0m4-2h0m41 6h0m2-4h0m0-5h0m8 5h0m13 4h0m12-5h0m1-4h0m3 2h0m11 2h0m7 2h0m11 2h0m1-10h0m6 1h0m19 4h0m22-2h0m8 2h0m2-4h0m3 3h0m16-1h0m2 2h0m11 4h0m15 0h0m62-4h0m51 3h0m-17 6h0m-38 9h0m-6-3h0m-13-4h0m-1 6h0m-11-3h0m-15-6h0m-47 3h0m-17 1h0m-2 3h0m-16-4h0m-17 2h0m-2 2h0m-1-3h0m0-4h0m-2 1h0m-17 2h0m-4 0h0m-14 0h0m-6-1h0m-11-2h0m-13 9h0m-14-3h0m-62-5h0m-2 1h0m-3 4h0m-16 2h0m-5-4h0m-36-2h0m-200 2h0m-24 15h0m16 1h0m124 1h0m57-3h0m39-3h0m30 2h0m10-6h0m3 0h0m14 4h0m0 3h0m0 2h0m8-3h0m4-2h0m11 3h0m14-2h0m3 0h0m6-2h0m3 8h0m5-5h0m5 1h0m7 3h0m8-4h0m15-1h0m5-4h0m5 10h0m2 0h0m1-5h0m9-1h0m12 0h0m1 1h0m1-4h0m8-2h0m2 0h0m2 4h0m1-4h0m5 8h0m25 1h0m3-6h0m4-2h0m5 4h0m4 5h0m1-10h0m19 9h0m13-3h0m8-5h0m1 7h0m13-8h0m12 4h0m4-3h0m3 2h0m1-1h0m66 9h0m-23 2h0m-30 7h0m-42 0h0m-2 0h0m-3-3h0m-19-5h0m-19 7h0m0-3h0m-7 2h0m-10-1h0m-1-1h0m-6 6h0m-2 0h0m-3-1h0m-20-4h0m-8-2h0m-3 8h0m0-1h0m-1-1h0m0-6h0m-6 6h0m-6-3h0m-4 5h0m-33-11h0m-3 8h0m-23-5h0m-5-2h0m-2 2h0m-3 1h0m-11 4h0m-2-4h0m-9-4h0m-50 5h0m-1 0h0m-4-1h0m-17 6h0m-18 1h0m-12-9h0m-32-2h0m-85 1h0m-92 19h0m61-8h0m95 7h0m119-2h0m10 6h0m25 0h0m6-9h0m0 1h0m1 8h0m3-1h0m12-2h0m3-3h0m1-3h0m2 6h0m2-4h0m2-1h0m3 2h0m11-3h0m0 5h0m1 1h0m3 2h0m24 0h0m4-3h0m10-6h0m9 4h0m2-1h0m10 3h0m3 2h0m7-7h0m7 4h0m3-4h0m0 9h0m1-11h0m1 8h0m3-1h0m0-5h0m14-2h0m19 8h0m32-5h0m2 2h0m10-4h0m3 7h0m18 3h0m25-5h0m20 4h0m17-10h0m-93 12h0m-8 0h0m0 0h0m-10 3h0m0 1h0m-3-1h0m-4 0h0m-8 3h0m-5-5h0m-13-1h0m-13 11h0m0-5h0m-5-2h0m-3 5h0m-1-5h0m-6 6h0m-2 0h0m-6-9h0m-7 0h0m-3 9h0m0-8h0m-9-2h0m-6 11h0m-3-11h0m-4 0h0m-6 4h0m-3 0h0m-2 7h0m-6-7h0m-11-2h0m-9 9h0m-1-1h0m-23-5h0m-17-2h0m-10-1h0m-3 5h0m-5 4h0m-8-10h0m-6 0h0m-39 10h0m-202-3h0m-69 9h0m52 3h0m81 0h0m60-4h0m25 3h0m8-1h0m4 5h0m34-10h0m1 7h0m60-1h0m8 4h0m13-2h0m4-4h0m22 6h0m20-6h0m10 3h0m5-4h0m9 5h0m12 0h0m3-6h0m2 0h0m1 6h0m1-7h0m1 0h0m1 9h0m6-4h0m5 4h0m0 0h0m1-4h0m3 0h0m0-1h0m3-2h0m1 6h0m1-2h0m2-4h0m3-3h0m4 2h0m12 5h0m3-1h0m3-6h0m8 0h0m2 10h0m3-5h0m1-4h0m3 7h0m3 0h0m7-9h0m10 2h0m17-1h0m2 3h0m1 3h0m5-5h0m31 1h0m8 14h0m-41 5h0m-6-4h0m-2-2h0m-1 5h0m-5-6h0m-3 2h0m-1 5h0m-12-3h0m-3-3h0m0 6h0m-1-8h0m-15 3h0m-1 3h0m-3 0h0m-10-8h0m0 6h0m-2-2h0m-2-3h0m-4 7h0m-2-5h0m-13 3h0m-3 3h0m-6-2h0m-1 2h0m-1-6h0m-9 7h0m-1-8h0m-2 7h0m-1-3h0m-3-5h0m-1 8h0m-5 0h0m-3 2h0m-5-11h0m-2 7h0m-3 3h0m-4-1h0m-4-1h0m-10 0h0m-1-2h0m-3 2h0m-26 1h0m-1-8h0m-2 8h0m-1-2h0m-2-3h0m-1 1h0m-15 2h0m-9 0h0m-4 0h0m-14 0h0m-3 3h0m-1-5h0m-1 5h0m-4-2h0m0-6h0m-2 4h0m-15 2h0m-25-3h0m-2 2h0m-8-5h0m-54 4h0m-170-6h0m-32 5h0m64 9h0m106 9h0m45 0h0m47-9h0m5 3h0m8 3h0m11 2h0m21-1h0m4-8h0m1 2h0m12-3h0m16 9h0m12-6h0m3 2h0m16-4h0m1 9h0m1 0h0m5-5h0m5 1h0m17-4h0m5 7h0m1-9h0m2 1h0m5 9h0m7 0h0m10-2h0m7-1h0m5-3h0m0 2h0m1 0h0m2-2h0m3-2h0m9 0h0m4 0h0m6 1h0m1 2h0m5-3h0m1 5h0m2 3h0m2-7h0m0 4h0m6 1h0m6-2h0m4 3h0m15-7h0m4 5h0m2 0h0m17-7h0m3 7h0m22-2h0m30 10h0m-31 6h0m-16-8h0m-16 7h0m-2 0h0m-3-4h0m-2 0h0m-3 0h0m-2 5h0m-5-9h0m-4 7h0m-1-6h0m-19 1h0m-5 3h0m-8 6h0m-1-7h0m0-3h0m-8 6h0m-4-6h0m-5 1h0m0 9h0m-8-4h0m0-5h0m-8 3h0m0 1h0m-14 3h0m-5-3h0m-2 0h0m-12-2h0m-2 7h0m-10-11h0m-9 9h0m-2-6h0m-5 4h0m-1 0h0m-3-6h0m-12-1h0m-9 3h0m-4-3h0m-15 8h0m0-3h0m-61 2h0m-29 1h0m-6-1h0m-55-4h0m-124 2h0m97 7h0m44 5h0m63-1h0m53-1h0m34-2h0m11 0h0m1 1h0m16-1h0m0 0h0m5 3h0m18-2h0m10 2h0m5-3h0m4 2h0m23-1h0m9-2h0m14 4h0m37-3h0m37 2h0m23 1h0" stroke="#2b8a90"/><path d="M842 2133h0m-41-2h0m-44-3h0m-44 6h0m-59-2h0m-9-5h0m-1 6h0m-36 0h0m-35-2h0m-5-2h0m-14 1h0m-49-1h0m-5 4h0m-12-1h0m-12-4h0m-26 5h0m-11 0h0m-35-3h0m-26 5h0m-193-6h0m202 16h0m24-8h0m9 9h0m7-7h0m1 6h0m1-8h0m19 9h0m11-2h0m30-7h0m1 9h0m10-7h0m1-1h0m0 0h0m5-1h0m33 5h0m4-3h0m6-1h0m26 7h0m9-3h0m2 0h0m26-4h0m5 8h0m48-2h0m9 0h0m2 3h0m7-2h0m79-8h0m-12 14h0m-30 7h0m-1-6h0m-13-1h0m-7-2h0m-26 10h0m-18-3h0m-26-8h0m-21 11h0m-7-11h0m-3 9h0m-2-8h0m-10 8h0m-18-9h0m-14 0h0m-26 2h0m-36 8h0m-27 0h0m-4-8h0m0 1h0m-12 4h0m-2 2h0m-38-1h0m-46-5h0m-143 9h0m129 7h0m3 4h0m26 0h0m45-6h0m1 6h0m53 0h0m0-11h0m0 2h0m26 7h0m6-7h0m11 2h0m13 4h0m4-1h0m9-2h0m7-5h0m6 4h0m26-4h0m3 2h0m10 1h0m4 1h0m37 6h0m0-9h0m2 5h0m46 2h0m9 1h0m91 13h0m-113-2h0m-49-8h0m-2 7h0m-4-7h0m-10 4h0m-2 6h0m-26-9h0m-1 8h0m-4-2h0m-5-1h0m-3 2h0m-2 0h0m-16-5h0m-3-2h0m-1 10h0m-14-8h0m-11 0h0m-3 1h0m-14 5h0m-17 0h0m-4-3h0m-3 5h0m-7-5h0m-14 2h0m-29 3h0m-50-6h0m-7 0h0m-70-5h0m-179 23h0m1 0h0m258 0h0m3-10h0m13 0h0m27 5h0m28-2h0m2-3h0m4 3h0m14-1h0m8 7h0m31-10h0m0 3h0m21-2h0m11 1h0m6-2h0m14 10h0m1 0h0m6-8h0m5 5h0m12-6h0m7 3h0m3 7h0m2 0h0m12 0h0m35-10h0m4 3h0m13 5h0m0-6h0m3 4h0m84-3h0m5 11h0m-75-1h0m-21 0h0m-4 0h0m-19-2h0m-11 3h0m-17 7h0m-8-10h0m-15 1h0m-2 1h0m-13 0h0m-24 1h0m-15 2h0m-10-3h0m-13 9h0m-3-7h0m-7 6h0m0-8h0m-4 6h0m-105-5h0m-138 0h0m158 15h0m16 2h0m19-6h0m4-1h0m3 2h0m16 0h0m15-1h0m5 4h0m12 1h0m26 4h0m17 0h0m5-2h0m32 0h0m9 0h0m9-6h0m7 1h0m6 6h0m23 0h0m11-10h0m6 9h0m3 2h0m45-10h0m69 7h0m-70 12h0m-50 0h0m-10 1h0m-3-6h0m-24 0h0m-1-2h0m-3 2h0m-3-2h0m-22 8h0m-11-1h0m-13 0h0m-5-4h0m-10 2h0m-4 5h0m-7-8h0m-21 8h0m-4-5h0m-16-4h0m-19 4h0m-20-5h0m-328 4h0m322 9h0m0 2h0m3-2h0m11-2h0m28 11h0m2-6h0m1 0h0m19 4h0m14-4h0m1-2h0m1 7h0m25-3h0m18 1h0m13-8h0m44 8h0m99 15h0m-31-5h0m-8 1h0m-14-7h0m-6 9h0m-2-4h0m-22-5h0m-14 5h0m-6 2h0m-7-2h0m-5 4h0m-17-2h0m-1-5h0m-11 8h0m-11 1h0m-2-8h0m-3-2h0m-10 7h0m-31 1h0m-19-6h0m-6-2h0m-70 8h0m-37-2h0m-3 3h0m-43-1h0m-62-4h0m-39 13h0m143 3h0m0 2h0m2-3h0m42-6h0m43 0h0m19 5h0m14-4h0m8 2h0m18 4h0m12-5h0m1 3h0m1-1h0m23 5h0m0-7h0m27-2h0m11 5h0m36 3h0m17-4h0m20 2h0m-24 14h0m-5-10h0m-5 11h0m-20-1h0m-1-2h0m-6-4h0m-6 5h0m-10-7h0m-3 1h0m-6 2h0m-1-1h0m-11-4h0m-1 4h0m-9 7h0m-13-9h0m0 7h0m-12-1h0m-5-2h0m-7 5h0m-34-8h0m-7-1h0m-43 3h0m-12 5h0m0-4h0m-318 3h0m22 3h0m213 4h0m25 5h0m14-3h0m19-5h0m10 3h0m29 7h0m20-5h0m18-6h0m3 8h0m9-7h0m15 9h0m2-1h0m3-7h0m1 1h0m12-2h0m3 7h0m0-1h0m21 2h0m6-4h0m0-2h0m4-2h0m8 5h0m8 2h0m3 3h0m8-9h0m32 2h0m34-1h0m0 20h0m-21-5h0m-5 5h0m-4-10h0m-2 7h0m-17-8h0m-22 5h0m-3-5h0m-2 8h0m-2 3h0m-6-7h0m-4-1h0m0 6h0m-34-8h0m-10 8h0m0 0h0m-22-5h0m-16 4h0m-4-1h0m-4-7h0m-2 5h0m-14 6h0m-81-2h0m-8-5h0m-54-3h0m-91 1h0m132 14h0m8 0h0m85-3h0m7 3h0m59-4h0m5 5h0m3 0h0m42-1h0m38-3h0m0-1h0" stroke="#8fd35a"/><path d="M702 2128h0m-6 1h0m-2 6h0m-25-3h0m-1-4h0m-39 0h0m-3 7h0m-46-6h0m-1 2h0m-4 3h0m-11-7h0m-156 12h0m42 4h0m28 2h0m17 2h0m52-5h0m66-5h0m1 2h0m6 4h0m0 0h0m24 0h0m14-6h0m16 8h0m2-1h0m2-2h0m3-3h0m1-3h0m2 3h0m7 3h0m76 2h0m4 1h0m28-9h0m-10 16h0m-3 4h0m-9-6h0m-23 7h0m-27 1h0m-59-2h0m-12-2h0m-4-1h0m-10-1h0m-12 0h0m-1 3h0m-20 1h0m-394 8h0m259-4h0m32 10h0m35-10h0m15 11h0m27-3h0m24-6h0m29 9h0m1-7h0m8 2h0m20-1h0m17-3h0m15 6h0m13-5h0m1 6h0m3-3h0m32-4h0m13 1h0m2 7h0m1 12h0m-6-6h0m-14-3h0m-25 10h0m-32-2h0m-29-9h0m-23 8h0m-26-7h0m-30 2h0m-43 8h0m-7 3h0m14 9h0m29-9h0m3 5h0m42 4h0m10-7h0m2 6h0m6-5h0m17-1h0m6 7h0m4-11h0m3 10h0m28 0h0m0-1h0m30-6h0m15-3h0m9 10h0m50-6h0m0 3h0m8 0h0m3 2h0m42 4h0m-13 9h0m-14-1h0m-78-2h0m-9-1h0m-11-1h0m-3 3h0m-14 1h0m-8-4h0m-2 2h0m-8 1h0m-7-5h0m-2 3h0m-7 2h0m-2 0h0m-12-4h0m-19-2h0m-11 4h0m-20 2h0m-9-8h0m-4 4h0m-7 1h0m-19-4h0m-18 7h0m-23 0h0m-66-7h0m-37 5h0m-158-2h0m7 19h0m60-7h0m45-3h0m48 0h0m83 10h0m27-9h0m24 0h0m2 7h0m4-8h0m12 1h0m1 5h0m8-1h0m5-1h0m6-3h0m1 8h0m25-3h0m8 0h0m4 4h0m8-4h0m6-7h0m22 0h0m1 2h0m4 7h0m9 0h0m2 2h0m7-2h0m19-9h0m56 1h0m57 6h0m-53 6h0m-6 3h0m-37 6h0m-10-4h0m-32 1h0m-5 4h0m-26-4h0m-4-1h0m-10-3h0m-15 0h0m-4 2h0m0 1h0m-44-3h0m-5 1h0m-3-3h0m-1-1h0m-2 1h0m-30 4h0m-8 3h0m-6 1h0m-1-9h0m-14 9h0m-7-9h0m-86 11h0m-14-10h0m-4 0h0m92 18h0m14-1h0m15-5h0m7 8h0m65-1h0m8-8h0m2 4h0m12 7h0m29 0h0m24-3h0m2 3h0m43-11h0m7 2h0m11-1h0m-9 16h0m-1-3h0m-14 4h0m-14 5h0m-16-6h0m-12 5h0m-15-5h0m-5-4h0m-8 1h0m-13 0h0m-2 6h0m-16 2h0m-14 0h0m-19 1h0m-38-5h0m-13-2h0m-6 3h0m-29-4h0m-201-1h0m133 12h0m34-2h0m25 3h0m5 3h0m6-4h0m34 1h0m7-3h0m21 10h0m1 0h0m15-8h0m3 3h0m2 0h0m31 3h0m5 1h0m6-2h0m1-5h0m8 0h0m1-2h0m2 0h0m7 11h0m5-1h0m8-7h0m2-3h0m9 3h0m18 7h0m1 1h0m5-2h0m4 2h0m11-10h0m13 1h0m8 2h0m19-2h0m8-2h0m2 8h0m95-7h0m-16 21h0m-27-5h0m-17 5h0m-65-8h0m-3 4h0m-19-3h0m0 7h0m-10-1h0m-3-6h0m-4 1h0m-13 4h0m0-7h0m-12-1h0m-4 6h0m-3-6h0m-12 6h0m-8 2h0m-4-5h0m-2 1h0m-3 0h0m-6 7h0m-9-1h0m-1-4h0m-1-6h0m-6 5h0m-5 4h0m-11 2h0m-14-8h0m-6-1h0m-11 9h0m-28-4h0m-5 4h0m-103-11h0m-30 22h0m51-10h0m63 3h0m39-3h0m11 8h0m1-3h0m1 6h0m0-3h0m5-1h0m16-3h0m7 1h0m3 2h0m19 3h0m15 0h0m1-4h0m0 1h0m8 4h0m3-9h0m15 4h0m9-1h0m8 6h0m34 0h0m4-9h0m28 4h0m20 5h0m57-2h0m26-5h0m-14 13h0m-4 4h0m-47-7h0m-6 8h0m-20-1h0m-16 2h0m-31-2h0m-9 0h0m0-2h0m-1-3h0m-8-4h0m-6 1h0m-3 10h0m-2-4h0m-2 4h0m-3-5h0m-13 0h0m-6-5h0m-11 0h0m-24 3h0m-7 7h0m-7-11h0m0 10h0m-27-3h0m-9-5h0m-4 4h0m-9 1h0m-7-1h0m-32 5h0m-7-8h0m-201 7h0m-66-9h0m-64 12h0m204 1h0m129-1h0m13 1h0m43-1h0m36 1h0m5 3h0m11-5h0m31 0h0m2 1h0m0 4h0m13-5h0m20 1h0m35 3h0m54 0h0m62 0h0" stroke="#44468a"/><path d="M740 2129h0m-42-1h0m-84 6h0m-18-6h0m-27 6h0m-8-2h0m-6-2h0m-35-1h0m-165 1h0m75 17h0m51-4h0m41-3h0m7 7h0m23-2h0m59 0h0m53-9h0m14 10h0m-11 12h0m-3-1h0m-53-8h0m-3-1h0m-6 6h0m-85 0h0m-33-6h0m-59 6h0m-129 7h0m126 4h0m26 3h0m19 1h0m19 1h0m36-5h0m9 4h0m40-1h0m33-3h0m83-5h0m-61 22h0m-52-3h0m-12 3h0m-23 0h0m-1-3h0m-21-2h0m-7 0h0m-9-3h0m-8-2h0m-4 5h0m-9 4h0m-78-2h0m-277 9h0m225-1h0m75 0h0m43-1h0m44 0h0m76 8h0m9 1h0m11-8h0m32 6h0m90 14h0m-14 0h0m-42-8h0m-23-3h0m-26 2h0m-17 7h0m-28-3h0m-3 3h0m-62-3h0m0 3h0m-17 2h0m-8-6h0m-29 6h0m-15-6h0m-44 1h0m-97 0h0m-190 8h0m213 1h0m19 8h0m53-3h0m9 1h0m96 0h0m31-1h0m58-7h0m10 2h0m26 0h0m100 7h0m-83 7h0m-16 6h0m-40-8h0m-1-2h0m-19 9h0m-13-10h0m-28 6h0m-105-3h0m-163 13h0m81 7h0m13-5h0m89-5h0m18 1h0m73 3h0m40 0h0m4 6h0m0-11h0m95 3h0m12 19h0m-29 0h0m-23-4h0m-8-3h0m-28 0h0m-27 6h0m-34-8h0m-10 0h0m-19-1h0m-6 1h0m-7 10h0m-22-7h0m-86-1h0m-34 19h0m58-9h0m57 5h0m30-5h0m74 5h0m8-5h0m15 0h0m9 6h0m39 4h0m12-7h0m4 15h0m-29-5h0m-1 4h0m-10 3h0m-4-9h0m-52 9h0m-4-2h0m-47-3h0m-6 1h0m-13 1h0m-61-6h0m-66 1h0m-43 8h0m-7 13h0m19-8h0m35 9h0m63 0h0m8-10h0m59 0h0m5 9h0m21-10h0m9 6h0m10 0h0m6 0h0m26-5h0m8 8h0m20 2h0m19-9h0m20 6h0m17-3h0m-33 7h0m-68 6h0m-14-2h0m-46-4h0m-16 6h0m-107 0h0m-113 2h0m111 6h0m15 0h0m49-2h0m0 0h0m24 3h0m29-1h0m5 0h0m5-1h0m23 0h0m21 0h0m33 1h0" stroke="#b9dd4a"/><path d="M835 2135h0m-27-1h0m-8 0h0m-12-1h0m-2 2h0m-3-6h0m-25 2h0m-6-2h0m-7 2h0m0-3h0m-8 3h0m-22 0h0m-22-1h0m-4 3h0m0-3h0m-3 5h0m-2-3h0m-1 2h0m-3-2h0m-3 2h0m-15-6h0m-1 4h0m-10-1h0m-11-3h0m-1 7h0m-2-5h0m-28 3h0m-6-1h0m-2-1h0m-2 1h0m-4-1h0m-4-2h0m-31-1h0m-1 5h0m-7 0h0m-10 1h0m-2-3h0m-7 0h0m-64 3h0m-130-7h0m-24 2h0m-30 4h0m-116-4h0m4 8h0m249-1h0m50 4h0m27 2h0m35 1h0m18 0h0m11-4h0m11 5h0m2 0h0m6-3h0m7-2h0m9 5h0m1-2h0m16-5h0m1-1h0m2 2h0m1 5h0m3-3h0m2 4h0m1-6h0m2 9h0m0-8h0m1-1h0m5-1h0m3 10h0m2-10h0m2 7h0m0 1h0m2 2h0m2-3h0m5-4h0m1 2h0m7 1h0m0-5h0m1 6h0m3-7h0m1 10h0m2-10h0m0 0h0m1-1h0m3 8h0m1-1h0m2-7h0m1 4h0m1-2h0m1 7h0m1-1h0m2-1h0m3 0h0m3 0h0m0 4h0m3-4h0m7-2h0m6-4h0m0 3h0m15 2h0m1-3h0m1 1h0m8-4h0m7 3h0m7 3h0m2 0h0m1-4h0m0 5h0m4-1h0m2 2h0m0 3h0m1-1h0m6-5h0m12 2h0m7 0h0m2 2h0m4 0h0m2 0h0m7 0h0m14 1h0m3-8h0m27-2h0m8 2h0m-21 18h0m-2-2h0m-3-3h0m-13-3h0m-10 6h0m-16-2h0m-2-1h0m-3 2h0m-12 2h0m0 3h0m-10 0h0m-4-3h0m-7 1h0m-1-3h0m-2-5h0m-6 1h0m-2 8h0m-4 0h0m-3-8h0m-6 4h0m-3 2h0m-3-6h0m-2 0h0m-2 0h0m-2 5h0m-1-1h0m-1-5h0m0 5h0m-6-5h0m-8 5h0m-1 2h0m-2-5h0m-10 2h0m-10 2h0m0-3h0m-2 7h0m-2-3h0m-1-2h0m0 0h0m-1-4h0m0 1h0m-1 5h0m-1-3h0m-4 0h0m-4 5h0m-3 2h0m-1-7h0m-1-4h0m0 11h0m-1-2h0m-2 1h0m-6-5h0m-9 0h0m-1 4h0m-6-2h0m-9 4h0m-1 0h0m-1-6h0m-4-2h0m-3-2h0m-3 5h0m-2-1h0m-2 5h0m-3-9h0m0 8h0m-3-5h0m-6-2h0m-1 1h0m-6 0h0m-1 0h0m-6-3h0m-2 7h0m-6-1h0m-5-4h0m-5 4h0m0-1h0m-3 4h0m0 2h0m-10-11h0m-29 4h0m-38 0h0m-165 3h0m-125 8h0m144-1h0m154-2h0m1 10h0m0-5h0m24 3h0m6-4h0m9 1h0m12-3h0m18 0h0m24 5h0m3 4h0m1-3h0m2-2h0m3-6h0m14 10h0m12-8h0m0 1h0m8 2h0m2 4h0m2-4h0m0 3h0m0-2h0m1 0h0m2-4h0m3 9h0m0-9h0m6 7h0m2-4h0m1 4h0m2-4h0m0-1h0m7 5h0m2-4h0m1 0h0m5-1h0m3 7h0m1-9h0m2-2h0m0 1h0m1 5h0m4 3h0m4-3h0m2 3h0m2 0h0m6-1h0m5 1h0m5 0h0m4-2h0m5-7h0m1 0h0m4 9h0m5 0h0m1 1h0m3-10h0m2 7h0m3-5h0m4 1h0m3 7h0m10-5h0m7 2h0m1-4h0m3 1h0m1 0h0m0 1h0m13-2h0m7 8h0m1-3h0m5-8h0m12 7h0m9-3h0m1-1h0m25 2h0m13-1h0m6 7h0m5-8h0m11 6h0m0-2h0m-17 10h0m0-1h0m-16 7h0m-2-2h0m-15-4h0m-4-5h0m-6 11h0m0-9h0m-24 8h0m-1 1h0m-3-10h0m-5 10h0m-8-6h0m-2-5h0m-11 9h0m-8-7h0m-11 3h0m0-5h0m-1 0h0m-2 10h0m-2 1h0m-1-3h0m-2-7h0m-4 6h0m-2 1h0m-2-3h0m-7 1h0m-4 3h0m-3-9h0m-1 5h0m-1 4h0m-7 2h0m-2-5h0m-4 0h0m-1-1h0m-2-1h0m-3-2h0m-6 2h0m-3 2h0m-4 0h0m-4-3h0m-3 0h0m-1-1h0m-1 7h0m-2 2h0m0-7h0m-1-4h0m-3 1h0m-2 2h0m-6 5h0m0-2h0m-5-1h0m-1-2h0m-2 7h0m-2-3h0m-2-2h0m-3 1h0m-2-3h0m0-1h0m-3 7h0m0 2h0m-1-8h0m-3 6h0m-2-7h0m-3 3h0m-3 2h0m-5 1h0m0-4h0m-4 4h0m-2 0h0m-3-3h0m0-5h0m-2 2h0m-3 7h0m-5-7h0m-4 8h0m-3-7h0m-1 7h0m-13-8h0m-7 7h0m-1-7h0m-2 1h0m-1 6h0m-7 1h0m-3-2h0m-1 0h0m-2-2h0m-13 2h0m-18-3h0m-6-5h0m-1 10h0m-4-7h0m-4 5h0m-14 1h0m-37-2h0m-7 3h0m-39-9h0m-43 7h0m-122 15h0m180-2h0m34-7h0m5 2h0m41 3h0m3-4h0m3 7h0m4 0h0m6-3h0m4-6h0m0 4h0m3 4h0m7-4h0m10 2h0m5-1h0m1 2h0m0-2h0m1-1h0m22 6h0m0-10h0m1 7h0m4-8h0m5 7h0m5 2h0m1-8h0m7 4h0m5 4h0m2-8h0m4 7h0m8-8h0m0 4h0m7 4h0m0-3h0m1 2h0m1 4h0m1-6h0m2 6h0m3-3h0m2 2h0m1-6h0m0 0h0m3 3h0m1 1h0m9 3h0m2-4h0m1-5h0m1 3h0m2-3h0m3-2h0m3 3h0m4-3h0m3 2h0m1 2h0m0-4h0m1 7h0m1-7h0m6 4h0m1-4h0m2 6h0m1-6h0m0 2h0m6 9h0m1-5h0m0 1h0m1-6h0m8 2h0m0 1h0m5-2h0m3 2h0m6-3h0m2 4h0m2-1h0m1 0h0m3-4h0m2 6h0m3 2h0m5-8h0m11 7h0m2 1h0m0 1h0m5-1h0m4-5h0m4 2h0m1-1h0m2 0h0m11-1h0m0 4h0m2-2h0m7 5h0m2-2h0m3 3h0m14-2h0m5-4h0m2 2h0m9-2h0m4-2h0m10-1h0m3 1h0m3 3h0m9 2h0m12 0h0m5-3h0m20 16h0m-8 0h0m0 1h0m-40-9h0m-3 6h0m-23-4h0m-6 1h0m-10 2h0m-4-4h0m-1 0h0m0 8h0m-7 0h0m-1-5h0m-3-4h0m-10 8h0m-4-3h0m-2 3h0m-2-6h0m-1 2h0m-5 2h0m-1-6h0m-2 7h0m-4 3h0m-6 0h0m-2-10h0m-1-1h0m-11 2h0m-5 6h0m-1-8h0m-1 7h0m0 2h0m-4-7h0m-3 6h0m-3-4h0m-4 1h0m-2 5h0m-5-7h0m-1 5h0m-3 2h0m-1-7h0m-4 2h0m0 5h0m-4 1h0m-1-11h0m-1 4h0m-13-3h0m-3 10h0m-3-4h0m-8-2h0m-2 2h0m0 3h0m-1-2h0m0 1h0m-3-6h0m0 3h0m-3-3h0m-2 0h0m-5 8h0m-4-3h0m-1-7h0m-6-1h0m-2 9h0m-1 2h0m-1-8h0m0 7h0m-3-8h0m-1 5h0m-1-1h0m-1 1h0m0 3h0m0 1h0m-18-6h0m-2-4h0m-6 6h0m-2-5h0m0-2h0m-2 0h0m-1 3h0m-2 6h0m-3-4h0m-4-2h0m-1-3h0m-1 5h0m-7 3h0m0-1h0m0-6h0m-4 0h0m-7 4h0m-7 4h0m0 0h0m-3-5h0m0-1h0m-2-3h0m0 0h0m-26 0h0m-13 11h0m-2-1h0m-12-7h0m-4 0h0m-4-1h0m-13 9h0m-16-6h0m-19 0h0m-12-1h0m-87-2h0m-6 1h0m-163-3h0m100 14h0m15 0h0m40 1h0m137 6h0m5-1h0m6 0h0m14 0h0m12-6h0m30 0h0m7 6h0m4-2h0m8 5h0m9 0h0m6-10h0m7-1h0m7 3h0m7-3h0m2 6h0m1 0h0m2-6h0m5 11h0m8-3h0m8 2h0m0-3h0m3 3h0m0-10h0m4 10h0m1 1h0m1-2h0m3-3h0m1-1h0m0 4h0m0 1h0m1-1h0m6 0h0m1 0h0m1-2h0m0-2h0m13-2h0m1 3h0m3 4h0m1-9h0m2 4h0m2-5h0m3 10h0m0 1h0m0-3h0m1 2h0m0-2h0m2-1h0m1-6h0m0 3h0m0 5h0m3-1h0m2 1h0m1-8h0m2 5h0m0-4h0m3 6h0m5-7h0m0 2h0m1 2h0m1 3h0m5 1h0m1-7h0m6 5h0m7-1h0m1-6h0m1 6h0m1-4h0m9 5h0m1 2h0m1 1h0m1-4h0m0-4h0m3 9h0m6-7h0m0-3h0m1 0h0m1 2h0m0-2h0m2 2h0m0-2h0m3 9h0m1-1h0m4 0h0m3-7h0m2 8h0m2-1h0m1-7h0m1 6h0m3 1h0m1-6h0m0 3h0m4-5h0m1 2h0m11 5h0m7-6h0m3-1h0m3 0h0m2 8h0m14 2h0m6-9h0m0-1h0m1 0h0m6 6h0m1-4h0m3-1h0m2 1h0m2 7h0m12-6h0m2 3h0m11 1h0m22-6h0m22 18h0m-9-3h0m-4-4h0m-12 8h0m-5-1h0m-8 0h0m-18-5h0m-8 7h0m-6-9h0m-6 8h0m-6-8h0m-9 10h0m-3-8h0m-2 2h0m-6 5h0m-2-9h0m-4-1h0m0 4h0m-9-4h0m0 11h0m-3-3h0m-3-7h0m-3-1h0m0 9h0m-1-3h0m-1-6h0m-4 8h0m-1-3h0m-9-1h0m-1-3h0m-6 4h0m0-3h0m0 8h0m-2 0h0m-6-4h0m-2 2h0m-1-3h0m-3-5h0m-2 10h0m-2-10h0m-2 11h0m0-6h0m-1 6h0m-1-9h0m-1 2h0m-1 3h0m-2-3h0m-1 2h0m-3 1h0m-1 3h0m-5-10h0m-1 7h0m0-4h0m-1-1h0m-6-2h0m-1 8h0m0 0h0m-1-1h0m-4-5h0m-1 9h0m-1 0h0m-1-11h0m-3 6h0m-3-4h0m0-2h0m0 8h0m-1-3h0m-1-5h0m-1 11h0m-1-5h0m-2 2h0m-5-8h0m-2 1h0m-2 5h0m-2-2h0m-1-1h0m-1 5h0m0-2h0m0-3h0m-2-3h0m-2 1h0m-3 9h0m-2-7h0m0-3h0m-2 3h0m-7 6h0m-4 2h0m0-4h0m-1-2h0m0-1h0m-1 1h0m-1 6h0m-3-3h0m-18 1h0m-1 2h0m-1-3h0m-2-1h0m-1 0h0m-1 0h0m-4-7h0m0 1h0m0 7h0m-1-6h0m-4 0h0m-7-1h0m-4 8h0m-3-2h0m-1 2h0m-1-5h0m-2 6h0m-5-4h0m-6 5h0m-2-6h0m-1-1h0m-11-1h0m-8 3h0m-2-2h0m-19 0h0m-11-1h0m-37-3h0m-14 10h0m-111-8h0m35 12h0m21 2h0m31 3h0m45-7h0m1 4h0m21 5h0m14-6h0m12-1h0m4 1h0m0 0h0m4-1h0m1 7h0m0-5h0m1-1h0m4 3h0m3 0h0m3 4h0m13-2h0m1 1h0m4 2h0m7 0h0m3-7h0m3 4h0m4-6h0m0 9h0m1 0h0m3-2h0m2-8h0m0-1h0m1 4h0m7 4h0m1-3h0m1-2h0m0 8h0m1-3h0m5 2h0m2-4h0m2 4h0m1-10h0m2 0h0m1 2h0m1 4h0m0-5h0m1 6h0m14-5h0m1-1h0m1 0h0m2-1h0m1 1h0m0 8h0m1-2h0m2 2h0m1 0h0m3-9h0m2 5h0m1-3h0m0 4h0m3 4h0m5-2h0m0-7h0m0 8h0m1-6h0m2 0h0m0-3h0m0 4h0m2 3h0m1-6h0m4-1h0m4 2h0m3-2h0m1 7h0m2 4h0m2-1h0m0-5h0m1 4h0m0 2h0m1-3h0m1 3h0m0-11h0m0 5h0m2 3h0m0 3h0m2-5h0m1-6h0m4 5h0m3-4h0m0 0h0m2-1h0m1 10h0m0-5h0m0 0h0m1 0h0m1 2h0m2-3h0m0 7h0m0-8h0m1-2h0m3-1h0m4 10h0m0-4h0m1 0h0m1-1h0m0 3h0m1 3h0m4-7h0m2 3h0m2-6h0m6 10h0m1-7h0m1-1h0m8-3h0m3 6h0m3 1h0m2-4h0m0 8h0m5-9h0m1 7h0m0-1h0m4 1h0m3 2h0m3-6h0m1-2h0m11 4h0m1-6h0m24 7h0m1-6h0m0 9h0m2-1h0m1-2h0m7-2h0m5-1h0m2 5h0m9-3h0m13 1h0m4 0h0m3 3h0m9-8h0m15 8h0m12-4h0m-30 5h0m-7 2h0m-5 2h0m-3-1h0m-11 6h0m-3-9h0m-11 7h0m-8-4h0m-23-2h0m-26 1h0m-1 9h0m-2-1h0m-3-5h0m-4 3h0m-1-5h0m-2 8h0m-2-8h0m-3 7h0m-3-2h0m-1 1h0m-3 1h0m-2-6h0m0 3h0m-1-6h0m-3 10h0m-1 0h0m-7-7h0m-1-4h0m-5 1h0m-5 3h0m-1 4h0m-1-1h0m0 4h0m0-4h0m-1 1h0m-2 3h0m-1-3h0m-1-3h0m-1 2h0m-5 4h0m-3-11h0m-2 10h0m-1-6h0m0 5h0m-1 0h0m-1-8h0m-1 5h0m-1 3h0m-3-9h0m-3 2h0m-1 8h0m-1-1h0m-2 2h0m-1-8h0m-1 7h0m-1-7h0m-1 5h0m-3-2h0m-2 3h0m-1-5h0m-1-3h0m0 10h0m-2-1h0m-1-1h0m0-2h0m-5 4h0m-1 0h0m-1-5h0m-8 4h0m0 0h0m-1-5h0m0-1h0m-1 5h0m0 2h0m-3-7h0m-2 0h0m-7 3h0m-1-4h0m0 8h0m-1-10h0m-1 1h0m-1 1h0m-1 3h0m-2 2h0m-8-2h0m-1 2h0m-3-1h0m0-3h0m-1 4h0m-2-2h0m0-2h0m-3 4h0m0-6h0m-7-2h0m-1 10h0m-2-3h0m-1-7h0m0 4h0m-1 3h0m0-1h0m-5-4h0m-4 4h0m0 4h0m0-3h0m-4 0h0m0-6h0m-6 6h0m-1-7h0m-7 3h0m-1 8h0m-10-8h0m-4 6h0m-3-4h0m-2-5h0m-4 6h0m-16 0h0m-7-6h0m-2 9h0m-2-9h0m0 0h0m-4 2h0m-6 5h0m-20 3h0m-35-7h0m-42 6h0m-30-7h0m-3 6h0m-23-5h0m-69-2h0m-5 8h0m-1-8h0m-14 6h0m-59 0h0m141 15h0m45-9h0m8 8h0m13 2h0m3-1h0m7-10h0m19 2h0m10 0h0m5 8h0m8 0h0m2-9h0m1 5h0m17-2h0m9 6h0m7-9h0m18 4h0m15-3h0m1 6h0m6-4h0m1 3h0m1-1h0m2-4h0m2 0h0m1 7h0m6-1h0m10-1h0m6 2h0m4-5h0m14 0h0m5 1h0m0 6h0m1-9h0m2 2h0m4-1h0m0-2h0m1 7h0m4-7h0m0 4h0m4 0h0m0-1h0m4 2h0m1-2h0m0 5h0m1 0h0m2-1h0m4 1h0m2-3h0m2 2h0m3-7h0m1 3h0m4 2h0m4 5h0m0-11h0m2 1h0m1 5h0m2-3h0m1 0h0m1-1h0m0 3h0m0-2h0m0 3h0m1-4h0m1 4h0m1-5h0m0 5h0m3-5h0m0-1h0m1 3h0m0 3h0m1 0h0m2 1h0m1 0h0m0 2h0m1-3h0m1-4h0m2 8h0m0-2h0m2 0h0m2 1h0m0 0h0m0-6h0m0-1h0m0 8h0m0-7h0m1 6h0m0-3h0m1 4h0m1-8h0m5 6h0m0-8h0m1 5h0m2-1h0m0 2h0m2-6h0m0 6h0m2-3h0m1 8h0m0-6h0m1 4h0m2-4h0m0-4h0m3 4h0m3 3h0m0-2h0m2 3h0m4-5h0m1 4h0m1 3h0m0 0h0m2-1h0m3-2h0m1 3h0m0-1h0m1-1h0m1-2h0m0-1h0m1 3h0m0-1h0m1-4h0m0 6h0m1-3h0m1-3h0m2 5h0m1-1h0m1 3h0m1-4h0m3-2h0m1-4h0m5 9h0m3-3h0m1-6h0m0 8h0m7-3h0m1-2h0m3 3h0m1-6h0m5 3h0m0-4h0m4 4h0m3-4h0m0 10h0m2-5h0m1 3h0m1 1h0m3-2h0m2-2h0m2 1h0m0-5h0m2 2h0m6 2h0m1-3h0m4 3h0m11-1h0m3 4h0m13 0h0m6-2h0m4 0h0m11 1h0m6 3h0m1-3h0m3-2h0m2-3h0m17 7h0m1-7h0m12 5h0m7 3h0m9-10h0m14 10h0m-9 12h0m-5-4h0m0 2h0m-1-4h0m0-4h0m-18 11h0m-7-11h0m-7 2h0m-4 8h0m-8-3h0m-14 1h0m-2-1h0m-7 2h0m-11 0h0m-4-6h0m-3 2h0m-6 1h0m-4-6h0m-1 5h0m-6-2h0m-7 6h0m0-2h0m0-7h0m0 3h0m-1 1h0m-2 4h0m-7-4h0m-8 4h0m-2-1h0m-1-7h0m-1 8h0m0 1h0m-2 2h0m-1-5h0m-5-2h0m-1 5h0m-1-3h0m-1 5h0m-1-9h0m0 5h0m-1-1h0m-1 2h0m-4-1h0m0-6h0m-2-1h0m-7 4h0m-2 2h0m-5-4h0m0 7h0m-1-7h0m-1 1h0m-4 7h0m-3 1h0m-6-8h0m0-1h0m-2-1h0m-1 1h0m-3-2h0m0 8h0m-1-2h0m-3 5h0m-1 0h0m0-4h0m0 0h0m-1-7h0m-3 1h0m0 0h0m0 1h0m-2 9h0m0-2h0m-2 2h0m0-11h0m-1 7h0m-2-6h0m-3 3h0m-1 3h0m-1-5h0m-1 6h0m0 0h0m-2-8h0m-3 6h0m-1-1h0m-1-1h0m-1 5h0m-1-1h0m-2 3h0m-5-9h0m-2 1h0m-2 6h0m0-7h0m0 5h0m-3-7h0m-1 3h0m0 1h0m-1-3h0m0 7h0m-2 3h0m-4 0h0m-1-9h0m-1 8h0m-3-6h0m-2 4h0m0-7h0m-6 6h0m0-2h0m0-2h0m-2 3h0m-2 0h0m-1 3h0m-3-3h0m-2-6h0m-1 7h0m-1 4h0m-1-9h0m-1 9h0m-3-4h0m0-5h0m-2 2h0m-1 7h0m-1-1h0m0-6h0m0 2h0m0-4h0m-3 6h0m-2-5h0m-5-2h0m-13 8h0m-4-5h0m-1 7h0m-3-8h0m0-2h0m-5 4h0m-2-4h0m-3 6h0m-4 3h0m-3-4h0m-7-3h0m-5 6h0m0-4h0m-11 0h0m-1-2h0m-1-2h0m-4 4h0m-1 6h0m-10-3h0m-13-1h0m-12 2h0m-7 2h0m-5-6h0m-8 3h0m-2-1h0m-6-6h0m-23 10h0m-50-4h0m-23 2h0m-7-8h0m-46 2h0m-154 6h0m12 7h0m1 0h0m136-4h0m17 10h0m11 0h0m64-10h0m12 9h0m40-3h0m2 1h0m32-7h0m9 10h0m1-5h0m4-2h0m5 3h0m3 0h0m20-2h0m0 1h0m1 2h0m9-4h0m1 6h0m0-8h0m1 6h0m7 4h0m1-9h0m5 8h0m5 0h0m8-9h0m5 8h0m2 2h0m5-5h0m2 0h0m1 3h0m8-5h0m0 4h0m0-7h0m3 8h0m0-6h0m3-3h0m1 0h0m1 10h0m1-4h0m1 4h0m1-8h0m1 2h0m0 4h0m1-2h0m0-3h0m1 7h0m0-7h0m0 7h0m1-5h0m3-5h0m0 7h0m2-3h0m5 5h0m1-6h0m1 7h0m1 1h0m4-1h0m1-2h0m1 1h0m2-2h0m1-7h0m0 5h0m1 2h0m1 4h0m0-1h0m0 1h0m2 0h0m0 0h0m0-4h0m0 2h0m1-2h0m1-3h0m3 1h0m3 6h0m2-5h0m0 0h0m3 0h0m0 2h0m1-8h0m0 1h0m1 5h0m1 5h0m4-2h0m2-2h0m0-6h0m0 4h0m3 5h0m0-9h0m3 3h0m2 7h0m5 0h0m0-5h0m3-2h0m0-4h0m3 4h0m0-2h0m1 3h0m1 4h0m2 0h0m2-6h0m0-3h0m0 11h0m0-8h0m0 0h0m0 7h0m0-3h0m0 1h0m2-8h0m0 8h0m2-7h0m0 1h0m4 3h0m1 2h0m2-1h0m0 4h0m0 1h0m1-7h0m1-1h0m4 3h0m1-2h0m2-1h0m0 6h0m1-1h0m0-8h0m2 0h0m0 1h0m3 1h0m1 1h0m0-1h0m2-1h0m1 3h0m1 4h0m1-6h0m1 1h0m2 6h0m1 2h0m1-1h0m5-4h0m1 2h0m1 0h0m1-7h0m1 4h0m16 2h0m1 3h0m1-4h0m3-6h0m0 6h0m2-3h0m7 1h0m2 1h0m2 0h0m2 0h0m2 6h0m6-1h0m3-8h0m1 6h0m4-8h0m3 0h0m0 7h0m25-1h0m4-5h0m10 9h0m1-1h0m5-4h0m12 0h0m7 0h0m1 4h0m6-1h0m10-5h0m8 8h0m17-4h0m7 1h0m-16 11h0m-20-5h0m0 1h0m-17-1h0m-28 4h0m-3 5h0m-3 0h0m-8-2h0m-2-3h0m-15 2h0m-6 2h0m-8-6h0m-2-2h0m-7 5h0m-1 2h0m-5-3h0m0-6h0m-1 6h0m-2 2h0m0-2h0m-3 0h0m-2 3h0m-1-9h0m-3 3h0m-1 4h0m-1-2h0m-3-1h0m-3 3h0m-2 1h0m0 0h0m0-8h0m0 0h0m-1 1h0m-1 9h0m-1 1h0m-2 0h0m-1-5h0m-1 5h0m-1-4h0m-2 0h0m-1-6h0m-3 10h0m-1-1h0m-1-2h0m-1-4h0m0 3h0m-1-3h0m-2 4h0m-1 2h0m-2-10h0m0 7h0m0-6h0m-2 8h0m-2 0h0m-1-8h0m-2 4h0m-3 4h0m-1-5h0m0-1h0m-4 6h0m-1-8h0m0 4h0m-1-1h0m0 1h0m-1 3h0m0-3h0m-1 5h0m0 1h0m-1-10h0m-1 2h0m0 0h0m-1-2h0m0 8h0m-1-7h0m0 0h0m0 4h0m0-6h0m-2 10h0m-2-3h0m-2-1h0m0 0h0m-1 1h0m-3 4h0m0-4h0m0 3h0m-1 1h0m-1 0h0m-2-11h0m0 3h0m-1 6h0m-2 1h0m-2-8h0m0 7h0m-1 0h0m-1-6h0m-2 2h0m0-4h0m-1 7h0m0-4h0m0-4h0m0 2h0m-1 1h0m0 4h0m-2-1h0m0 4h0m-5-7h0m-4 4h0m-2-7h0m-2 8h0m0 2h0m0-4h0m-4-4h0m-1-1h0m-1 6h0m0-6h0m-4-1h0m0 11h0m-1-8h0m0 5h0m-3-6h0m0-2h0m-1 4h0m0-4h0m0 11h0m-1-11h0m0 9h0m-3-1h0m0 0h0m-2-1h0m0-3h0m0 1h0m0 1h0m-3-4h0m0 9h0m-2-5h0m0 1h0m0-4h0m-1-2h0m0 1h0m-3 3h0m-2-5h0m0 9h0m0 2h0m0-11h0m0 4h0m-1 4h0m-2 1h0m0-2h0m-1 1h0m-1-1h0m-3 4h0m0 0h0m-7-2h0m0-2h0m-1-4h0m0 0h0m0-2h0m-3 6h0m-1-6h0m-2 4h0m-3-5h0m-1 3h0m0 8h0m-2-7h0m0-1h0m0 8h0m-1-8h0m-4 1h0m0 7h0m-1-11h0m-7 5h0m-1 4h0m-3-3h0m-6 2h0m-3-3h0m-1 1h0m-7 1h0m-3-1h0m-10-2h0m-1 2h0m-1-4h0m-2 1h0m-2-2h0m-2 2h0m-10 8h0m-14-4h0m-5-6h0m-1 10h0m-3-10h0m-22 4h0m-4 0h0m-3 6h0m-4-1h0m-19-7h0m-5 6h0m-1-1h0m-12-8h0m-23 5h0m-33-1h0m-90 5h0m-84 7h0m219-4h0m86 1h0m5 3h0m16-3h0m16 3h0m16-2h0m9 1h0m9 2h0m2 0h0m0-3h0m1-1h0m1-1h0m2 3h0m1-2h0m3-1h0m3 1h0m2-1h0m11 2h0m1-1h0m1 0h0m1 4h0m5-1h0m2 0h0m4 1h0m5-2h0m1 1h0m0 0h0m0-1h0m3 0h0m13-3h0m1 0h0m2 1h0m1 4h0m2-1h0m6-3h0m1 1h0m0-2h0m3 1h0m2 0h0m2-1h0m1 2h0m2 0h0m6-1h0m2 1h0m1-1h0m1 2h0m0 0h0m3 1h0m1-1h0m0-2h0m2 1h0m7-1h0m4-1h0m1 5h0m1-2h0m1-1h0m3 2h0m1-3h0m1 3h0m1-4h0m1 0h0m4 1h0m2 4h0m0-2h0m2-2h0m1 3h0m0-2h0m4-2h0m1 1h0m5 3h0m6-3h0m7-1h0m6 1h0m5-1h0m2 0h0m8 3h0m1-1h0m10 0h0m1-1h0m2 0h0m3 3h0m18-2h0m22 1h0m16-2h0m12 2h0m6-1h0m44-2h0" stroke="#3b2a6a"/><path d="M836 2133h0m-16 1h0m-22-2h0m-14-4h0m-106 3h0m-3 4h0m0 0h0m-14-3h0m-3 3h0m-19-4h0m-3-2h0m-1 1h0m0 4h0m-1-2h0m-26 3h0m-18-7h0m-22 4h0m0-1h0m-14 0h0m-2 2h0m0-2h0m-15 4h0m-4-5h0m0 5h0m-10-6h0m-1-1h0m-7 2h0m-2 1h0m0-3h0m-10 3h0m-10-1h0m-3-2h0m-4 6h0m-4 1h0m-2-5h0m0 3h0m0-5h0m-5 2h0m-5 1h0m-8 1h0m-20-3h0m-8 6h0m-17 0h0m-7 0h0m-8-6h0m-37 3h0m-2-1h0m-34 2h0m-11-5h0m-183 19h0m117-2h0m50 0h0m18-1h0m28 0h0m6-3h0m47 4h0m11-9h0m19 0h0m0 10h0m8-3h0m6-4h0m0 6h0m1-5h0m24 3h0m8-7h0m13 3h0m12 2h0m0 2h0m6-7h0m13 4h0m1 7h0m3-7h0m1-2h0m1-1h0m1 0h0m1 4h0m3 5h0m6-5h0m3-3h0m0 3h0m6 6h0m4-9h0m14 2h0m3 7h0m1-7h0m0 2h0m2-5h0m8 3h0m0 6h0m8-4h0m2-2h0m2 1h0m0-5h0m5 9h0m29-7h0m3 6h0m13 2h0m1 0h0m2 0h0m7-7h0m22 5h0m2-3h0m7-4h0m1 1h0m6 2h0m7 4h0m37-1h0m122-2h0m-44 9h0m-18-1h0m-5 10h0m-39-1h0m-10-7h0m-39-3h0m-7 1h0m-13 10h0m-6-10h0m-29 2h0m-3-2h0m-3 8h0m-1 0h0m-23-2h0m-4-1h0m-1 3h0m-9 0h0m-3-4h0m-2-2h0m0-3h0m-5 9h0m-10-6h0m-5 8h0m-3-2h0m-4-4h0m-1 3h0m-2 0h0m-5-1h0m-1-3h0m-6 0h0m0 1h0m0 5h0m-19-10h0m-8 6h0m-3-5h0m-5 5h0m0-5h0m-3 1h0m-4 4h0m-1 0h0m-2-3h0m-9 4h0m-13 2h0m-2-7h0m-35 6h0m-22 3h0m0-2h0m-2-6h0m-16-3h0m-1 4h0m-4 1h0m-2-4h0m-18 6h0m-35-2h0m-16-5h0m-10 4h0m-9 3h0m-7-2h0m-133-4h0m-27 9h0m57 5h0m41-1h0m9-2h0m21 1h0m51 0h0m34 10h0m25-3h0m5 2h0m15-2h0m2-2h0m0 0h0m11 1h0m6 0h0m2 4h0m7-7h0m0 5h0m2-5h0m2 1h0m38-2h0m2 8h0m16-2h0m1-4h0m4-1h0m0 4h0m9 0h0m7-5h0m7-3h0m8 1h0m1 4h0m11-5h0m2 10h0m8-7h0m11 2h0m2 4h0m2-2h0m3 2h0m1-9h0m0 9h0m6-2h0m6 2h0m12-3h0m7 5h0m11-9h0m1 8h0m5-5h0m2 5h0m1-7h0m1 4h0m3-7h0m2 4h0m0 4h0m12-1h0m3-1h0m6-5h0m1 3h0m1 6h0m7 1h0m8-1h0m5 0h0m9-9h0m23 4h0m18 4h0m36-1h0m73-7h0m3 10h0m20 2h0m-139 6h0m-14 4h0m-7-10h0m-21 7h0m-7-5h0m-11 5h0m-5-6h0m-4 5h0m-3 0h0m-7-7h0m-2 5h0m-13 3h0m-1 2h0m-1-6h0m-2 1h0m-3-3h0m-3 4h0m-3 1h0m-1 3h0m-3-6h0m-1-4h0m-1 4h0m-2 4h0m0 2h0m-1-5h0m-2-3h0m-3 9h0m0-8h0m-3-1h0m-20 3h0m-4 4h0m-3-8h0m0-1h0m-1 1h0m-4 0h0m-10 8h0m-4 2h0m-3-1h0m-1-7h0m-11 0h0m-3 1h0m-5-4h0m-1 5h0m-5 4h0m-2-6h0m-2 1h0m-9-2h0m-3 5h0m-2-2h0m-5 5h0m-1-6h0m-1-2h0m-1 9h0m-11 0h0m-13-6h0m-2-5h0m0 3h0m-3 3h0m-3-2h0m-17 1h0m-1-5h0m-3 2h0m-9 0h0m-5 2h0m-6-2h0m-8 9h0m-11-10h0m-29 8h0m-5 1h0m-13-5h0m-19 1h0m-1 2h0m-21-1h0m-31-3h0m-19 2h0m-5-5h0m37 17h0m41-2h0m83-3h0m23 6h0m0-5h0m24 4h0m24-3h0m1 3h0m18 3h0m7-6h0m1-2h0m4-1h0m9 7h0m5-5h0m2 9h0m2-1h0m8-1h0m1 1h0m2-7h0m0 3h0m9 4h0m2-9h0m0 8h0m4 0h0m5-9h0m3 11h0m0-7h0m5-1h0m2-1h0m2 1h0m9-3h0m9 2h0m1 1h0m1 6h0m3-6h0m0 3h0m1-5h0m3 9h0m8-5h0m7 3h0m3-2h0m7-4h0m1 4h0m8-2h0m12 7h0m13-5h0m5 1h0m2 3h0m0 1h0m9-1h0m11-3h0m3-5h0m3 6h0m21 2h0m8-5h0m112-5h0m-69 16h0m-11 0h0m-28 7h0m-6-6h0m-6 6h0m-24-3h0m-1-3h0m-7 3h0m-12 1h0m-2-2h0m-5-6h0m-5-1h0m-8 1h0m-37 3h0m-1 5h0m-3-6h0m-8 4h0m-6-3h0m-2 5h0m-3-3h0m-1-2h0m-3-3h0m-4 0h0m0 6h0m-2-5h0m-8 7h0m-4-3h0m-1-4h0m-2-1h0m0-1h0m-3 7h0m0 2h0m-2-9h0m-2 7h0m-4-3h0m-7-1h0m-2 7h0m-2 1h0m-3-5h0m-1-5h0m-2-1h0m0 3h0m-2-2h0m-8 0h0m-6 10h0m-2 0h0m-2-4h0m0-4h0m-2 4h0m-6 3h0m-11-7h0m-5-1h0m-2 6h0m-3-8h0m-12 4h0m-7 7h0m-8-10h0m-3-1h0m-4 0h0m-17 1h0m-2 1h0m-1-1h0m-2 6h0m-13-4h0m-7-3h0m-3 4h0m-20 2h0m-20 1h0m-4-3h0m-5-4h0m-31 0h0m-45 7h0m-14-7h0m-7 5h0m-95 1h0m-12-4h0m-25 18h0m99-3h0m77 5h0m10-9h0m4 3h0m34-3h0m25 6h0m8-2h0m31 0h0m8-1h0m13-2h0m6 4h0m2-5h0m6 0h0m25 7h0m2-5h0m0 6h0m5 1h0m4-10h0m6 2h0m1 0h0m1 1h0m0 7h0m8-1h0m1-7h0m4 4h0m7 3h0m18 1h0m0-3h0m3-5h0m1 8h0m10-7h0m0-2h0m1 7h0m18-6h0m0 8h0m2 1h0m4-9h0m4-2h0m3 6h0m0 0h0m1-1h0m1 5h0m2-9h0m9 8h0m3 0h0m2-3h0m0-4h0m14 9h0m2-6h0m1 6h0m1-11h0m26 7h0m9 2h0m5-2h0m12 1h0m2-4h0m60 0h0m18 7h0m8-6h0m19 5h0m6-4h0m0 5h0m-94 7h0m-12-2h0m-11 0h0m0 4h0m-1-2h0m0 3h0m-1-7h0m-5 0h0m-4 0h0m-4 6h0m-14-4h0m-2-2h0m-5 9h0m-5-10h0m-7-1h0m-6 4h0m-1-3h0m0 5h0m-4 5h0m-2-9h0m-8 4h0m-5-1h0m-1 3h0m-2-4h0m-3 0h0m-11 4h0m-1 0h0m-4-2h0m-2-3h0m-2 7h0m0-10h0m-1 4h0m-7 0h0m-2 1h0m-2-2h0m-1 4h0m-4-1h0m-3-3h0m0 6h0m-3-3h0m0-5h0m-8 10h0m-10-8h0m-3 3h0m-2-2h0m-7 6h0m-19-9h0m-12 6h0m-5-4h0m0 0h0m-8 5h0m-3 1h0m-2-9h0m-4 5h0m-1 4h0m-4 0h0m-8-3h0m-11 2h0m-4-8h0m0 3h0m-20-1h0m-31 0h0m-41 5h0m-2-6h0m-3 4h0m-1 1h0m-26-5h0m-2 7h0m-45-6h0m-37 8h0m-14-8h0m-87 3h0m-3 0h0m21 13h0m35-6h0m29 7h0m4-3h0m43 1h0m7-4h0m27 2h0m69 8h0m56-7h0m8-3h0m31 8h0m4-7h0m1 3h0m8-5h0m1 11h0m2-6h0m0-1h0m10-1h0m3-1h0m0 4h0m7-3h0m3-2h0m13 4h0m1 2h0m7-2h0m3-3h0m1 7h0m4-3h0m0 1h0m2-3h0m1 6h0m1 1h0m1-1h0m5 0h0m1-8h0m3 4h0m0-2h0m3 4h0m0-6h0m3 0h0m1 6h0m0-4h0m1 7h0m1-2h0m5 0h0m0-8h0m11 3h0m3-2h0m1 9h0m4-1h0m2-9h0m24 7h0m11-3h0m2 2h0m5-5h0m5 9h0m1-4h0m3-6h0m0 7h0m1-1h0m0 0h0m4 2h0m0-7h0m5 2h0m4 7h0m7 0h0m13-6h0m1-4h0m24 2h0m5 4h0m2 4h0m30-4h0m5 0h0m86-2h0m-29 8h0m-1-1h0m-65 2h0m-29 4h0m-20-3h0m-3 2h0m-15 0h0m-4 5h0m-3-4h0m-18-4h0m-1 0h0m-1 8h0m-4-4h0m-1-5h0m-4 0h0m-2 5h0m-7 2h0m-4-6h0m-3-2h0m-1 8h0m-1-5h0m-4 8h0m-2-7h0m-1-2h0m-1 5h0m-2-1h0m-3 0h0m-2-1h0m-8 3h0m-3 0h0m-1 0h0m-6-3h0m-11-4h0m-2 5h0m-9-3h0m-4 5h0m-2-3h0m-3-2h0m-7 2h0m0 6h0m-1-7h0m-2 0h0m-2 6h0m-3-3h0m-10 0h0m-1-6h0m-6 5h0m-1-4h0m-11 0h0m0 6h0m-13 1h0m-12-3h0m0 1h0m-19 3h0m-4 1h0m-4-4h0m0-3h0m0 3h0m-2 0h0m0 3h0m-4 0h0m-2-6h0m-2-2h0m-5 2h0m0-2h0m-8 2h0m-2-1h0m-3-2h0m-2 1h0m-16 3h0m-2-1h0m-7-3h0m-40 4h0m-3 5h0m-14-10h0m-61 8h0m-31-2h0m-29 4h0m-25 0h0m-51 7h0m161-3h0m133 4h0m1 1h0m4-1h0m6 3h0m0-1h0m5-2h0m3 0h0m6 4h0m8-6h0m3-2h0m7 9h0m14-9h0m2 4h0m8-6h0m1 1h0m6 9h0m2-2h0m5-6h0m6-1h0m6 7h0m2 3h0m2-2h0m2-1h0m3-7h0m7 8h0m6-7h0m1 1h0m1 8h0m1-2h0m1-4h0m15 1h0m1 1h0m0 2h0m3 0h0m1-5h0m8 5h0m2-5h0m5 5h0m1-7h0m2 4h0m4 5h0m0-9h0m0 8h0m0-1h0m3-6h0m2-3h0m2 10h0m2-8h0m3 2h0m3 1h0m1 3h0m1 3h0m1-2h0m3-6h0m10 1h0m4 2h0m5-2h0m1 7h0m3 0h0m3-6h0m9 2h0m5 2h0m0-9h0m7 11h0m12-2h0m8-5h0m5 1h0m12-1h0m11 4h0m73-8h0m-39 19h0m-38-1h0m-29-5h0m-1 0h0m-9 5h0m-7-5h0m-9 5h0m-13 0h0m-5-3h0m-2-3h0m-6 5h0m-1-4h0m-1 5h0m-8-4h0m-6-1h0m-5 10h0m-1-11h0m-3 5h0m-3-3h0m0 8h0m-3-3h0m-10 3h0m-1-2h0m-3 2h0m-1-10h0m-1 5h0m0 3h0m-1 0h0m0-5h0m-1 2h0m-2 0h0m-12 5h0m-4-1h0m-2-9h0m-18 5h0m-1-4h0m-16 5h0m-1 2h0m-3 3h0m-2-9h0m-1 3h0m-3-4h0m0 1h0m-8 3h0m-2-3h0m-6 0h0m-3 6h0m-2-6h0m-3 1h0m-2 8h0m-5-5h0m-1 3h0m-3-6h0m-6 3h0m-46 2h0m-29-5h0m-25 4h0m-2-4h0m-16-2h0m-37 2h0m-129 11h0m118-1h0m42 3h0m27 0h0m39 4h0m20-4h0m9-3h0m14 3h0m3 5h0m6-4h0m4-3h0m4 4h0m1-6h0m21 3h0m1 2h0m18-2h0m1 3h0m7-1h0m3-5h0m0 10h0m4-3h0m3-5h0m6-1h0m3 10h0m4-1h0m11-6h0m0 1h0m1 2h0m0 2h0m3-7h0m9 8h0m7-3h0m1 2h0m2-2h0m3-7h0m1 10h0m1-1h0m5 1h0m2-2h0m5-1h0m2 0h0m3 4h0m0-10h0m4-1h0m1 2h0m6 6h0m4-5h0m3 0h0m0 7h0m1-6h0m6 1h0m1-4h0m3 9h0m1-4h0m1-5h0m4 4h0m11 5h0m3 0h0m13-7h0m17 3h0m18-3h0m4-1h0m7 16h0m-4-2h0m-25 1h0m-14 3h0m-11 0h0m0 2h0m-8 1h0m0-8h0m-4-2h0m-7 2h0m-2 7h0m0-5h0m-8-1h0m-11 2h0m-2-6h0m-3 7h0m-3 1h0m-1-5h0m0 3h0m-7-1h0m-1-4h0m0 9h0m-1-10h0m-10 8h0m-15-6h0m-4 1h0m-1 1h0m-1-1h0m0 6h0m-2 1h0m-1-3h0m-3 2h0m-7-6h0m-1 4h0m-4 1h0m-2-1h0m0-5h0m0 5h0m-2-1h0m-1-2h0m-1-2h0m-2 5h0m-4-4h0m-3 3h0m-10-5h0m-2 9h0m-3-3h0m-3-3h0m-4-1h0m-6 4h0m-16-7h0m-12 0h0m-6 2h0m-8 1h0m-27 6h0m-17-7h0m-36 9h0m-38-7h0m0 3h0m-10-1h0m-5-2h0m-14-2h0m-68-1h0m-98 4h0m55 10h0m35-3h0m22 1h0m55 3h0m4 1h0m22-1h0m103-3h0m22 2h0m19 1h0m20-3h0m0 0h0m10 2h0m1-1h0m9 1h0m10 1h0m10-3h0m8-1h0m3 3h0m0 1h0m0-2h0m21 0h0m2-1h0m1 3h0m5-3h0m4 3h0m2-2h0m33 0h0m11 0h0m5-2h0m24 1h0m15 3h0" stroke="#4cba6b"/><path d="M726 2132h0m-63 3h0m-18-5h0m-9 1h0m-4-1h0m-4 4h0m-5-3h0m-3 4h0m-6-3h0m-8-2h0m-6 0h0m-13 2h0m-5-3h0m-9 5h0m-5 1h0m0-4h0m-3 3h0m-29-1h0m-5-1h0m-8-1h0m-1 0h0m-3 3h0m0 1h0m-2-3h0m-9 0h0m-12-4h0m-14 4h0m-18 2h0m-22-1h0m-3-4h0m-12-1h0m-1 5h0m-3 1h0m-9-6h0m-80 2h0m-7 0h0m-209 8h0m136 8h0m94-8h0m33 1h0m21 5h0m53-4h0m7 1h0m2-1h0m3-2h0m1-2h0m3 2h0m9-1h0m13 2h0m21 7h0m1-3h0m3-7h0m5 10h0m0 1h0m5-3h0m1 3h0m1-7h0m14 0h0m5-3h0m11 3h0m3-3h0m17 2h0m2 0h0m4 3h0m0-6h0m3 1h0m18 2h0m1 4h0m8-3h0m8 3h0m5 3h0m39-10h0m24 1h0m16 5h0m25-2h0m8 6h0m12-3h0m24-1h0m37-1h0m-19 11h0m-41-4h0m-26 3h0m-36 3h0m-21 0h0m-9 4h0m-25 0h0m-3 0h0m0-10h0m-1 0h0m-1 0h0m-4 1h0m-10 3h0m0 0h0m-4 4h0m0 1h0m-7 1h0m-1-3h0m-1-7h0m-16 2h0m-2 7h0m-3-2h0m-11 2h0m-5-1h0m-1-5h0m-5 0h0m-3 8h0m-2-8h0m-7 0h0m0 4h0m-5 3h0m-6-7h0m-3 4h0m-4 2h0m0-1h0m-1 2h0m-14 1h0m-8-5h0m-19-4h0m-8 3h0m-1-3h0m-8 7h0m0 0h0m-2-8h0m-13 4h0m-5-2h0m0 0h0m-1 3h0m-28-6h0m-3 6h0m-7 4h0m-4 0h0m-21-2h0m-32-4h0m-7-3h0m-44 3h0m-128-4h0m0 10h0m-65 3h0m21 1h0m5 3h0m148 0h0m54 6h0m8-8h0m1-2h0m25 10h0m11-3h0m59 2h0m4-6h0m5 3h0m13 4h0m3-1h0m1-2h0m0 2h0m8 1h0m6-3h0m4 1h0m3-8h0m6 4h0m1-5h0m3 2h0m21-2h0m1 4h0m11 3h0m0-1h0m6-3h0m4 4h0m2-7h0m6 3h0m3 5h0m5-8h0m9 4h0m2 3h0m13 0h0m10-7h0m5 2h0m5 1h0m2 1h0m2-3h0m2 7h0m10-5h0m3 1h0m10-3h0m5 4h0m19-5h0m2 2h0m1 1h0m19 0h0m23 1h0m6 6h0m8-6h0m53-2h0m47 19h0m-69-4h0m-51 0h0m0-2h0m0 6h0m-30 1h0m-10-7h0m-5 7h0m-4 0h0m-15-5h0m-6 0h0m-2 4h0m-2-3h0m-5 5h0m-2-11h0m-2 1h0m-1 9h0m-9-6h0m-2-2h0m-2-2h0m-4 1h0m-7 8h0m-20 1h0m-10-3h0m0 3h0m-12-8h0m-8 2h0m-1 1h0m-3 0h0m-7 1h0m-4 1h0m-26 2h0m-5-4h0m-1 6h0m-5-5h0m-4 5h0m-4-7h0m-5 1h0m-2 1h0m-14 1h0m-5 0h0m-4-2h0m-6 2h0m-1-6h0m-6 9h0m-23-6h0m-15 1h0m-12 2h0m-11 2h0m-70-6h0m-164 1h0m-3 17h0m113-2h0m34-7h0m33 0h0m24 7h0m94-3h0m6-1h0m9-3h0m25 8h0m3 1h0m5 0h0m16-3h0m18 0h0m7 1h0m5 0h0m0 1h0m2 1h0m2 1h0m1-4h0m3-2h0m3-2h0m2 7h0m18-6h0m5 1h0m0-2h0m15-1h0m0 10h0m7-2h0m21 0h0m5-9h0m1 5h0m5-3h0m7-1h0m8 2h0m3 2h0m8 4h0m14 0h0m1-3h0m1 4h0m5-7h0m1-3h0m31 6h0m14-3h0m3 1h0m5 0h0m22 18h0m-15 1h0m-12-4h0m-10-2h0m-17-1h0m-39 2h0m-14 1h0m-5-1h0m-9-4h0m0 6h0m-6-2h0m-7-2h0m-5 6h0m0-3h0m-6 4h0m-1 0h0m-1-8h0m-12 7h0m0-6h0m0 4h0m-6 0h0m0 1h0m0-2h0m-18-2h0m-3-1h0m-11-3h0m-8 1h0m-2 5h0m-2 3h0m-1-4h0m-2 2h0m-8-6h0m-11-1h0m-9 6h0m-4 2h0m-19 1h0m-3-2h0m-5-7h0m-1 3h0m-14 6h0m-18-9h0m-3 9h0m-3-7h0m-2 6h0m-58-3h0m-19 3h0m-122-1h0m-121 0h0m104 11h0m97-6h0m6 5h0m25-1h0m1-4h0m80 0h0m10 7h0m5-7h0m20 1h0m0 0h0m9 0h0m3-1h0m3 7h0m8-8h0m18 4h0m2-3h0m8 0h0m0 8h0m2-9h0m1 6h0m1-6h0m7 10h0m4-7h0m0 0h0m0-2h0m0 6h0m6 4h0m7-5h0m0 1h0m0-7h0m2 10h0m2-5h0m2 2h0m3-1h0m4 4h0m3-10h0m6 8h0m1 3h0m4-9h0m3 9h0m3-3h0m21-4h0m12 0h0m7 3h0m11 0h0m7 4h0m9-4h0m5 4h0m1 0h0m1-10h0m4 5h0m8 4h0m5-4h0m10-1h0m2-5h0m7 8h0m55-3h0m2 5h0m1-9h0m113 11h0m-163 1h0m-28 5h0m-6-6h0m-2 10h0m-3-1h0m-12-1h0m-5-2h0m-1-5h0m-6 4h0m-11-3h0m-15-2h0m-13 4h0m-6 7h0m-11-5h0m-3-5h0m-18 0h0m-6 7h0m-11 2h0m-2-3h0m-11 4h0m-5-4h0m-9 2h0m-1-3h0m-10-4h0m-3 6h0m-1-1h0m-7 2h0m-3-3h0m-7 2h0m-36-6h0m-5 1h0m-13-1h0m-4 1h0m-5-2h0m-2-1h0m-26 6h0m-45 1h0m-123 2h0m-60 12h0m251-9h0m3 8h0m35 0h0m5 1h0m32-2h0m16-1h0m14 4h0m9-7h0m9 0h0m1 7h0m4-5h0m2 4h0m1-2h0m2-5h0m4-1h0m2 7h0m2-6h0m1-2h0m1 10h0m4-6h0m3 6h0m4-4h0m6-2h0m3 5h0m1-3h0m0-6h0m4 6h0m5 4h0m6-9h0m9 6h0m0 1h0m66-4h0m2-2h0m25 5h0m2 4h0m32-10h0m47 18h0m-30-7h0m-50 9h0m-23-5h0m-21 1h0m-3 6h0m-31-7h0m-22-3h0m-2 8h0m-8 0h0m-8-8h0m-6 5h0m-3 0h0m-1 2h0m-15 1h0m-3-3h0m-5-1h0m-10 3h0m-9-6h0m-2 2h0m-15 6h0m-6-1h0m-34-4h0m-4 0h0m-8-3h0m-5 6h0m-15-1h0m-7-1h0m-5-5h0m0 1h0m-143 9h0m-116-2h0m-4-8h0m36 12h0m65 3h0m29-2h0m5 3h0m57 3h0m15-1h0m66 0h0m25-4h0m26 5h0m7 3h0m1-3h0m20-3h0m5 1h0m1-3h0m1-1h0m1-1h0m4-1h0m4 8h0m2-8h0m5 4h0m1-1h0m7 5h0m1 3h0m1-10h0m3-1h0m6 0h0m7 2h0m2 2h0m0 2h0m2 3h0m7-2h0m10-5h0m14 7h0m3-7h0m12 5h0m16 3h0m12-7h0m2 2h0m2-4h0m10 10h0m21-6h0m2-2h0m2 1h0m15 7h0m7 0h0m0 0h0m-7 2h0m-14 1h0m-21 4h0m-19-6h0m-8 10h0m-3 1h0m-3 0h0m-3-10h0m-3 6h0m-3-5h0m-9 8h0m-4 0h0m0-6h0m-3 2h0m-4-5h0m-2 1h0m-3 2h0m-7 1h0m-8 2h0m-9-5h0m0 4h0m-5 3h0m-4-6h0m-6 0h0m-3-1h0m-3 3h0m-3-5h0m-5 8h0m-13-3h0m-10-1h0m-7 2h0m-1-5h0m-3 4h0m-8 6h0m-1-9h0m-12-2h0m-48 2h0m-59 6h0m-25 0h0m-25-2h0m-197 15h0m109-5h0m73 5h0m3-2h0m16 0h0m50-6h0m7 7h0m2 3h0m16-8h0m32 2h0m21 5h0m2-3h0m45 3h0m23-9h0m1 2h0m2-1h0m5 6h0m11 2h0m16-4h0m8-2h0m1-4h0m1 0h0m13 10h0m1 0h0m1-5h0m11-1h0m6-1h0m0 1h0m10-1h0m6 5h0m2-1h0m10 1h0m1-1h0m0 1h0m6 2h0m6 1h0m3-4h0m2 2h0m9 1h0m9-2h0m14 1h0m1 4h0m-10 7h0m-8-5h0m0 7h0m-7-1h0m-15-6h0m-7 3h0m-4 3h0m-5-1h0m-1 0h0m-9 3h0m-6-2h0m-1-9h0m-2 1h0m-2 4h0m-3 2h0m-5-6h0m-8 2h0m-2 7h0m-7 1h0m-1-8h0m-8 7h0m-6-10h0m-14 1h0m-1 0h0m-2 2h0m-7-3h0m-6 11h0m-1-2h0m-14-8h0m-2 8h0m-1-3h0m-3-3h0m-4 8h0m-26-7h0m-2-4h0m-2 11h0m-8-9h0m0 9h0m-7-11h0m-8 0h0m-15 8h0m-18-8h0m-8 0h0m-102 0h0m-8 3h0m-31 0h0m-71 2h0m81 10h0m16 0h0m129-1h0m28-1h0m5 1h0m24-1h0m4 2h0m3-1h0m3-2h0m2 2h0m7-1h0m8 2h0m4-3h0m7 0h0m9 3h0m17-1h0m9-2h0m16 4h0m2-2h0m12 2h0m30 0h0m22-1h0m35-2h0m27 3h0m22-1h0" stroke="#2b8a90"/><path d="M832 2130h0m-102 0h0m-4 4h0m-42-2h0m-57-5h0m-1 7h0m-2-1h0m-11 2h0m-21-2h0m-15 1h0m-1-5h0m-10 1h0m-6 4h0m-25-4h0m-2 1h0m-14-4h0m-5 1h0m-31 2h0m-70 0h0m-38 5h0m-47-1h0m-197 11h0m133 2h0m55-11h0m38 8h0m38 1h0m35-4h0m17-2h0m38-3h0m21 5h0m34 1h0m31-4h0m5-2h0m18 8h0m6-1h0m2 0h0m4 3h0m4-4h0m13-6h0m13 9h0m23-9h0m3 1h0m76 0h0m18 8h0m9-1h0m38-6h0m50 5h0m-157 12h0m-11 0h0m-53-6h0m-5 9h0m-8-10h0m-3 6h0m-5-4h0m-12 4h0m-8-4h0m-4-1h0m-20 5h0m-14-2h0m-1 3h0m-36-1h0m-14-4h0m-1 9h0m-63-9h0m-4 8h0m-30-10h0m-100 2h0m-109 0h0m-31 6h0m190 13h0m24-1h0m44-4h0m3 2h0m2 1h0m36-1h0m9-5h0m24 6h0m32-5h0m16 8h0m12-5h0m12 6h0m1-3h0m2 1h0m4 0h0m21 1h0m2-8h0m9 9h0m0-9h0m2 6h0m11 3h0m4-6h0m2-5h0m6 0h0m0 2h0m13 0h0m7 9h0m1-11h0m45 3h0m42 20h0m-35-5h0m-51-3h0m-22-2h0m-19 3h0m-38-4h0m-1 5h0m-1 1h0m-33 2h0m-3-6h0m-14 6h0m-1-3h0m-14 2h0m-23-1h0m-6-2h0m-9-1h0m-7-3h0m-37 7h0m-20-3h0m-151-4h0m-76 5h0m-13 17h0m164-10h0m26 2h0m14 0h0m4 3h0m10-4h0m27 4h0m1 1h0m4-3h0m20 6h0m4-4h0m22-1h0m22 5h0m16-5h0m13-1h0m2-2h0m9 1h0m9 9h0m2-7h0m6 3h0m13-2h0m1-4h0m3 2h0m7 1h0m16 4h0m1-8h0m13 7h0m7-5h0m2 2h0m43-4h0m0 7h0m1-2h0m11-3h0m27 1h0m55 3h0m45 17h0m-118-11h0m-2 8h0m-8-2h0m-20-5h0m-16 7h0m-15-1h0m-13-1h0m-1-1h0m-9-3h0m-2-1h0m-6 7h0m-5-6h0m-10 7h0m0 1h0m-5-3h0m-16-4h0m-16 0h0m-13-3h0m-6 1h0m-3 4h0m-22 4h0m-32-9h0m-3 10h0m-92-9h0m-57 7h0m-128 1h0m136 7h0m61-1h0m73-2h0m18 10h0m9-5h0m19-2h0m3 0h0m6-4h0m16 8h0m59-4h0m5 0h0m21-4h0m16 1h0m35-1h0m5 8h0m3 0h0m12-3h0m38 6h0m8-6h0m70 4h0m59 2h0m-69 3h0m-45 4h0m-15 1h0m-48-4h0m-5-2h0m-3 9h0m-2-10h0m-9 3h0m-2 4h0m-5-2h0m-1 2h0m-42-6h0m-2 0h0m-3 6h0m-3 1h0m-2-5h0m-12 6h0m-6-3h0m-10 4h0m-2-5h0m-10 6h0m-5-6h0m-10 0h0m-19 2h0m-5-1h0m-31 1h0m-8-7h0m-10 2h0m-9 8h0m-3 1h0m-38-3h0m-48-8h0m7 17h0m36-3h0m31 3h0m72 0h0m0 1h0m3 2h0m0-8h0m15 2h0m28-1h0m14 8h0m12-6h0m3-3h0m1 0h0m8 5h0m10 3h0m1 1h0m12-1h0m18-8h0m23 10h0m3-2h0m6-1h0m150 15h0m-77-9h0m-91 3h0m-42 0h0m-17-3h0m0 1h0m-7 3h0m-2 2h0m0-4h0m-22 0h0m-5 2h0m-11 6h0m-8-3h0m-15-7h0m-25 8h0m-5-5h0m-10 1h0m-12 3h0m-5-8h0m-15 9h0m-136 0h0m-58-2h0m-6-2h0m-91 10h0m1-3h0m91 9h0m34-9h0m15 4h0m50-2h0m25-1h0m5 9h0m32-5h0m8-4h0m11 10h0m27-9h0m16 3h0m6-5h0m20 0h0m18 3h0m6 7h0m11 0h0m1-3h0m38-5h0m3 0h0m10 5h0m15-7h0m13 2h0m3 4h0m2-1h0m2 5h0m9-8h0m23 5h0m-2 9h0m-12 4h0m-7 3h0m-1-7h0m-19 1h0m-18 3h0m-15-6h0m-3 9h0m-6-9h0m-4 4h0m-11-2h0m-14 2h0m-16 2h0m-7 0h0m-2 0h0m-4-3h0m-4-1h0m-13 1h0m-76-2h0m-159 0h0m-17 7h0m-59-3h0m-42 13h0m231-5h0m71 2h0m7 1h0m27 2h0m12-5h0m1 2h0m3-2h0m9-1h0m3 4h0m10-5h0m1 3h0m13-3h0m6 10h0m1-8h0m5-2h0m15 1h0m9-1h0m4 0h0m0 7h0m1-5h0m2 8h0m16-6h0m5 3h0m3-3h0m5-3h0m7-1h0m14 2h0m3 1h0m4-3h0m64 21h0m-45 1h0m-20-6h0m-5 3h0m-2 0h0m-7-5h0m-15 3h0m-4-2h0m-11 4h0m-8-1h0m-14 1h0m-18 0h0m-14 2h0m-14-5h0m-20-2h0m-58 7h0m-76-4h0m-15 6h0m104 0h0m25 5h0m8-5h0m40 3h0m0 1h0m17-3h0m48 4h0m45-4h0" stroke="#8fd35a"/><path d="M792 2134h0m-3-5h0m-3 3h0m-61 3h0m-50-7h0m-2 4h0m-9 0h0m-49-3h0m-111 5h0m-113-4h0m-110 16h0m252 0h0m24 1h0m51-10h0m11 7h0m14-3h0m75 2h0m50 4h0m2-3h0m23 3h0m13-6h0m54 13h0m-54 0h0m-77 5h0m-7-10h0m-20 6h0m-17 3h0m-12-8h0m-9 5h0m-50-1h0m0-4h0m0 9h0m-15-11h0m-8 4h0m-17 5h0m-24-5h0m-5-2h0m-9-1h0m-62 3h0m44 14h0m23-2h0m7-4h0m21 2h0m4 1h0m64 6h0m16-2h0m28 2h0m54-3h0m37-4h0m16 5h0m38 0h0m24 4h0m11-4h0m-55 9h0m-89 7h0m-5-10h0m0 4h0m-28-4h0m-39 0h0m-92 9h0m-49-8h0m-347 14h0m309 4h0m98 2h0m7-6h0m8 0h0m11 3h0m32-3h0m10 6h0m7-6h0m24-4h0m22 11h0m32-11h0m37 2h0m7 2h0m17-4h0m8 0h0m61 14h0m-36 4h0m-16-1h0m-23-1h0m-2 2h0m-14 1h0m-21 3h0m-6-2h0m-63-8h0m-28 7h0m0 3h0m-37-6h0m-3-2h0m-2 2h0m-10 1h0m-14 3h0m-45-6h0m-8 0h0m-14 1h0m-63 10h0m60 5h0m26 3h0m32-8h0m1 4h0m0-5h0m3 0h0m24 0h0m56 10h0m11-9h0m2 4h0m39 5h0m12-2h0m103 0h0m25-3h0m-69 9h0m-6 5h0m-2 1h0m-23-8h0m-21 8h0m-20-6h0m-24 5h0m-4 2h0m-1 1h0m-1-10h0m-1 0h0m-11 0h0m-2 0h0m-8 6h0m-45-3h0m-74 0h0m-30 7h0m-115-8h0m-47 16h0m110-3h0m56 6h0m46 2h0m41-2h0m3-7h0m16 3h0m8 3h0m8-2h0m3 5h0m1-4h0m5 3h0m1 1h0m19-5h0m3-5h0m8 6h0m13 4h0m14-11h0m12 2h0m10 1h0m40 6h0m65 6h0m-31 3h0m-47 2h0m-10 2h0m-27-6h0m-4-4h0m-1 6h0m-2-1h0m-1 6h0m-29-1h0m-16-1h0m-21-3h0m-9-5h0m-2 9h0m-8-5h0m-5-2h0m-6 8h0m-1-8h0m-10 5h0m-1-2h0m-3-1h0m-15 0h0m-24 1h0m-10 5h0m-4-1h0m-69 10h0m0 3h0m83 0h0m33-3h0m4-2h0m1 1h0m5 3h0m1-1h0m3-3h0m1 3h0m8-7h0m4 2h0m9 0h0m12-3h0m4 7h0m3 0h0m10 1h0m14 0h0m25-7h0m1 4h0m31-1h0m2-5h0m12 7h0m129-4h0m-73 9h0m-27 2h0m-6 5h0m-28-6h0m-15 6h0m-10-7h0m-14 5h0m-12 4h0m-11-1h0m-2-3h0m-1-1h0m-6-3h0m0-1h0m-4 1h0m-8 10h0m-11-2h0m-6-5h0m-2-4h0m-3 9h0m-9-6h0m-12 0h0m-1 8h0m-1-10h0m-3 9h0m-6-10h0m0 5h0m-19-2h0m0 5h0m-2-8h0m-4 4h0m0 0h0m-14 2h0m-11 4h0m-17-9h0m-23 10h0m-5-7h0m-17 7h0m-7-1h0m-134 1h0m-162-6h0m243 17h0m47-5h0m36 2h0m29 0h0m4 0h0m9 4h0m27-1h0m18 0h0m1-10h0m10 11h0m39-9h0m5 0h0m10 9h0m14 0h0m9-5h0m0-4h0m8 8h0m18-5h0m9-5h0m0 3h0m1 8h0m3-10h0m15 3h0m3 3h0m13 3h0m2 0h0m11-8h0m2 4h0m19 17h0m-35-7h0m-8 6h0m-9-5h0m-8-2h0m-12-3h0m-5 3h0m-8 8h0m-11-10h0m-7 2h0m-3 5h0m-2-4h0m-1 2h0m-4-1h0m-2-5h0m0 3h0m-6-3h0m-2 11h0m-20-11h0m-2 5h0m-2-3h0m-8-1h0m-7 6h0m-9-2h0m-3 4h0m-3-5h0m-3 3h0m-7 0h0m-7 2h0m0-5h0m-16-3h0m0 7h0m-2 0h0m-27 3h0m-13-10h0m-35 5h0m-138-1h0m-38 11h0m108-2h0m116-2h0m8 1h0m30 3h0m3-1h0m16 1h0m15-1h0m4 0h0m8 0h0m3 0h0m26 0h0m6 1h0m25-4h0m34 0h0m1 1h0m31 0h0m19-1h0m0 2h0m74-1h0" stroke="#44468a"/><path d="M630 2133h0m-41 2h0m-22-7h0m-100 4h0m-88 3h0m-76-3h0m8 11h0m179-1h0m4 2h0m2-8h0m0 6h0m21-4h0m12 7h0m39-3h0m29-6h0m33 8h0m56 0h0m27-1h0m46 3h0m-83 7h0m-19 1h0m-38 4h0m-20-2h0m-62 1h0m-41 1h0m-12-1h0m-3-7h0m-63 4h0m-37-3h0m-101 17h0m98 1h0m98 0h0m15-1h0m11-7h0m18 5h0m95 5h0m26-3h0m2 2h0m83-7h0m65 5h0m-225 7h0m-48-1h0m-32 4h0m-19 1h0m-32-2h0m-20 2h0m-88 1h0m-93 4h0m84 2h0m41-1h0m31 0h0m60 4h0m4 6h0m13-6h0m17 3h0m1-6h0m2 4h0m23 0h0m34 0h0m11-6h0m32 6h0m14 1h0m16-3h0m3 5h0m10-9h0m28 3h0m183 8h0m-195 6h0m-6-4h0m-7 3h0m-14 3h0m-21-5h0m-30 1h0m-18 8h0m-19-9h0m-7 5h0m-9-4h0m-63 8h0m-56-5h0m37 7h0m24 10h0m22-4h0m5-6h0m16 5h0m2-6h0m70 4h0m51-3h0m13 9h0m1-10h0m7 3h0m68 4h0m-32 9h0m-22 1h0m-16 4h0m-15 2h0m-123-6h0m-23-3h0m-6 1h0m-7-3h0m-24 1h0m-30 5h0m-4 14h0m44-4h0m34 3h0m22-4h0m5-1h0m51 2h0m3-4h0m16 11h0m4 0h0m1-5h0m6 1h0m24-3h0m21 2h0m13 4h0m107-10h0m43 16h0m-156 5h0m-27-4h0m-63-4h0m-5 6h0m-30 2h0m-22-6h0m-26 8h0m-4-7h0m-25 3h0m-92 3h0m-23-6h0m-192 8h0m102 0h0m129 8h0m11-2h0m31 1h0m37 3h0m38-1h0m4-3h0m22-3h0m68 4h0m148 13h0m-81-6h0m-13 6h0m-64-3h0m-14 4h0m-14-1h0m-28 0h0m-8-1h0m-33-6h0m-14 9h0m-16-9h0m-59 10h0m71 6h0m43-1h0m77 0h0m24 0h0m4-4h0m10 10h0m53 0h0m11 0h0m-7 6h0m-49 7h0m-8-8h0m-47 0h0m-17 3h0m-4 0h0m-16 2h0m-20 2h0m-7-1h0m-93-4h0m-85-4h0m-20 10h0m184 5h0m57-2h0m51 0h0" stroke="#b9dd4a"/></g><text x="4" y="33" font-size="40" font-weight="bold" stroke="#000" stroke-width="1.6">a</text><text x="50" y="51" font-size="29.2" textLength="232" lengthAdjust="spacingAndGlyphs">Simple interaction</text><text x="531" y="51" font-size="29.2" textLength="258.5" lengthAdjust="spacingAndGlyphs">Complex interaction</text><path d="M465.5,80V1158" stroke="#a8a8a8" stroke-width="2" stroke-dasharray="10,8" fill="none"/><circle cx="155.8" cy="186.2" r="83.7" fill="#eff0f5" stroke="#4f5670" stroke-width="1.6" stroke-dasharray="7,5.5"/><path d="M47.5,122.5C65,135 112,143 133,160" fill="none" stroke="#111" stroke-width="2.6" stroke-linecap="butt"/><path d="M60,263C59,232 98,224 131,215" fill="none" stroke="#111" stroke-width="2.6" stroke-linecap="butt"/><path d="M190.5,159C212,152 237,165 250,166C262,167.5 270,164 275,160" fill="none" stroke="#111" stroke-width="2.6" stroke-linecap="butt"/><path d="M190,215C205,238 225,252 250,264.5" fill="none" stroke="#111" stroke-width="2.6" stroke-linecap="butt"/><path d="M132.5,159Q172,188 132.5,218" fill="none" stroke="#d98fba" stroke-width="10"/><path d="M190.5,158Q159,185 192,215" fill="none" stroke="#8fa2cb" stroke-width="10"/><circle cx="662.5" cy="181" r="83.5" fill="#f9ebf3" stroke="#c8245a" stroke-width="1.6" stroke-dasharray="7,5.5"/><path d="M625,175C607.5,160 605,135 575,136C565,136 555,137.5 548.7,138.7" fill="none" stroke="#111" stroke-width="2.6" stroke-linecap="butt"/><path d="M664.5,162C666,137.5 655,112.5 655,95C655,82.5 665,75 677,72.5" fill="none" stroke="#111" stroke-width="2.6" stroke-linecap="butt"/><path d="M701,164C715,147.5 710,130 710,120C711,102.5 725,95 741.5,95" fill="none" stroke="#111" stroke-width="2.6" stroke-linecap="butt"/><path d="M698.7,200C707.5,210 720,207.5 737.5,205.5C755,203.7 770,210 780,217.5" fill="none" stroke="#111" stroke-width="2.6" stroke-linecap="butt"/><path d="M615,193C595,190 567.5,197.5 558,214" fill="none" stroke="#111" stroke-width="2.6" stroke-linecap="butt"/><path d="M634.5,227C625,235 617.5,250 612.5,265C607.5,277.5 600,287.5 593,292" fill="none" stroke="#111" stroke-width="2.6" stroke-linecap="butt"/><path d="M698.7,225C718,231 738,238 752.5,247.5" fill="none" stroke="#111" stroke-width="2.6" stroke-linecap="butt"/><path d="M676.2,240C675,260 647.5,270 647,297.5" fill="none" stroke="#111" stroke-width="2.6" stroke-linecap="butt"/><path d="M621,174Q648,196 670,162" fill="none" stroke="#e38bba" stroke-width="10.5"/><path d="M699.5,163Q677,183 697,202" fill="none" stroke="#a0a1cb" stroke-width="10.5"/><path d="M615.5,193.5C640,197 664,210 637,229" fill="none" stroke="#82bfaa" stroke-width="10.5"/><path d="M700.5,221C682,215 664,217 676.5,241" fill="none" stroke="#f28d6c" stroke-width="10.5"/><path d="M16,372.1H149.9V390.1H137.8V408.1H16Z" fill="#e38bba"/><text x="27.9" y="400" font-size="27.5" textLength="91" lengthAdjust="spacingAndGlyphs">Gene A</text><path d="M138.9,390.1L165.9,390.1" stroke="#3d4b5e" stroke-width="1.9" stroke-dasharray="3.2,2.4" fill="none"/><path d="M172.5,390.1L161.5,395.6L163.7,390.1L161.5,384.6Z" fill="#3d4b5e"/><rect x="176.5" y="372.1" width="43.3" height="36" fill="#8ea1cb"/><path d="M176.5,372.1H203.3V390.1H192.7V408.1H176.5Z" fill="#e38bba"/><path d="M255.6,390.1L228.6,390.1" stroke="#3d4b5e" stroke-width="1.9" stroke-dasharray="3.2,2.4" fill="none"/><path d="M222,390.1L233,384.6L230.8,390.1L233,395.6Z" fill="#3d4b5e"/><path d="M273.2,372.1H382V408.1H260.4V390.1H273.2Z" fill="#8ea1cb"/><text x="283.1" y="400" font-size="27.5" textLength="70.5" lengthAdjust="spacingAndGlyphs">Enh B</text><path d="M515.4,367H649.5V383.5H636.7V403.3H515.4Z" fill="#e38bba"/><text x="523.7" y="395" font-size="27.5" textLength="91" lengthAdjust="spacingAndGlyphs">Gene A</text><path d="M638,384.2L667.9,344.9" stroke="#3d4b5e" stroke-width="1.9" stroke-dasharray="3.2,2.4" fill="none"/><path d="M671.9,339.6L669.6,351.7L666.6,346.6L660.9,345Z" fill="#3d4b5e"/><path d="M638,384.2L665.3,384.2" stroke="#3d4b5e" stroke-width="1.9" stroke-dasharray="3.2,2.4" fill="none"/><path d="M671.9,384.2L660.9,389.7L663.1,384.2L660.9,378.7Z" fill="#3d4b5e"/><path d="M638,384.2L667.9,423.4" stroke="#3d4b5e" stroke-width="1.9" stroke-dasharray="3.2,2.4" fill="none"/><path d="M671.9,428.6L660.9,423.2L666.6,421.6L669.6,416.5Z" fill="#3d4b5e"/><rect x="675.8" y="323" width="43.3" height="36.3" fill="#8ea1cb"/><path d="M675.8,323H702.9V341.1H691.9V359.3H675.8Z" fill="#e38bba"/><path d="M755,341.1L728.6,341.1" stroke="#3d4b5e" stroke-width="1.9" stroke-dasharray="3.2,2.4" fill="none"/><path d="M722,341.1L733,335.6L730.8,341.1L733,346.6Z" fill="#3d4b5e"/><path d="M772.1,323H881.3V359.3H760V341.1H772.1Z" fill="#8ea1cb"/><text x="792.3" y="352.1" font-size="27.5" textLength="70.5" lengthAdjust="spacingAndGlyphs">Enh B</text><rect x="675.8" y="367.3" width="43.3" height="36.3" fill="#f38c64"/><path d="M675.8,367.3H702.9V385.4H691.9V403.6H675.8Z" fill="#e38bba"/><path d="M755,385.4L728.6,385.4" stroke="#3d4b5e" stroke-width="1.9" stroke-dasharray="3.2,2.4" fill="none"/><path d="M722,385.4L733,379.9L730.8,385.4L733,390.9Z" fill="#3d4b5e"/><path d="M772.1,367.3H881.3V403.6H760V385.4H772.1Z" fill="#f38c64"/><text x="792.3" y="396.4" font-size="27.5" textLength="71.5" lengthAdjust="spacingAndGlyphs">Enh C</text><rect x="675.8" y="411" width="43.3" height="36.3" fill="#64c3a3"/><path d="M675.8,411H702.9V429.1H691.9V447.3H675.8Z" fill="#e38bba"/><path d="M755,429.1L728.6,429.1" stroke="#3d4b5e" stroke-width="1.9" stroke-dasharray="3.2,2.4" fill="none"/><path d="M722,429.1L733,423.6L730.8,429.1L733,434.6Z" fill="#3d4b5e"/><path d="M772.1,411H881.3V447.3H760V429.1H772.1Z" fill="#64c3a3"/><text x="792.3" y="440.1" font-size="27.5" textLength="71" lengthAdjust="spacingAndGlyphs">Enh D</text><circle cx="53" cy="505.7" r="14.5" fill="none" stroke="#111" stroke-width="1.3"/><text x="53" y="514.2" font-size="24" text-anchor="middle">1</text><text x="86.3" y="515" font-size="27.5" textLength="54" lengthAdjust="spacingAndGlyphs">Hi-C</text><circle cx="53" cy="882.5" r="14.5" fill="none" stroke="#111" stroke-width="1.3"/><text x="53" y="891" font-size="24" text-anchor="middle">2</text><text x="92.5" y="891.2" font-size="27.5" textLength="60" lengthAdjust="spacingAndGlyphs">GAM</text><path d="M61,675.2l19.8,19.8l-19.8,19.8l-19.8,-19.8zM80.8,655.5l19.8,19.8l-19.8,19.8l-19.8,-19.8zM100.5,635.8l19.8,19.8l-19.8,19.8l-19.8,-19.8zM120.2,616l19.8,19.8l-19.8,19.8l-19.8,-19.8zM140,596.2l19.8,19.8l-19.8,19.8l-19.8,-19.8zM159.8,576.5l19.8,19.8l-19.8,19.8l-19.8,-19.8zM179.5,556.8l19.8,19.8l-19.8,19.8l-19.8,-19.8zM199.2,537l19.8,19.8l-19.8,19.8l-19.8,-19.8zM219,517.2l19.8,19.8l-19.8,19.8l-19.8,-19.8zM100.5,675.2l19.8,19.8l-19.8,19.8l-19.8,-19.8zM120.2,655.5l19.8,19.8l-19.8,19.8l-19.8,-19.8zM140,635.8l19.8,19.8l-19.8,19.8l-19.8,-19.8zM159.8,616l19.8,19.8l-19.8,19.8l-19.8,-19.8zM179.5,596.2l19.8,19.8l-19.8,19.8l-19.8,-19.8zM199.2,576.5l19.8,19.8l-19.8,19.8l-19.8,-19.8zM219,556.8l19.8,19.8l-19.8,19.8l-19.8,-19.8zM238.8,537l19.8,19.8l-19.8,19.8l-19.8,-19.8zM140,675.2l19.8,19.8l-19.8,19.8l-19.8,-19.8zM159.8,655.5l19.8,19.8l-19.8,19.8l-19.8,-19.8zM179.5,635.8l19.8,19.8l-19.8,19.8l-19.8,-19.8zM199.2,616l19.8,19.8l-19.8,19.8l-19.8,-19.8zM219,596.2l19.8,19.8l-19.8,19.8l-19.8,-19.8zM238.8,576.5l19.8,19.8l-19.8,19.8l-19.8,-19.8zM258.5,556.8l19.8,19.8l-19.8,19.8l-19.8,-19.8zM179.5,675.2l19.8,19.8l-19.8,19.8l-19.8,-19.8zM199.2,655.5l19.8,19.8l-19.8,19.8l-19.8,-19.8zM219,635.8l19.8,19.8l-19.8,19.8l-19.8,-19.8zM238.8,616l19.8,19.8l-19.8,19.8l-19.8,-19.8zM258.5,596.2l19.8,19.8l-19.8,19.8l-19.8,-19.8zM278.2,576.5l19.8,19.8l-19.8,19.8l-19.8,-19.8zM219,675.2l19.8,19.8l-19.8,19.8l-19.8,-19.8zM238.8,655.5l19.8,19.8l-19.8,19.8l-19.8,-19.8zM258.5,635.8l19.8,19.8l-19.8,19.8l-19.8,-19.8zM278.2,616l19.8,19.8l-19.8,19.8l-19.8,-19.8zM298,596.2l19.8,19.8l-19.8,19.8l-19.8,-19.8zM258.5,675.2l19.8,19.8l-19.8,19.8l-19.8,-19.8zM278.2,655.5l19.8,19.8l-19.8,19.8l-19.8,-19.8zM298,635.8l19.8,19.8l-19.8,19.8l-19.8,-19.8zM317.8,616l19.8,19.8l-19.8,19.8l-19.8,-19.8zM298,675.2l19.8,19.8l-19.8,19.8l-19.8,-19.8zM317.8,655.5l19.8,19.8l-19.8,19.8l-19.8,-19.8zM337.5,635.8l19.8,19.8l-19.8,19.8l-19.8,-19.8zM337.5,675.2l19.8,19.8l-19.8,19.8l-19.8,-19.8zM357.2,655.5l19.8,19.8l-19.8,19.8l-19.8,-19.8zM377,675.2l19.8,19.8l-19.8,19.8l-19.8,-19.8z" fill="#f7f7f7" stroke="#dcdcdc" stroke-width="0.8"/><path d="M140,635.8l19.8,19.8l-19.8,19.8l-19.8,-19.8z" fill="#6b428a" stroke="#111" stroke-width="1.3"/><path d="M61,1055.2l19.8,19.8l-19.8,19.8l-19.8,-19.8zM80.8,1035.5l19.8,19.8l-19.8,19.8l-19.8,-19.8zM100.5,1015.8l19.8,19.8l-19.8,19.8l-19.8,-19.8zM120.2,996l19.8,19.8l-19.8,19.8l-19.8,-19.8zM140,976.2l19.8,19.8l-19.8,19.8l-19.8,-19.8zM159.8,956.5l19.8,19.8l-19.8,19.8l-19.8,-19.8zM179.5,936.8l19.8,19.8l-19.8,19.8l-19.8,-19.8zM199.2,917l19.8,19.8l-19.8,19.8l-19.8,-19.8zM219,897.2l19.8,19.8l-19.8,19.8l-19.8,-19.8zM100.5,1055.2l19.8,19.8l-19.8,19.8l-19.8,-19.8zM120.2,1035.5l19.8,19.8l-19.8,19.8l-19.8,-19.8zM140,1015.8l19.8,19.8l-19.8,19.8l-19.8,-19.8zM159.8,996l19.8,19.8l-19.8,19.8l-19.8,-19.8zM179.5,976.2l19.8,19.8l-19.8,19.8l-19.8,-19.8zM199.2,956.5l19.8,19.8l-19.8,19.8l-19.8,-19.8zM219,936.8l19.8,19.8l-19.8,19.8l-19.8,-19.8zM238.8,917l19.8,19.8l-19.8,19.8l-19.8,-19.8zM140,1055.2l19.8,19.8l-19.8,19.8l-19.8,-19.8zM159.8,1035.5l19.8,19.8l-19.8,19.8l-19.8,-19.8zM179.5,1015.8l19.8,19.8l-19.8,19.8l-19.8,-19.8zM199.2,996l19.8,19.8l-19.8,19.8l-19.8,-19.8zM219,976.2l19.8,19.8l-19.8,19.8l-19.8,-19.8zM238.8,956.5l19.8,19.8l-19.8,19.8l-19.8,-19.8zM258.5,936.8l19.8,19.8l-19.8,19.8l-19.8,-19.8zM179.5,1055.2l19.8,19.8l-19.8,19.8l-19.8,-19.8zM199.2,1035.5l19.8,19.8l-19.8,19.8l-19.8,-19.8zM219,1015.8l19.8,19.8l-19.8,19.8l-19.8,-19.8zM238.8,996l19.8,19.8l-19.8,19.8l-19.8,-19.8zM258.5,976.2l19.8,19.8l-19.8,19.8l-19.8,-19.8zM278.2,956.5l19.8,19.8l-19.8,19.8l-19.8,-19.8zM219,1055.2l19.8,19.8l-19.8,19.8l-19.8,-19.8zM238.8,1035.5l19.8,19.8l-19.8,19.8l-19.8,-19.8zM258.5,1015.8l19.8,19.8l-19.8,19.8l-19.8,-19.8zM278.2,996l19.8,19.8l-19.8,19.8l-19.8,-19.8zM298,976.2l19.8,19.8l-19.8,19.8l-19.8,-19.8zM258.5,1055.2l19.8,19.8l-19.8,19.8l-19.8,-19.8zM278.2,1035.5l19.8,19.8l-19.8,19.8l-19.8,-19.8zM298,1015.8l19.8,19.8l-19.8,19.8l-19.8,-19.8zM317.8,996l19.8,19.8l-19.8,19.8l-19.8,-19.8zM298,1055.2l19.8,19.8l-19.8,19.8l-19.8,-19.8zM317.8,1035.5l19.8,19.8l-19.8,19.8l-19.8,-19.8zM337.5,1015.8l19.8,19.8l-19.8,19.8l-19.8,-19.8zM337.5,1055.2l19.8,19.8l-19.8,19.8l-19.8,-19.8zM357.2,1035.5l19.8,19.8l-19.8,19.8l-19.8,-19.8zM377,1055.2l19.8,19.8l-19.8,19.8l-19.8,-19.8z" fill="#f7f7f7" stroke="#dcdcdc" stroke-width="0.8"/><path d="M140,1015.8l19.8,19.8l-19.8,19.8l-19.8,-19.8z" fill="#6b428a" stroke="#111" stroke-width="1.3"/><path d="M544.8,675.2l19.8,19.8l-19.8,19.8l-19.8,-19.8zM564.5,655.5l19.8,19.8l-19.8,19.8l-19.8,-19.8zM584.2,635.8l19.8,19.8l-19.8,19.8l-19.8,-19.8zM604,616l19.8,19.8l-19.8,19.8l-19.8,-19.8zM623.8,596.2l19.8,19.8l-19.8,19.8l-19.8,-19.8zM643.5,576.5l19.8,19.8l-19.8,19.8l-19.8,-19.8zM663.2,556.8l19.8,19.8l-19.8,19.8l-19.8,-19.8zM683,537l19.8,19.8l-19.8,19.8l-19.8,-19.8zM702.8,517.2l19.8,19.8l-19.8,19.8l-19.8,-19.8zM584.2,675.2l19.8,19.8l-19.8,19.8l-19.8,-19.8zM604,655.5l19.8,19.8l-19.8,19.8l-19.8,-19.8zM623.8,635.8l19.8,19.8l-19.8,19.8l-19.8,-19.8zM643.5,616l19.8,19.8l-19.8,19.8l-19.8,-19.8zM663.2,596.2l19.8,19.8l-19.8,19.8l-19.8,-19.8zM683,576.5l19.8,19.8l-19.8,19.8l-19.8,-19.8zM702.8,556.8l19.8,19.8l-19.8,19.8l-19.8,-19.8zM722.5,537l19.8,19.8l-19.8,19.8l-19.8,-19.8zM623.8,675.2l19.8,19.8l-19.8,19.8l-19.8,-19.8zM643.5,655.5l19.8,19.8l-19.8,19.8l-19.8,-19.8zM663.2,635.8l19.8,19.8l-19.8,19.8l-19.8,-19.8zM683,616l19.8,19.8l-19.8,19.8l-19.8,-19.8zM702.8,596.2l19.8,19.8l-19.8,19.8l-19.8,-19.8zM722.5,576.5l19.8,19.8l-19.8,19.8l-19.8,-19.8zM742.2,556.8l19.8,19.8l-19.8,19.8l-19.8,-19.8zM663.2,675.2l19.8,19.8l-19.8,19.8l-19.8,-19.8zM683,655.5l19.8,19.8l-19.8,19.8l-19.8,-19.8zM702.8,635.8l19.8,19.8l-19.8,19.8l-19.8,-19.8zM722.5,616l19.8,19.8l-19.8,19.8l-19.8,-19.8zM742.2,596.2l19.8,19.8l-19.8,19.8l-19.8,-19.8zM762,576.5l19.8,19.8l-19.8,19.8l-19.8,-19.8zM702.8,675.2l19.8,19.8l-19.8,19.8l-19.8,-19.8zM722.5,655.5l19.8,19.8l-19.8,19.8l-19.8,-19.8zM742.2,635.8l19.8,19.8l-19.8,19.8l-19.8,-19.8zM762,616l19.8,19.8l-19.8,19.8l-19.8,-19.8zM781.8,596.2l19.8,19.8l-19.8,19.8l-19.8,-19.8zM742.2,675.2l19.8,19.8l-19.8,19.8l-19.8,-19.8zM762,655.5l19.8,19.8l-19.8,19.8l-19.8,-19.8zM781.8,635.8l19.8,19.8l-19.8,19.8l-19.8,-19.8zM801.5,616l19.8,19.8l-19.8,19.8l-19.8,-19.8zM781.8,675.2l19.8,19.8l-19.8,19.8l-19.8,-19.8zM801.5,655.5l19.8,19.8l-19.8,19.8l-19.8,-19.8zM821.2,635.8l19.8,19.8l-19.8,19.8l-19.8,-19.8zM821.2,675.2l19.8,19.8l-19.8,19.8l-19.8,-19.8zM841,655.5l19.8,19.8l-19.8,19.8l-19.8,-19.8zM860.8,675.2l19.8,19.8l-19.8,19.8l-19.8,-19.8z" fill="#f7f7f7" stroke="#dcdcdc" stroke-width="0.8"/><path d="M623.8,635.8l19.8,19.8l-19.8,19.8l-19.8,-19.8z" fill="#cbbcd9" stroke="#111" stroke-width="1.3"/><path d="M663.2,596.2l19.8,19.8l-19.8,19.8l-19.8,-19.8z" fill="#cbbcd9" stroke="#111" stroke-width="1.3"/><path d="M702.8,556.8l19.8,19.8l-19.8,19.8l-19.8,-19.8z" fill="#cbbcd9" stroke="#111" stroke-width="1.3"/><path d="M722.5,655.5l19.8,19.8l-19.8,19.8l-19.8,-19.8z" fill="#cbbcd9" stroke="#111" stroke-width="1.3"/><path d="M762,616l19.8,19.8l-19.8,19.8l-19.8,-19.8z" fill="#cbbcd9" stroke="#111" stroke-width="1.3"/><path d="M801.5,655.5l19.8,19.8l-19.8,19.8l-19.8,-19.8z" fill="#cbbcd9" stroke="#111" stroke-width="1.3"/><path d="M544.8,1055.2l19.8,19.8l-19.8,19.8l-19.8,-19.8zM564.5,1035.5l19.8,19.8l-19.8,19.8l-19.8,-19.8zM584.2,1015.8l19.8,19.8l-19.8,19.8l-19.8,-19.8zM604,996l19.8,19.8l-19.8,19.8l-19.8,-19.8zM623.8,976.2l19.8,19.8l-19.8,19.8l-19.8,-19.8zM643.5,956.5l19.8,19.8l-19.8,19.8l-19.8,-19.8zM663.2,936.8l19.8,19.8l-19.8,19.8l-19.8,-19.8zM683,917l19.8,19.8l-19.8,19.8l-19.8,-19.8zM702.8,897.2l19.8,19.8l-19.8,19.8l-19.8,-19.8zM584.2,1055.2l19.8,19.8l-19.8,19.8l-19.8,-19.8zM604,1035.5l19.8,19.8l-19.8,19.8l-19.8,-19.8zM623.8,1015.8l19.8,19.8l-19.8,19.8l-19.8,-19.8zM643.5,996l19.8,19.8l-19.8,19.8l-19.8,-19.8zM663.2,976.2l19.8,19.8l-19.8,19.8l-19.8,-19.8zM683,956.5l19.8,19.8l-19.8,19.8l-19.8,-19.8zM702.8,936.8l19.8,19.8l-19.8,19.8l-19.8,-19.8zM722.5,917l19.8,19.8l-19.8,19.8l-19.8,-19.8zM623.8,1055.2l19.8,19.8l-19.8,19.8l-19.8,-19.8zM643.5,1035.5l19.8,19.8l-19.8,19.8l-19.8,-19.8zM663.2,1015.8l19.8,19.8l-19.8,19.8l-19.8,-19.8zM683,996l19.8,19.8l-19.8,19.8l-19.8,-19.8zM702.8,976.2l19.8,19.8l-19.8,19.8l-19.8,-19.8zM722.5,956.5l19.8,19.8l-19.8,19.8l-19.8,-19.8zM742.2,936.8l19.8,19.8l-19.8,19.8l-19.8,-19.8zM663.2,1055.2l19.8,19.8l-19.8,19.8l-19.8,-19.8zM683,1035.5l19.8,19.8l-19.8,19.8l-19.8,-19.8zM702.8,1015.8l19.8,19.8l-19.8,19.8l-19.8,-19.8zM722.5,996l19.8,19.8l-19.8,19.8l-19.8,-19.8zM742.2,976.2l19.8,19.8l-19.8,19.8l-19.8,-19.8zM762,956.5l19.8,19.8l-19.8,19.8l-19.8,-19.8zM702.8,1055.2l19.8,19.8l-19.8,19.8l-19.8,-19.8zM722.5,1035.5l19.8,19.8l-19.8,19.8l-19.8,-19.8zM742.2,1015.8l19.8,19.8l-19.8,19.8l-19.8,-19.8zM762,996l19.8,19.8l-19.8,19.8l-19.8,-19.8zM781.8,976.2l19.8,19.8l-19.8,19.8l-19.8,-19.8zM742.2,1055.2l19.8,19.8l-19.8,19.8l-19.8,-19.8zM762,1035.5l19.8,19.8l-19.8,19.8l-19.8,-19.8zM781.8,1015.8l19.8,19.8l-19.8,19.8l-19.8,-19.8zM801.5,996l19.8,19.8l-19.8,19.8l-19.8,-19.8zM781.8,1055.2l19.8,19.8l-19.8,19.8l-19.8,-19.8zM801.5,1035.5l19.8,19.8l-19.8,19.8l-19.8,-19.8zM821.2,1015.8l19.8,19.8l-19.8,19.8l-19.8,-19.8zM821.2,1055.2l19.8,19.8l-19.8,19.8l-19.8,-19.8zM841,1035.5l19.8,19.8l-19.8,19.8l-19.8,-19.8zM860.8,1055.2l19.8,19.8l-19.8,19.8l-19.8,-19.8z" fill="#f7f7f7" stroke="#dcdcdc" stroke-width="0.8"/><path d="M623.8,1015.8l19.8,19.8l-19.8,19.8l-19.8,-19.8z" fill="#6b428a" stroke="#111" stroke-width="1.3"/><path d="M663.2,976.2l19.8,19.8l-19.8,19.8l-19.8,-19.8z" fill="#6b428a" stroke="#111" stroke-width="1.3"/><path d="M702.8,936.8l19.8,19.8l-19.8,19.8l-19.8,-19.8z" fill="#6b428a" stroke="#111" stroke-width="1.3"/><path d="M722.5,1035.5l19.8,19.8l-19.8,19.8l-19.8,-19.8z" fill="#6b428a" stroke="#111" stroke-width="1.3"/><path d="M762,996l19.8,19.8l-19.8,19.8l-19.8,-19.8z" fill="#6b428a" stroke="#111" stroke-width="1.3"/><path d="M801.5,1035.5l19.8,19.8l-19.8,19.8l-19.8,-19.8z" fill="#6b428a" stroke="#111" stroke-width="1.3"/><path d="M573,628L597,640.5" stroke="#3d4b5e" stroke-width="1.8"/><path d="M603,643.5L590.7,643.4L595.2,639.5L595.7,633.6Z" fill="#3d4b5e"/><path d="M573,1008L597,1020.5" stroke="#3d4b5e" stroke-width="1.8"/><path d="M603,1023.5L590.7,1023.4L595.2,1019.5L595.7,1013.6Z" fill="#3d4b5e"/><rect x="61.2" y="715.5" width="39.5" height="14" fill="#e38bba"/><rect x="180" y="715.5" width="39.5" height="14" fill="#8ea1cb"/><rect x="61.2" y="1095.5" width="39.5" height="14" fill="#e38bba"/><rect x="180" y="1095.5" width="39.5" height="14" fill="#8ea1cb"/><text x="62.5" y="755" font-size="27.5" textLength="91" lengthAdjust="spacingAndGlyphs">Gene A</text><text x="182.5" y="755" font-size="27.5" textLength="70" lengthAdjust="spacingAndGlyphs">Enh B</text><text x="55.5" y="1135" font-size="27.5" textLength="91" lengthAdjust="spacingAndGlyphs">Gene A</text><text x="178.7" y="1135" font-size="27.5" textLength="70" lengthAdjust="spacingAndGlyphs">Enh B</text><rect x="543.9" y="716" width="39.2" height="14" fill="#e38bba"/><rect x="663.3" y="716" width="39.5" height="14" fill="#8ea1cb"/><rect x="741.3" y="716" width="39.6" height="14" fill="#f38c64"/><rect x="821.1" y="716" width="39.2" height="14" fill="#64c3a3"/><rect x="543.9" y="1096" width="39.2" height="14" fill="#e38bba"/><rect x="663.3" y="1096" width="39.5" height="14" fill="#8ea1cb"/><rect x="741.3" y="1096" width="39.6" height="14" fill="#f38c64"/><rect x="821.1" y="1096" width="39.2" height="14" fill="#64c3a3"/><text x="533.7" y="754" font-size="27.5" textLength="91" lengthAdjust="spacingAndGlyphs">Gene A</text><text x="642.2" y="754" font-size="27.5" textLength="70" lengthAdjust="spacingAndGlyphs">Enh B</text><text x="729.7" y="754" font-size="27.5" textLength="72" lengthAdjust="spacingAndGlyphs">Enh C</text><text x="822.5" y="754" font-size="27.5" textLength="72" lengthAdjust="spacingAndGlyphs">Enh D</text><text x="537.2" y="1134.7" font-size="27.5" textLength="91" lengthAdjust="spacingAndGlyphs">Gene A</text><text x="646.8" y="1134.7" font-size="27.5" textLength="70" lengthAdjust="spacingAndGlyphs">Enh B</text><text x="739.2" y="1134.7" font-size="27.5" textLength="72" lengthAdjust="spacingAndGlyphs">Enh C</text><text x="836.5" y="1134.7" font-size="27.5" textLength="72" lengthAdjust="spacingAndGlyphs">Enh D</text><text x="45.7" y="800.5" font-size="27.5" textLength="354" lengthAdjust="spacingAndGlyphs">Ligation frequency between</text><text x="45.5" y="836.2" font-size="27.5" textLength="179" lengthAdjust="spacingAndGlyphs"><tspan fill="#e38bba">A</tspan> and <tspan fill="#8ea1cb">B</tspan>: 100%</text><text x="528.5" y="799.5" font-size="27.5" textLength="354" lengthAdjust="spacingAndGlyphs">Ligation frequency between</text><text x="531" y="836" font-size="27.5" textLength="165" lengthAdjust="spacingAndGlyphs"><tspan fill="#e38bba">A</tspan> and <tspan fill="#8ea1cb">B</tspan>: 33%</text><text x="44.5" y="1180.5" font-size="27.5" textLength="228" lengthAdjust="spacingAndGlyphs">Co-segregation of</text><text x="45.5" y="1217.5" font-size="27.5" textLength="179" lengthAdjust="spacingAndGlyphs"><tspan fill="#e38bba">A</tspan> and <tspan fill="#8ea1cb">B</tspan>: 100%</text><text x="527.5" y="1180.2" font-size="27.5" textLength="228" lengthAdjust="spacingAndGlyphs">Co-segregation of</text><text x="531.3" y="1217" font-size="27.5" textLength="179" lengthAdjust="spacingAndGlyphs"><tspan fill="#e38bba">A</tspan> and <tspan fill="#8ea1cb">B</tspan>: 100%</text><defs><linearGradient id="pg" x1="0" y1="0" x2="0" y2="1"><stop offset="0" stop-color="#5e3584"/><stop offset="0.45" stop-color="#a48bbd"/><stop offset="1" stop-color="#fbfafd"/></linearGradient></defs><rect x="941.5" y="538.7" width="12.3" height="171.6" fill="url(#pg)" stroke="#222" stroke-width="1.1"/><path d="M953.8,538.7h7" stroke="#222" stroke-width="1.1"/><rect x="941.5" y="919.2" width="12.3" height="171.5" fill="url(#pg)" stroke="#222" stroke-width="1.1"/><path d="M953.8,919.2h7" stroke="#222" stroke-width="1.1"/><path d="M941.5,651.5h19.5" stroke="#222" stroke-width="1.1"/><text x="971.3" y="551" font-size="27.5" textLength="67" lengthAdjust="spacingAndGlyphs">100%</text><text x="971.3" y="664" font-size="27.5" textLength="52.5" lengthAdjust="spacingAndGlyphs">33%</text><text x="966" y="931.5" font-size="27.5" textLength="67" lengthAdjust="spacingAndGlyphs">100%</text><text x="964.3" y="488" font-size="27.5" text-anchor="middle" textLength="218" lengthAdjust="spacingAndGlyphs">Detected ligation</text><text x="964.3" y="516.7" font-size="27.5" text-anchor="middle" textLength="82" lengthAdjust="spacingAndGlyphs">events</text><text x="964.3" y="867.8" font-size="27.5" text-anchor="middle" textLength="115" lengthAdjust="spacingAndGlyphs">Detected</text><text x="964.3" y="897.5" font-size="27.5" text-anchor="middle" textLength="192" lengthAdjust="spacingAndGlyphs">co-segregation</text><text x="1090" y="39" font-size="41" font-weight="bold" stroke="#000" stroke-width="1.6">b</text><rect x="1252.7" y="60.8" width="352.8" height="314.4" fill="none" stroke="#222" stroke-width="1.6"/><path d="M1242,79.7H1252.7" stroke="#222" stroke-width="1.3"/><text x="1229" y="87.2" font-size="22" text-anchor="end" textLength="64" lengthAdjust="spacingAndGlyphs">4,000</text><path d="M1242,150.5H1252.7" stroke="#222" stroke-width="1.3"/><text x="1229" y="158" font-size="22" text-anchor="end" textLength="63.5" lengthAdjust="spacingAndGlyphs">3,000</text><path d="M1242,220.8H1252.7" stroke="#222" stroke-width="1.3"/><text x="1229" y="228.3" font-size="22" text-anchor="end" textLength="63.5" lengthAdjust="spacingAndGlyphs">2,000</text><path d="M1242,290.8H1252.7" stroke="#222" stroke-width="1.3"/><text x="1229" y="298.3" font-size="22" text-anchor="end" textLength="58.5" lengthAdjust="spacingAndGlyphs">1,000</text><path d="M1242,361.2H1252.7" stroke="#222" stroke-width="1.3"/><text x="1229" y="368.7" font-size="22" text-anchor="end" textLength="15" lengthAdjust="spacingAndGlyphs">0</text><path d="M1321.9,90.2 1321.9,92.5 1321.9,94.8 1321.9,97 1321.9,99.3 1321.9,101.6 1321.9,103.9 1321.9,106.1 1322,108.4 1322,110.7 1322,113 1322.1,115.3 1322.1,117.5 1322.1,119.8 1322.1,122.1 1322.2,124.4 1322.2,126.6 1322.2,128.9 1322.3,131.2 1322.3,133.5 1322.4,135.7 1322.4,138 1322.4,140.3 1322.5,142.6 1322.5,144.9 1322.5,147.1 1322.6,149.4 1322.6,151.7 1322.7,154 1322.7,156.2 1322.8,158.5 1322.8,160.8 1322.9,163.1 1322.9,165.4 1323,167.6 1323,169.9 1323.1,172.2 1323.1,174.5 1323.2,176.7 1323.2,179 1323.3,181.3 1323.4,183.6 1323.4,185.8 1323.5,188.1 1323.6,190.4 1323.6,192.7 1323.7,195 1323.8,197.2 1323.9,199.5 1323.9,201.8 1324,204.1 1324.1,206.3 1324.2,208.6 1324.3,210.9 1324.4,213.2 1324.4,215.5 1324.5,217.7 1324.6,220 1324.7,222.3 1324.8,224.6 1325,226.8 1325.1,229.1 1325.2,231.4 1325.4,233.7 1325.5,235.9 1325.7,238.2 1325.8,240.5 1326,242.8 1326.3,245.1 1326.6,247.3 1326.9,249.6 1327.3,251.9 1327.8,254.2 1328.4,256.4 1329.2,258.7 1330.1,261 1331,263.3 1331.8,265.6 1332.9,267.8 1333.9,270.1 1334.5,272.4 1334.6,274.7 1334.7,276.9 1334.7,279.2 1334.9,281.5 1335.1,283.8 1335.4,286 1335.8,288.3 1336.1,290.6 1336.5,292.9 1336.8,295.2 1337.2,297.4 1337.5,299.7 1337.9,302 1338.2,304.3 1338.5,306.5 1338.8,308.8 1338.9,311.1 1339,313.4 1339.1,315.7 1339.2,317.9 1339.2,320.2 1339.2,322.5 1339.3,324.8 1339.4,327 1339.5,329.3 1340,331.6 1340.7,333.9 1341.5,336.1 1342.6,338.4 1344.1,340.7 1345.7,343 1347.6,345.3 1350.2,347.5 1352.5,349.8 1353.2,352.1 1352.8,354.4 1352,356.6 1350.7,358.9 1348.3,361.2 L1294.9,361.2 1292.5,358.9 1291.2,356.6 1290.4,354.4 1290,352.1 1290.7,349.8 1293,347.5 1295.6,345.3 1297.5,343 1299.1,340.7 1300.6,338.4 1301.7,336.1 1302.5,333.9 1303.2,331.6 1303.7,329.3 1303.8,327 1303.9,324.8 1304,322.5 1304,320.2 1304,317.9 1304.1,315.7 1304.2,313.4 1304.3,311.1 1304.4,308.8 1304.7,306.5 1305,304.3 1305.3,302 1305.7,299.7 1306,297.4 1306.4,295.2 1306.7,292.9 1307.1,290.6 1307.4,288.3 1307.8,286 1308.1,283.8 1308.3,281.5 1308.5,279.2 1308.5,276.9 1308.6,274.7 1308.7,272.4 1309.3,270.1 1310.3,267.8 1311.4,265.6 1312.2,263.3 1313.1,261 1314,258.7 1314.8,256.4 1315.4,254.2 1315.9,251.9 1316.3,249.6 1316.6,247.3 1316.9,245.1 1317.2,242.8 1317.4,240.5 1317.5,238.2 1317.7,235.9 1317.8,233.7 1318,231.4 1318.1,229.1 1318.2,226.8 1318.4,224.6 1318.5,222.3 1318.6,220 1318.7,217.7 1318.8,215.5 1318.8,213.2 1318.9,210.9 1319,208.6 1319.1,206.3 1319.2,204.1 1319.3,201.8 1319.3,199.5 1319.4,197.2 1319.5,195 1319.6,192.7 1319.6,190.4 1319.7,188.1 1319.8,185.8 1319.8,183.6 1319.9,181.3 1320,179 1320,176.7 1320.1,174.5 1320.1,172.2 1320.2,169.9 1320.2,167.6 1320.3,165.4 1320.3,163.1 1320.4,160.8 1320.4,158.5 1320.5,156.2 1320.5,154 1320.6,151.7 1320.6,149.4 1320.7,147.1 1320.7,144.9 1320.7,142.6 1320.8,140.3 1320.8,138 1320.8,135.7 1320.9,133.5 1320.9,131.2 1321,128.9 1321,126.6 1321,124.4 1321.1,122.1 1321.1,119.8 1321.1,117.5 1321.1,115.3 1321.2,113 1321.2,110.7 1321.2,108.4 1321.3,106.1 1321.3,103.9 1321.3,101.6 1321.3,99.3 1321.3,97 1321.3,94.8 1321.3,92.5 1321.3,90.2Z" fill="#4a74a2" stroke="#1a1a1a" stroke-width="1.2" stroke-linejoin="round"/><path d="M1308.4,280.5H1334.8" stroke="#1a1a1a" stroke-width="1.5"/><path d="M1304.1,314.5H1339.1" stroke="#1a1a1a" stroke-width="1.5"/><path d="M1296.9,343.8H1346.3" stroke="#1a1a1a" stroke-width="1.5"/><path d="M1447.1,90.2 1447.1,92.5 1447.1,94.8 1447.2,97 1447.3,99.3 1447.4,101.6 1447.5,103.9 1447.6,106.1 1447.7,108.4 1447.8,110.7 1447.9,113 1448,115.3 1448.1,117.5 1448.3,119.8 1448.4,122.1 1448.5,124.4 1448.7,126.6 1448.8,128.9 1448.9,131.2 1449.1,133.5 1449.2,135.7 1449.4,138 1449.5,140.3 1449.7,142.6 1449.9,144.9 1450.1,147.1 1450.3,149.4 1450.5,151.7 1450.7,154 1450.9,156.2 1451.1,158.5 1451.2,160.8 1451.4,163.1 1451.5,165.4 1451.6,167.6 1451.7,169.9 1451.8,172.2 1451.8,174.5 1451.7,176.7 1451.6,179 1451.4,181.3 1451.2,183.6 1450.9,185.8 1450.7,188.1 1450.6,190.4 1450.5,192.7 1450.5,195 1450.6,197.2 1450.6,199.5 1450.8,201.8 1450.9,204.1 1451.1,206.3 1451.3,208.6 1451.5,210.9 1451.7,213.2 1451.9,215.5 1452.2,217.7 1452.4,220 1452.6,222.3 1452.9,224.6 1453.2,226.8 1453.6,229.1 1454,231.4 1454.5,233.7 1454.9,235.9 1455.2,238.2 1455.4,240.5 1455.5,242.8 1455.5,245.1 1455.5,247.3 1455.4,249.6 1455.4,251.9 1455.3,254.2 1455.3,256.4 1455.3,258.7 1455.6,261 1456.1,263.3 1456.7,265.6 1457.4,267.8 1458.1,270.1 1458.7,272.4 1459.1,274.7 1459.6,276.9 1460.1,279.2 1460.5,281.5 1460.9,283.8 1461.4,286 1461.8,288.3 1462.3,290.6 1462.7,292.9 1463.1,295.2 1463.5,297.4 1464,299.7 1464.4,302 1464.8,304.3 1465.3,306.5 1465.8,308.8 1466.3,311.1 1466.8,313.4 1467.3,315.7 1467.8,317.9 1468.3,320.2 1468.7,322.5 1469.1,324.8 1469.4,327 1469.7,329.3 1470.1,331.6 1470.4,333.9 1470.8,336.1 1471.4,338.4 1472.1,340.7 1472.8,343 1473.3,345.3 1473.5,347.5 1473.1,349.8 1472.2,352.1 1470.9,354.4 1469.5,356.6 1467.7,358.9 1465.6,361.2 L1428,361.2 1425.9,358.9 1424.1,356.6 1422.7,354.4 1421.4,352.1 1420.5,349.8 1420.1,347.5 1420.3,345.3 1420.8,343 1421.5,340.7 1422.2,338.4 1422.8,336.1 1423.2,333.9 1423.5,331.6 1423.9,329.3 1424.2,327 1424.5,324.8 1424.9,322.5 1425.3,320.2 1425.8,317.9 1426.3,315.7 1426.8,313.4 1427.3,311.1 1427.8,308.8 1428.3,306.5 1428.8,304.3 1429.2,302 1429.6,299.7 1430.1,297.4 1430.5,295.2 1430.9,292.9 1431.3,290.6 1431.8,288.3 1432.2,286 1432.7,283.8 1433.1,281.5 1433.5,279.2 1434,276.9 1434.5,274.7 1434.9,272.4 1435.5,270.1 1436.2,267.8 1436.9,265.6 1437.5,263.3 1438,261 1438.3,258.7 1438.3,256.4 1438.3,254.2 1438.2,251.9 1438.2,249.6 1438.1,247.3 1438.1,245.1 1438.1,242.8 1438.2,240.5 1438.4,238.2 1438.7,235.9 1439.1,233.7 1439.6,231.4 1440,229.1 1440.4,226.8 1440.7,224.6 1441,222.3 1441.2,220 1441.4,217.7 1441.7,215.5 1441.9,213.2 1442.1,210.9 1442.3,208.6 1442.5,206.3 1442.7,204.1 1442.8,201.8 1443,199.5 1443,197.2 1443.1,195 1443.1,192.7 1443,190.4 1442.9,188.1 1442.7,185.8 1442.4,183.6 1442.2,181.3 1442,179 1441.9,176.7 1441.8,174.5 1441.8,172.2 1441.9,169.9 1442,167.6 1442.1,165.4 1442.2,163.1 1442.4,160.8 1442.5,158.5 1442.7,156.2 1442.9,154 1443.1,151.7 1443.3,149.4 1443.5,147.1 1443.7,144.9 1443.9,142.6 1444.1,140.3 1444.2,138 1444.4,135.7 1444.5,133.5 1444.7,131.2 1444.8,128.9 1444.9,126.6 1445.1,124.4 1445.2,122.1 1445.3,119.8 1445.5,117.5 1445.6,115.3 1445.7,113 1445.8,110.7 1445.9,108.4 1446,106.1 1446.1,103.9 1446.2,101.6 1446.3,99.3 1446.4,97 1446.5,94.8 1446.5,92.5 1446.5,90.2Z" fill="#f9a62c" stroke="#1a1a1a" stroke-width="1.2" stroke-linejoin="round"/><path d="M1438.3,257.7H1455.3" stroke="#1a1a1a" stroke-width="1.5"/><path d="M1428.4,306.2H1465.2" stroke="#1a1a1a" stroke-width="1.5"/><path d="M1422.9,335.5H1470.7" stroke="#1a1a1a" stroke-width="1.5"/><path d="M1556.8,74.8 1556.8,77.2 1556.9,79.6 1556.9,82 1557,84.4 1557,86.8 1557.1,89.2 1557.1,91.6 1557.2,94.1 1557.2,96.5 1557.3,98.9 1557.4,101.3 1557.4,103.7 1557.5,106.1 1557.6,108.5 1557.7,110.9 1557.8,113.3 1557.9,115.7 1558,118.1 1558.1,120.5 1558.3,122.9 1558.5,125.3 1558.8,127.7 1559.1,130.2 1559.4,132.6 1559.7,135 1560.2,137.4 1560.7,139.8 1561.3,142.2 1561.9,144.6 1562.6,147 1563.3,149.4 1564,151.8 1564.6,154.2 1565.2,156.6 1565.8,159 1566.2,161.4 1566.5,163.8 1566.7,166.3 1566.9,168.7 1567.1,171.1 1567.2,173.5 1567.4,175.9 1567.6,178.3 1567.8,180.7 1568,183.1 1568.3,185.5 1568.6,187.9 1568.9,190.3 1569.1,192.7 1569.4,195.1 1569.7,197.5 1570,199.9 1570.3,202.4 1570.6,204.8 1570.8,207.2 1571,209.6 1571.3,212 1571.5,214.4 1571.8,216.8 1572.1,219.2 1572.4,221.6 1572.9,224 1573.5,226.4 1574.2,228.8 1575,231.2 1575.7,233.6 1576.2,236.1 1576.4,238.5 1576.3,240.9 1575.9,243.3 1575.4,245.7 1574.9,248.1 1574.5,250.5 1574.4,252.9 1574.5,255.3 1574.7,257.7 1575,260.1 1575.4,262.5 1575.9,264.9 1576.6,267.3 1577.5,269.7 1578.4,272.2 1579.3,274.6 1580.1,277 1580.9,279.4 1581.7,281.8 1582.5,284.2 1583.3,286.6 1583.8,289 1584.2,291.4 1584.4,293.8 1584.5,296.2 1584.6,298.6 1584.7,301 1584.7,303.4 1584.3,305.8 1583.7,308.3 1583.1,310.7 1582.5,313.1 1582.1,315.5 1581.9,317.9 1581.8,320.3 1581.7,322.7 1581.6,325.1 1581.5,327.5 1581.4,329.9 1581.3,332.3 1581.1,334.7 1581,337.1 1580.9,339.5 1580.7,341.9 1580.5,344.4 1580.1,346.8 1578.9,349.2 1577.3,351.6 1575.6,354 1574,356.4 1572.3,358.8 1570.4,361.2 L1540.8,361.2 1538.9,358.8 1537.2,356.4 1535.6,354 1533.9,351.6 1532.3,349.2 1531.1,346.8 1530.7,344.4 1530.5,341.9 1530.3,339.5 1530.2,337.1 1530.1,334.7 1529.9,332.3 1529.8,329.9 1529.7,327.5 1529.6,325.1 1529.5,322.7 1529.4,320.3 1529.3,317.9 1529.1,315.5 1528.7,313.1 1528.1,310.7 1527.5,308.3 1526.9,305.8 1526.5,303.4 1526.5,301 1526.6,298.6 1526.7,296.2 1526.8,293.8 1527,291.4 1527.4,289 1527.9,286.6 1528.7,284.2 1529.5,281.8 1530.3,279.4 1531.1,277 1531.9,274.6 1532.8,272.2 1533.7,269.7 1534.6,267.3 1535.3,264.9 1535.8,262.5 1536.2,260.1 1536.5,257.7 1536.7,255.3 1536.8,252.9 1536.7,250.5 1536.3,248.1 1535.8,245.7 1535.3,243.3 1534.9,240.9 1534.8,238.5 1535,236.1 1535.5,233.6 1536.2,231.2 1537,228.8 1537.7,226.4 1538.3,224 1538.8,221.6 1539.1,219.2 1539.4,216.8 1539.7,214.4 1539.9,212 1540.2,209.6 1540.4,207.2 1540.6,204.8 1540.9,202.4 1541.2,199.9 1541.5,197.5 1541.8,195.1 1542.1,192.7 1542.3,190.3 1542.6,187.9 1542.9,185.5 1543.2,183.1 1543.4,180.7 1543.6,178.3 1543.8,175.9 1544,173.5 1544.1,171.1 1544.3,168.7 1544.5,166.3 1544.7,163.8 1545,161.4 1545.4,159 1546,156.6 1546.6,154.2 1547.2,151.8 1547.9,149.4 1548.6,147 1549.3,144.6 1549.9,142.2 1550.5,139.8 1551,137.4 1551.5,135 1551.8,132.6 1552.1,130.2 1552.4,127.7 1552.7,125.3 1552.9,122.9 1553.1,120.5 1553.2,118.1 1553.3,115.7 1553.4,113.3 1553.5,110.9 1553.6,108.5 1553.7,106.1 1553.8,103.7 1553.8,101.3 1553.9,98.9 1554,96.5 1554,94.1 1554.1,91.6 1554.1,89.2 1554.2,86.8 1554.2,84.4 1554.3,82 1554.3,79.6 1554.4,77.2 1554.4,74.8Z" fill="#c83639" stroke="#1a1a1a" stroke-width="1.2" stroke-linejoin="round"/><path d="M1538.8,221.7H1572.4" stroke="#1a1a1a" stroke-width="1.5"/><path d="M1531.7,275.2H1579.5" stroke="#1a1a1a" stroke-width="1.5"/><path d="M1529.1,315.7H1582.1" stroke="#1a1a1a" stroke-width="1.5"/><path d="M1321.6,375.2V388.5" stroke="#222" stroke-width="1.3"/><path d="M1446.8,375.2V388.5" stroke="#222" stroke-width="1.3"/><path d="M1555.6,375.2V388.5" stroke="#222" stroke-width="1.3"/><text transform="translate(1113,195) rotate(-90)" font-size="29" text-anchor="middle" textLength="261" lengthAdjust="spacingAndGlyphs">Number of triplets in</text><text transform="translate(1146,196.5) rotate(-90)" font-size="29" text-anchor="middle" textLength="198" lengthAdjust="spacingAndGlyphs">A compartment</text><text transform="translate(1300.6,403.5) rotate(-90)" font-size="28" text-anchor="end">Hi-C-</text><text transform="translate(1328.6,403.5) rotate(-90)" font-size="28" text-anchor="end">preferred</text><text transform="translate(1356.6,403.5) rotate(-90)" font-size="28" text-anchor="end">regions</text><text transform="translate(1439.8,403.5) rotate(-90)" font-size="28" text-anchor="end">Common</text><text transform="translate(1467.8,403.5) rotate(-90)" font-size="28" text-anchor="end">regions</text><text transform="translate(1534.6,403.5) rotate(-90)" font-size="28" text-anchor="end">GAM-</text><text transform="translate(1562.6,403.5) rotate(-90)" font-size="28" text-anchor="end">preferred</text><text transform="translate(1590.6,403.5) rotate(-90)" font-size="28" text-anchor="end">regions</text><rect x="1808" y="61.9" width="352.4" height="315.1" fill="none" stroke="#222" stroke-width="1.6"/><path d="M1797.5,80.3H1808" stroke="#222" stroke-width="1.3"/><text x="1784" y="87.8" font-size="22" text-anchor="end" textLength="64" lengthAdjust="spacingAndGlyphs">4,000</text><path d="M1797.5,151.5H1808" stroke="#222" stroke-width="1.3"/><text x="1784" y="159" font-size="22" text-anchor="end" textLength="63.5" lengthAdjust="spacingAndGlyphs">3,000</text><path d="M1797.5,221.5H1808" stroke="#222" stroke-width="1.3"/><text x="1784" y="229" font-size="22" text-anchor="end" textLength="63.5" lengthAdjust="spacingAndGlyphs">2,000</text><path d="M1797.5,292H1808" stroke="#222" stroke-width="1.3"/><text x="1784" y="299.5" font-size="22" text-anchor="end" textLength="58.5" lengthAdjust="spacingAndGlyphs">1,000</text><path d="M1797.5,362.2H1808" stroke="#222" stroke-width="1.3"/><text x="1784" y="369.7" font-size="22" text-anchor="end" textLength="15" lengthAdjust="spacingAndGlyphs">0</text><path d="M1876.9,96.5 1876.9,98.7 1876.9,101 1876.9,103.2 1876.9,105.4 1876.9,107.7 1876.9,109.9 1876.9,112.2 1876.9,114.4 1876.9,116.6 1876.9,118.9 1876.9,121.1 1876.9,123.3 1876.9,125.6 1876.9,127.8 1876.9,130 1876.9,132.3 1876.9,134.5 1876.9,136.8 1876.9,139 1876.9,141.2 1876.9,143.5 1876.9,145.7 1877,147.9 1877,150.2 1877,152.4 1877,154.6 1877,156.9 1877,159.1 1877.1,161.3 1877.1,163.6 1877.1,165.8 1877.1,168.1 1877.1,170.3 1877.2,172.5 1877.2,174.8 1877.2,177 1877.2,179.2 1877.3,181.5 1877.3,183.7 1877.3,185.9 1877.3,188.2 1877.4,190.4 1877.4,192.7 1877.4,194.9 1877.5,197.1 1877.5,199.4 1877.6,201.6 1877.7,203.8 1877.8,206.1 1877.9,208.3 1878,210.5 1878.2,212.8 1878.5,215 1879,217.3 1879.5,219.5 1879.8,221.7 1880,224 1880.2,226.2 1880.2,228.4 1880.1,230.7 1880.1,232.9 1880,235.1 1879.9,237.4 1879.8,239.6 1879.8,241.8 1879.8,244.1 1879.8,246.3 1879.9,248.6 1879.9,250.8 1880,253 1880.1,255.3 1880.2,257.5 1880.3,259.7 1880.4,262 1880.6,264.2 1880.8,266.4 1881.3,268.7 1882,270.9 1882.7,273.2 1883.7,275.4 1885,277.6 1886.1,279.9 1886.8,282.1 1887.1,284.3 1887.2,286.6 1887.3,288.8 1887.4,291 1887.6,293.3 1887.7,295.5 1887.9,297.8 1888.1,300 1888.3,302.2 1888.5,304.5 1888.8,306.7 1889.2,308.9 1889.9,311.2 1890.9,313.4 1892,315.6 1893.2,317.9 1894.4,320.1 1895.6,322.3 1896.7,324.6 1897.7,326.8 1898.8,329.1 1900,331.3 1901.3,333.5 1902.9,335.8 1904.8,338 1907.4,340.2 1910.8,342.5 1914.5,344.7 1918,346.9 1921.7,349.2 1925.6,351.4 1930.4,353.7 1935.3,355.9 1936.7,358.1 1932.9,360.4 1926.1,362.6 L1827.1,362.6 1820.3,360.4 1816.5,358.1 1817.9,355.9 1822.8,353.7 1827.6,351.4 1831.5,349.2 1835.2,346.9 1838.7,344.7 1842.4,342.5 1845.8,340.2 1848.4,338 1850.3,335.8 1851.9,333.5 1853.2,331.3 1854.4,329.1 1855.5,326.8 1856.5,324.6 1857.6,322.3 1858.8,320.1 1860,317.9 1861.2,315.6 1862.3,313.4 1863.3,311.2 1864,308.9 1864.4,306.7 1864.7,304.5 1864.9,302.2 1865.1,300 1865.3,297.8 1865.5,295.5 1865.6,293.3 1865.8,291 1865.9,288.8 1866,286.6 1866.1,284.3 1866.4,282.1 1867.1,279.9 1868.2,277.6 1869.5,275.4 1870.5,273.2 1871.2,270.9 1871.9,268.7 1872.4,266.4 1872.6,264.2 1872.8,262 1872.9,259.7 1873,257.5 1873.1,255.3 1873.2,253 1873.3,250.8 1873.3,248.6 1873.4,246.3 1873.4,244.1 1873.4,241.8 1873.4,239.6 1873.3,237.4 1873.2,235.1 1873.1,232.9 1873.1,230.7 1873,228.4 1873,226.2 1873.2,224 1873.4,221.7 1873.7,219.5 1874.2,217.3 1874.7,215 1875,212.8 1875.2,210.5 1875.3,208.3 1875.4,206.1 1875.5,203.8 1875.6,201.6 1875.7,199.4 1875.7,197.1 1875.8,194.9 1875.8,192.7 1875.8,190.4 1875.9,188.2 1875.9,185.9 1875.9,183.7 1875.9,181.5 1876,179.2 1876,177 1876,174.8 1876,172.5 1876.1,170.3 1876.1,168.1 1876.1,165.8 1876.1,163.6 1876.1,161.3 1876.2,159.1 1876.2,156.9 1876.2,154.6 1876.2,152.4 1876.2,150.2 1876.2,147.9 1876.3,145.7 1876.3,143.5 1876.3,141.2 1876.3,139 1876.3,136.8 1876.3,134.5 1876.3,132.3 1876.3,130 1876.3,127.8 1876.3,125.6 1876.3,123.3 1876.3,121.1 1876.3,118.9 1876.3,116.6 1876.3,114.4 1876.3,112.2 1876.3,109.9 1876.3,107.7 1876.3,105.4 1876.3,103.2 1876.3,101 1876.3,98.7 1876.3,96.5Z" fill="#4a74a2" stroke="#1a1a1a" stroke-width="1.2" stroke-linejoin="round"/><path d="M1864.3,307.4H1888.9" stroke="#1a1a1a" stroke-width="1.5"/><path d="M1848.9,337.5H1904.3" stroke="#1a1a1a" stroke-width="1.5"/><path d="M1825.7,352.4H1927.5" stroke="#1a1a1a" stroke-width="1.5"/><path d="M1993.8,123.8 1993.8,125.8 1993.8,127.8 1993.9,129.8 1993.9,131.8 1994,133.8 1994,135.8 1994.1,137.8 1994.1,139.9 1994.2,141.9 1994.2,143.9 1994.3,145.9 1994.3,147.9 1994.4,149.9 1994.4,151.9 1994.5,153.9 1994.6,155.9 1994.6,157.9 1994.7,159.9 1994.7,161.9 1994.8,163.9 1994.8,165.9 1994.8,167.9 1994.9,170 1994.9,172 1995,174 1995,176 1995,178 1995.1,180 1995.1,182 1995.2,184 1995.2,186 1995.3,188 1995.3,190 1995.4,192 1995.4,194 1995.5,196 1995.6,198 1995.6,200.1 1995.7,202.1 1995.8,204.1 1995.8,206.1 1995.9,208.1 1996,210.1 1996.1,212.1 1996.2,214.1 1996.3,216.1 1996.4,218.1 1996.6,220.1 1996.8,222.1 1997.1,224.1 1997.5,226.1 1997.9,228.1 1998.2,230.2 1998.5,232.2 1998.8,234.2 1999.1,236.2 1999.3,238.2 1999.4,240.2 1999.4,242.2 1999.1,244.2 1998.8,246.2 1998.4,248.2 1998.1,250.2 1997.9,252.2 1997.9,254.2 1997.9,256.2 1998,258.3 1998,260.3 1998.1,262.3 1998.2,264.3 1998.3,266.3 1998.4,268.3 1998.7,270.3 1999.3,272.3 2000.3,274.3 2001.4,276.3 2002.6,278.3 2003.6,280.3 2004.4,282.3 2004.9,284.3 2004.9,286.3 2004.6,288.4 2004,290.4 2003.3,292.4 2002.8,294.4 2002.6,296.4 2002.7,298.4 2002.9,300.4 2003.2,302.4 2003.5,304.4 2004,306.4 2004.5,308.4 2005,310.4 2005.5,312.4 2006.1,314.4 2006.9,316.4 2007.9,318.5 2008.9,320.5 2010,322.5 2011.2,324.5 2012.3,326.5 2013.5,328.5 2014.6,330.5 2015.6,332.5 2016.8,334.5 2018.3,336.5 2020.1,338.5 2022.1,340.5 2024.4,342.5 2027.5,344.5 2031.1,346.5 2034.5,348.6 2037.2,350.6 2039.7,352.6 2041.6,354.6 2041.7,356.6 2039.7,358.6 2036.5,360.6 2031.1,362.6 L1955.9,362.6 1950.5,360.6 1947.3,358.6 1945.3,356.6 1945.4,354.6 1947.3,352.6 1949.8,350.6 1952.5,348.6 1955.9,346.5 1959.5,344.5 1962.6,342.5 1964.9,340.5 1966.9,338.5 1968.7,336.5 1970.2,334.5 1971.4,332.5 1972.4,330.5 1973.5,328.5 1974.7,326.5 1975.8,324.5 1977,322.5 1978.1,320.5 1979.1,318.5 1980.1,316.4 1980.9,314.4 1981.5,312.4 1982,310.4 1982.5,308.4 1983,306.4 1983.5,304.4 1983.8,302.4 1984.1,300.4 1984.3,298.4 1984.4,296.4 1984.2,294.4 1983.7,292.4 1983,290.4 1982.4,288.4 1982.1,286.3 1982.1,284.3 1982.6,282.3 1983.4,280.3 1984.4,278.3 1985.6,276.3 1986.7,274.3 1987.7,272.3 1988.3,270.3 1988.6,268.3 1988.7,266.3 1988.8,264.3 1988.9,262.3 1989,260.3 1989,258.3 1989.1,256.2 1989.1,254.2 1989.1,252.2 1988.9,250.2 1988.6,248.2 1988.2,246.2 1987.9,244.2 1987.6,242.2 1987.6,240.2 1987.7,238.2 1987.9,236.2 1988.2,234.2 1988.5,232.2 1988.8,230.2 1989.1,228.1 1989.5,226.1 1989.9,224.1 1990.2,222.1 1990.4,220.1 1990.6,218.1 1990.7,216.1 1990.8,214.1 1990.9,212.1 1991,210.1 1991.1,208.1 1991.2,206.1 1991.2,204.1 1991.3,202.1 1991.4,200.1 1991.4,198 1991.5,196 1991.6,194 1991.6,192 1991.7,190 1991.7,188 1991.8,186 1991.8,184 1991.9,182 1991.9,180 1992,178 1992,176 1992,174 1992.1,172 1992.1,170 1992.2,167.9 1992.2,165.9 1992.2,163.9 1992.3,161.9 1992.3,159.9 1992.4,157.9 1992.4,155.9 1992.5,153.9 1992.6,151.9 1992.6,149.9 1992.7,147.9 1992.7,145.9 1992.8,143.9 1992.8,141.9 1992.9,139.9 1992.9,137.8 1993,135.8 1993,133.8 1993.1,131.8 1993.1,129.8 1993.2,127.8 1993.2,125.8 1993.2,123.8Z" fill="#f9a62c" stroke="#1a1a1a" stroke-width="1.2" stroke-linejoin="round"/><path d="M1984.4,296.3H2002.6" stroke="#1a1a1a" stroke-width="1.5"/><path d="M1971,333.3H2016" stroke="#1a1a1a" stroke-width="1.5"/><path d="M1950.4,350.1H2036.6" stroke="#1a1a1a" stroke-width="1.5"/><path d="M2111.3,96.5 2111.3,98.7 2111.4,101 2111.5,103.2 2111.5,105.4 2111.6,107.7 2111.6,109.9 2111.6,112.2 2111.7,114.4 2111.7,116.6 2111.7,118.9 2111.7,121.1 2111.7,123.3 2111.8,125.6 2111.8,127.8 2111.8,130 2111.8,132.3 2111.8,134.5 2111.8,136.8 2111.8,139 2111.8,141.2 2111.8,143.5 2111.9,145.7 2111.9,147.9 2111.9,150.2 2111.9,152.4 2111.9,154.6 2111.9,156.9 2112,159.1 2112,161.3 2112,163.6 2112,165.8 2112.1,168.1 2112.1,170.3 2112.1,172.5 2112.2,174.8 2112.2,177 2112.2,179.2 2112.3,181.5 2112.3,183.7 2112.4,185.9 2112.4,188.2 2112.5,190.4 2112.6,192.7 2112.6,194.9 2112.7,197.1 2112.8,199.4 2112.9,201.6 2113,203.8 2113.1,206.1 2113.2,208.3 2113.3,210.5 2113.4,212.8 2113.5,215 2113.8,217.3 2114.1,219.5 2114.4,221.7 2114.8,224 2115.2,226.2 2115.5,228.4 2115.7,230.7 2115.9,232.9 2116,235.1 2116,237.4 2116.1,239.6 2116.2,241.8 2116.2,244.1 2116.2,246.3 2116.3,248.6 2116.3,250.8 2116.3,253 2116.4,255.3 2116.4,257.5 2116.5,259.7 2116.5,262 2116.6,264.2 2116.7,266.4 2116.9,268.7 2117.1,270.9 2117.3,273.2 2117.6,275.4 2117.9,277.6 2118.2,279.9 2118.5,282.1 2118.8,284.3 2119.1,286.6 2119.4,288.8 2119.7,291 2120,293.3 2120.3,295.5 2120.7,297.8 2121.1,300 2121.4,302.2 2121.8,304.5 2122.1,306.7 2122.4,308.9 2122.7,311.2 2123,313.4 2123.2,315.6 2123.4,317.9 2123.6,320.1 2123.7,322.3 2123.9,324.6 2124.1,326.8 2124.3,329.1 2124.5,331.3 2124.7,333.5 2124.9,335.8 2125.2,338 2125.5,340.2 2126,342.5 2126.6,344.7 2127.2,346.9 2127.6,349.2 2127.8,351.4 2127.5,353.7 2126.8,355.9 2126,358.1 2125,360.4 2123.9,362.6 L2098.1,362.6 2097,360.4 2096,358.1 2095.2,355.9 2094.5,353.7 2094.2,351.4 2094.4,349.2 2094.8,346.9 2095.4,344.7 2096,342.5 2096.5,340.2 2096.8,338 2097.1,335.8 2097.3,333.5 2097.5,331.3 2097.7,329.1 2097.9,326.8 2098.1,324.6 2098.3,322.3 2098.4,320.1 2098.6,317.9 2098.8,315.6 2099,313.4 2099.3,311.2 2099.6,308.9 2099.9,306.7 2100.2,304.5 2100.6,302.2 2100.9,300 2101.3,297.8 2101.7,295.5 2102,293.3 2102.3,291 2102.6,288.8 2102.9,286.6 2103.2,284.3 2103.5,282.1 2103.8,279.9 2104.1,277.6 2104.4,275.4 2104.7,273.2 2104.9,270.9 2105.1,268.7 2105.3,266.4 2105.4,264.2 2105.5,262 2105.5,259.7 2105.6,257.5 2105.6,255.3 2105.7,253 2105.7,250.8 2105.7,248.6 2105.8,246.3 2105.8,244.1 2105.8,241.8 2105.9,239.6 2106,237.4 2106,235.1 2106.1,232.9 2106.3,230.7 2106.5,228.4 2106.8,226.2 2107.2,224 2107.6,221.7 2107.9,219.5 2108.2,217.3 2108.5,215 2108.6,212.8 2108.7,210.5 2108.8,208.3 2108.9,206.1 2109,203.8 2109.1,201.6 2109.2,199.4 2109.3,197.1 2109.4,194.9 2109.4,192.7 2109.5,190.4 2109.6,188.2 2109.6,185.9 2109.7,183.7 2109.7,181.5 2109.8,179.2 2109.8,177 2109.8,174.8 2109.9,172.5 2109.9,170.3 2109.9,168.1 2110,165.8 2110,163.6 2110,161.3 2110,159.1 2110.1,156.9 2110.1,154.6 2110.1,152.4 2110.1,150.2 2110.1,147.9 2110.1,145.7 2110.2,143.5 2110.2,141.2 2110.2,139 2110.2,136.8 2110.2,134.5 2110.2,132.3 2110.2,130 2110.2,127.8 2110.2,125.6 2110.3,123.3 2110.3,121.1 2110.3,118.9 2110.3,116.6 2110.3,114.4 2110.4,112.2 2110.4,109.9 2110.4,107.7 2110.5,105.4 2110.5,103.2 2110.6,101 2110.7,98.7 2110.7,96.5Z" fill="#c83639" stroke="#1a1a1a" stroke-width="1.2" stroke-linejoin="round"/><path d="M2105.4,263.7H2116.6" stroke="#1a1a1a" stroke-width="1.5"/><path d="M2099.4,310.2H2122.6" stroke="#1a1a1a" stroke-width="1.5"/><path d="M2096.7,338.8H2125.3" stroke="#1a1a1a" stroke-width="1.5"/><path d="M1876.6,377V388.5" stroke="#222" stroke-width="1.3"/><path d="M1993.5,377V388.5" stroke="#222" stroke-width="1.3"/><path d="M2111,377V388.5" stroke="#222" stroke-width="1.3"/><text transform="translate(1674,219) rotate(-90)" font-size="29" text-anchor="middle" textLength="261" lengthAdjust="spacingAndGlyphs">Number of triplets in</text><text transform="translate(1707,219) rotate(-90)" font-size="29" text-anchor="middle" textLength="195" lengthAdjust="spacingAndGlyphs">B compartment</text><text transform="translate(1855.6,408) rotate(-90)" font-size="28" text-anchor="end">Hi-C-</text><text transform="translate(1883.6,408) rotate(-90)" font-size="28" text-anchor="end">preferred</text><text transform="translate(1911.6,408) rotate(-90)" font-size="28" text-anchor="end">regions</text><text transform="translate(1986.5,408) rotate(-90)" font-size="28" text-anchor="end">Common</text><text transform="translate(2014.5,408) rotate(-90)" font-size="28" text-anchor="end">regions</text><text transform="translate(2090,408) rotate(-90)" font-size="28" text-anchor="end">GAM-</text><text transform="translate(2118,408) rotate(-90)" font-size="28" text-anchor="end">preferred</text><text transform="translate(2146,408) rotate(-90)" font-size="28" text-anchor="end">regions</text><text x="1122" y="606.5" font-size="40" font-weight="bold" stroke="#000" stroke-width="1.6">c</text><rect x="1285.1" y="599" width="809.2" height="232.5" fill="none" stroke="#222" stroke-width="1.6"/><path d="M1271.6,641.2H1285.1" stroke="#444" stroke-width="1.3"/><text x="1258.5" y="648.7" font-size="22" text-anchor="end" textLength="64" lengthAdjust="spacingAndGlyphs">4,000</text><path d="M1271.6,730.8H1285.1" stroke="#444" stroke-width="1.3"/><text x="1258.5" y="738.3" font-size="22" text-anchor="end" textLength="63.5" lengthAdjust="spacingAndGlyphs">2,000</text><path d="M1271.6,820.4H1285.1" stroke="#444" stroke-width="1.3"/><text x="1258.5" y="827.9" font-size="22" text-anchor="end" textLength="15" lengthAdjust="spacingAndGlyphs">0</text><text x="1332.6" y="627.5" font-size="22" text-anchor="middle" textLength="63.1" lengthAdjust="spacingAndGlyphs">8,080</text><text x="1411.9" y="627.5" font-size="22" text-anchor="middle" textLength="58.8" lengthAdjust="spacingAndGlyphs">8,365</text><text x="1491.2" y="627.5" font-size="22" text-anchor="middle" textLength="60.5" lengthAdjust="spacingAndGlyphs">12,512</text><text x="1570.5" y="627.5" font-size="22" text-anchor="middle" textLength="60.4" lengthAdjust="spacingAndGlyphs">8,889</text><text x="1649.8" y="627.5" font-size="22" text-anchor="middle" textLength="58.5" lengthAdjust="spacingAndGlyphs">7,057</text><text x="1729.1" y="627.5" font-size="22" text-anchor="middle" textLength="67.5" lengthAdjust="spacingAndGlyphs">17,930</text><text x="1808.5" y="627.5" font-size="22" text-anchor="middle" textLength="58.3" lengthAdjust="spacingAndGlyphs">8,523</text><text x="1887.8" y="627.5" font-size="22" text-anchor="middle" textLength="68" lengthAdjust="spacingAndGlyphs">16,023</text><text x="1967.1" y="627.5" font-size="22" text-anchor="middle" textLength="67.5" lengthAdjust="spacingAndGlyphs">10,795</text><text x="2046.4" y="627.5" font-size="22" text-anchor="middle" textLength="39.3" lengthAdjust="spacingAndGlyphs">278</text><path d="M1306.6,820.4H1359M1304.9,816.1H1358.8M1305.9,811.8H1357.4M1308.1,807.5H1358.9M1309,803.2H1354.7M1311.9,798.9H1354.4M1313,794.6H1351.1M1314.4,790.3H1351.6M1314.3,786H1348.5M1315.1,781.7H1346M1316.6,777.4H1345.9M1318.8,773.1H1345.1M1322.1,768.8H1343.1M1319.9,764.5H1341.3M1324.3,760.2H1341M1323.6,755.9H1339M1325.5,751.6H1337.4M1329.2,747.3H1336.3M1328.5,743H1337.8M1328.5,738.7H1335.8M1330.1,734.4H1335.3M1329.1,730.1H1334.6M1332.5,725.8H1332.5M1386.8,820.4H1439.8M1383.8,816.1H1439.5M1384,811.8H1439.4M1384.6,807.5H1436.9M1387.4,803.2H1437.3M1390.6,798.9H1433M1389.5,794.6H1434.1M1389.4,790.3H1431.2M1393.3,786H1432M1395.6,781.7H1428.7M1395.4,777.4H1427.6M1399.1,773.1H1426.2M1397.9,768.8H1426M1399.4,764.5H1424.1M1399.3,760.2H1423.1M1401.3,755.9H1423.4M1404,751.6H1420.7M1405.1,747.3H1419.2M1406.6,743H1418.6M1406.9,738.7H1416M1407.6,734.4H1414.5M1405.5,730.1H1415.3M1408.4,725.8H1414.4M1465.9,820.4H1515.9M1462.2,816.1H1520.1M1462.2,811.8H1519.2M1463.9,807.5H1518.7M1466.6,803.2H1516.2M1466.9,798.9H1514.7M1466.3,794.6H1512.1M1470.4,790.3H1509.7M1472,786H1509.3M1472.8,781.7H1509.5M1473.8,777.4H1509.8M1471.7,773.1H1510.4M1476.3,768.8H1507.9M1474.8,764.5H1507M1474.7,760.2H1507.9M1476,755.9H1505.6M1476.5,751.6H1504M1476.9,747.3H1505.5M1479.3,743H1504.2M1480.5,738.7H1501.1M1481,734.4H1500.2M1482.7,730.1H1499.3M1483.5,725.8H1496.8M1484,721.5H1499.5M1485.4,717.2H1494.8M1487.7,712.9H1497.1M1486.3,708.6H1494M1488.3,704.3H1491M1542.9,820.4H1598.3M1542.9,816.1H1597.9M1542.6,811.8H1597.9M1543.3,807.5H1597.9M1545.2,803.2H1595.3M1547.2,798.9H1595.4M1549.2,794.6H1593.3M1548.5,790.3H1590M1551.4,786H1592.1M1551,781.7H1590.6M1553.1,777.4H1590M1553.9,773.1H1587.8M1555,768.8H1586.4M1554.5,764.5H1588.3M1554.8,760.2H1589.8M1555.9,755.9H1585.6M1552.1,751.6H1587.8M1553.6,747.3H1586.1M1557.2,743H1582.8M1554.6,738.7H1584.1M1558.6,734.4H1582.2M1559.8,730.1H1580.2M1559,725.8H1579.9M1560.9,721.5H1576.8M1564,717.2H1577.7M1565.1,712.9H1575.2M1565.1,708.6H1573.8M1566.3,704.3H1573.9M1623.7,820.4H1675.8M1621,816.1H1676.2M1622.9,811.8H1677.7M1623.7,807.5H1675.7M1627,803.2H1674.1M1624.6,798.9H1671.3M1625.9,794.6H1667M1628.5,790.3H1672.2M1630,786H1668.2M1629.5,781.7H1670.4M1631.7,777.4H1668.2M1632.1,773.1H1667.5M1633.9,768.8H1667.5M1633.8,764.5H1664.8M1634.8,760.2H1664.7M1636.2,755.9H1663.3M1635.2,751.6H1664.3M1634.5,747.3H1665.7M1639.4,743H1661.5M1639.8,738.7H1661.4M1636.7,734.4H1659.9M1641.3,730.1H1658.4M1641.3,725.8H1656.7M1643.6,721.5H1657.3M1644.8,717.2H1655.3M1646.8,712.9H1654.1M1644.8,708.6H1652M1647.8,704.3H1655.1M1647.5,700H1654.3M1646.9,695.7H1653.2M1647.7,691.4H1651.4M1705.2,820.4H1752.7M1701.8,816.1H1755M1704.9,811.8H1754M1704.1,807.5H1753.6M1705.2,803.2H1751.2M1704.4,798.9H1752.4M1705.4,794.6H1753M1704.5,790.3H1756.5M1702.9,786H1754.2M1704.5,781.7H1754.1M1704.5,777.4H1753.1M1710,773.1H1750.6M1708.7,768.8H1747.9M1711,764.5H1746.1M1710.8,760.2H1747.8M1712.5,755.9H1746.1M1716.8,751.6H1743.8M1716.8,747.3H1744.8M1717,743H1740.3M1716.6,738.7H1740M1721.1,734.4H1740.4M1718.7,730.1H1737.2M1720.1,725.8H1737.9M1721.3,721.5H1737M1722.7,717.2H1735.6M1723.1,712.9H1735.4M1723.8,708.6H1735M1727.2,704.3H1734.3M1725.6,700H1730.6M1726.9,695.7H1729.4M1725.3,691.4H1732.3M1728.9,687.1H1730.2M1784.7,820.4H1831.4M1779.1,816.1H1836.2M1780.2,811.8H1835M1780.6,807.5H1835M1781.9,803.2H1837.8M1782.3,798.9H1835.4M1782,794.6H1835.4M1781.3,790.3H1834.7M1780.6,786H1832.7M1783.2,781.7H1834.5M1781.9,777.4H1836.6M1778.9,773.1H1834.7M1780.9,768.8H1836.7M1780.2,764.5H1837.6M1781.5,760.2H1834.2M1780.4,755.9H1836.3M1782.7,751.6H1832.3M1784.6,747.3H1834.8M1785.8,743H1832.4M1784.9,738.7H1830.2M1789.8,734.4H1830.2M1790.5,730.1H1827.6M1794.9,725.8H1820M1800,721.5H1817.7M1799.5,717.2H1817.2M1802.2,712.9H1813.8M1801.8,708.6H1813.9M1803,704.3H1813.2M1802.6,700H1812.8M1803,695.7H1810.9M1805.2,691.4H1812.8M1804.2,687.1H1810.7M1862.8,820.4H1912.3M1859.6,816.1H1914.6M1861.3,811.8H1914.8M1862.2,807.5H1914.1M1860.9,803.2H1913.1M1863.2,798.9H1913.6M1862.6,794.6H1911.7M1861.5,790.3H1912.6M1862.4,786H1909.4M1863.7,781.7H1913.2M1861.8,777.4H1910.4M1862.8,773.1H1910.3M1864.3,768.8H1910.7M1862.8,764.5H1912.5M1863.7,760.2H1911.4M1865.1,755.9H1907.6M1865.6,751.6H1909.9M1869.3,747.3H1906.2M1871.3,743H1904.4M1873.1,738.7H1905M1873.3,734.4H1898.9M1875,730.1H1897.5M1879.2,725.8H1898.3M1879,721.5H1893.5M1881.7,717.2H1895.2M1878.4,712.9H1894.1M1880.6,708.6H1894.9M1880.5,704.3H1893.3M1879.9,700H1892.5M1884.1,695.7H1894.3M1882.9,691.4H1891M1882.1,687.1H1890.5M1885.6,682.8H1889.8M1942.8,820.4H1995.5M1938.5,816.1H1994.5M1938.4,811.8H1994.9M1938,807.5H1995.1M1938.1,803.2H1995.5M1939.8,798.9H1994.5M1940.2,794.6H1992.8M1939.7,790.3H1992.9M1940.3,786H1993.5M1940.8,781.7H1991.6M1940.7,777.4H1991.8M1939.7,773.1H1993.3M1937.6,768.8H1994M1940.3,764.5H1993.8M1940.2,760.2H1992.9M1940.6,755.9H1991.9M1942.4,751.6H1991.2M1942.7,747.3H1990.2M1945.7,743H1988.4M1946.6,738.7H1987.7M1946.6,734.4H1986M1951.8,730.1H1983.1M1954.9,725.8H1978.9M1956.3,721.5H1978.3M1957.6,717.2H1977.4M1955.4,712.9H1977.5M1959.2,708.6H1977.8M1958.4,704.3H1974.1M1959.6,700H1975.6M1955.6,695.7H1975.8M1957.6,691.4H1972.9M1959.4,687.1H1975.6M1960.4,682.8H1973.6M1963.8,678.5H1974.7M1962,674.2H1971.7M1961.2,669.9H1970.4M1965.1,665.6H1970.1M2023.7,820.4H2069.4M2021.4,816.1H2072.3M2022.3,811.8H2072.6M2022.3,807.5H2070.6M2022.4,803.2H2069.5M2020,798.9H2071.4M2022.3,794.6H2070.8M2020,790.3H2070.1M2021.2,786H2069.7M2018.8,781.7H2070.6M2022.7,777.4H2071.8M2019.6,773.1H2072.4M2019.5,768.8H2070.6M2016.6,764.5H2076.7M2016.9,760.2H2079M2019.9,755.9H2074.8M2021.2,751.6H2073M2021.8,747.3H2070.3M2023.9,743H2072.6M2022.8,738.7H2069.7M2023.5,734.4H2071.3M2024.6,730.1H2070M2026.1,725.8H2065.2M2029.8,721.5H2063.7M2033.8,717.2H2058.3M2031.9,712.9H2060.2M2032.8,708.6H2057.2M2035.6,704.3H2059.2M2036.7,700H2056.1M2039.7,695.7H2054.1M2042.1,691.4H2050.9M2041.9,687.1H2050.1M2043.9,682.8H2048.8M1332.7,721.5h0M1332.2,650.2h0M1333.8,661.4h0M1333.1,672.6h0M1331.9,679.3h0M1332.6,686h0M1332.9,692.7h0M1332.5,699.4h0M1333,706.2h0M1332.6,712.9h0M1413.3,654.6h0M1411.4,661.4h0M1411.5,688.2h0M1412,692.7h0M1412.2,697.2h0M1411.8,703.9h0M1411.8,710.6h0M1412.3,717.4h0M1491.2,700h0M1491.3,656.9h0M1490.8,665.8h0M1491.5,672.6h0M1490.9,681.5h0M1491.1,686h0M1490.6,690.5h0M1570.1,650.2h0M1570.7,665.8h0M1570.7,672.6h0M1571.7,686h0M1569.7,692.7h0M1571.1,699.4h0M1651.4,687.1h0M1650.2,639h0M1649.8,650.2h0M1649.5,659.1h0M1649.5,665.8h0M1650.8,672.6h0M1650.1,681.5h0M1728.1,650.2h0M1728.9,659.1h0M1728.7,663.6h0M1729.5,672.6h0M1730.5,681.5h0M1808.1,650.2h0M1807.9,652.4h0M1809,659.1h0M1808.1,668.1h0M1809.4,677h0M1886.6,678.5h0M1887.7,661.4h0M1887.7,663.6h0M1967.1,651.5h0M2046.5,645.7h0M2045.8,646.6h0M2046.4,663.6h0" stroke="#808080" stroke-width="8" stroke-linecap="round" fill="none"/><path d="M1321.7,759h21.8M1312.4,789.9h40.5M1306.1,808.3h53.1M1398.7,757.2h26.5M1390.8,787.2h42.1M1384.7,807h54.5M1475.3,750.1h31.8M1469.9,781h42.7M1464.6,803.4h53.2M1552.1,749.2h36.9M1549.4,780.1h42.3M1544,802.9h53.1M1633.5,747.8h32.6M1628.9,780.1h42M1623.9,802.9h51.9M1713.6,746.5h31.1M1703.4,779.2h51.5M1703.4,802.5h51.5M1782.1,743.8h52.7M1780,776h56.9M1779.3,799.8h58.3M1868.9,743.3h37.8M1862,776h51.5M1861.2,800.2h53.2M1945.3,738h43.5M1938.8,768.9h56.6M1939,794h56.2M2021.5,732.6h49.7M2014.2,761.3h64.4M2020.4,788.1h52.1" stroke="#111" stroke-width="2" fill="none"/><rect x="1285.1" y="840.6" width="809.2" height="232" fill="none" stroke="#222" stroke-width="1.6"/><path d="M1271.6,882.4H1285.1" stroke="#444" stroke-width="1.3"/><text x="1258.5" y="889.9" font-size="22" text-anchor="end" textLength="64" lengthAdjust="spacingAndGlyphs">4,000</text><path d="M1271.6,972H1285.1" stroke="#444" stroke-width="1.3"/><text x="1258.5" y="979.5" font-size="22" text-anchor="end" textLength="63.5" lengthAdjust="spacingAndGlyphs">2,000</text><path d="M1271.6,1061.6H1285.1" stroke="#444" stroke-width="1.3"/><text x="1258.5" y="1069.1" font-size="22" text-anchor="end" textLength="15" lengthAdjust="spacingAndGlyphs">0</text><text x="1332.6" y="868.4" font-size="22" text-anchor="middle" textLength="40.5" lengthAdjust="spacingAndGlyphs">944</text><text x="1411.9" y="868.4" font-size="22" text-anchor="middle" textLength="39.5" lengthAdjust="spacingAndGlyphs">925</text><text x="1491.2" y="868.4" font-size="22" text-anchor="middle" textLength="40.3" lengthAdjust="spacingAndGlyphs">658</text><text x="1570.5" y="868.4" font-size="22" text-anchor="middle" textLength="41.5" lengthAdjust="spacingAndGlyphs">504</text><text x="1649.8" y="868.4" font-size="22" text-anchor="middle" textLength="34.8" lengthAdjust="spacingAndGlyphs">381</text><text x="1729.1" y="868.4" font-size="22" text-anchor="middle" textLength="52.5" lengthAdjust="spacingAndGlyphs">1,225</text><text x="1808.5" y="868.4" font-size="22" text-anchor="middle" textLength="41" lengthAdjust="spacingAndGlyphs">302</text><text x="1887.8" y="868.4" font-size="22" text-anchor="middle" textLength="40.3" lengthAdjust="spacingAndGlyphs">895</text><text x="1967.1" y="868.4" font-size="22" text-anchor="middle" textLength="33.5" lengthAdjust="spacingAndGlyphs">317</text><text x="2046.4" y="868.4" font-size="22" text-anchor="middle" textLength="13" lengthAdjust="spacingAndGlyphs">3</text><path d="M1306.1,1061.6H1359.8M1302.9,1057.3H1360.9M1306.6,1053H1363.1M1309,1048.7H1358.9M1308.6,1044.4H1358.9M1310,1040.1H1353.7M1312.3,1035.8H1353.7M1312.6,1031.5H1349.4M1313.3,1027.2H1350.9M1315.6,1022.9H1348.5M1318.3,1018.6H1348M1319.8,1014.3H1345.6M1322,1010H1341.6M1324.2,1005.7H1341.1M1327.4,1001.4H1336.8M1328.9,997.1H1335.5M1385.4,1061.6H1439.5M1383.7,1057.3H1441.7M1383.6,1053H1442M1388,1048.7H1438.8M1388.5,1044.4H1433.6M1390.3,1040.1H1434.1M1392,1035.8H1433.3M1392.9,1031.5H1428.3M1395.7,1027.2H1427.6M1396.8,1022.9H1425.8M1398.7,1018.6H1421.7M1402.6,1014.3H1423.1M1404.4,1010H1423.4M1404.6,1005.7H1416.9M1404.7,1001.4H1416.4M1406.5,997.1H1416.8M1405.8,992.8H1415.8M1407.9,988.5H1414.3M1466.1,1061.6H1516.3M1465.2,1057.3H1519.1M1465.6,1053H1516.4M1468.4,1048.7H1513.6M1470.7,1044.4H1510.2M1472.3,1040.1H1512.6M1474.6,1035.8H1507.4M1477.3,1031.5H1506.7M1476.2,1027.2H1504.5M1479.5,1022.9H1504.5M1479.1,1018.6H1505.5M1478.5,1014.3H1503.1M1479,1010H1504.7M1477.5,1005.7H1501.5M1480.6,1001.4H1502.1M1484.3,997.1H1500.8M1483.7,992.8H1497.7M1487.1,988.5H1494.1M1488.9,984.2H1493.1M1486.2,979.9H1493.1M1487.7,975.6H1492M1542,1061.6H1597.4M1541.5,1057.3H1599.9M1546.3,1053H1595.8M1550.1,1048.7H1592.6M1554.4,1044.4H1587.7M1558.3,1040.1H1581.4M1559.3,1035.8H1581.2M1561.1,1031.5H1578.5M1564.2,1027.2H1579.1M1561,1022.9H1576.3M1562.2,1018.6H1578.4M1561.6,1014.3H1578.6M1561.7,1010H1579.2M1562.2,1005.7H1577.8M1565.7,1001.4H1580M1564.4,997.1H1574.7M1565.7,992.8H1575.3M1565.8,988.5H1573.1M1567.9,984.2H1571.9M1567.2,979.9H1572M1566.3,975.6H1570.1M1622.3,1061.6H1674.8M1623.8,1057.3H1678M1625.5,1053H1675.1M1627.4,1048.7H1672.7M1628.3,1044.4H1674.4M1631.2,1040.1H1668.9M1631.7,1035.8H1668.3M1634.9,1031.5H1665.7M1632.4,1027.2H1664.6M1635.9,1022.9H1663.9M1638.8,1018.6H1663M1639.3,1014.3H1660M1640.9,1010H1662.7M1642.4,1005.7H1658.6M1643.3,1001.4H1658.9M1643.6,997.1H1654.8M1646.6,992.8H1654.7M1645.8,988.5H1653.7M1646.4,984.2H1653.1M1647,979.9H1651.1M1647.5,975.6H1653.3M1646.7,971.3H1651.4M1703.3,1061.6H1755.3M1703.2,1057.3H1755.4M1705.6,1053H1754M1709.2,1048.7H1751.1M1709.7,1044.4H1748M1713.4,1040.1H1745.9M1714.7,1035.8H1743.5M1712.9,1031.5H1743.8M1717.9,1027.2H1741.5M1718.3,1022.9H1741.4M1718.8,1018.6H1738M1720.4,1014.3H1739.2M1719.7,1010H1738.3M1721.4,1005.7H1734.6M1724.6,1001.4H1735.2M1722,997.1H1734.1M1725.6,992.8H1735.5M1724.4,988.5H1733.9M1726.4,984.2H1731.9M1726.6,979.9H1732.2M1726,975.6H1731M1727.3,971.3H1731.1M1726.9,967H1730.1M1784.7,1061.6H1831.9M1779.3,1057.3H1837.2M1782.9,1053H1836M1783.2,1048.7H1834.2M1785.6,1044.4H1832.1M1787.5,1040.1H1827.8M1788.3,1035.8H1828.1M1790,1031.5H1827.9M1788.9,1027.2H1827.4M1789.9,1022.9H1824.6M1790,1018.6H1824.8M1793.7,1014.3H1825.2M1793.8,1010H1824.3M1795.4,1005.7H1821.4M1798.1,1001.4H1821M1798.8,997.1H1817.3M1801,992.8H1815.9M1801.4,988.5H1815.7M1802.4,984.2H1814.6M1802.1,979.9H1814.2M1804,975.6H1812.8M1806.5,971.3H1813.6M1806.5,967H1814M1803.6,962.7H1811.9M1805.6,958.4H1811.9M1805.7,954.1H1810.9M1803.9,949.8H1810.4M1803.9,945.5H1810.6M1860.4,1061.6H1911.1M1858.6,1057.3H1917.8M1861.2,1053H1913.9M1863.6,1048.7H1910.5M1866.6,1044.4H1908.4M1869.2,1040.1H1909.4M1870.2,1035.8H1905.8M1870.1,1031.5H1905M1872.5,1027.2H1903.8M1874.2,1022.9H1903.6M1873.1,1018.6H1899.5M1878.3,1014.3H1898M1877.3,1010H1896.9M1877.5,1005.7H1896.4M1883.4,1001.4H1896.8M1879.7,997.1H1893.2M1881.6,992.8H1894.7M1882,988.5H1891.6M1885.2,984.2H1892.6M1884.5,979.9H1889.1M1884,975.6H1888.7M1939.6,1061.6H1994.2M1940.7,1057.3H1994M1940,1053H1992.8M1941.4,1048.7H1992.6M1942.6,1044.4H1987M1946.7,1040.1H1986.8M1948.5,1035.8H1986.2M1949.2,1031.5H1986.2M1947.9,1027.2H1983.5M1950.6,1022.9H1982.8M1952.6,1018.6H1980.7M1952.2,1014.3H1982.2M1954.2,1010H1979.6M1957.9,1005.7H1981.9M1955.8,1001.4H1976.9M1962.6,997.1H1975.8M1960.3,992.8H1973.9M1959.9,988.5H1973.3M1960.5,984.2H1973.9M1961.4,979.9H1971.7M1961,975.6H1971.6M1962,971.3H1970.8M1965,967H1971M1964.8,962.7H1970.5M1964.7,958.4H1969.4M1964.7,954.1H1970.1M1964.1,949.8H1970.3M1333,904.8h0M1331.6,911.5h0M1332,931.7h0M1332.4,933.9h0M1334.1,945.1h0M1333.2,956.3h0M1332.5,963h0M1333,972h0M1333.8,978.7h0M1332.5,985.4h0M1411.8,890.5h0M1411.7,892.7h0M1411.9,931.7h0M1411.6,942.9h0M1411.5,949.6h0M1410.9,956.3h0M1411.9,963h0M1413,969.8h0M1413.1,976.5h0M1412.7,981h0M1491.5,971.3h0M1491.1,931.7h0M1490.3,936.2h0M1490.8,940.6h0M1490.7,945.1h0M1490.5,949.6h0M1491.5,954.1h0M1490.8,958.6h0M1570.3,967h0M1570.1,962.7h0M1571,889.1h0M1570.9,922.7h0M1570.5,931.7h0M1570,940.6h0M1570.9,947.4h0M1570.2,951.8h0M1648.8,967h0M1649.9,904.8h0M1649.2,922.7h0M1650.5,929.4h0M1651.2,933.9h0M1651.1,940.6h0M1649.7,949.6h0M1650.3,956.3h0M1729.4,962.7h0M1729.7,954.1h0M1728.7,931.7h0M1729.6,936.2h0M1729,940.6h0M1730.3,945.1h0M1807.7,941.2h0M1808.3,889.1h0M1808.6,920.5h0M1807.6,929.4h0M1807.4,933.9h0M1886.4,936.2h0M1888.2,938.4h0M1887.4,945.1h0M1888.1,949.6h0M1888.9,956.3h0M1888.5,963h0M1966.6,931.7h0M1966.8,936.2h0M1966.7,940.6h0M2056.4,1008.3h0M2032.9,1045h0M2046.4,1052.2h0" stroke="#4a72a0" stroke-width="8" stroke-linecap="round" fill="none"/><path d="M1315.6,1018.1h33.9M1308.5,1039.6h48.2M1303.8,1052.2h57.7M1397.2,1016.8h29.4M1388.5,1037.9h46.7M1383.2,1051.7h57.4M1477.2,1006h28M1474.3,1031.1h33.9M1466.2,1049.1h50M1559.5,1007.8h22.1M1557.2,1034.3h26.7M1546.6,1050.4h47.8M1636.2,1011.9h27.3M1629.3,1036.5h41.1M1623.4,1050.8h52.9M1718.2,1011.9h21.9M1711.4,1036.5h35.6M1703.1,1052.2h52.1M1794.7,1001.1h27.6M1786.6,1031.6h43.7M1781.6,1048.6h53.6M1875,1011.9h25.6M1867.4,1036.5h40.7M1861.6,1051.7h52.3M1952.4,1006h29.4M1947,1032.5h40.2M1941.7,1048.6h50.7M2034.4,1022.6h24M2023.4,1037.4h46M2014.4,1045.5h64" stroke="#111" stroke-width="2" fill="none"/><rect x="1285.1" y="1082.4" width="809.2" height="232" fill="none" stroke="#222" stroke-width="1.6"/><path d="M1271.6,1123.8H1285.1" stroke="#444" stroke-width="1.3"/><text x="1258.5" y="1131.3" font-size="22" text-anchor="end" textLength="64" lengthAdjust="spacingAndGlyphs">4,000</text><path d="M1271.6,1213.4H1285.1" stroke="#444" stroke-width="1.3"/><text x="1258.5" y="1220.9" font-size="22" text-anchor="end" textLength="63.5" lengthAdjust="spacingAndGlyphs">2,000</text><path d="M1271.6,1303H1285.1" stroke="#444" stroke-width="1.3"/><text x="1258.5" y="1310.5" font-size="22" text-anchor="end" textLength="15" lengthAdjust="spacingAndGlyphs">0</text><text x="1332.6" y="1111" font-size="22" text-anchor="middle" textLength="41.3" lengthAdjust="spacingAndGlyphs">870</text><text x="1411.9" y="1111" font-size="22" text-anchor="middle" textLength="35.3" lengthAdjust="spacingAndGlyphs">814</text><text x="1491.2" y="1111" font-size="22" text-anchor="middle" textLength="52.5" lengthAdjust="spacingAndGlyphs">1,323</text><text x="1570.5" y="1111" font-size="22" text-anchor="middle" textLength="39" lengthAdjust="spacingAndGlyphs">795</text><text x="1649.8" y="1111" font-size="22" text-anchor="middle" textLength="40" lengthAdjust="spacingAndGlyphs">626</text><text x="1729.1" y="1111" font-size="22" text-anchor="middle" textLength="55" lengthAdjust="spacingAndGlyphs">1,403</text><text x="1808.5" y="1111" font-size="22" text-anchor="middle" textLength="39" lengthAdjust="spacingAndGlyphs">672</text><text x="1887.8" y="1111" font-size="22" text-anchor="middle" textLength="50.3" lengthAdjust="spacingAndGlyphs">1,108</text><text x="1967.1" y="1111" font-size="22" text-anchor="middle" textLength="38.5" lengthAdjust="spacingAndGlyphs">573</text><text x="2046.4" y="1111" font-size="22" text-anchor="middle" textLength="12.5" lengthAdjust="spacingAndGlyphs">7</text><path d="M1306.8,1303H1357.7M1306,1298.7H1359.7M1303.5,1294.4H1357.8M1305.7,1290.1H1356.8M1311.7,1285.8H1355.8M1310.5,1281.5H1352M1316.4,1277.2H1351.5M1316,1272.9H1350.5M1321.1,1268.6H1348.9M1319.7,1264.3H1346.1M1321.8,1260H1343.4M1321.1,1255.7H1342.8M1322.6,1251.4H1341.2M1325.2,1247.1H1343.2M1324.9,1242.8H1339M1326.8,1238.5H1338.8M1329.3,1234.2H1336.6M1327.7,1229.9H1334.3M1328,1225.6H1336.7M1329.8,1221.3H1334.2M1329.7,1217H1335M1331.3,1212.7H1333.8M1330.8,1208.4H1331.7M1383.5,1303H1437.7M1381.9,1298.7H1440.1M1385.5,1294.4H1439.4M1388.8,1290.1H1435.6M1391.3,1285.8H1435.2M1394.2,1281.5H1432.9M1395.1,1277.2H1428.3M1398.1,1272.9H1425.1M1398.7,1268.6H1424.7M1399.4,1264.3H1421.7M1400.1,1260H1422.5M1403.9,1255.7H1422.4M1404.1,1251.4H1419.4M1404.5,1247.1H1418.7M1406.7,1242.8H1417.5M1410.3,1238.5H1415.8M1406.3,1234.2H1414.5M1406.6,1229.9H1413.8M1410.4,1225.6H1415.4M1407.1,1221.3H1415.6M1411.1,1217H1413.8M1409.1,1212.7H1413.4M1410.8,1208.4H1414.2M1465,1303H1517.6M1461.8,1298.7H1521.3M1464.2,1294.4H1516.6M1469.1,1290.1H1516.1M1470.1,1285.8H1513.9M1473,1281.5H1511.3M1470.1,1277.2H1508.3M1474.4,1272.9H1506.2M1476.9,1268.6H1507.3M1477.2,1264.3H1503.1M1481.5,1260H1503M1478.2,1255.7H1503M1481.3,1251.4H1500.8M1482.7,1247.1H1500.1M1481.5,1242.8H1500M1484.6,1238.5H1498M1485,1234.2H1497.7M1489.1,1229.9H1496.1M1487.7,1225.6H1496.5M1486.2,1221.3H1497M1488,1217H1497.3M1487.7,1212.7H1494.4M1487,1208.4H1495.4M1488.8,1204.1H1496.2M1489,1199.8H1495.4M1490.8,1195.5H1493.8M1487.3,1191.2H1491.7M1487.7,1186.9H1494.9M1488.9,1182.6H1494.1M1543.8,1303H1596.5M1543.7,1298.7H1597.2M1543.7,1294.4H1596.5M1545.5,1290.1H1596.9M1547.1,1285.8H1594.9M1546.9,1281.5H1593.6M1549.8,1277.2H1591.3M1552.5,1272.9H1585.4M1553,1268.6H1587.4M1557.5,1264.3H1585.9M1557.3,1260H1582.3M1560.2,1255.7H1585M1559.8,1251.4H1581M1558.7,1247.1H1581.4M1564.8,1242.8H1580.7M1563.4,1238.5H1580M1560.9,1234.2H1580.6M1561.2,1229.9H1577.9M1564.2,1225.6H1578.4M1565.3,1221.3H1576.8M1564.7,1217H1573.7M1566.7,1212.7H1573.5M1565.7,1208.4H1572M1567.4,1204.1H1570.6M1567.1,1199.8H1570.1M1626.1,1303H1675.4M1619.5,1298.7H1677M1623.7,1294.4H1676.8M1624.1,1290.1H1672.5M1629.1,1285.8H1672M1629.4,1281.5H1670.3M1632.7,1277.2H1665.4M1633.2,1272.9H1666.6M1634.5,1268.6H1661.6M1636.3,1264.3H1664M1639.9,1260H1659M1642.4,1255.7H1659.2M1641.5,1251.4H1661M1642.6,1247.1H1658.6M1640.8,1242.8H1658.2M1642.3,1238.5H1653.2M1647.8,1234.2H1656.5M1647.3,1229.9H1653.6M1647.6,1225.6H1656.1M1648.5,1221.3H1653.2M1645.6,1217H1652.3M1645,1212.7H1649.6M1648.2,1208.4H1650.3M1648,1204.1H1651.3M1651,1199.8H1652.9M1648.6,1195.5H1652.6M1703.4,1303H1754M1698.8,1298.7H1756.4M1704.5,1294.4H1758.8M1705.8,1290.1H1752.2M1708.6,1285.8H1750.1M1710.2,1281.5H1749.5M1710.7,1277.2H1748.7M1710.8,1272.9H1746.2M1710.5,1268.6H1745M1711.9,1264.3H1744.3M1713.5,1260H1743.7M1716.3,1255.7H1740.7M1715.6,1251.4H1740.4M1719.4,1247.1H1742.1M1722.1,1242.8H1736.9M1725.4,1238.5H1732.8M1727.1,1234.2H1732.3M1721.5,1229.9H1736.6M1727.2,1225.6H1731.8M1725.4,1221.3H1732.9M1725.3,1217H1731.2M1724.3,1212.7H1733.7M1725.9,1208.4H1734.3M1726.1,1204.1H1735.4M1725.4,1199.8H1732.3M1724.3,1195.5H1729.9M1728.9,1191.2H1729.9M1728.3,1186.9H1730.6M1783.8,1303H1837.9M1780.7,1298.7H1837.3M1782.5,1294.4H1833.1M1784.9,1290.1H1829.6M1787.1,1285.8H1828.8M1789.8,1281.5H1827.5M1789.9,1277.2H1825.2M1793.3,1272.9H1826.4M1794.5,1268.6H1825.8M1795,1264.3H1823.5M1795,1260H1826.4M1793.3,1255.7H1823.5M1797.9,1251.4H1821.8M1797.4,1247.1H1822.1M1796.3,1242.8H1820.3M1796.8,1238.5H1818M1797.9,1234.2H1818M1799.7,1229.9H1818M1798.4,1225.6H1819.3M1802.6,1221.3H1816.8M1801.3,1217H1815M1803.3,1212.7H1814.9M1801.1,1208.4H1814.6M1807.9,1204.1H1810.4M1806.1,1199.8H1812.7M1805.3,1195.5H1813.3M1804.1,1191.2H1811.5M1807.8,1186.9H1810.8M1805.5,1182.6H1811M1805.6,1178.3H1812.8M1805.2,1174H1811.7M1805.5,1169.7H1810.6M1860.3,1303H1912.4M1860.8,1298.7H1916.8M1862.7,1294.4H1915.4M1861.3,1290.1H1912.9M1866.1,1285.8H1912.3M1866.2,1281.5H1909.4M1867.7,1277.2H1906.9M1872.1,1272.9H1906M1869.7,1268.6H1903.7M1873.5,1264.3H1903.8M1873.6,1260H1900.9M1875,1255.7H1898.3M1874.4,1251.4H1900.4M1876.7,1247.1H1898.7M1880.2,1242.8H1897.8M1879.8,1238.5H1898.6M1881.9,1234.2H1894.1M1882.8,1229.9H1894.2M1880.9,1225.6H1893.5M1882.1,1221.3H1890.6M1882.3,1217H1892.6M1882.2,1212.7H1890.5M1882.5,1208.4H1892.5M1883.3,1204.1H1890.8M1884.2,1199.8H1890.5M1883.3,1195.5H1893.7M1882.8,1191.2H1891.1M1885.8,1186.9H1890.7M1884.5,1182.6H1890.9M1886.9,1178.3H1887.1M1884.9,1174H1888.1M1945.2,1303H1989.6M1942.2,1298.7H1991.2M1944.1,1294.4H1992.7M1939.9,1290.1H1993.3M1938.3,1285.8H1995M1939.5,1281.5H1994.7M1940.6,1277.2H1994.8M1943.7,1272.9H1990M1946.5,1268.6H1985.2M1948.7,1264.3H1987.6M1949.3,1260H1983.6M1949.6,1255.7H1983.6M1951.7,1251.4H1983.6M1953.8,1247.1H1983.4M1953,1242.8H1983.4M1951.9,1238.5H1981.2M1950.9,1234.2H1983M1950.8,1229.9H1980.3M1952.8,1225.6H1982M1953,1221.3H1980.3M1955.2,1217H1979.2M1955.7,1212.7H1975.6M1959.5,1208.4H1975.2M1959.1,1204.1H1973.8M1959,1199.8H1974M1962.1,1195.5H1972.2M1963,1191.2H1974.2M1960.9,1186.9H1973.6M1960.1,1182.6H1969.9M1960.8,1178.3H1971.1M1962.6,1174H1970.5M1334.2,1204.1h0M1332.3,1199.8h0M1332.4,1147.1h0M1332.1,1175.3h0M1332.6,1179.8h0M1332.6,1186.5h0M1332.6,1191h0M1412.6,1146.6h0M1412.6,1175.3h0M1412.6,1179.8h0M1412.7,1186.5h0M1412.3,1193.2h0M1411,1197.7h0M1492.9,1178.3h0M1491.1,1155.2h0M1491.3,1159.6h0M1491.3,1166.4h0M1570.9,1195.5h0M1571.7,1130.5h0M1569.6,1146.2h0M1570.1,1170.8h0M1571.1,1175.3h0M1570.4,1184.3h0M1570.3,1188.8h0M1649.5,1191.2h0M1650.4,1130.5h0M1649.1,1155.2h0M1649.7,1161.9h0M1649,1168.6h0M1649.9,1173.1h0M1650.8,1179.8h0M1649.4,1186.5h0M1728.6,1178.3h0M1729.9,1174h0M1729.5,1146.2h0M1728.8,1150.7h0M1728.6,1157.4h0M1729.3,1164.1h0M1729.1,1168.6h0M1805.8,1165.4h0M1808.5,1130.5h0M1807.8,1146.2h0M1808.2,1150.7h0M1809.4,1159.6h0M1886.9,1169.7h0M1887.3,1146.2h0M1888,1150.7h0M1887.2,1159.6h0M1967.1,1130.5h0M1965.8,1144h0M1967.4,1148.4h0M1966.2,1155.2h0M2057.4,1198.2h0M2039.4,1242.1h0M2023.4,1252.8h0M2055.4,1252.8h0M2056.4,1264.5h0M2032.9,1281h0M2046.4,1281h0" stroke="#f9990f" stroke-width="8" stroke-linecap="round" fill="none"/><path d="M1320.5,1252.8h24.3M1311.1,1279.3h43.1M1305.4,1293.1h54.5M1400.4,1253.7h23M1390.8,1281h42.2M1384.1,1293.6h55.7M1479.3,1244.8h23.9M1472.1,1274.3h38.3M1465.3,1290.5h51.9M1558,1245.7h25M1549.6,1274.3h42M1543.7,1290h53.7M1638.5,1246.1h22.6M1630.2,1275.7h39.2M1623.9,1290.5h51.9M1715.7,1247h27M1708.7,1275.2h40.9M1703,1290.9h52.4M1795.8,1234.5h25.3M1789.8,1268.5h37.4M1785,1287.8h46.9M1876,1241.2h23.5M1867.3,1273h41M1861.1,1289.6h53.4M1948.7,1231.8h36.8M1946.9,1266.3h40.3M1937.9,1285.1h58.4M2027.4,1242.1h38M2019.9,1254.6h53M2022.9,1267.2h47" stroke="#111" stroke-width="2" fill="none"/><rect x="1285.1" y="1324.1" width="809.2" height="231.5" fill="none" stroke="#222" stroke-width="1.6"/><path d="M1271.6,1365.3H1285.1" stroke="#444" stroke-width="1.3"/><text x="1258.5" y="1372.8" font-size="22" text-anchor="end" textLength="64" lengthAdjust="spacingAndGlyphs">4,000</text><path d="M1271.6,1454.9H1285.1" stroke="#444" stroke-width="1.3"/><text x="1258.5" y="1462.4" font-size="22" text-anchor="end" textLength="63.5" lengthAdjust="spacingAndGlyphs">2,000</text><path d="M1271.6,1544.5H1285.1" stroke="#444" stroke-width="1.3"/><text x="1258.5" y="1552" font-size="22" text-anchor="end" textLength="15" lengthAdjust="spacingAndGlyphs">0</text><text x="1332.6" y="1351.6" font-size="22" text-anchor="middle" textLength="33.5" lengthAdjust="spacingAndGlyphs">731</text><text x="1411.9" y="1351.6" font-size="22" text-anchor="middle" textLength="39.8" lengthAdjust="spacingAndGlyphs">768</text><text x="1491.2" y="1351.6" font-size="22" text-anchor="middle" textLength="55.5" lengthAdjust="spacingAndGlyphs">1,660</text><text x="1570.5" y="1351.6" font-size="22" text-anchor="middle" textLength="53" lengthAdjust="spacingAndGlyphs">1,359</text><text x="1649.8" y="1351.6" font-size="22" text-anchor="middle" textLength="50" lengthAdjust="spacingAndGlyphs">1,016</text><text x="1729.1" y="1351.6" font-size="22" text-anchor="middle" textLength="60.5" lengthAdjust="spacingAndGlyphs">2,660</text><text x="1808.5" y="1351.6" font-size="22" text-anchor="middle" textLength="55" lengthAdjust="spacingAndGlyphs">1,290</text><text x="1887.8" y="1351.6" font-size="22" text-anchor="middle" textLength="59.5" lengthAdjust="spacingAndGlyphs">2,670</text><text x="1967.1" y="1351.6" font-size="22" text-anchor="middle" textLength="58.3" lengthAdjust="spacingAndGlyphs">2,285</text><text x="2046.4" y="1351.6" font-size="22" text-anchor="middle" textLength="29.5" lengthAdjust="spacingAndGlyphs">116</text><path d="M1307.7,1544.5H1356.1M1302.3,1540.2H1359.6M1303.7,1535.9H1360.2M1307.2,1531.6H1359.5M1305.9,1527.3H1357M1306.6,1523H1358M1305.8,1518.7H1358.4M1308.7,1514.4H1354.9M1310.7,1510.1H1356.3M1311.7,1505.8H1355.3M1312.4,1501.5H1354.6M1314.8,1497.2H1351.9M1316,1492.9H1351.3M1315.2,1488.6H1348.9M1315.7,1484.3H1350.2M1314.9,1480H1349.4M1317.1,1475.7H1349M1313.7,1471.4H1348.5M1317.4,1467.1H1347.6M1317.1,1462.8H1345.2M1319.3,1458.5H1345.9M1321,1454.2H1343M1322.2,1449.9H1343.6M1323.7,1445.6H1341.4M1322.3,1441.3H1345M1322.5,1437H1340.7M1323.7,1432.7H1339.8M1326.1,1428.4H1342.9M1324.9,1424.1H1337.2M1328.6,1419.8H1339.6M1329.4,1415.5H1338.4M1329,1411.2H1334.9M1388,1544.5H1435.1M1386.5,1540.2H1440.7M1383.7,1535.9H1439.1M1384.1,1531.6H1442M1383.6,1527.3H1438.5M1386.3,1523H1439M1384.3,1518.7H1437.6M1385.6,1514.4H1437.6M1387.7,1510.1H1437.7M1389.5,1505.8H1433.2M1390,1501.5H1435.5M1391.3,1497.2H1434.4M1391.5,1492.9H1430.4M1394.8,1488.6H1428.8M1392.3,1484.3H1430.1M1395.2,1480H1427.3M1394.8,1475.7H1425.5M1395.6,1471.4H1426.3M1398,1467.1H1423.3M1399.1,1462.8H1424.1M1397.7,1458.5H1425.6M1400,1454.2H1421.8M1403.4,1449.9H1421.7M1402.2,1445.6H1422.2M1403.2,1441.3H1421.8M1402.2,1437H1421.9M1401.9,1432.7H1422.4M1399.5,1428.4H1426.3M1402.1,1424.1H1422.3M1406.5,1419.8H1420.7M1404.4,1415.5H1419.3M1405.9,1411.2H1417.9M1465.9,1544.5H1516M1460.7,1540.2H1518.5M1462.5,1535.9H1519.1M1463.1,1531.6H1518.1M1463.3,1527.3H1519.7M1461.4,1523H1518.4M1460.8,1518.7H1520.5M1461.3,1514.4H1520M1464.1,1510.1H1521M1465,1505.8H1519.1M1461.7,1501.5H1520.6M1464.1,1497.2H1520.2M1464.4,1492.9H1519.6M1466.3,1488.6H1518.2M1466.6,1484.3H1517M1467,1480H1516M1469.1,1475.7H1514M1471.6,1471.4H1513M1472.1,1467.1H1511.5M1472.1,1462.8H1512.7M1473.5,1458.5H1506.8M1474.9,1454.2H1506.2M1482.5,1449.9H1503M1484.7,1445.6H1497.6M1487.6,1441.3H1496.2M1487.6,1437H1496.3M1484.1,1432.7H1499.5M1480.1,1428.4H1501M1481.8,1424.1H1497.3M1483.8,1419.8H1500.1M1483.4,1415.5H1496.7M1486.9,1411.2H1497.8M1486.9,1406.9H1498.7M1485.4,1402.6H1497.4M1486.2,1398.3H1495.8M1486.9,1394H1495.4M1549.2,1544.5H1592M1543.6,1540.2H1595.7M1544.5,1535.9H1595.8M1544.4,1531.6H1595.7M1547.1,1527.3H1598.3M1544.5,1523H1597.1M1546.1,1518.7H1598.3M1542.4,1514.4H1599M1542.2,1510.1H1601.1M1542,1505.8H1601.8M1541.6,1501.5H1599.2M1542.1,1497.2H1600M1543.7,1492.9H1596.8M1546,1488.6H1597.9M1543.8,1484.3H1595.4M1543.9,1480H1595.5M1546.1,1475.7H1594.4M1546.1,1471.4H1593.6M1547.5,1467.1H1593.3M1551.9,1462.8H1588.7M1551.2,1458.5H1589.2M1553.5,1454.2H1587M1554.6,1449.9H1584.9M1557.6,1445.6H1584.5M1558.4,1441.3H1582.9M1560.2,1437H1578.5M1562.3,1432.7H1579.9M1562.2,1428.4H1579.9M1565,1424.1H1576.2M1563.3,1419.8H1578.7M1566.9,1415.5H1575M1564.2,1411.2H1574.5M1565.7,1406.9H1572.7M1630,1544.5H1670M1624.9,1540.2H1675.5M1622.2,1535.9H1678.1M1621.1,1531.6H1677.5M1623.6,1527.3H1679.2M1620.1,1523H1678.1M1622.7,1518.7H1678.5M1624.6,1514.4H1679.3M1622,1510.1H1676.9M1621.5,1505.8H1676.8M1623.8,1501.5H1679.6M1624.2,1497.2H1672.8M1623.7,1492.9H1675.2M1623.4,1488.6H1673.5M1625.1,1484.3H1674.6M1626.2,1480H1672.1M1628.9,1475.7H1671.1M1628.7,1471.4H1668.6M1629.7,1467.1H1669.8M1630.2,1462.8H1667.3M1634.9,1458.5H1665.3M1635.9,1454.2H1662.6M1639,1449.9H1663.8M1639.2,1445.6H1658.5M1638.8,1441.3H1660.8M1643.6,1437H1658.7M1644.2,1432.7H1656.4M1643.5,1428.4H1655.9M1644.8,1424.1H1653.4M1646,1419.8H1656.6M1643.7,1415.5H1652.7M1646.2,1411.2H1653.1M1643.1,1406.9H1654.5M1646.9,1402.6H1652.4M1649.9,1398.3H1652.7M1646.7,1394H1652.2M1707.6,1544.5H1752.3M1707.7,1540.2H1752.8M1705.6,1535.9H1754M1705.2,1531.6H1754.9M1705.6,1527.3H1753.9M1702.8,1523H1753.4M1702.7,1518.7H1755.8M1704.5,1514.4H1754.8M1701.9,1510.1H1755.9M1700.2,1505.8H1755.6M1700.5,1501.5H1755.6M1700.4,1497.2H1758M1699.7,1492.9H1756.5M1699,1488.6H1760M1699.3,1484.3H1759.3M1702.3,1480H1756.3M1701,1475.7H1757.1M1705.7,1471.4H1753.6M1704,1467.1H1755.2M1706.1,1462.8H1755.3M1706.8,1458.5H1751.5M1707.8,1454.2H1751.6M1710.4,1449.9H1744M1713.1,1445.6H1744.8M1717.7,1441.3H1742.6M1717.1,1437H1741.9M1721.1,1432.7H1739.2M1722.3,1428.4H1738M1721.9,1424.1H1736.2M1723.5,1419.8H1733.7M1726.2,1415.5H1731.9M1727.4,1411.2H1733.7M1726.5,1406.9H1730.7M1727,1402.6H1731.6M1728.9,1398.3H1730.8M1791.5,1544.5H1826.7M1788,1540.2H1829.9M1787.5,1535.9H1826.6M1784.8,1531.6H1830.3M1784.2,1527.3H1837.4M1781.2,1523H1835.2M1780.8,1518.7H1836.2M1781.3,1514.4H1838.2M1778.4,1510.1H1839.3M1779,1505.8H1837M1783,1501.5H1836.4M1781.4,1497.2H1833.3M1783.3,1492.9H1833M1786.3,1488.6H1830.4M1786.1,1484.3H1832.2M1787,1480H1831.3M1789,1475.7H1830.6M1788.8,1471.4H1830M1790.7,1467.1H1826M1790.8,1462.8H1827.4M1789.5,1458.5H1825.8M1788.3,1454.2H1825.7M1791.2,1449.9H1825.4M1791.7,1445.6H1825.2M1795.4,1441.3H1821.6M1795.5,1437H1819.4M1796.4,1432.7H1818.3M1799.3,1428.4H1817.4M1798.9,1424.1H1815.8M1801.1,1419.8H1814.9M1805.7,1415.5H1814.5M1803.8,1411.2H1810.6M1803.3,1406.9H1809.6M1807.1,1402.6H1809.8M1871.6,1544.5H1904.9M1866.4,1540.2H1907.6M1865.1,1535.9H1910.2M1861.9,1531.6H1910.4M1861,1527.3H1913.3M1865.7,1523H1911.9M1863.1,1518.7H1914M1860,1514.4H1913.8M1860.6,1510.1H1913.7M1863,1505.8H1912.6M1860.5,1501.5H1916M1859.6,1497.2H1915.4M1862.4,1492.9H1914.5M1862.8,1488.6H1914.2M1860.6,1484.3H1914.3M1867.3,1480H1912.4M1867.1,1475.7H1907.9M1867.1,1471.4H1907.2M1867.9,1467.1H1908.1M1868.8,1462.8H1905.5M1867.9,1458.5H1905M1871,1454.2H1903.8M1870.4,1449.9H1906.7M1870.3,1445.6H1902.3M1871.8,1441.3H1904.3M1876.5,1437H1902.2M1873.8,1432.7H1900.3M1877.1,1428.4H1898.7M1878.5,1424.1H1900.7M1877.7,1419.8H1898.8M1879.5,1415.5H1899M1878.2,1411.2H1897.6M1880.7,1406.9H1893.3M1883.3,1402.6H1892.1M1883.8,1398.3H1888.4M1959.9,1544.5H1976.6M1950.7,1540.2H1982.7M1947.8,1535.9H1985.4M1942.3,1531.6H1990.7M1942.1,1527.3H1990.3M1942.4,1523H1991.9M1942.6,1518.7H1992.9M1940,1514.4H1994M1939.2,1510.1H1993.9M1937.9,1505.8H1996.7M1938.3,1501.5H1998.4M1935.2,1497.2H1996.3M1937.3,1492.9H1996.5M1937.7,1488.6H1995.2M1939.8,1484.3H1995.6M1938.6,1480H1995.8M1943.8,1475.7H1990.9M1946,1471.4H1988.3M1948.7,1467.1H1986.6M1948.2,1462.8H1984.5M1948.7,1458.5H1984.7M1950.4,1454.2H1984M1949.9,1449.9H1978.8M1951.2,1445.6H1980.6M1951.9,1441.3H1984M1952.4,1437H1981.6M1952.3,1432.7H1981.4M1952.3,1428.4H1980.4M1952.8,1424.1H1981.7M1954.9,1419.8H1980.5M1955.5,1415.5H1978.4M1956.6,1411.2H1977.9M1961,1406.9H1974.5M1962.9,1402.6H1969.4M1331.2,1406.9h0M1333.2,1363.1h0M1332.2,1374.3h0M1334,1396.7h0M1412.6,1363.1h0M1411.6,1367.5h0M1411.5,1374.3h0M1412,1392.2h0M1411.9,1401.1h0M1491.9,1363.1h0M1491.3,1385.5h0M1491.1,1387.7h0M1570.5,1363.1h0M1569.8,1376.5h0M1569.8,1389.9h0M1649.2,1363.1h0M1649.4,1367.5h0M1650.1,1372h0M1649.5,1383.2h0M1729.7,1363.1h0M1728.8,1367.5h0M1729.3,1378.7h0M1728.2,1385.5h0M1808.5,1363.1h0M1808.1,1374.3h0M1808.5,1387.7h0M1887.2,1369.8h0M1888.6,1385.5h0M1888.9,1389.9h0M1968.1,1365.3h0M1966.9,1367.5h0M1966.9,1387.7h0M1968,1389.9h0M2039,1544h0M2055,1544.3h0M2031,1538.5h0M2041.5,1536.6h0M2058.4,1539.1h0M2039.8,1530.8h0M2029.6,1526.2h0M2038.8,1525.3h0M2048.1,1523.7h0M2064.9,1526.6h0M2027.1,1518.7h0M2037.6,1518.3h0M2045.9,1519.5h0M2055,1518.4h0M2065.2,1518.2h0M2033.2,1513.1h0M2043.4,1512.5h0M2049,1511.4h0M2066.2,1511.7h0M2025.8,1505.9h0M2057.9,1504.2h0M2066.8,1505.2h0M2025.7,1498.1h0M2041.7,1499.4h0M2047.6,1499.1h0M2060.9,1498.7h0M2021.2,1491.8h0M2047.3,1494.9h0M2055.2,1493.9h0M2065.3,1493.8h0M2072.1,1492.7h0M2017.2,1485.1h0M2024.6,1483.6h0M2033.8,1484h0M2050.7,1488h0M2068.6,1486.5h0M2014.9,1478.8h0M2022.5,1479.4h0M2029.8,1480.2h0M2046.3,1480h0M2053.1,1478.8h0M2061,1480.6h0M2020.6,1472.4h0M2027.9,1474.3h0M2035.2,1473.1h0M2043.8,1474.1h0M2051.2,1473.1h0M2057.8,1470.5h0M2023.5,1465.4h0M2031.9,1464.6h0M2038.4,1468.8h0M2054,1466.1h0M2058.9,1467h0M2066.7,1467.9h0M2029.3,1460.5h0M2035.8,1460.6h0M2056.2,1462.4h0M2065.6,1460.4h0M2026.7,1452.9h0M2037.4,1454.8h0M2047,1454.2h0M2055.7,1452.4h0M2065,1453.5h0M2037.3,1447.8h0M2045.4,1448.1h0M2064.1,1446.6h0M2032.1,1439.6h0M2041.4,1442.3h0M2050.9,1442.4h0M2034.8,1434.4h0M2042.5,1432.6h0M2050.1,1433.6h0M2060.3,1435h0M2048.4,1427.4h0M2056,1427.1h0M2047,1369.8h0M2046.6,1387.7h0M2045.6,1410.1h0M2046.6,1416.8h0" stroke="#c8363a" stroke-width="8" stroke-linecap="round" fill="none"/><path d="M1314.2,1463.9h36.8M1310.3,1500.6h44.5M1306.1,1523h53M1395.4,1463.4h32.9M1388.4,1498.4h47M1383.8,1521.2h56.3M1470.3,1462.5h41.8M1462.4,1496.1h57.7M1461,1519.9h60.5M1549,1458.9h43M1542.4,1493.9h56.2M1541.6,1518.1h57.8M1631.7,1458h36.3M1622.9,1493h53.8M1620.3,1519.4h59.1M1706,1457.6h46.4M1699.2,1490.7h59.8M1701.3,1516.3h55.6M1787.4,1460.3h42.1M1782.5,1491.6h52M1779.4,1517.2h58.1M1868.3,1456.7h39M1860.4,1489.8h54.8M1859.8,1514.5h55.8M1947.9,1453.6h38.4M1937.1,1486.7h59.9M1938.4,1512.2h57.4M2025.2,1456.7h42.3M2014,1483.1h64.7M2025,1510h42.8" stroke="#111" stroke-width="2" fill="none"/><text transform="translate(2114.5,711.7) rotate(90)" font-size="29" text-anchor="middle" textLength="176.5" lengthAdjust="spacingAndGlyphs">Genome-wide</text><text transform="translate(2148,953.7) rotate(90)" font-size="29" text-anchor="middle" textLength="181.4" lengthAdjust="spacingAndGlyphs">Hi-C-preferred</text><text transform="translate(2120.5,954.3) rotate(90)" font-size="29" text-anchor="middle" textLength="93.8" lengthAdjust="spacingAndGlyphs">regions</text><text transform="translate(2148,1196) rotate(90)" font-size="29" text-anchor="middle" textLength="113.5" lengthAdjust="spacingAndGlyphs">Common</text><text transform="translate(2120.5,1196.7) rotate(90)" font-size="29" text-anchor="middle" textLength="92.6" lengthAdjust="spacingAndGlyphs">regions</text><text transform="translate(2148,1438) rotate(90)" font-size="29" text-anchor="middle" textLength="187.7" lengthAdjust="spacingAndGlyphs">GAM-preferred</text><text transform="translate(2120.5,1445.4) rotate(90)" font-size="29" text-anchor="middle" textLength="93.8" lengthAdjust="spacingAndGlyphs">regions</text><text transform="translate(1159.5,1067.2) rotate(-90)" font-size="29" text-anchor="middle" textLength="230.8" lengthAdjust="spacingAndGlyphs">Number of triplets</text><path d="M1332.6,1555.6V1567" stroke="#444" stroke-width="1.3"/><text transform="translate(1342.6,1580) rotate(-90)" font-size="28" text-anchor="end">H4K20me3</text><path d="M1411.9,1555.6V1567" stroke="#444" stroke-width="1.3"/><text transform="translate(1421.9,1580) rotate(-90)" font-size="28" text-anchor="end">H3K9me3</text><path d="M1491.2,1555.6V1567" stroke="#444" stroke-width="1.3"/><text transform="translate(1501.2,1580) rotate(-90)" font-size="28" text-anchor="end">CTCF</text><path d="M1570.5,1555.6V1567" stroke="#444" stroke-width="1.3"/><text transform="translate(1580.5,1580) rotate(-90)" font-size="28" text-anchor="end">Oct4</text><path d="M1649.8,1555.6V1567" stroke="#444" stroke-width="1.3"/><text transform="translate(1659.8,1580) rotate(-90)" font-size="28" text-anchor="end">p300</text><path d="M1729.1,1555.6V1567" stroke="#444" stroke-width="1.3"/><text transform="translate(1739.1,1580) rotate(-90)" font-size="28" text-anchor="end">RNAPII–S5p</text><path d="M1808.5,1555.6V1567" stroke="#444" stroke-width="1.3"/><text transform="translate(1818.5,1580) rotate(-90)" font-size="28" text-anchor="end">Enhancer</text><path d="M1887.8,1555.6V1567" stroke="#444" stroke-width="1.3"/><text transform="translate(1897.8,1580) rotate(-90)" font-size="28" text-anchor="end">RNAPII–S7p</text><path d="M1967.1,1555.6V1567" stroke="#444" stroke-width="1.3"/><text transform="translate(1977.1,1580) rotate(-90)" font-size="28" text-anchor="end">RNAPII–S2p</text><path d="M2046.4,1555.6V1567" stroke="#444" stroke-width="1.3"/><text transform="translate(2056.4,1580) rotate(-90)" font-size="28" text-anchor="end">Super enhancer</text><text x="1127" y="1836.6" font-size="40" font-weight="bold" stroke="#000" stroke-width="1.6">f</text><circle cx="1302" cy="2253.2" r="153" fill="#b8c7db" stroke="#4a71a0" stroke-width="6"/><circle cx="1302.3" cy="2014.3" r="152" fill="rgba(197,50,50,0.39)" stroke="#c9363b" stroke-width="6"/><text x="1301.3" y="1958.4" font-size="26" text-anchor="middle" textLength="166" lengthAdjust="spacingAndGlyphs">Experimental</text><text x="1301.3" y="1990.4" font-size="26" text-anchor="middle" textLength="88" lengthAdjust="spacingAndGlyphs">triplets</text><text x="1301.3" y="2024" font-size="26" text-anchor="middle" textLength="205" lengthAdjust="spacingAndGlyphs">(GAM observed)</text><text x="1301.3" y="2055.3" font-size="26" text-anchor="middle" textLength="136" lengthAdjust="spacingAndGlyphs"><tspan font-style="italic">n</tspan> = 107,413</text><text x="1302" y="2238" font-size="26" text-anchor="middle" textLength="219" lengthAdjust="spacingAndGlyphs">Predicted triplets</text><text x="1302" y="2270.7" font-size="26" text-anchor="middle" textLength="233" lengthAdjust="spacingAndGlyphs">by Hi-C transitivity</text><text x="1302" y="2302.7" font-size="26" text-anchor="middle" textLength="145" lengthAdjust="spacingAndGlyphs"><tspan font-style="italic">n</tspan> = 108,686</text><path d="M1368.4,2131.5L1448.8,2111.4" stroke="#111" stroke-width="1.6"/><text x="1516" y="2088.9" font-size="26" text-anchor="middle" textLength="88" lengthAdjust="spacingAndGlyphs">Shared</text><text x="1516" y="2118.4" font-size="26" text-anchor="middle" textLength="88" lengthAdjust="spacingAndGlyphs">triplets</text><text x="1516" y="2147.4" font-size="26" text-anchor="middle" textLength="82" lengthAdjust="spacingAndGlyphs">13,705</text><text x="1516" y="2176.3" font-size="26" text-anchor="middle" textLength="88" lengthAdjust="spacingAndGlyphs">(12.6%)</text><text x="1702" y="1836" font-size="40" font-weight="bold" stroke="#000" stroke-width="1.6">g</text><circle cx="1859.4" cy="1985.1" r="152" fill="#e8aeae" stroke="#c9363b" stroke-width="6"/><circle cx="1859.4" cy="2260" r="153" fill="rgba(74,113,160,0.39)" stroke="#4a71a0" stroke-width="6"/><text x="1858.8" y="1944.7" font-size="26" text-anchor="middle" textLength="166" lengthAdjust="spacingAndGlyphs">Experimental</text><text x="1858.8" y="1976.7" font-size="26" text-anchor="middle" textLength="88" lengthAdjust="spacingAndGlyphs">triplets</text><text x="1858.8" y="2009.6" font-size="26" text-anchor="middle" textLength="205" lengthAdjust="spacingAndGlyphs">(GAM observed)</text><text x="1858.8" y="2041.3" font-size="26" text-anchor="middle" textLength="136" lengthAdjust="spacingAndGlyphs"><tspan font-style="italic">n</tspan> = 107,413</text><text x="1858.8" y="2224.4" font-size="26" text-anchor="middle" textLength="92" lengthAdjust="spacingAndGlyphs">sc-Hi-C</text><text x="1858.8" y="2257" font-size="26" text-anchor="middle" textLength="176" lengthAdjust="spacingAndGlyphs">model triplets</text><text x="1858.8" y="2289.6" font-size="26" text-anchor="middle" textLength="144" lengthAdjust="spacingAndGlyphs"><tspan font-style="italic">n</tspan> = 108,202</text><path d="M1876.1,2124.5L2008,2098" stroke="#111" stroke-width="1.6"/><text x="2075.1" y="2075.7" font-size="26" text-anchor="middle" textLength="88" lengthAdjust="spacingAndGlyphs">Shared</text><text x="2075.1" y="2104.7" font-size="26" text-anchor="middle" textLength="88" lengthAdjust="spacingAndGlyphs">triplets</text><text x="2075.1" y="2133.6" font-size="26" text-anchor="middle" textLength="70" lengthAdjust="spacingAndGlyphs">3,555</text><text x="2075.1" y="2163.2" font-size="26" text-anchor="middle" textLength="77" lengthAdjust="spacingAndGlyphs">(3.3%)</text><text x="2" y="1375" font-size="40" font-weight="bold" stroke="#000" stroke-width="1.6">d</text><rect x="106" y="1361" width="755" height="645" fill="none" stroke="#555" stroke-width="1.5"/><path d="M92,1483H106" stroke="#444" stroke-width="1.3"/><text x="80" y="1491" font-size="22.5" text-anchor="end" textLength="31.5" lengthAdjust="spacingAndGlyphs">0.7</text><path d="M92,1644H106" stroke="#444" stroke-width="1.3"/><text x="80" y="1652" font-size="22.5" text-anchor="end" textLength="31.5" lengthAdjust="spacingAndGlyphs">0.5</text><path d="M92,1805H106" stroke="#444" stroke-width="1.3"/><text x="80" y="1813" font-size="22.5" text-anchor="end" textLength="31.5" lengthAdjust="spacingAndGlyphs">0.3</text><path d="M92,1966H106" stroke="#444" stroke-width="1.3"/><text x="80" y="1974" font-size="22.5" text-anchor="end" textLength="31.5" lengthAdjust="spacingAndGlyphs">0.1</text><path d="M254,2006V2019" stroke="#444" stroke-width="1.3"/><text x="254" y="2045" font-size="23" text-anchor="middle" textLength="25" lengthAdjust="spacingAndGlyphs">10</text><path d="M438,2006V2019" stroke="#444" stroke-width="1.3"/><text x="438" y="2045" font-size="23" text-anchor="middle" textLength="39.5" lengthAdjust="spacingAndGlyphs">100</text><path d="M622.5,2006V2019" stroke="#444" stroke-width="1.3"/><text x="622.5" y="2045" font-size="23" text-anchor="middle" textLength="61" lengthAdjust="spacingAndGlyphs">1,000</text><path d="M806.5,2006V2019" stroke="#444" stroke-width="1.3"/><text x="806.5" y="2045" font-size="23" text-anchor="middle" textLength="78.5" lengthAdjust="spacingAndGlyphs">10,000</text><text x="484" y="2083.5" font-size="28.7" text-anchor="middle" textLength="349" lengthAdjust="spacingAndGlyphs">Hi-C pairwise contact score</text><text x="484" y="2112.5" font-size="28.7" text-anchor="middle" textLength="249" lengthAdjust="spacingAndGlyphs">(ligation frequency)</text><text transform="translate(24.4,1685) rotate(-90)" font-size="28" text-anchor="middle" textLength="339.5" lengthAdjust="spacingAndGlyphs">GAM pairwise contacts (D′)</text><defs><linearGradient id="vir" x1="0" y1="1" x2="0" y2="0"><stop offset="0" stop-color="#3a2a57"/><stop offset="0.1" stop-color="#46286e"/><stop offset="0.22" stop-color="#433f87"/><stop offset="0.3" stop-color="#3b5890"/><stop offset="0.4" stop-color="#356d8e"/><stop offset="0.5" stop-color="#2f868b"/><stop offset="0.6" stop-color="#2f9f84"/><stop offset="0.7" stop-color="#49b877"/><stop offset="0.8" stop-color="#75c75c"/><stop offset="0.9" stop-color="#aad43e"/><stop offset="1" stop-color="#e4e431"/></linearGradient></defs><rect x="936.4" y="1363.7" width="32.8" height="646.1" fill="url(#vir)" stroke="#333" stroke-width="1.1"/><path d="M969.2,1383.3H981" stroke="#333" stroke-width="1.2"/><text x="993.3" y="1393.3" font-size="26" textLength="46" lengthAdjust="spacingAndGlyphs">100</text><path d="M969.2,1543.3H981" stroke="#333" stroke-width="1.2"/><text x="993.3" y="1553.3" font-size="26" textLength="32" lengthAdjust="spacingAndGlyphs">30</text><path d="M969.2,1683.7H981" stroke="#333" stroke-width="1.2"/><text x="993.3" y="1693.7" font-size="26" textLength="28.5" lengthAdjust="spacingAndGlyphs">10</text><path d="M969.2,1821.3H981" stroke="#333" stroke-width="1.2"/><text x="993.3" y="1831.3" font-size="26" textLength="15" lengthAdjust="spacingAndGlyphs">3</text><path d="M969.2,2009.1H981" stroke="#333" stroke-width="1.2"/><text x="993.3" y="2019.1" font-size="26" textLength="16.5" lengthAdjust="spacingAndGlyphs">0</text><text transform="translate(911.4,1663) rotate(-90)" font-size="28.7" text-anchor="middle" textLength="231" lengthAdjust="spacingAndGlyphs">Number of triplets</text><rect x="303.5" y="1720.5" width="319" height="42.5" fill="none" stroke="#111" stroke-width="2.2"/><path d="M303.5,1763L99,2126.5M622.5,1763L856.5,2126.5" stroke="#111" stroke-width="2.2" fill="none"/><text x="9" y="2102.5" font-size="40" font-weight="bold" stroke="#000" stroke-width="1.6">e</text><path d="M87,2126H99" stroke="#333" stroke-width="1.3"/><text x="78.5" y="2136.5" font-size="30" text-anchor="end" textLength="59.5" lengthAdjust="spacingAndGlyphs">0.40</text><path d="M87,2200H99" stroke="#333" stroke-width="1.3"/><text x="78.5" y="2210.5" font-size="30" text-anchor="end" textLength="59.5" lengthAdjust="spacingAndGlyphs">0.38</text><path d="M87,2273.5H99" stroke="#333" stroke-width="1.3"/><text x="78.5" y="2284" font-size="30" text-anchor="end" textLength="59.5" lengthAdjust="spacingAndGlyphs">0.36</text><path d="M99,2126V2310H856.5V2126" stroke="#222" stroke-width="1.6" fill="none"/><path d="M99,2126H856.5" stroke="#a0706a" stroke-width="1.2" fill="none"/><path d="M425,2310V2320" stroke="#333" stroke-width="1.3"/><text x="425" y="2355" font-size="30" text-anchor="middle" textLength="47.5" lengthAdjust="spacingAndGlyphs">100</text><path d="M856.5,2310V2320" stroke="#333" stroke-width="1.3"/><text x="856.5" y="2355" font-size="30" text-anchor="middle" textLength="74" lengthAdjust="spacingAndGlyphs">1,000</text></svg></body></html>
